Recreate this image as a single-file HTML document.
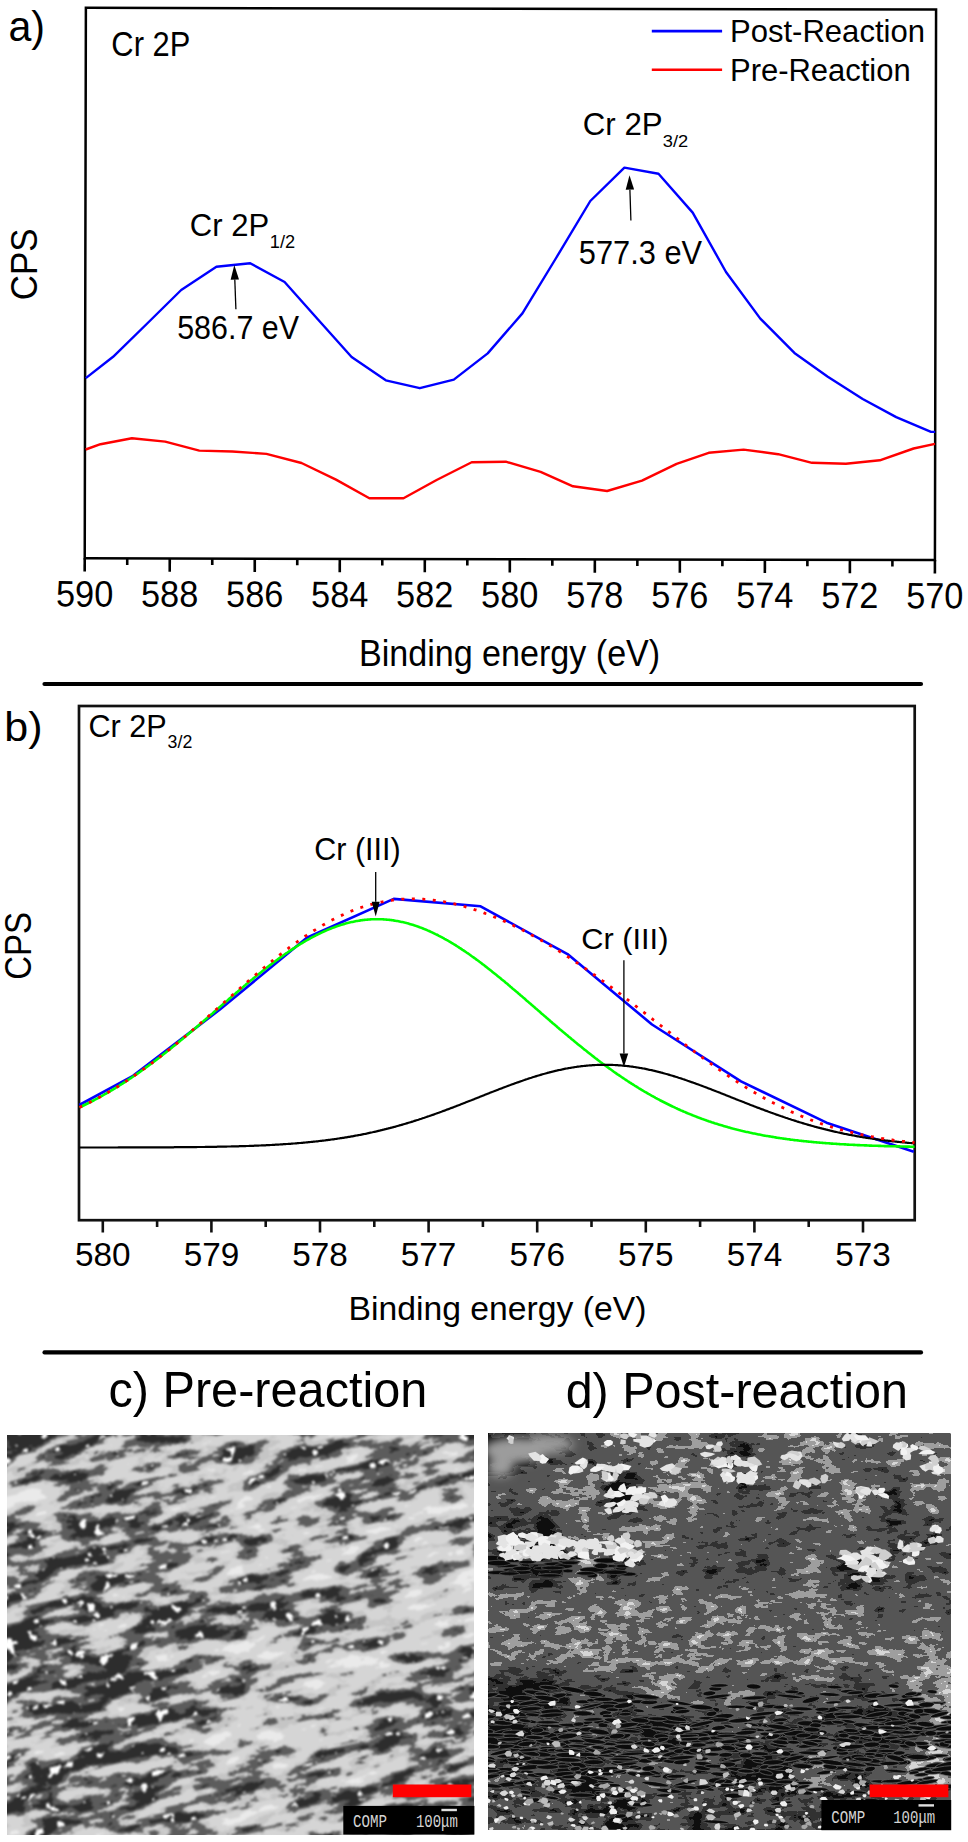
<!DOCTYPE html>
<html><head><meta charset="utf-8"><style>
html,body{margin:0;padding:0;background:#fff;}
body{width:968px;height:1842px;overflow:hidden;position:relative;}
svg{position:absolute;left:0;top:0;display:block;}
</style></head><body>
<svg style="position:absolute;left:6.8px;top:1435.2px" width="467.7" height="400.3" viewBox="0 0 467.7 400.3"><defs><filter id="fc" x="-134" y="-168" width="736" height="736" filterUnits="userSpaceOnUse" color-interpolation-filters="sRGB">
<feGaussianBlur in="SourceGraphic" stdDeviation="9" result="b"/>
<feTurbulence type="fractalNoise" baseFrequency="0.024 0.07" numOctaves="4" seed="11" result="t"/>
<feColorMatrix in="t" type="matrix" values="1 0 0 0 0 1 0 0 0 0 1 0 0 0 0 0 0 0 0 1" result="tg"/>
<feComposite in="b" in2="tg" operator="arithmetic" k1="0" k2="1" k3="1.6" k4="-0.8" result="v"/>
<feComponentTransfer in="v" result="q"><feFuncR type="discrete" tableValues="0.180 0.180 0.180 0.180 0.180 0.180 0.180 0.180 0.180 0.180 0.180 0.180 0.180 0.180 0.180 0.180 0.180 0.180 0.180 0.361 0.361 0.361 0.361 0.361 0.361 0.361 0.361 0.361 0.361 0.361 0.361 0.361 0.776 0.776 0.776 0.776 0.776 0.776 0.776 0.776 0.839 0.839 0.839 0.839 0.839 0.839 0.839 0.839 0.839 0.839 0.839 0.839 0.839 0.839 0.839 0.839 0.839 0.839 0.839 0.839 0.839 0.918 0.918 0.918"/><feFuncG type="discrete" tableValues="0.180 0.180 0.180 0.180 0.180 0.180 0.180 0.180 0.180 0.180 0.180 0.180 0.180 0.180 0.180 0.180 0.180 0.180 0.180 0.361 0.361 0.361 0.361 0.361 0.361 0.361 0.361 0.361 0.361 0.361 0.361 0.361 0.776 0.776 0.776 0.776 0.776 0.776 0.776 0.776 0.839 0.839 0.839 0.839 0.839 0.839 0.839 0.839 0.839 0.839 0.839 0.839 0.839 0.839 0.839 0.839 0.839 0.839 0.839 0.839 0.839 0.918 0.918 0.918"/><feFuncB type="discrete" tableValues="0.180 0.180 0.180 0.180 0.180 0.180 0.180 0.180 0.180 0.180 0.180 0.180 0.180 0.180 0.180 0.180 0.180 0.180 0.180 0.361 0.361 0.361 0.361 0.361 0.361 0.361 0.361 0.361 0.361 0.361 0.361 0.361 0.776 0.776 0.776 0.776 0.776 0.776 0.776 0.776 0.839 0.839 0.839 0.839 0.839 0.839 0.839 0.839 0.839 0.839 0.839 0.839 0.839 0.839 0.839 0.839 0.839 0.839 0.839 0.839 0.839 0.918 0.918 0.918"/><feFuncA type="linear" slope="0" intercept="1"/></feComponentTransfer>
<feComponentTransfer in="v" result="dm"><feFuncR type="discrete" tableValues="1 1 1 1 1 1 1 1 1 1 1 1 0 0 0 0 0 0 0 0 0 0 0 0 0 0 0 0 0 0 0 0 0 0 0 0 0 0 0 0"/><feFuncG type="discrete" tableValues="1 1 1 1 1 1 1 1 1 1 1 1 0 0 0 0 0 0 0 0 0 0 0 0 0 0 0 0 0 0 0 0 0 0 0 0 0 0 0 0"/><feFuncB type="discrete" tableValues="1 1 1 1 1 1 1 1 1 1 1 1 0 0 0 0 0 0 0 0 0 0 0 0 0 0 0 0 0 0 0 0 0 0 0 0 0 0 0 0"/><feFuncA type="linear" slope="0" intercept="1"/></feComponentTransfer><feTurbulence type="fractalNoise" baseFrequency="0.09" numOctaves="2" seed="18" result="t2"/><feColorMatrix in="t2" type="matrix" values="1 0 0 0 0 1 0 0 0 0 1 0 0 0 0 0 0 0 0 1" result="t2g"/><feComponentTransfer in="t2g" result="dd"><feFuncR type="discrete" tableValues="0 0 0 0 0 0 0 0 0 0 0 0 0 0 0 0 0 0 0 0 0 0 0 0 0 0 1 1 1 1 1 1 1 1 1 1 1 1 1 1"/><feFuncG type="discrete" tableValues="0 0 0 0 0 0 0 0 0 0 0 0 0 0 0 0 0 0 0 0 0 0 0 0 0 0 1 1 1 1 1 1 1 1 1 1 1 1 1 1"/><feFuncB type="discrete" tableValues="0 0 0 0 0 0 0 0 0 0 0 0 0 0 0 0 0 0 0 0 0 0 0 0 0 0 1 1 1 1 1 1 1 1 1 1 1 1 1 1"/></feComponentTransfer><feComposite in="dm" in2="dd" operator="arithmetic" k1="1" k2="0" k3="0" k4="0" result="wd"/><feComposite in="wd" in2="q" operator="arithmetic" k1="-1" k2="1.0" k3="1" k4="0" result="q2"/><feGaussianBlur stdDeviation="0.8"/>
</filter></defs><g transform="rotate(-12 233.8 200.2)" filter="url(#fc)"><rect x="6" y="-88" width="21" height="21" fill="rgb(59,59,59)"/><rect x="26" y="-88" width="21" height="21" fill="rgb(59,59,59)"/><rect x="46" y="-88" width="21" height="21" fill="rgb(59,59,59)"/><rect x="66" y="-88" width="21" height="21" fill="rgb(61,61,61)"/><rect x="6" y="-68" width="21" height="21" fill="rgb(59,59,59)"/><rect x="26" y="-68" width="21" height="21" fill="rgb(59,59,59)"/><rect x="46" y="-68" width="21" height="21" fill="rgb(59,59,59)"/><rect x="66" y="-68" width="21" height="21" fill="rgb(66,66,66)"/><rect x="86" y="-68" width="21" height="21" fill="rgb(88,88,88)"/><rect x="106" y="-68" width="21" height="21" fill="rgb(109,109,109)"/><rect x="126" y="-68" width="21" height="21" fill="rgb(131,131,131)"/><rect x="146" y="-68" width="21" height="21" fill="rgb(143,143,143)"/><rect x="6" y="-48" width="21" height="21" fill="rgb(59,59,59)"/><rect x="26" y="-48" width="21" height="21" fill="rgb(59,59,59)"/><rect x="46" y="-48" width="21" height="21" fill="rgb(59,59,59)"/><rect x="66" y="-48" width="21" height="21" fill="rgb(71,71,71)"/><rect x="86" y="-48" width="21" height="21" fill="rgb(92,92,92)"/><rect x="106" y="-48" width="21" height="21" fill="rgb(114,114,114)"/><rect x="126" y="-48" width="21" height="21" fill="rgb(135,135,135)"/><rect x="146" y="-48" width="21" height="21" fill="rgb(142,142,142)"/><rect x="166" y="-48" width="21" height="21" fill="rgb(136,136,136)"/><rect x="186" y="-48" width="21" height="21" fill="rgb(131,131,131)"/><rect x="206" y="-48" width="21" height="21" fill="rgb(125,125,125)"/><rect x="226" y="-48" width="21" height="21" fill="rgb(125,125,125)"/><rect x="246" y="-48" width="21" height="21" fill="rgb(129,129,129)"/><rect x="6" y="-28" width="21" height="21" fill="rgb(122,122,122)"/><rect x="26" y="-28" width="21" height="21" fill="rgb(101,101,101)"/><rect x="46" y="-28" width="21" height="21" fill="rgb(80,80,80)"/><rect x="66" y="-28" width="21" height="21" fill="rgb(75,75,75)"/><rect x="86" y="-28" width="21" height="21" fill="rgb(97,97,97)"/><rect x="106" y="-28" width="21" height="21" fill="rgb(118,118,118)"/><rect x="126" y="-28" width="21" height="21" fill="rgb(140,140,140)"/><rect x="146" y="-28" width="21" height="21" fill="rgb(141,141,141)"/><rect x="166" y="-28" width="21" height="21" fill="rgb(135,135,135)"/><rect x="186" y="-28" width="21" height="21" fill="rgb(129,129,129)"/><rect x="206" y="-28" width="21" height="21" fill="rgb(124,124,124)"/><rect x="226" y="-28" width="21" height="21" fill="rgb(126,126,126)"/><rect x="246" y="-28" width="21" height="21" fill="rgb(130,130,130)"/><rect x="266" y="-28" width="21" height="21" fill="rgb(141,141,141)"/><rect x="286" y="-28" width="21" height="21" fill="rgb(154,154,154)"/><rect x="306" y="-28" width="21" height="21" fill="rgb(117,117,117)"/><rect x="326" y="-28" width="21" height="21" fill="rgb(67,67,67)"/><rect x="346" y="-28" width="21" height="21" fill="rgb(110,110,110)"/><rect x="-14" y="-8" width="21" height="21" fill="rgb(243,243,243)"/><rect x="6" y="-8" width="21" height="21" fill="rgb(222,222,222)"/><rect x="26" y="-8" width="21" height="21" fill="rgb(201,201,201)"/><rect x="46" y="-8" width="21" height="21" fill="rgb(180,180,180)"/><rect x="66" y="-8" width="21" height="21" fill="rgb(134,134,134)"/><rect x="86" y="-8" width="21" height="21" fill="rgb(108,108,108)"/><rect x="106" y="-8" width="21" height="21" fill="rgb(120,120,120)"/><rect x="126" y="-8" width="21" height="21" fill="rgb(138,138,138)"/><rect x="146" y="-8" width="21" height="21" fill="rgb(138,138,138)"/><rect x="166" y="-8" width="21" height="21" fill="rgb(134,134,134)"/><rect x="186" y="-8" width="21" height="21" fill="rgb(128,128,128)"/><rect x="206" y="-8" width="21" height="21" fill="rgb(122,122,122)"/><rect x="226" y="-8" width="21" height="21" fill="rgb(126,126,126)"/><rect x="246" y="-8" width="21" height="21" fill="rgb(131,131,131)"/><rect x="266" y="-8" width="21" height="21" fill="rgb(143,143,143)"/><rect x="286" y="-8" width="21" height="21" fill="rgb(156,156,156)"/><rect x="306" y="-8" width="21" height="21" fill="rgb(106,106,106)"/><rect x="326" y="-8" width="21" height="21" fill="rgb(59,59,59)"/><rect x="346" y="-8" width="21" height="21" fill="rgb(124,124,124)"/><rect x="366" y="-8" width="21" height="21" fill="rgb(186,186,186)"/><rect x="386" y="-8" width="21" height="21" fill="rgb(130,130,130)"/><rect x="406" y="-8" width="21" height="21" fill="rgb(77,77,77)"/><rect x="426" y="-8" width="21" height="21" fill="rgb(106,106,106)"/><rect x="446" y="-8" width="21" height="21" fill="rgb(132,132,132)"/><rect x="-14" y="12" width="21" height="21" fill="rgb(183,183,183)"/><rect x="6" y="12" width="21" height="21" fill="rgb(204,204,204)"/><rect x="26" y="12" width="21" height="21" fill="rgb(226,226,226)"/><rect x="46" y="12" width="21" height="21" fill="rgb(236,236,236)"/><rect x="66" y="12" width="21" height="21" fill="rgb(174,174,174)"/><rect x="86" y="12" width="21" height="21" fill="rgb(115,115,115)"/><rect x="106" y="12" width="21" height="21" fill="rgb(116,116,116)"/><rect x="126" y="12" width="21" height="21" fill="rgb(122,122,122)"/><rect x="146" y="12" width="21" height="21" fill="rgb(128,128,128)"/><rect x="166" y="12" width="21" height="21" fill="rgb(131,131,131)"/><rect x="186" y="12" width="21" height="21" fill="rgb(131,131,131)"/><rect x="206" y="12" width="21" height="21" fill="rgb(129,129,129)"/><rect x="226" y="12" width="21" height="21" fill="rgb(134,134,134)"/><rect x="246" y="12" width="21" height="21" fill="rgb(135,135,135)"/><rect x="266" y="12" width="21" height="21" fill="rgb(146,146,146)"/><rect x="286" y="12" width="21" height="21" fill="rgb(145,145,145)"/><rect x="306" y="12" width="21" height="21" fill="rgb(96,96,96)"/><rect x="326" y="12" width="21" height="21" fill="rgb(73,73,73)"/><rect x="346" y="12" width="21" height="21" fill="rgb(138,138,138)"/><rect x="366" y="12" width="21" height="21" fill="rgb(174,174,174)"/><rect x="386" y="12" width="21" height="21" fill="rgb(118,118,118)"/><rect x="406" y="12" width="21" height="21" fill="rgb(83,83,83)"/><rect x="426" y="12" width="21" height="21" fill="rgb(112,112,112)"/><rect x="446" y="12" width="21" height="21" fill="rgb(125,125,125)"/><rect x="466" y="12" width="21" height="21" fill="rgb(91,91,91)"/><rect x="486" y="12" width="21" height="21" fill="rgb(67,67,67)"/><rect x="506" y="12" width="21" height="21" fill="rgb(67,67,67)"/><rect x="526" y="12" width="21" height="21" fill="rgb(67,67,67)"/><rect x="-14" y="32" width="21" height="21" fill="rgb(82,82,82)"/><rect x="6" y="32" width="21" height="21" fill="rgb(103,103,103)"/><rect x="26" y="32" width="21" height="21" fill="rgb(125,125,125)"/><rect x="46" y="32" width="21" height="21" fill="rgb(142,142,142)"/><rect x="66" y="32" width="21" height="21" fill="rgb(137,137,137)"/><rect x="86" y="32" width="21" height="21" fill="rgb(118,118,118)"/><rect x="106" y="32" width="21" height="21" fill="rgb(110,110,110)"/><rect x="126" y="32" width="21" height="21" fill="rgb(112,112,112)"/><rect x="146" y="32" width="21" height="21" fill="rgb(122,122,122)"/><rect x="166" y="32" width="21" height="21" fill="rgb(131,131,131)"/><rect x="186" y="32" width="21" height="21" fill="rgb(137,137,137)"/><rect x="206" y="32" width="21" height="21" fill="rgb(145,145,145)"/><rect x="226" y="32" width="21" height="21" fill="rgb(158,158,158)"/><rect x="246" y="32" width="21" height="21" fill="rgb(159,159,159)"/><rect x="266" y="32" width="21" height="21" fill="rgb(151,151,151)"/><rect x="286" y="32" width="21" height="21" fill="rgb(138,138,138)"/><rect x="306" y="32" width="21" height="21" fill="rgb(100,100,100)"/><rect x="326" y="32" width="21" height="21" fill="rgb(93,93,93)"/><rect x="346" y="32" width="21" height="21" fill="rgb(151,151,151)"/><rect x="366" y="32" width="21" height="21" fill="rgb(162,162,162)"/><rect x="386" y="32" width="21" height="21" fill="rgb(107,107,107)"/><rect x="406" y="32" width="21" height="21" fill="rgb(90,90,90)"/><rect x="426" y="32" width="21" height="21" fill="rgb(118,118,118)"/><rect x="446" y="32" width="21" height="21" fill="rgb(118,118,118)"/><rect x="466" y="32" width="21" height="21" fill="rgb(84,84,84)"/><rect x="486" y="32" width="21" height="21" fill="rgb(67,67,67)"/><rect x="506" y="32" width="21" height="21" fill="rgb(67,67,67)"/><rect x="526" y="32" width="21" height="21" fill="rgb(67,67,67)"/><rect x="-14" y="52" width="21" height="21" fill="rgb(75,75,75)"/><rect x="6" y="52" width="21" height="21" fill="rgb(70,70,70)"/><rect x="26" y="52" width="21" height="21" fill="rgb(65,65,65)"/><rect x="46" y="52" width="21" height="21" fill="rgb(81,81,81)"/><rect x="66" y="52" width="21" height="21" fill="rgb(118,118,118)"/><rect x="86" y="52" width="21" height="21" fill="rgb(119,119,119)"/><rect x="106" y="52" width="21" height="21" fill="rgb(105,105,105)"/><rect x="126" y="52" width="21" height="21" fill="rgb(108,108,108)"/><rect x="146" y="52" width="21" height="21" fill="rgb(120,120,120)"/><rect x="166" y="52" width="21" height="21" fill="rgb(123,123,123)"/><rect x="186" y="52" width="21" height="21" fill="rgb(125,125,125)"/><rect x="206" y="52" width="21" height="21" fill="rgb(143,143,143)"/><rect x="226" y="52" width="21" height="21" fill="rgb(171,171,171)"/><rect x="246" y="52" width="21" height="21" fill="rgb(173,173,173)"/><rect x="266" y="52" width="21" height="21" fill="rgb(150,150,150)"/><rect x="286" y="52" width="21" height="21" fill="rgb(142,142,142)"/><rect x="306" y="52" width="21" height="21" fill="rgb(131,131,131)"/><rect x="326" y="52" width="21" height="21" fill="rgb(126,126,126)"/><rect x="346" y="52" width="21" height="21" fill="rgb(143,143,143)"/><rect x="366" y="52" width="21" height="21" fill="rgb(137,137,137)"/><rect x="386" y="52" width="21" height="21" fill="rgb(102,102,102)"/><rect x="406" y="52" width="21" height="21" fill="rgb(101,101,101)"/><rect x="426" y="52" width="21" height="21" fill="rgb(125,125,125)"/><rect x="446" y="52" width="21" height="21" fill="rgb(110,110,110)"/><rect x="466" y="52" width="21" height="21" fill="rgb(77,77,77)"/><rect x="486" y="52" width="21" height="21" fill="rgb(67,67,67)"/><rect x="506" y="52" width="21" height="21" fill="rgb(67,67,67)"/><rect x="526" y="52" width="21" height="21" fill="rgb(67,67,67)"/><rect x="-14" y="72" width="21" height="21" fill="rgb(99,99,99)"/><rect x="6" y="72" width="21" height="21" fill="rgb(94,94,94)"/><rect x="26" y="72" width="21" height="21" fill="rgb(89,89,89)"/><rect x="46" y="72" width="21" height="21" fill="rgb(100,100,100)"/><rect x="66" y="72" width="21" height="21" fill="rgb(121,121,121)"/><rect x="86" y="72" width="21" height="21" fill="rgb(119,119,119)"/><rect x="106" y="72" width="21" height="21" fill="rgb(106,106,106)"/><rect x="126" y="72" width="21" height="21" fill="rgb(108,108,108)"/><rect x="146" y="72" width="21" height="21" fill="rgb(119,119,119)"/><rect x="166" y="72" width="21" height="21" fill="rgb(110,110,110)"/><rect x="186" y="72" width="21" height="21" fill="rgb(100,100,100)"/><rect x="206" y="72" width="21" height="21" fill="rgb(113,113,113)"/><rect x="226" y="72" width="21" height="21" fill="rgb(132,132,132)"/><rect x="246" y="72" width="21" height="21" fill="rgb(149,149,149)"/><rect x="266" y="72" width="21" height="21" fill="rgb(152,152,152)"/><rect x="286" y="72" width="21" height="21" fill="rgb(154,154,154)"/><rect x="306" y="72" width="21" height="21" fill="rgb(157,157,157)"/><rect x="326" y="72" width="21" height="21" fill="rgb(141,141,141)"/><rect x="346" y="72" width="21" height="21" fill="rgb(117,117,117)"/><rect x="366" y="72" width="21" height="21" fill="rgb(119,119,119)"/><rect x="386" y="72" width="21" height="21" fill="rgb(112,112,112)"/><rect x="406" y="72" width="21" height="21" fill="rgb(118,118,118)"/><rect x="426" y="72" width="21" height="21" fill="rgb(131,131,131)"/><rect x="446" y="72" width="21" height="21" fill="rgb(131,131,131)"/><rect x="466" y="72" width="21" height="21" fill="rgb(116,116,116)"/><rect x="486" y="72" width="21" height="21" fill="rgb(101,101,101)"/><rect x="506" y="72" width="21" height="21" fill="rgb(87,87,87)"/><rect x="526" y="72" width="21" height="21" fill="rgb(73,73,73)"/><rect x="-34" y="92" width="21" height="21" fill="rgb(112,112,112)"/><rect x="-14" y="92" width="21" height="21" fill="rgb(110,110,110)"/><rect x="6" y="92" width="21" height="21" fill="rgb(109,109,109)"/><rect x="26" y="92" width="21" height="21" fill="rgb(107,107,107)"/><rect x="46" y="92" width="21" height="21" fill="rgb(111,111,111)"/><rect x="66" y="92" width="21" height="21" fill="rgb(119,119,119)"/><rect x="86" y="92" width="21" height="21" fill="rgb(122,122,122)"/><rect x="106" y="92" width="21" height="21" fill="rgb(120,120,120)"/><rect x="126" y="92" width="21" height="21" fill="rgb(109,109,109)"/><rect x="146" y="92" width="21" height="21" fill="rgb(106,106,106)"/><rect x="166" y="92" width="21" height="21" fill="rgb(114,114,114)"/><rect x="186" y="92" width="21" height="21" fill="rgb(112,112,112)"/><rect x="206" y="92" width="21" height="21" fill="rgb(125,125,125)"/><rect x="226" y="92" width="21" height="21" fill="rgb(122,122,122)"/><rect x="246" y="92" width="21" height="21" fill="rgb(137,137,137)"/><rect x="266" y="92" width="21" height="21" fill="rgb(166,166,166)"/><rect x="286" y="92" width="21" height="21" fill="rgb(163,163,163)"/><rect x="306" y="92" width="21" height="21" fill="rgb(162,162,162)"/><rect x="326" y="92" width="21" height="21" fill="rgb(161,161,161)"/><rect x="346" y="92" width="21" height="21" fill="rgb(151,151,151)"/><rect x="366" y="92" width="21" height="21" fill="rgb(136,136,136)"/><rect x="386" y="92" width="21" height="21" fill="rgb(128,128,128)"/><rect x="406" y="92" width="21" height="21" fill="rgb(136,136,136)"/><rect x="426" y="92" width="21" height="21" fill="rgb(140,140,140)"/><rect x="446" y="92" width="21" height="21" fill="rgb(167,167,167)"/><rect x="466" y="92" width="21" height="21" fill="rgb(180,180,180)"/><rect x="486" y="92" width="21" height="21" fill="rgb(166,166,166)"/><rect x="506" y="92" width="21" height="21" fill="rgb(152,152,152)"/><rect x="-34" y="112" width="21" height="21" fill="rgb(118,118,118)"/><rect x="-14" y="112" width="21" height="21" fill="rgb(117,117,117)"/><rect x="6" y="112" width="21" height="21" fill="rgb(115,115,115)"/><rect x="26" y="112" width="21" height="21" fill="rgb(108,108,108)"/><rect x="46" y="112" width="21" height="21" fill="rgb(86,86,86)"/><rect x="66" y="112" width="21" height="21" fill="rgb(88,88,88)"/><rect x="86" y="112" width="21" height="21" fill="rgb(125,125,125)"/><rect x="106" y="112" width="21" height="21" fill="rgb(136,136,136)"/><rect x="126" y="112" width="21" height="21" fill="rgb(110,110,110)"/><rect x="146" y="112" width="21" height="21" fill="rgb(100,100,100)"/><rect x="166" y="112" width="21" height="21" fill="rgb(131,131,131)"/><rect x="186" y="112" width="21" height="21" fill="rgb(163,163,163)"/><rect x="206" y="112" width="21" height="21" fill="rgb(211,211,211)"/><rect x="226" y="112" width="21" height="21" fill="rgb(210,210,210)"/><rect x="246" y="112" width="21" height="21" fill="rgb(142,142,142)"/><rect x="266" y="112" width="21" height="21" fill="rgb(124,124,124)"/><rect x="286" y="112" width="21" height="21" fill="rgb(146,146,146)"/><rect x="306" y="112" width="21" height="21" fill="rgb(164,164,164)"/><rect x="326" y="112" width="21" height="21" fill="rgb(184,184,184)"/><rect x="346" y="112" width="21" height="21" fill="rgb(183,183,183)"/><rect x="366" y="112" width="21" height="21" fill="rgb(155,155,155)"/><rect x="386" y="112" width="21" height="21" fill="rgb(147,147,147)"/><rect x="406" y="112" width="21" height="21" fill="rgb(169,169,169)"/><rect x="426" y="112" width="21" height="21" fill="rgb(175,175,175)"/><rect x="446" y="112" width="21" height="21" fill="rgb(167,167,167)"/><rect x="466" y="112" width="21" height="21" fill="rgb(174,174,174)"/><rect x="486" y="112" width="21" height="21" fill="rgb(182,182,182)"/><rect x="506" y="112" width="21" height="21" fill="rgb(190,190,190)"/><rect x="-34" y="132" width="21" height="21" fill="rgb(90,90,90)"/><rect x="-14" y="132" width="21" height="21" fill="rgb(97,97,97)"/><rect x="6" y="132" width="21" height="21" fill="rgb(104,104,104)"/><rect x="26" y="132" width="21" height="21" fill="rgb(97,97,97)"/><rect x="46" y="132" width="21" height="21" fill="rgb(52,52,52)"/><rect x="66" y="132" width="21" height="21" fill="rgb(68,68,68)"/><rect x="86" y="132" width="21" height="21" fill="rgb(140,140,140)"/><rect x="106" y="132" width="21" height="21" fill="rgb(159,159,159)"/><rect x="126" y="132" width="21" height="21" fill="rgb(130,130,130)"/><rect x="146" y="132" width="21" height="21" fill="rgb(105,105,105)"/><rect x="166" y="132" width="21" height="21" fill="rgb(99,99,99)"/><rect x="186" y="132" width="21" height="21" fill="rgb(143,143,143)"/><rect x="206" y="132" width="21" height="21" fill="rgb(232,232,232)"/><rect x="226" y="132" width="21" height="21" fill="rgb(236,236,236)"/><rect x="246" y="132" width="21" height="21" fill="rgb(110,110,110)"/><rect x="266" y="132" width="21" height="21" fill="rgb(73,73,73)"/><rect x="286" y="132" width="21" height="21" fill="rgb(116,116,116)"/><rect x="306" y="132" width="21" height="21" fill="rgb(156,156,156)"/><rect x="326" y="132" width="21" height="21" fill="rgb(194,194,194)"/><rect x="346" y="132" width="21" height="21" fill="rgb(177,177,177)"/><rect x="366" y="132" width="21" height="21" fill="rgb(125,125,125)"/><rect x="386" y="132" width="21" height="21" fill="rgb(136,136,136)"/><rect x="406" y="132" width="21" height="21" fill="rgb(188,188,188)"/><rect x="426" y="132" width="21" height="21" fill="rgb(190,190,190)"/><rect x="446" y="132" width="21" height="21" fill="rgb(148,148,148)"/><rect x="466" y="132" width="21" height="21" fill="rgb(138,138,138)"/><rect x="486" y="132" width="21" height="21" fill="rgb(145,145,145)"/><rect x="506" y="132" width="21" height="21" fill="rgb(153,153,153)"/><rect x="-34" y="152" width="21" height="21" fill="rgb(57,57,57)"/><rect x="-14" y="152" width="21" height="21" fill="rgb(64,64,64)"/><rect x="6" y="152" width="21" height="21" fill="rgb(71,71,71)"/><rect x="26" y="152" width="21" height="21" fill="rgb(99,99,99)"/><rect x="46" y="152" width="21" height="21" fill="rgb(114,114,114)"/><rect x="66" y="152" width="21" height="21" fill="rgb(112,112,112)"/><rect x="86" y="152" width="21" height="21" fill="rgb(138,138,138)"/><rect x="106" y="152" width="21" height="21" fill="rgb(150,150,150)"/><rect x="126" y="152" width="21" height="21" fill="rgb(139,139,139)"/><rect x="146" y="152" width="21" height="21" fill="rgb(88,88,88)"/><rect x="166" y="152" width="21" height="21" fill="rgb(34,34,34)"/><rect x="186" y="152" width="21" height="21" fill="rgb(53,53,53)"/><rect x="206" y="152" width="21" height="21" fill="rgb(110,110,110)"/><rect x="226" y="152" width="21" height="21" fill="rgb(127,127,127)"/><rect x="246" y="152" width="21" height="21" fill="rgb(89,89,89)"/><rect x="266" y="152" width="21" height="21" fill="rgb(88,88,88)"/><rect x="286" y="152" width="21" height="21" fill="rgb(117,117,117)"/><rect x="306" y="152" width="21" height="21" fill="rgb(147,147,147)"/><rect x="326" y="152" width="21" height="21" fill="rgb(201,201,201)"/><rect x="346" y="152" width="21" height="21" fill="rgb(151,151,151)"/><rect x="366" y="152" width="21" height="21" fill="rgb(63,63,63)"/><rect x="386" y="152" width="21" height="21" fill="rgb(96,96,96)"/><rect x="406" y="152" width="21" height="21" fill="rgb(163,163,163)"/><rect x="426" y="152" width="21" height="21" fill="rgb(178,178,178)"/><rect x="446" y="152" width="21" height="21" fill="rgb(164,164,164)"/><rect x="466" y="152" width="21" height="21" fill="rgb(151,151,151)"/><rect x="486" y="152" width="21" height="21" fill="rgb(143,143,143)"/><rect x="506" y="152" width="21" height="21" fill="rgb(134,134,134)"/><rect x="-34" y="172" width="21" height="21" fill="rgb(62,62,62)"/><rect x="-14" y="172" width="21" height="21" fill="rgb(59,59,59)"/><rect x="6" y="172" width="21" height="21" fill="rgb(57,57,57)"/><rect x="26" y="172" width="21" height="21" fill="rgb(117,117,117)"/><rect x="46" y="172" width="21" height="21" fill="rgb(202,202,202)"/><rect x="66" y="172" width="21" height="21" fill="rgb(138,138,138)"/><rect x="86" y="172" width="21" height="21" fill="rgb(89,89,89)"/><rect x="106" y="172" width="21" height="21" fill="rgb(100,100,100)"/><rect x="126" y="172" width="21" height="21" fill="rgb(107,107,107)"/><rect x="146" y="172" width="21" height="21" fill="rgb(103,103,103)"/><rect x="166" y="172" width="21" height="21" fill="rgb(73,73,73)"/><rect x="186" y="172" width="21" height="21" fill="rgb(59,59,59)"/><rect x="206" y="172" width="21" height="21" fill="rgb(50,50,50)"/><rect x="226" y="172" width="21" height="21" fill="rgb(74,74,74)"/><rect x="246" y="172" width="21" height="21" fill="rgb(108,108,108)"/><rect x="266" y="172" width="21" height="21" fill="rgb(120,120,120)"/><rect x="286" y="172" width="21" height="21" fill="rgb(136,136,136)"/><rect x="306" y="172" width="21" height="21" fill="rgb(99,99,99)"/><rect x="326" y="172" width="21" height="21" fill="rgb(86,86,86)"/><rect x="346" y="172" width="21" height="21" fill="rgb(96,96,96)"/><rect x="366" y="172" width="21" height="21" fill="rgb(65,65,65)"/><rect x="386" y="172" width="21" height="21" fill="rgb(111,111,111)"/><rect x="406" y="172" width="21" height="21" fill="rgb(165,165,165)"/><rect x="426" y="172" width="21" height="21" fill="rgb(181,181,181)"/><rect x="446" y="172" width="21" height="21" fill="rgb(201,201,201)"/><rect x="466" y="172" width="21" height="21" fill="rgb(193,193,193)"/><rect x="486" y="172" width="21" height="21" fill="rgb(184,184,184)"/><rect x="506" y="172" width="21" height="21" fill="rgb(175,175,175)"/><rect x="-54" y="192" width="21" height="21" fill="rgb(77,77,77)"/><rect x="-34" y="192" width="21" height="21" fill="rgb(74,74,74)"/><rect x="-14" y="192" width="21" height="21" fill="rgb(72,72,72)"/><rect x="6" y="192" width="21" height="21" fill="rgb(70,70,70)"/><rect x="26" y="192" width="21" height="21" fill="rgb(87,87,87)"/><rect x="46" y="192" width="21" height="21" fill="rgb(120,120,120)"/><rect x="66" y="192" width="21" height="21" fill="rgb(93,93,93)"/><rect x="86" y="192" width="21" height="21" fill="rgb(56,56,56)"/><rect x="106" y="192" width="21" height="21" fill="rgb(75,75,75)"/><rect x="126" y="192" width="21" height="21" fill="rgb(94,94,94)"/><rect x="146" y="192" width="21" height="21" fill="rgb(146,146,146)"/><rect x="166" y="192" width="21" height="21" fill="rgb(171,171,171)"/><rect x="186" y="192" width="21" height="21" fill="rgb(158,158,158)"/><rect x="206" y="192" width="21" height="21" fill="rgb(150,150,150)"/><rect x="226" y="192" width="21" height="21" fill="rgb(170,170,170)"/><rect x="246" y="192" width="21" height="21" fill="rgb(182,182,182)"/><rect x="266" y="192" width="21" height="21" fill="rgb(140,140,140)"/><rect x="286" y="192" width="21" height="21" fill="rgb(119,119,119)"/><rect x="306" y="192" width="21" height="21" fill="rgb(56,56,56)"/><rect x="326" y="192" width="21" height="21" fill="rgb(0,0,0)"/><rect x="346" y="192" width="21" height="21" fill="rgb(77,77,77)"/><rect x="366" y="192" width="21" height="21" fill="rgb(141,141,141)"/><rect x="386" y="192" width="21" height="21" fill="rgb(186,186,186)"/><rect x="406" y="192" width="21" height="21" fill="rgb(222,222,222)"/><rect x="426" y="192" width="21" height="21" fill="rgb(203,203,203)"/><rect x="446" y="192" width="21" height="21" fill="rgb(199,199,199)"/><rect x="466" y="192" width="21" height="21" fill="rgb(202,202,202)"/><rect x="486" y="192" width="21" height="21" fill="rgb(204,204,204)"/><rect x="-54" y="212" width="21" height="21" fill="rgb(146,146,146)"/><rect x="-34" y="212" width="21" height="21" fill="rgb(131,131,131)"/><rect x="-14" y="212" width="21" height="21" fill="rgb(117,117,117)"/><rect x="6" y="212" width="21" height="21" fill="rgb(93,93,93)"/><rect x="26" y="212" width="21" height="21" fill="rgb(51,51,51)"/><rect x="46" y="212" width="21" height="21" fill="rgb(33,33,33)"/><rect x="66" y="212" width="21" height="21" fill="rgb(50,50,50)"/><rect x="86" y="212" width="21" height="21" fill="rgb(61,61,61)"/><rect x="106" y="212" width="21" height="21" fill="rgb(91,91,91)"/><rect x="126" y="212" width="21" height="21" fill="rgb(109,109,109)"/><rect x="146" y="212" width="21" height="21" fill="rgb(125,125,125)"/><rect x="166" y="212" width="21" height="21" fill="rgb(153,153,153)"/><rect x="186" y="212" width="21" height="21" fill="rgb(173,173,173)"/><rect x="206" y="212" width="21" height="21" fill="rgb(202,202,202)"/><rect x="226" y="212" width="21" height="21" fill="rgb(252,252,252)"/><rect x="246" y="212" width="21" height="21" fill="rgb(233,233,233)"/><rect x="266" y="212" width="21" height="21" fill="rgb(135,135,135)"/><rect x="286" y="212" width="21" height="21" fill="rgb(104,104,104)"/><rect x="306" y="212" width="21" height="21" fill="rgb(130,130,130)"/><rect x="326" y="212" width="21" height="21" fill="rgb(126,126,126)"/><rect x="346" y="212" width="21" height="21" fill="rgb(143,143,143)"/><rect x="366" y="212" width="21" height="21" fill="rgb(177,177,177)"/><rect x="386" y="212" width="21" height="21" fill="rgb(215,215,215)"/><rect x="406" y="212" width="21" height="21" fill="rgb(240,240,240)"/><rect x="426" y="212" width="21" height="21" fill="rgb(210,210,210)"/><rect x="446" y="212" width="21" height="21" fill="rgb(187,187,187)"/><rect x="466" y="212" width="21" height="21" fill="rgb(190,190,190)"/><rect x="486" y="212" width="21" height="21" fill="rgb(192,192,192)"/><rect x="-54" y="232" width="21" height="21" fill="rgb(216,216,216)"/><rect x="-34" y="232" width="21" height="21" fill="rgb(201,201,201)"/><rect x="-14" y="232" width="21" height="21" fill="rgb(187,187,187)"/><rect x="6" y="232" width="21" height="21" fill="rgb(154,154,154)"/><rect x="26" y="232" width="21" height="21" fill="rgb(106,106,106)"/><rect x="46" y="232" width="21" height="21" fill="rgb(74,74,74)"/><rect x="66" y="232" width="21" height="21" fill="rgb(62,62,62)"/><rect x="86" y="232" width="21" height="21" fill="rgb(73,73,73)"/><rect x="106" y="232" width="21" height="21" fill="rgb(105,105,105)"/><rect x="126" y="232" width="21" height="21" fill="rgb(106,106,106)"/><rect x="146" y="232" width="21" height="21" fill="rgb(80,80,80)"/><rect x="166" y="232" width="21" height="21" fill="rgb(83,83,83)"/><rect x="186" y="232" width="21" height="21" fill="rgb(101,101,101)"/><rect x="206" y="232" width="21" height="21" fill="rgb(124,124,124)"/><rect x="226" y="232" width="21" height="21" fill="rgb(155,155,155)"/><rect x="246" y="232" width="21" height="21" fill="rgb(172,172,172)"/><rect x="266" y="232" width="21" height="21" fill="rgb(140,140,140)"/><rect x="286" y="232" width="21" height="21" fill="rgb(140,140,140)"/><rect x="306" y="232" width="21" height="21" fill="rgb(213,213,213)"/><rect x="326" y="232" width="21" height="21" fill="rgb(241,241,241)"/><rect x="346" y="232" width="21" height="21" fill="rgb(196,196,196)"/><rect x="366" y="232" width="21" height="21" fill="rgb(171,171,171)"/><rect x="386" y="232" width="21" height="21" fill="rgb(163,163,163)"/><rect x="406" y="232" width="21" height="21" fill="rgb(171,171,171)"/><rect x="426" y="232" width="21" height="21" fill="rgb(170,170,170)"/><rect x="446" y="232" width="21" height="21" fill="rgb(168,168,168)"/><rect x="466" y="232" width="21" height="21" fill="rgb(173,173,173)"/><rect x="486" y="232" width="21" height="21" fill="rgb(177,177,177)"/><rect x="-54" y="252" width="21" height="21" fill="rgb(139,139,139)"/><rect x="-34" y="252" width="21" height="21" fill="rgb(157,157,157)"/><rect x="-14" y="252" width="21" height="21" fill="rgb(176,176,176)"/><rect x="6" y="252" width="21" height="21" fill="rgb(174,174,174)"/><rect x="26" y="252" width="21" height="21" fill="rgb(150,150,150)"/><rect x="46" y="252" width="21" height="21" fill="rgb(115,115,115)"/><rect x="66" y="252" width="21" height="21" fill="rgb(84,84,84)"/><rect x="86" y="252" width="21" height="21" fill="rgb(85,85,85)"/><rect x="106" y="252" width="21" height="21" fill="rgb(103,103,103)"/><rect x="126" y="252" width="21" height="21" fill="rgb(107,107,107)"/><rect x="146" y="252" width="21" height="21" fill="rgb(95,95,95)"/><rect x="166" y="252" width="21" height="21" fill="rgb(101,101,101)"/><rect x="186" y="252" width="21" height="21" fill="rgb(102,102,102)"/><rect x="206" y="252" width="21" height="21" fill="rgb(80,80,80)"/><rect x="226" y="252" width="21" height="21" fill="rgb(54,54,54)"/><rect x="246" y="252" width="21" height="21" fill="rgb(132,132,132)"/><rect x="266" y="252" width="21" height="21" fill="rgb(194,194,194)"/><rect x="286" y="252" width="21" height="21" fill="rgb(180,180,180)"/><rect x="306" y="252" width="21" height="21" fill="rgb(180,180,180)"/><rect x="326" y="252" width="21" height="21" fill="rgb(188,188,188)"/><rect x="346" y="252" width="21" height="21" fill="rgb(183,183,183)"/><rect x="366" y="252" width="21" height="21" fill="rgb(154,154,154)"/><rect x="386" y="252" width="21" height="21" fill="rgb(117,117,117)"/><rect x="406" y="252" width="21" height="21" fill="rgb(121,121,121)"/><rect x="426" y="252" width="21" height="21" fill="rgb(140,140,140)"/><rect x="446" y="252" width="21" height="21" fill="rgb(148,148,148)"/><rect x="466" y="252" width="21" height="21" fill="rgb(152,152,152)"/><rect x="486" y="252" width="21" height="21" fill="rgb(156,156,156)"/><rect x="-54" y="272" width="21" height="21" fill="rgb(54,54,54)"/><rect x="-34" y="272" width="21" height="21" fill="rgb(72,72,72)"/><rect x="-14" y="272" width="21" height="21" fill="rgb(90,90,90)"/><rect x="6" y="272" width="21" height="21" fill="rgb(120,120,120)"/><rect x="26" y="272" width="21" height="21" fill="rgb(134,134,134)"/><rect x="46" y="272" width="21" height="21" fill="rgb(112,112,112)"/><rect x="66" y="272" width="21" height="21" fill="rgb(86,86,86)"/><rect x="86" y="272" width="21" height="21" fill="rgb(87,87,87)"/><rect x="106" y="272" width="21" height="21" fill="rgb(93,93,93)"/><rect x="126" y="272" width="21" height="21" fill="rgb(117,117,117)"/><rect x="146" y="272" width="21" height="21" fill="rgb(132,132,132)"/><rect x="166" y="272" width="21" height="21" fill="rgb(175,175,175)"/><rect x="186" y="272" width="21" height="21" fill="rgb(205,205,205)"/><rect x="206" y="272" width="21" height="21" fill="rgb(176,176,176)"/><rect x="226" y="272" width="21" height="21" fill="rgb(148,148,148)"/><rect x="246" y="272" width="21" height="21" fill="rgb(166,166,166)"/><rect x="266" y="272" width="21" height="21" fill="rgb(215,215,215)"/><rect x="286" y="272" width="21" height="21" fill="rgb(178,178,178)"/><rect x="306" y="272" width="21" height="21" fill="rgb(128,128,128)"/><rect x="326" y="272" width="21" height="21" fill="rgb(147,147,147)"/><rect x="346" y="272" width="21" height="21" fill="rgb(167,167,167)"/><rect x="366" y="272" width="21" height="21" fill="rgb(140,140,140)"/><rect x="386" y="272" width="21" height="21" fill="rgb(110,110,110)"/><rect x="406" y="272" width="21" height="21" fill="rgb(110,110,110)"/><rect x="426" y="272" width="21" height="21" fill="rgb(115,115,115)"/><rect x="446" y="272" width="21" height="21" fill="rgb(121,121,121)"/><rect x="466" y="272" width="21" height="21" fill="rgb(127,127,127)"/><rect x="486" y="272" width="21" height="21" fill="rgb(133,133,133)"/><rect x="-74" y="292" width="21" height="21" fill="rgb(82,82,82)"/><rect x="-54" y="292" width="21" height="21" fill="rgb(75,75,75)"/><rect x="-34" y="292" width="21" height="21" fill="rgb(68,68,68)"/><rect x="-14" y="292" width="21" height="21" fill="rgb(65,65,65)"/><rect x="6" y="292" width="21" height="21" fill="rgb(92,92,92)"/><rect x="26" y="292" width="21" height="21" fill="rgb(123,123,123)"/><rect x="46" y="292" width="21" height="21" fill="rgb(105,105,105)"/><rect x="66" y="292" width="21" height="21" fill="rgb(86,86,86)"/><rect x="86" y="292" width="21" height="21" fill="rgb(78,78,78)"/><rect x="106" y="292" width="21" height="21" fill="rgb(81,81,81)"/><rect x="126" y="292" width="21" height="21" fill="rgb(115,115,115)"/><rect x="146" y="292" width="21" height="21" fill="rgb(144,144,144)"/><rect x="166" y="292" width="21" height="21" fill="rgb(176,176,176)"/><rect x="186" y="292" width="21" height="21" fill="rgb(224,224,224)"/><rect x="206" y="292" width="21" height="21" fill="rgb(239,239,239)"/><rect x="226" y="292" width="21" height="21" fill="rgb(233,233,233)"/><rect x="246" y="292" width="21" height="21" fill="rgb(185,185,185)"/><rect x="266" y="292" width="21" height="21" fill="rgb(168,168,168)"/><rect x="286" y="292" width="21" height="21" fill="rgb(158,158,158)"/><rect x="306" y="292" width="21" height="21" fill="rgb(143,143,143)"/><rect x="326" y="292" width="21" height="21" fill="rgb(150,150,150)"/><rect x="346" y="292" width="21" height="21" fill="rgb(155,155,155)"/><rect x="366" y="292" width="21" height="21" fill="rgb(133,133,133)"/><rect x="386" y="292" width="21" height="21" fill="rgb(111,111,111)"/><rect x="406" y="292" width="21" height="21" fill="rgb(95,95,95)"/><rect x="426" y="292" width="21" height="21" fill="rgb(87,87,87)"/><rect x="446" y="292" width="21" height="21" fill="rgb(93,93,93)"/><rect x="466" y="292" width="21" height="21" fill="rgb(99,99,99)"/><rect x="-74" y="312" width="21" height="21" fill="rgb(113,113,113)"/><rect x="-54" y="312" width="21" height="21" fill="rgb(108,108,108)"/><rect x="-34" y="312" width="21" height="21" fill="rgb(101,101,101)"/><rect x="-14" y="312" width="21" height="21" fill="rgb(92,92,92)"/><rect x="6" y="312" width="21" height="21" fill="rgb(91,91,91)"/><rect x="26" y="312" width="21" height="21" fill="rgb(106,106,106)"/><rect x="46" y="312" width="21" height="21" fill="rgb(122,122,122)"/><rect x="66" y="312" width="21" height="21" fill="rgb(111,111,111)"/><rect x="86" y="312" width="21" height="21" fill="rgb(81,81,81)"/><rect x="106" y="312" width="21" height="21" fill="rgb(79,79,79)"/><rect x="126" y="312" width="21" height="21" fill="rgb(117,117,117)"/><rect x="146" y="312" width="21" height="21" fill="rgb(127,127,127)"/><rect x="166" y="312" width="21" height="21" fill="rgb(107,107,107)"/><rect x="186" y="312" width="21" height="21" fill="rgb(124,124,124)"/><rect x="206" y="312" width="21" height="21" fill="rgb(160,160,160)"/><rect x="226" y="312" width="21" height="21" fill="rgb(176,176,176)"/><rect x="246" y="312" width="21" height="21" fill="rgb(165,165,165)"/><rect x="266" y="312" width="21" height="21" fill="rgb(150,150,150)"/><rect x="286" y="312" width="21" height="21" fill="rgb(147,147,147)"/><rect x="306" y="312" width="21" height="21" fill="rgb(151,151,151)"/><rect x="326" y="312" width="21" height="21" fill="rgb(152,152,152)"/><rect x="346" y="312" width="21" height="21" fill="rgb(148,148,148)"/><rect x="366" y="312" width="21" height="21" fill="rgb(134,134,134)"/><rect x="386" y="312" width="21" height="21" fill="rgb(117,117,117)"/><rect x="406" y="312" width="21" height="21" fill="rgb(101,101,101)"/><rect x="426" y="312" width="21" height="21" fill="rgb(92,92,92)"/><rect x="446" y="312" width="21" height="21" fill="rgb(90,90,90)"/><rect x="466" y="312" width="21" height="21" fill="rgb(88,88,88)"/><rect x="-74" y="332" width="21" height="21" fill="rgb(113,113,113)"/><rect x="-54" y="332" width="21" height="21" fill="rgb(113,113,113)"/><rect x="-34" y="332" width="21" height="21" fill="rgb(113,113,113)"/><rect x="-14" y="332" width="21" height="21" fill="rgb(100,100,100)"/><rect x="6" y="332" width="21" height="21" fill="rgb(79,79,79)"/><rect x="26" y="332" width="21" height="21" fill="rgb(106,106,106)"/><rect x="46" y="332" width="21" height="21" fill="rgb(160,160,160)"/><rect x="66" y="332" width="21" height="21" fill="rgb(147,147,147)"/><rect x="86" y="332" width="21" height="21" fill="rgb(102,102,102)"/><rect x="106" y="332" width="21" height="21" fill="rgb(99,99,99)"/><rect x="126" y="332" width="21" height="21" fill="rgb(124,124,124)"/><rect x="146" y="332" width="21" height="21" fill="rgb(118,118,118)"/><rect x="166" y="332" width="21" height="21" fill="rgb(82,82,82)"/><rect x="186" y="332" width="21" height="21" fill="rgb(80,80,80)"/><rect x="206" y="332" width="21" height="21" fill="rgb(105,105,105)"/><rect x="226" y="332" width="21" height="21" fill="rgb(130,130,130)"/><rect x="246" y="332" width="21" height="21" fill="rgb(151,151,151)"/><rect x="266" y="332" width="21" height="21" fill="rgb(143,143,143)"/><rect x="286" y="332" width="21" height="21" fill="rgb(130,130,130)"/><rect x="306" y="332" width="21" height="21" fill="rgb(141,141,141)"/><rect x="326" y="332" width="21" height="21" fill="rgb(157,157,157)"/><rect x="346" y="332" width="21" height="21" fill="rgb(145,145,145)"/><rect x="366" y="332" width="21" height="21" fill="rgb(126,126,126)"/><rect x="386" y="332" width="21" height="21" fill="rgb(117,117,117)"/><rect x="406" y="332" width="21" height="21" fill="rgb(107,107,107)"/><rect x="426" y="332" width="21" height="21" fill="rgb(100,100,100)"/><rect x="446" y="332" width="21" height="21" fill="rgb(99,99,99)"/><rect x="466" y="332" width="21" height="21" fill="rgb(97,97,97)"/><rect x="-74" y="352" width="21" height="21" fill="rgb(113,113,113)"/><rect x="-54" y="352" width="21" height="21" fill="rgb(113,113,113)"/><rect x="-34" y="352" width="21" height="21" fill="rgb(113,113,113)"/><rect x="-14" y="352" width="21" height="21" fill="rgb(96,96,96)"/><rect x="6" y="352" width="21" height="21" fill="rgb(75,75,75)"/><rect x="26" y="352" width="21" height="21" fill="rgb(119,119,119)"/><rect x="46" y="352" width="21" height="21" fill="rgb(180,180,180)"/><rect x="66" y="352" width="21" height="21" fill="rgb(154,154,154)"/><rect x="86" y="352" width="21" height="21" fill="rgb(108,108,108)"/><rect x="106" y="352" width="21" height="21" fill="rgb(112,112,112)"/><rect x="126" y="352" width="21" height="21" fill="rgb(127,127,127)"/><rect x="146" y="352" width="21" height="21" fill="rgb(125,125,125)"/><rect x="166" y="352" width="21" height="21" fill="rgb(111,111,111)"/><rect x="186" y="352" width="21" height="21" fill="rgb(125,125,125)"/><rect x="206" y="352" width="21" height="21" fill="rgb(148,148,148)"/><rect x="226" y="352" width="21" height="21" fill="rgb(148,148,148)"/><rect x="246" y="352" width="21" height="21" fill="rgb(152,152,152)"/><rect x="266" y="352" width="21" height="21" fill="rgb(138,138,138)"/><rect x="286" y="352" width="21" height="21" fill="rgb(117,117,117)"/><rect x="306" y="352" width="21" height="21" fill="rgb(137,137,137)"/><rect x="326" y="352" width="21" height="21" fill="rgb(170,170,170)"/><rect x="346" y="352" width="21" height="21" fill="rgb(137,137,137)"/><rect x="366" y="352" width="21" height="21" fill="rgb(101,101,101)"/><rect x="386" y="352" width="21" height="21" fill="rgb(102,102,102)"/><rect x="406" y="352" width="21" height="21" fill="rgb(104,104,104)"/><rect x="426" y="352" width="21" height="21" fill="rgb(104,104,104)"/><rect x="446" y="352" width="21" height="21" fill="rgb(103,103,103)"/><rect x="466" y="352" width="21" height="21" fill="rgb(103,103,103)"/><rect x="-74" y="372" width="21" height="21" fill="rgb(113,113,113)"/><rect x="-54" y="372" width="21" height="21" fill="rgb(113,113,113)"/><rect x="-34" y="372" width="21" height="21" fill="rgb(112,112,112)"/><rect x="-14" y="372" width="21" height="21" fill="rgb(91,91,91)"/><rect x="6" y="372" width="21" height="21" fill="rgb(71,71,71)"/><rect x="26" y="372" width="21" height="21" fill="rgb(132,132,132)"/><rect x="46" y="372" width="21" height="21" fill="rgb(190,190,190)"/><rect x="66" y="372" width="21" height="21" fill="rgb(144,144,144)"/><rect x="86" y="372" width="21" height="21" fill="rgb(100,100,100)"/><rect x="106" y="372" width="21" height="21" fill="rgb(115,115,115)"/><rect x="126" y="372" width="21" height="21" fill="rgb(130,130,130)"/><rect x="146" y="372" width="21" height="21" fill="rgb(129,129,129)"/><rect x="166" y="372" width="21" height="21" fill="rgb(129,129,129)"/><rect x="186" y="372" width="21" height="21" fill="rgb(157,157,157)"/><rect x="206" y="372" width="21" height="21" fill="rgb(183,183,183)"/><rect x="226" y="372" width="21" height="21" fill="rgb(163,163,163)"/><rect x="246" y="372" width="21" height="21" fill="rgb(149,149,149)"/><rect x="266" y="372" width="21" height="21" fill="rgb(140,140,140)"/><rect x="286" y="372" width="21" height="21" fill="rgb(128,128,128)"/><rect x="306" y="372" width="21" height="21" fill="rgb(131,131,131)"/><rect x="326" y="372" width="21" height="21" fill="rgb(143,143,143)"/><rect x="346" y="372" width="21" height="21" fill="rgb(129,129,129)"/><rect x="366" y="372" width="21" height="21" fill="rgb(100,100,100)"/><rect x="386" y="372" width="21" height="21" fill="rgb(101,101,101)"/><rect x="406" y="372" width="21" height="21" fill="rgb(106,106,106)"/><rect x="426" y="372" width="21" height="21" fill="rgb(106,106,106)"/><rect x="446" y="372" width="21" height="21" fill="rgb(105,105,105)"/><rect x="26" y="392" width="21" height="21" fill="rgb(145,145,145)"/><rect x="46" y="392" width="21" height="21" fill="rgb(181,181,181)"/><rect x="66" y="392" width="21" height="21" fill="rgb(134,134,134)"/><rect x="86" y="392" width="21" height="21" fill="rgb(103,103,103)"/><rect x="106" y="392" width="21" height="21" fill="rgb(118,118,118)"/><rect x="126" y="392" width="21" height="21" fill="rgb(129,129,129)"/><rect x="146" y="392" width="21" height="21" fill="rgb(129,129,129)"/><rect x="166" y="392" width="21" height="21" fill="rgb(135,135,135)"/><rect x="186" y="392" width="21" height="21" fill="rgb(163,163,163)"/><rect x="206" y="392" width="21" height="21" fill="rgb(179,179,179)"/><rect x="226" y="392" width="21" height="21" fill="rgb(161,161,161)"/><rect x="246" y="392" width="21" height="21" fill="rgb(147,147,147)"/><rect x="266" y="392" width="21" height="21" fill="rgb(142,142,142)"/><rect x="286" y="392" width="21" height="21" fill="rgb(134,134,134)"/><rect x="306" y="392" width="21" height="21" fill="rgb(115,115,115)"/><rect x="326" y="392" width="21" height="21" fill="rgb(115,115,115)"/><rect x="346" y="392" width="21" height="21" fill="rgb(136,136,136)"/><rect x="366" y="392" width="21" height="21" fill="rgb(136,136,136)"/><rect x="386" y="392" width="21" height="21" fill="rgb(122,122,122)"/><rect x="406" y="392" width="21" height="21" fill="rgb(116,116,116)"/><rect x="426" y="392" width="21" height="21" fill="rgb(114,114,114)"/><rect x="446" y="392" width="21" height="21" fill="rgb(112,112,112)"/><rect x="126" y="412" width="21" height="21" fill="rgb(129,129,129)"/><rect x="146" y="412" width="21" height="21" fill="rgb(129,129,129)"/><rect x="166" y="412" width="21" height="21" fill="rgb(141,141,141)"/><rect x="186" y="412" width="21" height="21" fill="rgb(169,169,169)"/><rect x="206" y="412" width="21" height="21" fill="rgb(176,176,176)"/><rect x="226" y="412" width="21" height="21" fill="rgb(158,158,158)"/><rect x="246" y="412" width="21" height="21" fill="rgb(146,146,146)"/><rect x="266" y="412" width="21" height="21" fill="rgb(141,141,141)"/><rect x="286" y="412" width="21" height="21" fill="rgb(130,130,130)"/><rect x="306" y="412" width="21" height="21" fill="rgb(111,111,111)"/><rect x="326" y="412" width="21" height="21" fill="rgb(117,117,117)"/><rect x="346" y="412" width="21" height="21" fill="rgb(148,148,148)"/><rect x="366" y="412" width="21" height="21" fill="rgb(154,154,154)"/><rect x="386" y="412" width="21" height="21" fill="rgb(135,135,135)"/><rect x="406" y="412" width="21" height="21" fill="rgb(125,125,125)"/><rect x="426" y="412" width="21" height="21" fill="rgb(123,123,123)"/><rect x="446" y="412" width="21" height="21" fill="rgb(121,121,121)"/><rect x="226" y="432" width="21" height="21" fill="rgb(154,154,154)"/><rect x="246" y="432" width="21" height="21" fill="rgb(145,145,145)"/><rect x="266" y="432" width="21" height="21" fill="rgb(140,140,140)"/><rect x="286" y="432" width="21" height="21" fill="rgb(126,126,126)"/><rect x="306" y="432" width="21" height="21" fill="rgb(107,107,107)"/><rect x="326" y="432" width="21" height="21" fill="rgb(123,123,123)"/><rect x="346" y="432" width="21" height="21" fill="rgb(155,155,155)"/><rect x="366" y="432" width="21" height="21" fill="rgb(150,150,150)"/><rect x="386" y="432" width="21" height="21" fill="rgb(130,130,130)"/><rect x="406" y="432" width="21" height="21" fill="rgb(125,125,125)"/><rect x="426" y="432" width="21" height="21" fill="rgb(125,125,125)"/><rect x="446" y="432" width="21" height="21" fill="rgb(125,125,125)"/><rect x="306" y="452" width="21" height="21" fill="rgb(103,103,103)"/><rect x="326" y="452" width="21" height="21" fill="rgb(130,130,130)"/><rect x="346" y="452" width="21" height="21" fill="rgb(161,161,161)"/><rect x="366" y="452" width="21" height="21" fill="rgb(146,146,146)"/><rect x="386" y="452" width="21" height="21" fill="rgb(126,126,126)"/><rect x="406" y="452" width="21" height="21" fill="rgb(125,125,125)"/><rect x="426" y="452" width="21" height="21" fill="rgb(125,125,125)"/><rect x="446" y="452" width="21" height="21" fill="rgb(125,125,125)"/><rect x="406" y="472" width="21" height="21" fill="rgb(125,125,125)"/><rect x="426" y="472" width="21" height="21" fill="rgb(125,125,125)"/></g></svg>
<svg style="position:absolute;left:488.0px;top:1432.7px" width="463.3" height="397.6" viewBox="0 0 463.3 397.6"><defs><filter id="fd" x="-40" y="-40" width="543" height="478" filterUnits="userSpaceOnUse" color-interpolation-filters="sRGB">
<feGaussianBlur in="SourceGraphic" stdDeviation="9" result="b"/>
<feTurbulence type="fractalNoise" baseFrequency="0.06 0.12" numOctaves="3" seed="5" result="t"/>
<feColorMatrix in="t" type="matrix" values="1 0 0 0 0 1 0 0 0 0 1 0 0 0 0 0 0 0 0 1" result="tg"/>
<feComposite in="b" in2="tg" operator="arithmetic" k1="0" k2="1" k3="1.0" k4="-0.5" result="v"/>
<feComponentTransfer in="v" result="q"><feFuncR type="discrete" tableValues="0.055 0.055 0.055 0.055 0.055 0.055 0.055 0.055 0.055 0.055 0.055 0.055 0.055 0.196 0.196 0.196 0.196 0.196 0.196 0.196 0.196 0.196 0.196 0.196 0.337 0.337 0.337 0.337 0.337 0.337 0.337 0.337 0.337 0.337 0.337 0.337 0.337 0.337 0.337 0.337 0.337 0.337 0.337 0.337 0.337 0.337 0.337 0.620 0.620 0.620 0.620 0.620 0.620 0.620 0.620 0.620 0.620 0.620 0.620 0.843 0.843 0.843 0.843 0.843"/><feFuncG type="discrete" tableValues="0.055 0.055 0.055 0.055 0.055 0.055 0.055 0.055 0.055 0.055 0.055 0.055 0.055 0.196 0.196 0.196 0.196 0.196 0.196 0.196 0.196 0.196 0.196 0.196 0.337 0.337 0.337 0.337 0.337 0.337 0.337 0.337 0.337 0.337 0.337 0.337 0.337 0.337 0.337 0.337 0.337 0.337 0.337 0.337 0.337 0.337 0.337 0.620 0.620 0.620 0.620 0.620 0.620 0.620 0.620 0.620 0.620 0.620 0.620 0.843 0.843 0.843 0.843 0.843"/><feFuncB type="discrete" tableValues="0.055 0.055 0.055 0.055 0.055 0.055 0.055 0.055 0.055 0.055 0.055 0.055 0.055 0.196 0.196 0.196 0.196 0.196 0.196 0.196 0.196 0.196 0.196 0.196 0.337 0.337 0.337 0.337 0.337 0.337 0.337 0.337 0.337 0.337 0.337 0.337 0.337 0.337 0.337 0.337 0.337 0.337 0.337 0.337 0.337 0.337 0.337 0.620 0.620 0.620 0.620 0.620 0.620 0.620 0.620 0.620 0.620 0.620 0.620 0.843 0.843 0.843 0.843 0.843"/><feFuncA type="linear" slope="0" intercept="1"/></feComponentTransfer>
<feGaussianBlur stdDeviation="0.6"/>
</filter></defs><g filter="url(#fd)"><rect x="-77.2" y="-79.5" width="39.2" height="40.4" fill="rgb(0,0,0)"/><rect x="-38.6" y="-79.5" width="39.2" height="40.4" fill="rgb(0,0,0)"/><rect x="0.0" y="-79.5" width="39.2" height="40.4" fill="rgb(0,0,0)"/><rect x="38.6" y="-79.5" width="39.2" height="40.4" fill="rgb(106,106,106)"/><rect x="77.2" y="-79.5" width="39.2" height="40.4" fill="rgb(108,108,108)"/><rect x="115.8" y="-79.5" width="39.2" height="40.4" fill="rgb(170,170,170)"/><rect x="154.4" y="-79.5" width="39.2" height="40.4" fill="rgb(158,158,158)"/><rect x="193.0" y="-79.5" width="39.2" height="40.4" fill="rgb(172,172,172)"/><rect x="231.7" y="-79.5" width="39.2" height="40.4" fill="rgb(85,85,85)"/><rect x="270.3" y="-79.5" width="39.2" height="40.4" fill="rgb(173,173,173)"/><rect x="308.9" y="-79.5" width="39.2" height="40.4" fill="rgb(188,188,188)"/><rect x="347.5" y="-79.5" width="39.2" height="40.4" fill="rgb(124,124,124)"/><rect x="386.1" y="-79.5" width="39.2" height="40.4" fill="rgb(156,156,156)"/><rect x="424.7" y="-79.5" width="39.2" height="40.4" fill="rgb(159,159,159)"/><rect x="463.3" y="-79.5" width="39.2" height="40.4" fill="rgb(159,159,159)"/><rect x="501.9" y="-79.5" width="39.2" height="40.4" fill="rgb(159,159,159)"/><rect x="-77.2" y="-39.8" width="39.2" height="40.4" fill="rgb(0,0,0)"/><rect x="-38.6" y="-39.8" width="39.2" height="40.4" fill="rgb(0,0,0)"/><rect x="0.0" y="-39.8" width="39.2" height="40.4" fill="rgb(0,0,0)"/><rect x="38.6" y="-39.8" width="39.2" height="40.4" fill="rgb(106,106,106)"/><rect x="77.2" y="-39.8" width="39.2" height="40.4" fill="rgb(108,108,108)"/><rect x="115.8" y="-39.8" width="39.2" height="40.4" fill="rgb(170,170,170)"/><rect x="154.4" y="-39.8" width="39.2" height="40.4" fill="rgb(158,158,158)"/><rect x="193.0" y="-39.8" width="39.2" height="40.4" fill="rgb(172,172,172)"/><rect x="231.7" y="-39.8" width="39.2" height="40.4" fill="rgb(85,85,85)"/><rect x="270.3" y="-39.8" width="39.2" height="40.4" fill="rgb(173,173,173)"/><rect x="308.9" y="-39.8" width="39.2" height="40.4" fill="rgb(188,188,188)"/><rect x="347.5" y="-39.8" width="39.2" height="40.4" fill="rgb(124,124,124)"/><rect x="386.1" y="-39.8" width="39.2" height="40.4" fill="rgb(156,156,156)"/><rect x="424.7" y="-39.8" width="39.2" height="40.4" fill="rgb(159,159,159)"/><rect x="463.3" y="-39.8" width="39.2" height="40.4" fill="rgb(159,159,159)"/><rect x="501.9" y="-39.8" width="39.2" height="40.4" fill="rgb(159,159,159)"/><rect x="-77.2" y="0.0" width="39.2" height="40.4" fill="rgb(0,0,0)"/><rect x="-38.6" y="0.0" width="39.2" height="40.4" fill="rgb(0,0,0)"/><rect x="0.0" y="0.0" width="39.2" height="40.4" fill="rgb(0,0,0)"/><rect x="38.6" y="0.0" width="39.2" height="40.4" fill="rgb(106,106,106)"/><rect x="77.2" y="0.0" width="39.2" height="40.4" fill="rgb(108,108,108)"/><rect x="115.8" y="0.0" width="39.2" height="40.4" fill="rgb(170,170,170)"/><rect x="154.4" y="0.0" width="39.2" height="40.4" fill="rgb(158,158,158)"/><rect x="193.0" y="0.0" width="39.2" height="40.4" fill="rgb(172,172,172)"/><rect x="231.7" y="0.0" width="39.2" height="40.4" fill="rgb(85,85,85)"/><rect x="270.3" y="0.0" width="39.2" height="40.4" fill="rgb(173,173,173)"/><rect x="308.9" y="0.0" width="39.2" height="40.4" fill="rgb(188,188,188)"/><rect x="347.5" y="0.0" width="39.2" height="40.4" fill="rgb(124,124,124)"/><rect x="386.1" y="0.0" width="39.2" height="40.4" fill="rgb(156,156,156)"/><rect x="424.7" y="0.0" width="39.2" height="40.4" fill="rgb(159,159,159)"/><rect x="463.3" y="0.0" width="39.2" height="40.4" fill="rgb(159,159,159)"/><rect x="501.9" y="0.0" width="39.2" height="40.4" fill="rgb(159,159,159)"/><rect x="-77.2" y="39.8" width="39.2" height="40.4" fill="rgb(134,134,134)"/><rect x="-38.6" y="39.8" width="39.2" height="40.4" fill="rgb(134,134,134)"/><rect x="0.0" y="39.8" width="39.2" height="40.4" fill="rgb(134,134,134)"/><rect x="38.6" y="39.8" width="39.2" height="40.4" fill="rgb(179,179,179)"/><rect x="77.2" y="39.8" width="39.2" height="40.4" fill="rgb(201,201,201)"/><rect x="115.8" y="39.8" width="39.2" height="40.4" fill="rgb(0,0,0)"/><rect x="154.4" y="39.8" width="39.2" height="40.4" fill="rgb(193,193,193)"/><rect x="193.0" y="39.8" width="39.2" height="40.4" fill="rgb(196,196,196)"/><rect x="231.7" y="39.8" width="39.2" height="40.4" fill="rgb(98,98,98)"/><rect x="270.3" y="39.8" width="39.2" height="40.4" fill="rgb(167,167,167)"/><rect x="308.9" y="39.8" width="39.2" height="40.4" fill="rgb(134,134,134)"/><rect x="347.5" y="39.8" width="39.2" height="40.4" fill="rgb(198,198,198)"/><rect x="386.1" y="39.8" width="39.2" height="40.4" fill="rgb(95,95,95)"/><rect x="424.7" y="39.8" width="39.2" height="40.4" fill="rgb(192,192,192)"/><rect x="463.3" y="39.8" width="39.2" height="40.4" fill="rgb(192,192,192)"/><rect x="501.9" y="39.8" width="39.2" height="40.4" fill="rgb(192,192,192)"/><rect x="-77.2" y="79.5" width="39.2" height="40.4" fill="rgb(77,77,77)"/><rect x="-38.6" y="79.5" width="39.2" height="40.4" fill="rgb(77,77,77)"/><rect x="0.0" y="79.5" width="39.2" height="40.4" fill="rgb(77,77,77)"/><rect x="38.6" y="79.5" width="39.2" height="40.4" fill="rgb(31,31,31)"/><rect x="77.2" y="79.5" width="39.2" height="40.4" fill="rgb(181,181,181)"/><rect x="115.8" y="79.5" width="39.2" height="40.4" fill="rgb(149,149,149)"/><rect x="154.4" y="79.5" width="39.2" height="40.4" fill="rgb(179,179,179)"/><rect x="193.0" y="79.5" width="39.2" height="40.4" fill="rgb(122,122,122)"/><rect x="231.7" y="79.5" width="39.2" height="40.4" fill="rgb(132,132,132)"/><rect x="270.3" y="79.5" width="39.2" height="40.4" fill="rgb(124,124,124)"/><rect x="308.9" y="79.5" width="39.2" height="40.4" fill="rgb(146,146,146)"/><rect x="347.5" y="79.5" width="39.2" height="40.4" fill="rgb(159,159,159)"/><rect x="386.1" y="79.5" width="39.2" height="40.4" fill="rgb(91,91,91)"/><rect x="424.7" y="79.5" width="39.2" height="40.4" fill="rgb(117,117,117)"/><rect x="463.3" y="79.5" width="39.2" height="40.4" fill="rgb(117,117,117)"/><rect x="501.9" y="79.5" width="39.2" height="40.4" fill="rgb(117,117,117)"/><rect x="-77.2" y="119.3" width="39.2" height="40.4" fill="rgb(124,124,124)"/><rect x="-38.6" y="119.3" width="39.2" height="40.4" fill="rgb(124,124,124)"/><rect x="0.0" y="119.3" width="39.2" height="40.4" fill="rgb(124,124,124)"/><rect x="38.6" y="119.3" width="39.2" height="40.4" fill="rgb(32,32,32)"/><rect x="77.2" y="119.3" width="39.2" height="40.4" fill="rgb(202,202,202)"/><rect x="115.8" y="119.3" width="39.2" height="40.4" fill="rgb(75,75,75)"/><rect x="154.4" y="119.3" width="39.2" height="40.4" fill="rgb(162,162,162)"/><rect x="193.0" y="119.3" width="39.2" height="40.4" fill="rgb(121,121,121)"/><rect x="231.7" y="119.3" width="39.2" height="40.4" fill="rgb(99,99,99)"/><rect x="270.3" y="119.3" width="39.2" height="40.4" fill="rgb(133,133,133)"/><rect x="308.9" y="119.3" width="39.2" height="40.4" fill="rgb(173,173,173)"/><rect x="347.5" y="119.3" width="39.2" height="40.4" fill="rgb(36,36,36)"/><rect x="386.1" y="119.3" width="39.2" height="40.4" fill="rgb(118,118,118)"/><rect x="424.7" y="119.3" width="39.2" height="40.4" fill="rgb(134,134,134)"/><rect x="463.3" y="119.3" width="39.2" height="40.4" fill="rgb(134,134,134)"/><rect x="501.9" y="119.3" width="39.2" height="40.4" fill="rgb(134,134,134)"/><rect x="-77.2" y="159.0" width="39.2" height="40.4" fill="rgb(165,165,165)"/><rect x="-38.6" y="159.0" width="39.2" height="40.4" fill="rgb(165,165,165)"/><rect x="0.0" y="159.0" width="39.2" height="40.4" fill="rgb(165,165,165)"/><rect x="38.6" y="159.0" width="39.2" height="40.4" fill="rgb(186,186,186)"/><rect x="77.2" y="159.0" width="39.2" height="40.4" fill="rgb(164,164,164)"/><rect x="115.8" y="159.0" width="39.2" height="40.4" fill="rgb(200,200,200)"/><rect x="154.4" y="159.0" width="39.2" height="40.4" fill="rgb(163,163,163)"/><rect x="193.0" y="159.0" width="39.2" height="40.4" fill="rgb(173,173,173)"/><rect x="231.7" y="159.0" width="39.2" height="40.4" fill="rgb(190,190,190)"/><rect x="270.3" y="159.0" width="39.2" height="40.4" fill="rgb(143,143,143)"/><rect x="308.9" y="159.0" width="39.2" height="40.4" fill="rgb(181,181,181)"/><rect x="347.5" y="159.0" width="39.2" height="40.4" fill="rgb(163,163,163)"/><rect x="386.1" y="159.0" width="39.2" height="40.4" fill="rgb(125,125,125)"/><rect x="424.7" y="159.0" width="39.2" height="40.4" fill="rgb(146,146,146)"/><rect x="463.3" y="159.0" width="39.2" height="40.4" fill="rgb(146,146,146)"/><rect x="501.9" y="159.0" width="39.2" height="40.4" fill="rgb(146,146,146)"/><rect x="-77.2" y="198.8" width="39.2" height="40.4" fill="rgb(180,180,180)"/><rect x="-38.6" y="198.8" width="39.2" height="40.4" fill="rgb(180,180,180)"/><rect x="0.0" y="198.8" width="39.2" height="40.4" fill="rgb(180,180,180)"/><rect x="38.6" y="198.8" width="39.2" height="40.4" fill="rgb(162,162,162)"/><rect x="77.2" y="198.8" width="39.2" height="40.4" fill="rgb(204,204,204)"/><rect x="115.8" y="198.8" width="39.2" height="40.4" fill="rgb(180,180,180)"/><rect x="154.4" y="198.8" width="39.2" height="40.4" fill="rgb(164,164,164)"/><rect x="193.0" y="198.8" width="39.2" height="40.4" fill="rgb(181,181,181)"/><rect x="231.7" y="198.8" width="39.2" height="40.4" fill="rgb(168,168,168)"/><rect x="270.3" y="198.8" width="39.2" height="40.4" fill="rgb(168,168,168)"/><rect x="308.9" y="198.8" width="39.2" height="40.4" fill="rgb(197,197,197)"/><rect x="347.5" y="198.8" width="39.2" height="40.4" fill="rgb(162,162,162)"/><rect x="386.1" y="198.8" width="39.2" height="40.4" fill="rgb(180,180,180)"/><rect x="424.7" y="198.8" width="39.2" height="40.4" fill="rgb(187,187,187)"/><rect x="463.3" y="198.8" width="39.2" height="40.4" fill="rgb(187,187,187)"/><rect x="501.9" y="198.8" width="39.2" height="40.4" fill="rgb(187,187,187)"/><rect x="-77.2" y="238.6" width="39.2" height="40.4" fill="rgb(45,45,45)"/><rect x="-38.6" y="238.6" width="39.2" height="40.4" fill="rgb(45,45,45)"/><rect x="0.0" y="238.6" width="39.2" height="40.4" fill="rgb(45,45,45)"/><rect x="38.6" y="238.6" width="39.2" height="40.4" fill="rgb(47,47,47)"/><rect x="77.2" y="238.6" width="39.2" height="40.4" fill="rgb(118,118,118)"/><rect x="115.8" y="238.6" width="39.2" height="40.4" fill="rgb(93,93,93)"/><rect x="154.4" y="238.6" width="39.2" height="40.4" fill="rgb(207,207,207)"/><rect x="193.0" y="238.6" width="39.2" height="40.4" fill="rgb(126,126,126)"/><rect x="231.7" y="238.6" width="39.2" height="40.4" fill="rgb(158,158,158)"/><rect x="270.3" y="238.6" width="39.2" height="40.4" fill="rgb(104,104,104)"/><rect x="308.9" y="238.6" width="39.2" height="40.4" fill="rgb(144,144,144)"/><rect x="347.5" y="238.6" width="39.2" height="40.4" fill="rgb(96,96,96)"/><rect x="386.1" y="238.6" width="39.2" height="40.4" fill="rgb(135,135,135)"/><rect x="424.7" y="238.6" width="39.2" height="40.4" fill="rgb(207,207,207)"/><rect x="463.3" y="238.6" width="39.2" height="40.4" fill="rgb(207,207,207)"/><rect x="501.9" y="238.6" width="39.2" height="40.4" fill="rgb(207,207,207)"/><rect x="-77.2" y="278.3" width="39.2" height="40.4" fill="rgb(0,0,0)"/><rect x="-38.6" y="278.3" width="39.2" height="40.4" fill="rgb(0,0,0)"/><rect x="0.0" y="278.3" width="39.2" height="40.4" fill="rgb(0,0,0)"/><rect x="38.6" y="278.3" width="39.2" height="40.4" fill="rgb(89,89,89)"/><rect x="77.2" y="278.3" width="39.2" height="40.4" fill="rgb(178,178,178)"/><rect x="115.8" y="278.3" width="39.2" height="40.4" fill="rgb(70,70,70)"/><rect x="154.4" y="278.3" width="39.2" height="40.4" fill="rgb(15,15,15)"/><rect x="193.0" y="278.3" width="39.2" height="40.4" fill="rgb(108,108,108)"/><rect x="231.7" y="278.3" width="39.2" height="40.4" fill="rgb(126,126,126)"/><rect x="270.3" y="278.3" width="39.2" height="40.4" fill="rgb(85,85,85)"/><rect x="308.9" y="278.3" width="39.2" height="40.4" fill="rgb(77,77,77)"/><rect x="347.5" y="278.3" width="39.2" height="40.4" fill="rgb(84,84,84)"/><rect x="386.1" y="278.3" width="39.2" height="40.4" fill="rgb(0,0,0)"/><rect x="424.7" y="278.3" width="39.2" height="40.4" fill="rgb(207,207,207)"/><rect x="463.3" y="278.3" width="39.2" height="40.4" fill="rgb(207,207,207)"/><rect x="501.9" y="278.3" width="39.2" height="40.4" fill="rgb(207,207,207)"/><rect x="-77.2" y="318.1" width="39.2" height="40.4" fill="rgb(105,105,105)"/><rect x="-38.6" y="318.1" width="39.2" height="40.4" fill="rgb(105,105,105)"/><rect x="0.0" y="318.1" width="39.2" height="40.4" fill="rgb(105,105,105)"/><rect x="38.6" y="318.1" width="39.2" height="40.4" fill="rgb(75,75,75)"/><rect x="77.2" y="318.1" width="39.2" height="40.4" fill="rgb(0,0,0)"/><rect x="115.8" y="318.1" width="39.2" height="40.4" fill="rgb(200,200,200)"/><rect x="154.4" y="318.1" width="39.2" height="40.4" fill="rgb(155,155,155)"/><rect x="193.0" y="318.1" width="39.2" height="40.4" fill="rgb(117,117,117)"/><rect x="231.7" y="318.1" width="39.2" height="40.4" fill="rgb(54,54,54)"/><rect x="270.3" y="318.1" width="39.2" height="40.4" fill="rgb(5,5,5)"/><rect x="308.9" y="318.1" width="39.2" height="40.4" fill="rgb(210,210,210)"/><rect x="347.5" y="318.1" width="39.2" height="40.4" fill="rgb(59,59,59)"/><rect x="386.1" y="318.1" width="39.2" height="40.4" fill="rgb(155,155,155)"/><rect x="424.7" y="318.1" width="39.2" height="40.4" fill="rgb(255,255,255)"/><rect x="463.3" y="318.1" width="39.2" height="40.4" fill="rgb(255,255,255)"/><rect x="501.9" y="318.1" width="39.2" height="40.4" fill="rgb(255,255,255)"/><rect x="-77.2" y="357.8" width="39.2" height="40.4" fill="rgb(100,100,100)"/><rect x="-38.6" y="357.8" width="39.2" height="40.4" fill="rgb(100,100,100)"/><rect x="0.0" y="357.8" width="39.2" height="40.4" fill="rgb(100,100,100)"/><rect x="38.6" y="357.8" width="39.2" height="40.4" fill="rgb(125,125,125)"/><rect x="77.2" y="357.8" width="39.2" height="40.4" fill="rgb(86,86,86)"/><rect x="115.8" y="357.8" width="39.2" height="40.4" fill="rgb(42,42,42)"/><rect x="154.4" y="357.8" width="39.2" height="40.4" fill="rgb(130,130,130)"/><rect x="193.0" y="357.8" width="39.2" height="40.4" fill="rgb(77,77,77)"/><rect x="231.7" y="357.8" width="39.2" height="40.4" fill="rgb(118,118,118)"/><rect x="270.3" y="357.8" width="39.2" height="40.4" fill="rgb(99,99,99)"/><rect x="308.9" y="357.8" width="39.2" height="40.4" fill="rgb(81,81,81)"/><rect x="347.5" y="357.8" width="39.2" height="40.4" fill="rgb(107,107,107)"/><rect x="386.1" y="357.8" width="39.2" height="40.4" fill="rgb(82,82,82)"/><rect x="424.7" y="357.8" width="39.2" height="40.4" fill="rgb(80,80,80)"/><rect x="463.3" y="357.8" width="39.2" height="40.4" fill="rgb(80,80,80)"/><rect x="501.9" y="357.8" width="39.2" height="40.4" fill="rgb(80,80,80)"/><rect x="-77.2" y="397.6" width="39.2" height="40.4" fill="rgb(100,100,100)"/><rect x="-38.6" y="397.6" width="39.2" height="40.4" fill="rgb(100,100,100)"/><rect x="0.0" y="397.6" width="39.2" height="40.4" fill="rgb(100,100,100)"/><rect x="38.6" y="397.6" width="39.2" height="40.4" fill="rgb(125,125,125)"/><rect x="77.2" y="397.6" width="39.2" height="40.4" fill="rgb(86,86,86)"/><rect x="115.8" y="397.6" width="39.2" height="40.4" fill="rgb(42,42,42)"/><rect x="154.4" y="397.6" width="39.2" height="40.4" fill="rgb(130,130,130)"/><rect x="193.0" y="397.6" width="39.2" height="40.4" fill="rgb(77,77,77)"/><rect x="231.7" y="397.6" width="39.2" height="40.4" fill="rgb(118,118,118)"/><rect x="270.3" y="397.6" width="39.2" height="40.4" fill="rgb(99,99,99)"/><rect x="308.9" y="397.6" width="39.2" height="40.4" fill="rgb(81,81,81)"/><rect x="347.5" y="397.6" width="39.2" height="40.4" fill="rgb(107,107,107)"/><rect x="386.1" y="397.6" width="39.2" height="40.4" fill="rgb(82,82,82)"/><rect x="424.7" y="397.6" width="39.2" height="40.4" fill="rgb(80,80,80)"/><rect x="463.3" y="397.6" width="39.2" height="40.4" fill="rgb(80,80,80)"/><rect x="501.9" y="397.6" width="39.2" height="40.4" fill="rgb(80,80,80)"/><rect x="-77.2" y="437.4" width="39.2" height="40.4" fill="rgb(100,100,100)"/><rect x="-38.6" y="437.4" width="39.2" height="40.4" fill="rgb(100,100,100)"/><rect x="0.0" y="437.4" width="39.2" height="40.4" fill="rgb(100,100,100)"/><rect x="38.6" y="437.4" width="39.2" height="40.4" fill="rgb(125,125,125)"/><rect x="77.2" y="437.4" width="39.2" height="40.4" fill="rgb(86,86,86)"/><rect x="115.8" y="437.4" width="39.2" height="40.4" fill="rgb(42,42,42)"/><rect x="154.4" y="437.4" width="39.2" height="40.4" fill="rgb(130,130,130)"/><rect x="193.0" y="437.4" width="39.2" height="40.4" fill="rgb(77,77,77)"/><rect x="231.7" y="437.4" width="39.2" height="40.4" fill="rgb(118,118,118)"/><rect x="270.3" y="437.4" width="39.2" height="40.4" fill="rgb(99,99,99)"/><rect x="308.9" y="437.4" width="39.2" height="40.4" fill="rgb(81,81,81)"/><rect x="347.5" y="437.4" width="39.2" height="40.4" fill="rgb(107,107,107)"/><rect x="386.1" y="437.4" width="39.2" height="40.4" fill="rgb(82,82,82)"/><rect x="424.7" y="437.4" width="39.2" height="40.4" fill="rgb(80,80,80)"/><rect x="463.3" y="437.4" width="39.2" height="40.4" fill="rgb(80,80,80)"/><rect x="501.9" y="437.4" width="39.2" height="40.4" fill="rgb(80,80,80)"/></g><defs><filter id="dbl" x="-50%" y="-50%" width="200%" height="200%"><feGaussianBlur stdDeviation="5"/></filter></defs><ellipse cx="25.1" cy="137.1" rx="10.1" ry="2.2" fill="#0a0a0a" stroke="#555" stroke-width="0.7"/><ellipse cx="32.8" cy="139.2" rx="11.5" ry="2.2" fill="#0a0a0a" stroke="#555" stroke-width="0.7"/><ellipse cx="76.8" cy="128.0" rx="5.0" ry="2.0" fill="#0a0a0a" stroke="#555" stroke-width="0.7"/><ellipse cx="89.0" cy="124.7" rx="11.4" ry="1.9" fill="#0a0a0a" stroke="#555" stroke-width="0.7"/><ellipse cx="35.4" cy="124.1" rx="13.0" ry="2.5" fill="#0a0a0a" stroke="#555" stroke-width="0.7"/><ellipse cx="133.0" cy="135.6" rx="5.3" ry="2.0" fill="#0a0a0a" stroke="#555" stroke-width="0.7"/><ellipse cx="75.6" cy="125.6" rx="12.6" ry="2.0" fill="#0a0a0a" stroke="#555" stroke-width="0.7"/><ellipse cx="23.5" cy="139.7" rx="6.0" ry="2.7" fill="#0a0a0a" stroke="#555" stroke-width="0.7"/><ellipse cx="68.9" cy="134.3" rx="7.7" ry="2.2" fill="#0a0a0a" stroke="#555" stroke-width="0.7"/><ellipse cx="28.4" cy="124.0" rx="11.9" ry="1.9" fill="#0a0a0a" stroke="#555" stroke-width="0.7"/><ellipse cx="118.6" cy="127.5" rx="12.8" ry="2.7" fill="#0a0a0a" stroke="#555" stroke-width="0.7"/><ellipse cx="114.7" cy="138.6" rx="9.6" ry="2.5" fill="#0a0a0a" stroke="#555" stroke-width="0.7"/><ellipse cx="18.6" cy="132.8" rx="11.6" ry="1.8" fill="#0a0a0a" stroke="#555" stroke-width="0.7"/><ellipse cx="140.3" cy="141.1" rx="8.3" ry="2.0" fill="#0a0a0a" stroke="#555" stroke-width="0.7"/><ellipse cx="68.6" cy="131.0" rx="13.0" ry="2.1" fill="#0a0a0a" stroke="#555" stroke-width="0.7"/><ellipse cx="4.1" cy="125.2" rx="10.7" ry="2.8" fill="#0a0a0a" stroke="#555" stroke-width="0.7"/><ellipse cx="75.4" cy="133.1" rx="9.4" ry="2.5" fill="#0a0a0a" stroke="#555" stroke-width="0.7"/><ellipse cx="33.7" cy="135.5" rx="9.5" ry="2.3" fill="#0a0a0a" stroke="#555" stroke-width="0.7"/><ellipse cx="27.5" cy="126.7" rx="7.8" ry="2.7" fill="#0a0a0a" stroke="#555" stroke-width="0.7"/><ellipse cx="52.7" cy="135.2" rx="7.5" ry="1.7" fill="#0a0a0a" stroke="#555" stroke-width="0.7"/><ellipse cx="10.0" cy="139.6" rx="11.2" ry="2.0" fill="#0a0a0a" stroke="#555" stroke-width="0.7"/><ellipse cx="103.9" cy="136.8" rx="12.2" ry="2.7" fill="#0a0a0a" stroke="#555" stroke-width="0.7"/><ellipse cx="61.9" cy="143.1" rx="12.7" ry="2.3" fill="#0a0a0a" stroke="#555" stroke-width="0.7"/><ellipse cx="134.2" cy="133.1" rx="8.0" ry="1.9" fill="#0a0a0a" stroke="#555" stroke-width="0.7"/><ellipse cx="133.2" cy="126.5" rx="5.6" ry="2.6" fill="#0a0a0a" stroke="#555" stroke-width="0.7"/><ellipse cx="117.6" cy="133.0" rx="11.7" ry="1.7" fill="#0a0a0a" stroke="#555" stroke-width="0.7"/><ellipse cx="39.2" cy="129.1" rx="8.4" ry="1.8" fill="#0a0a0a" stroke="#555" stroke-width="0.7"/><ellipse cx="10.6" cy="130.1" rx="12.2" ry="2.8" fill="#0a0a0a" stroke="#555" stroke-width="0.7"/><ellipse cx="113.4" cy="132.9" rx="7.0" ry="2.8" fill="#0a0a0a" stroke="#555" stroke-width="0.7"/><ellipse cx="79.9" cy="137.9" rx="5.2" ry="1.9" fill="#0a0a0a" stroke="#555" stroke-width="0.7"/><ellipse cx="127.4" cy="139.2" rx="12.1" ry="2.3" fill="#0a0a0a" stroke="#555" stroke-width="0.7"/><ellipse cx="64.8" cy="134.9" rx="11.8" ry="2.0" fill="#0a0a0a" stroke="#555" stroke-width="0.7"/><ellipse cx="81.2" cy="128.8" rx="11.1" ry="1.6" fill="#0a0a0a" stroke="#555" stroke-width="0.7"/><ellipse cx="104.2" cy="142.4" rx="5.2" ry="2.3" fill="#0a0a0a" stroke="#555" stroke-width="0.7"/><ellipse cx="97.9" cy="140.3" rx="9.7" ry="1.9" fill="#0a0a0a" stroke="#555" stroke-width="0.7"/><ellipse cx="61.7" cy="142.5" rx="12.2" ry="1.8" fill="#0a0a0a" stroke="#555" stroke-width="0.7"/><ellipse cx="14.4" cy="125.2" rx="5.2" ry="2.1" fill="#0a0a0a" stroke="#555" stroke-width="0.7"/><ellipse cx="21.4" cy="140.6" rx="10.2" ry="1.8" fill="#0a0a0a" stroke="#555" stroke-width="0.7"/><ellipse cx="81.9" cy="129.8" rx="9.0" ry="1.9" fill="#0a0a0a" stroke="#555" stroke-width="0.7"/><ellipse cx="25.2" cy="127.0" rx="8.0" ry="2.5" fill="#0a0a0a" stroke="#555" stroke-width="0.7"/><g filter="url(#dbl)" fill="#9c9c9c"><ellipse cx="27.0" cy="17.299999999999955" rx="32" ry="13"/><ellipse cx="60.0" cy="11.299999999999955" rx="26" ry="9"/><ellipse cx="12.0" cy="35.299999999999955" rx="14" ry="9"/></g><ellipse cx="148.3" cy="334.7" rx="5.7" ry="2.2" transform="rotate(7.1 148.3 334.7)" fill="#0c0c0c" stroke="#6a6a6a" stroke-width="0.7"/><ellipse cx="168.1" cy="342.7" rx="5.3" ry="2.1" transform="rotate(2.5 168.1 342.7)" fill="#0c0c0c" stroke="#6a6a6a" stroke-width="0.7"/><ellipse cx="28.1" cy="335.9" rx="12.4" ry="1.7" transform="rotate(3.4 28.1 335.9)" fill="#0c0c0c" stroke="#6a6a6a" stroke-width="0.7"/><ellipse cx="100.7" cy="258.6" rx="10.2" ry="2.1" transform="rotate(-10.5 100.7 258.6)" fill="#0c0c0c" stroke="#6a6a6a" stroke-width="0.7"/><ellipse cx="63.3" cy="326.4" rx="6.1" ry="2.0" transform="rotate(1.5 63.3 326.4)" fill="#0c0c0c" stroke="#6a6a6a" stroke-width="0.7"/><ellipse cx="270.3" cy="292.0" rx="10.8" ry="2.0" transform="rotate(-2.1 270.3 292.0)" fill="#0c0c0c" stroke="#6a6a6a" stroke-width="0.7"/><ellipse cx="23.2" cy="306.1" rx="6.9" ry="2.4" transform="rotate(-4.7 23.2 306.1)" fill="#0c0c0c" stroke="#6a6a6a" stroke-width="0.7"/><ellipse cx="272.1" cy="320.7" rx="9.1" ry="2.0" transform="rotate(2.6 272.1 320.7)" fill="#0c0c0c" stroke="#6a6a6a" stroke-width="0.7"/><ellipse cx="110.5" cy="264.6" rx="10.2" ry="2.2" transform="rotate(6.9 110.5 264.6)" fill="#0c0c0c" stroke="#6a6a6a" stroke-width="0.7"/><ellipse cx="131.3" cy="275.0" rx="13.8" ry="1.7" transform="rotate(-8.8 131.3 275.0)" fill="#0c0c0c" stroke="#6a6a6a" stroke-width="0.7"/><ellipse cx="66.9" cy="334.1" rx="9.4" ry="1.6" transform="rotate(-5.0 66.9 334.1)" fill="#0c0c0c" stroke="#6a6a6a" stroke-width="0.7"/><ellipse cx="266.2" cy="264.9" rx="12.9" ry="2.0" transform="rotate(-2.7 266.2 264.9)" fill="#0c0c0c" stroke="#6a6a6a" stroke-width="0.7"/><ellipse cx="269.5" cy="271.4" rx="9.1" ry="2.6" transform="rotate(6.4 269.5 271.4)" fill="#0c0c0c" stroke="#6a6a6a" stroke-width="0.7"/><ellipse cx="309.3" cy="297.7" rx="5.5" ry="2.4" transform="rotate(-11.4 309.3 297.7)" fill="#0c0c0c" stroke="#6a6a6a" stroke-width="0.7"/><ellipse cx="129.7" cy="275.7" rx="5.2" ry="2.2" transform="rotate(5.9 129.7 275.7)" fill="#0c0c0c" stroke="#6a6a6a" stroke-width="0.7"/><ellipse cx="74.5" cy="317.1" rx="11.9" ry="1.8" transform="rotate(1.4 74.5 317.1)" fill="#0c0c0c" stroke="#6a6a6a" stroke-width="0.7"/><ellipse cx="112.2" cy="262.3" rx="5.7" ry="2.1" transform="rotate(7.7 112.2 262.3)" fill="#0c0c0c" stroke="#6a6a6a" stroke-width="0.7"/><ellipse cx="255.0" cy="350.6" rx="12.8" ry="1.9" transform="rotate(-7.4 255.0 350.6)" fill="#0c0c0c" stroke="#6a6a6a" stroke-width="0.7"/><ellipse cx="191.6" cy="270.0" rx="13.6" ry="1.8" transform="rotate(9.7 191.6 270.0)" fill="#0c0c0c" stroke="#6a6a6a" stroke-width="0.7"/><ellipse cx="78.4" cy="311.8" rx="9.4" ry="2.3" transform="rotate(4.3 78.4 311.8)" fill="#0c0c0c" stroke="#6a6a6a" stroke-width="0.7"/><ellipse cx="119.4" cy="340.6" rx="8.3" ry="2.3" transform="rotate(0.2 119.4 340.6)" fill="#0c0c0c" stroke="#6a6a6a" stroke-width="0.7"/><ellipse cx="446.1" cy="296.1" rx="10.6" ry="2.4" transform="rotate(-6.7 446.1 296.1)" fill="#0c0c0c" stroke="#6a6a6a" stroke-width="0.7"/><ellipse cx="20.6" cy="351.4" rx="12.9" ry="2.6" transform="rotate(-6.2 20.6 351.4)" fill="#0c0c0c" stroke="#6a6a6a" stroke-width="0.7"/><ellipse cx="180.7" cy="298.0" rx="10.7" ry="1.7" transform="rotate(1.7 180.7 298.0)" fill="#0c0c0c" stroke="#6a6a6a" stroke-width="0.7"/><ellipse cx="26.9" cy="313.9" rx="8.1" ry="1.7" transform="rotate(3.5 26.9 313.9)" fill="#0c0c0c" stroke="#6a6a6a" stroke-width="0.7"/><ellipse cx="-4.9" cy="317.4" rx="8.3" ry="1.6" transform="rotate(2.3 -4.9 317.4)" fill="#0c0c0c" stroke="#6a6a6a" stroke-width="0.7"/><ellipse cx="408.8" cy="296.5" rx="7.3" ry="2.0" transform="rotate(-2.2 408.8 296.5)" fill="#0c0c0c" stroke="#6a6a6a" stroke-width="0.7"/><ellipse cx="167.4" cy="351.1" rx="13.9" ry="2.2" transform="rotate(8.1 167.4 351.1)" fill="#0c0c0c" stroke="#6a6a6a" stroke-width="0.7"/><ellipse cx="224.0" cy="321.3" rx="8.1" ry="1.9" transform="rotate(1.4 224.0 321.3)" fill="#0c0c0c" stroke="#6a6a6a" stroke-width="0.7"/><ellipse cx="387.3" cy="312.7" rx="13.6" ry="2.2" transform="rotate(1.1 387.3 312.7)" fill="#0c0c0c" stroke="#6a6a6a" stroke-width="0.7"/><ellipse cx="64.4" cy="302.5" rx="9.8" ry="2.8" transform="rotate(-0.4 64.4 302.5)" fill="#0c0c0c" stroke="#6a6a6a" stroke-width="0.7"/><ellipse cx="403.6" cy="301.6" rx="8.3" ry="1.8" transform="rotate(-4.4 403.6 301.6)" fill="#0c0c0c" stroke="#6a6a6a" stroke-width="0.7"/><ellipse cx="360.4" cy="258.3" rx="8.0" ry="1.9" transform="rotate(-2.1 360.4 258.3)" fill="#0c0c0c" stroke="#6a6a6a" stroke-width="0.7"/><ellipse cx="379.1" cy="367.7" rx="12.4" ry="2.5" transform="rotate(-1.1 379.1 367.7)" fill="#0c0c0c" stroke="#6a6a6a" stroke-width="0.7"/><ellipse cx="102.3" cy="281.3" rx="5.3" ry="1.6" transform="rotate(-0.6 102.3 281.3)" fill="#0c0c0c" stroke="#6a6a6a" stroke-width="0.7"/><ellipse cx="127.2" cy="306.6" rx="13.6" ry="2.1" transform="rotate(9.2 127.2 306.6)" fill="#0c0c0c" stroke="#6a6a6a" stroke-width="0.7"/><ellipse cx="99.3" cy="303.7" rx="7.0" ry="1.8" transform="rotate(2.4 99.3 303.7)" fill="#0c0c0c" stroke="#6a6a6a" stroke-width="0.7"/><ellipse cx="421.1" cy="349.6" rx="12.6" ry="2.2" transform="rotate(-6.2 421.1 349.6)" fill="#0c0c0c" stroke="#6a6a6a" stroke-width="0.7"/><ellipse cx="35.1" cy="265.2" rx="10.9" ry="2.7" transform="rotate(2.0 35.1 265.2)" fill="#0c0c0c" stroke="#6a6a6a" stroke-width="0.7"/><ellipse cx="221.3" cy="260.4" rx="6.6" ry="2.5" transform="rotate(-5.3 221.3 260.4)" fill="#0c0c0c" stroke="#6a6a6a" stroke-width="0.7"/><ellipse cx="454.9" cy="356.1" rx="8.6" ry="2.1" transform="rotate(9.1 454.9 356.1)" fill="#0c0c0c" stroke="#6a6a6a" stroke-width="0.7"/><ellipse cx="75.5" cy="293.5" rx="6.1" ry="1.8" transform="rotate(9.0 75.5 293.5)" fill="#0c0c0c" stroke="#6a6a6a" stroke-width="0.7"/><ellipse cx="64.2" cy="278.7" rx="12.4" ry="2.8" transform="rotate(-3.1 64.2 278.7)" fill="#0c0c0c" stroke="#6a6a6a" stroke-width="0.7"/><ellipse cx="254.7" cy="286.0" rx="6.2" ry="1.6" transform="rotate(8.5 254.7 286.0)" fill="#0c0c0c" stroke="#6a6a6a" stroke-width="0.7"/><ellipse cx="244.2" cy="301.4" rx="13.4" ry="2.1" transform="rotate(7.8 244.2 301.4)" fill="#0c0c0c" stroke="#6a6a6a" stroke-width="0.7"/><ellipse cx="94.9" cy="268.8" rx="7.3" ry="2.0" transform="rotate(0.5 94.9 268.8)" fill="#0c0c0c" stroke="#6a6a6a" stroke-width="0.7"/><ellipse cx="117.8" cy="349.1" rx="8.8" ry="1.8" transform="rotate(4.7 117.8 349.1)" fill="#0c0c0c" stroke="#6a6a6a" stroke-width="0.7"/><ellipse cx="211.8" cy="294.3" rx="10.3" ry="2.7" transform="rotate(-11.8 211.8 294.3)" fill="#0c0c0c" stroke="#6a6a6a" stroke-width="0.7"/><ellipse cx="232.4" cy="341.4" rx="9.8" ry="2.2" transform="rotate(6.4 232.4 341.4)" fill="#0c0c0c" stroke="#6a6a6a" stroke-width="0.7"/><ellipse cx="81.7" cy="313.1" rx="5.0" ry="2.6" transform="rotate(3.2 81.7 313.1)" fill="#0c0c0c" stroke="#6a6a6a" stroke-width="0.7"/><ellipse cx="338.2" cy="339.3" rx="10.0" ry="2.0" transform="rotate(-7.6 338.2 339.3)" fill="#0c0c0c" stroke="#6a6a6a" stroke-width="0.7"/><ellipse cx="366.2" cy="304.9" rx="6.0" ry="2.3" transform="rotate(0.0 366.2 304.9)" fill="#0c0c0c" stroke="#6a6a6a" stroke-width="0.7"/><ellipse cx="360.5" cy="333.5" rx="9.6" ry="2.3" transform="rotate(0.8 360.5 333.5)" fill="#0c0c0c" stroke="#6a6a6a" stroke-width="0.7"/><ellipse cx="284.9" cy="273.4" rx="11.2" ry="2.1" transform="rotate(-0.3 284.9 273.4)" fill="#0c0c0c" stroke="#6a6a6a" stroke-width="0.7"/><ellipse cx="325.9" cy="319.1" rx="12.9" ry="2.7" transform="rotate(-0.5 325.9 319.1)" fill="#0c0c0c" stroke="#6a6a6a" stroke-width="0.7"/><ellipse cx="441.4" cy="347.6" rx="12.6" ry="1.8" transform="rotate(4.7 441.4 347.6)" fill="#0c0c0c" stroke="#6a6a6a" stroke-width="0.7"/><ellipse cx="29.3" cy="331.7" rx="7.2" ry="1.7" transform="rotate(-5.1 29.3 331.7)" fill="#0c0c0c" stroke="#6a6a6a" stroke-width="0.7"/><ellipse cx="419.6" cy="263.4" rx="6.4" ry="2.5" transform="rotate(-1.8 419.6 263.4)" fill="#0c0c0c" stroke="#6a6a6a" stroke-width="0.7"/><ellipse cx="412.8" cy="295.2" rx="13.7" ry="1.9" transform="rotate(5.8 412.8 295.2)" fill="#0c0c0c" stroke="#6a6a6a" stroke-width="0.7"/><ellipse cx="225.6" cy="300.4" rx="13.9" ry="2.6" transform="rotate(3.4 225.6 300.4)" fill="#0c0c0c" stroke="#6a6a6a" stroke-width="0.7"/><ellipse cx="239.0" cy="336.4" rx="8.1" ry="1.8" transform="rotate(-4.0 239.0 336.4)" fill="#0c0c0c" stroke="#6a6a6a" stroke-width="0.7"/><ellipse cx="4.2" cy="352.9" rx="10.0" ry="2.1" transform="rotate(5.4 4.2 352.9)" fill="#0c0c0c" stroke="#6a6a6a" stroke-width="0.7"/><ellipse cx="290.3" cy="312.4" rx="9.6" ry="1.7" transform="rotate(10.5 290.3 312.4)" fill="#0c0c0c" stroke="#6a6a6a" stroke-width="0.7"/><ellipse cx="454.9" cy="304.4" rx="5.9" ry="1.9" transform="rotate(10.1 454.9 304.4)" fill="#0c0c0c" stroke="#6a6a6a" stroke-width="0.7"/><ellipse cx="123.0" cy="322.1" rx="6.2" ry="2.1" transform="rotate(9.4 123.0 322.1)" fill="#0c0c0c" stroke="#6a6a6a" stroke-width="0.7"/><ellipse cx="117.4" cy="280.0" rx="6.3" ry="2.7" transform="rotate(-8.4 117.4 280.0)" fill="#0c0c0c" stroke="#6a6a6a" stroke-width="0.7"/><ellipse cx="37.3" cy="289.3" rx="5.5" ry="2.4" transform="rotate(-2.1 37.3 289.3)" fill="#0c0c0c" stroke="#6a6a6a" stroke-width="0.7"/><ellipse cx="439.1" cy="314.6" rx="10.7" ry="2.6" transform="rotate(10.2 439.1 314.6)" fill="#0c0c0c" stroke="#6a6a6a" stroke-width="0.7"/><ellipse cx="26.5" cy="339.0" rx="12.8" ry="2.1" transform="rotate(-4.0 26.5 339.0)" fill="#0c0c0c" stroke="#6a6a6a" stroke-width="0.7"/><ellipse cx="433.6" cy="341.6" rx="7.4" ry="1.8" transform="rotate(-4.4 433.6 341.6)" fill="#0c0c0c" stroke="#6a6a6a" stroke-width="0.7"/><ellipse cx="46.8" cy="305.6" rx="6.5" ry="1.7" transform="rotate(1.5 46.8 305.6)" fill="#0c0c0c" stroke="#6a6a6a" stroke-width="0.7"/><ellipse cx="139.4" cy="334.1" rx="11.8" ry="1.9" transform="rotate(-3.8 139.4 334.1)" fill="#0c0c0c" stroke="#6a6a6a" stroke-width="0.7"/><ellipse cx="159.2" cy="309.3" rx="5.2" ry="1.9" transform="rotate(9.7 159.2 309.3)" fill="#0c0c0c" stroke="#6a6a6a" stroke-width="0.7"/><ellipse cx="255.8" cy="314.0" rx="6.7" ry="2.2" transform="rotate(2.6 255.8 314.0)" fill="#0c0c0c" stroke="#6a6a6a" stroke-width="0.7"/><ellipse cx="382.6" cy="303.6" rx="8.9" ry="2.2" transform="rotate(3.0 382.6 303.6)" fill="#0c0c0c" stroke="#6a6a6a" stroke-width="0.7"/><ellipse cx="234.8" cy="283.5" rx="11.2" ry="2.8" transform="rotate(-6.2 234.8 283.5)" fill="#0c0c0c" stroke="#6a6a6a" stroke-width="0.7"/><ellipse cx="329.5" cy="356.6" rx="10.7" ry="2.1" transform="rotate(-1.2 329.5 356.6)" fill="#0c0c0c" stroke="#6a6a6a" stroke-width="0.7"/><ellipse cx="56.4" cy="317.5" rx="5.6" ry="2.5" transform="rotate(-0.1 56.4 317.5)" fill="#0c0c0c" stroke="#6a6a6a" stroke-width="0.7"/><ellipse cx="35.0" cy="327.2" rx="12.6" ry="2.6" transform="rotate(-2.3 35.0 327.2)" fill="#0c0c0c" stroke="#6a6a6a" stroke-width="0.7"/><ellipse cx="109.6" cy="287.9" rx="7.6" ry="2.2" transform="rotate(3.6 109.6 287.9)" fill="#0c0c0c" stroke="#6a6a6a" stroke-width="0.7"/><ellipse cx="119.6" cy="336.5" rx="13.7" ry="2.8" transform="rotate(-4.3 119.6 336.5)" fill="#0c0c0c" stroke="#6a6a6a" stroke-width="0.7"/><ellipse cx="452.1" cy="302.8" rx="7.8" ry="2.0" transform="rotate(5.9 452.1 302.8)" fill="#0c0c0c" stroke="#6a6a6a" stroke-width="0.7"/><ellipse cx="219.6" cy="309.5" rx="9.5" ry="1.8" transform="rotate(-0.6 219.6 309.5)" fill="#0c0c0c" stroke="#6a6a6a" stroke-width="0.7"/><ellipse cx="120.0" cy="309.2" rx="5.8" ry="2.1" transform="rotate(1.2 120.0 309.2)" fill="#0c0c0c" stroke="#6a6a6a" stroke-width="0.7"/><ellipse cx="139.0" cy="311.0" rx="7.1" ry="2.3" transform="rotate(-9.8 139.0 311.0)" fill="#0c0c0c" stroke="#6a6a6a" stroke-width="0.7"/><ellipse cx="306.2" cy="300.2" rx="11.4" ry="2.7" transform="rotate(-4.1 306.2 300.2)" fill="#0c0c0c" stroke="#6a6a6a" stroke-width="0.7"/><ellipse cx="461.1" cy="326.4" rx="6.3" ry="2.5" transform="rotate(-1.1 461.1 326.4)" fill="#0c0c0c" stroke="#6a6a6a" stroke-width="0.7"/><ellipse cx="390.3" cy="302.3" rx="13.0" ry="2.4" transform="rotate(-1.1 390.3 302.3)" fill="#0c0c0c" stroke="#6a6a6a" stroke-width="0.7"/><ellipse cx="60.9" cy="254.7" rx="9.7" ry="2.2" transform="rotate(5.5 60.9 254.7)" fill="#0c0c0c" stroke="#6a6a6a" stroke-width="0.7"/><ellipse cx="386.1" cy="262.6" rx="10.3" ry="2.7" transform="rotate(-3.8 386.1 262.6)" fill="#0c0c0c" stroke="#6a6a6a" stroke-width="0.7"/><ellipse cx="103.8" cy="267.2" rx="5.3" ry="1.8" transform="rotate(-1.8 103.8 267.2)" fill="#0c0c0c" stroke="#6a6a6a" stroke-width="0.7"/><ellipse cx="390.6" cy="320.1" rx="10.0" ry="2.4" transform="rotate(-6.4 390.6 320.1)" fill="#0c0c0c" stroke="#6a6a6a" stroke-width="0.7"/><ellipse cx="226.6" cy="277.0" rx="5.0" ry="2.6" transform="rotate(-0.1 226.6 277.0)" fill="#0c0c0c" stroke="#6a6a6a" stroke-width="0.7"/><ellipse cx="248.3" cy="273.8" rx="10.9" ry="1.7" transform="rotate(-0.4 248.3 273.8)" fill="#0c0c0c" stroke="#6a6a6a" stroke-width="0.7"/><ellipse cx="30.2" cy="286.5" rx="7.4" ry="2.5" transform="rotate(2.7 30.2 286.5)" fill="#0c0c0c" stroke="#6a6a6a" stroke-width="0.7"/><ellipse cx="456.8" cy="356.6" rx="9.4" ry="2.1" transform="rotate(-9.0 456.8 356.6)" fill="#0c0c0c" stroke="#6a6a6a" stroke-width="0.7"/><ellipse cx="358.0" cy="315.3" rx="10.6" ry="2.4" transform="rotate(3.0 358.0 315.3)" fill="#0c0c0c" stroke="#6a6a6a" stroke-width="0.7"/><ellipse cx="115.2" cy="317.2" rx="11.7" ry="2.0" transform="rotate(-0.9 115.2 317.2)" fill="#0c0c0c" stroke="#6a6a6a" stroke-width="0.7"/><ellipse cx="23.7" cy="307.3" rx="7.4" ry="2.4" transform="rotate(-3.2 23.7 307.3)" fill="#0c0c0c" stroke="#6a6a6a" stroke-width="0.7"/><ellipse cx="132.7" cy="267.2" rx="9.6" ry="2.2" transform="rotate(-2.9 132.7 267.2)" fill="#0c0c0c" stroke="#6a6a6a" stroke-width="0.7"/><ellipse cx="418.0" cy="312.5" rx="6.8" ry="2.8" transform="rotate(1.0 418.0 312.5)" fill="#0c0c0c" stroke="#6a6a6a" stroke-width="0.7"/><ellipse cx="212.2" cy="307.1" rx="12.4" ry="2.8" transform="rotate(-4.5 212.2 307.1)" fill="#0c0c0c" stroke="#6a6a6a" stroke-width="0.7"/><ellipse cx="94.3" cy="316.7" rx="13.5" ry="1.9" transform="rotate(-2.9 94.3 316.7)" fill="#0c0c0c" stroke="#6a6a6a" stroke-width="0.7"/><ellipse cx="243.0" cy="301.2" rx="13.6" ry="1.8" transform="rotate(3.1 243.0 301.2)" fill="#0c0c0c" stroke="#6a6a6a" stroke-width="0.7"/><ellipse cx="414.8" cy="277.0" rx="11.3" ry="1.9" transform="rotate(5.5 414.8 277.0)" fill="#0c0c0c" stroke="#6a6a6a" stroke-width="0.7"/><ellipse cx="6.8" cy="288.6" rx="5.0" ry="2.2" transform="rotate(-4.8 6.8 288.6)" fill="#0c0c0c" stroke="#6a6a6a" stroke-width="0.7"/><ellipse cx="61.6" cy="317.0" rx="8.1" ry="2.0" transform="rotate(0.2 61.6 317.0)" fill="#0c0c0c" stroke="#6a6a6a" stroke-width="0.7"/><ellipse cx="350.3" cy="307.8" rx="12.6" ry="1.7" transform="rotate(8.5 350.3 307.8)" fill="#0c0c0c" stroke="#6a6a6a" stroke-width="0.7"/><ellipse cx="421.7" cy="288.2" rx="7.6" ry="2.0" transform="rotate(-17.2 421.7 288.2)" fill="#0c0c0c" stroke="#6a6a6a" stroke-width="0.7"/><ellipse cx="197.6" cy="307.8" rx="5.9" ry="2.6" transform="rotate(1.9 197.6 307.8)" fill="#0c0c0c" stroke="#6a6a6a" stroke-width="0.7"/><ellipse cx="130.2" cy="330.2" rx="7.4" ry="2.2" transform="rotate(-1.8 130.2 330.2)" fill="#0c0c0c" stroke="#6a6a6a" stroke-width="0.7"/><ellipse cx="84.9" cy="256.8" rx="13.0" ry="2.6" transform="rotate(10.7 84.9 256.8)" fill="#0c0c0c" stroke="#6a6a6a" stroke-width="0.7"/><ellipse cx="293.6" cy="370.3" rx="11.5" ry="1.7" transform="rotate(-7.4 293.6 370.3)" fill="#0c0c0c" stroke="#6a6a6a" stroke-width="0.7"/><ellipse cx="341.6" cy="261.5" rx="10.8" ry="1.9" transform="rotate(3.0 341.6 261.5)" fill="#0c0c0c" stroke="#6a6a6a" stroke-width="0.7"/><ellipse cx="18.2" cy="323.3" rx="9.2" ry="2.0" transform="rotate(-1.4 18.2 323.3)" fill="#0c0c0c" stroke="#6a6a6a" stroke-width="0.7"/><ellipse cx="135.9" cy="303.6" rx="7.3" ry="2.4" transform="rotate(-16.4 135.9 303.6)" fill="#0c0c0c" stroke="#6a6a6a" stroke-width="0.7"/><ellipse cx="137.4" cy="281.2" rx="6.5" ry="1.8" transform="rotate(-2.1 137.4 281.2)" fill="#0c0c0c" stroke="#6a6a6a" stroke-width="0.7"/><ellipse cx="93.4" cy="338.5" rx="7.0" ry="2.7" transform="rotate(-3.9 93.4 338.5)" fill="#0c0c0c" stroke="#6a6a6a" stroke-width="0.7"/><ellipse cx="466.6" cy="293.7" rx="6.7" ry="1.7" transform="rotate(1.0 466.6 293.7)" fill="#0c0c0c" stroke="#6a6a6a" stroke-width="0.7"/><ellipse cx="156.8" cy="327.9" rx="7.3" ry="2.3" transform="rotate(2.4 156.8 327.9)" fill="#0c0c0c" stroke="#6a6a6a" stroke-width="0.7"/><ellipse cx="414.9" cy="309.2" rx="8.7" ry="2.2" transform="rotate(-6.2 414.9 309.2)" fill="#0c0c0c" stroke="#6a6a6a" stroke-width="0.7"/><ellipse cx="173.4" cy="303.6" rx="7.5" ry="2.8" transform="rotate(1.8 173.4 303.6)" fill="#0c0c0c" stroke="#6a6a6a" stroke-width="0.7"/><ellipse cx="54.6" cy="267.0" rx="12.8" ry="1.9" transform="rotate(-0.2 54.6 267.0)" fill="#0c0c0c" stroke="#6a6a6a" stroke-width="0.7"/><ellipse cx="123.3" cy="309.6" rx="9.0" ry="2.7" transform="rotate(6.1 123.3 309.6)" fill="#0c0c0c" stroke="#6a6a6a" stroke-width="0.7"/><ellipse cx="396.7" cy="313.7" rx="5.3" ry="2.5" transform="rotate(-0.9 396.7 313.7)" fill="#0c0c0c" stroke="#6a6a6a" stroke-width="0.7"/><ellipse cx="418.9" cy="270.0" rx="5.0" ry="2.1" transform="rotate(1.3 418.9 270.0)" fill="#0c0c0c" stroke="#6a6a6a" stroke-width="0.7"/><ellipse cx="433.7" cy="336.3" rx="13.8" ry="1.9" transform="rotate(-10.5 433.7 336.3)" fill="#0c0c0c" stroke="#6a6a6a" stroke-width="0.7"/><ellipse cx="46.6" cy="329.9" rx="11.1" ry="2.7" transform="rotate(6.0 46.6 329.9)" fill="#0c0c0c" stroke="#6a6a6a" stroke-width="0.7"/><ellipse cx="336.6" cy="278.6" rx="9.1" ry="2.3" transform="rotate(-8.2 336.6 278.6)" fill="#0c0c0c" stroke="#6a6a6a" stroke-width="0.7"/><ellipse cx="13.7" cy="313.7" rx="13.3" ry="2.4" transform="rotate(-4.3 13.7 313.7)" fill="#0c0c0c" stroke="#6a6a6a" stroke-width="0.7"/><ellipse cx="138.8" cy="325.2" rx="10.7" ry="2.4" transform="rotate(3.3 138.8 325.2)" fill="#0c0c0c" stroke="#6a6a6a" stroke-width="0.7"/><ellipse cx="48.1" cy="342.4" rx="10.2" ry="2.1" transform="rotate(3.1 48.1 342.4)" fill="#0c0c0c" stroke="#6a6a6a" stroke-width="0.7"/><ellipse cx="100.8" cy="305.8" rx="7.7" ry="2.2" transform="rotate(-0.5 100.8 305.8)" fill="#0c0c0c" stroke="#6a6a6a" stroke-width="0.7"/><ellipse cx="448.9" cy="271.0" rx="9.3" ry="1.9" transform="rotate(-9.8 448.9 271.0)" fill="#0c0c0c" stroke="#6a6a6a" stroke-width="0.7"/><ellipse cx="111.9" cy="354.7" rx="7.8" ry="1.6" transform="rotate(-2.3 111.9 354.7)" fill="#0c0c0c" stroke="#6a6a6a" stroke-width="0.7"/><ellipse cx="230.9" cy="295.0" rx="7.3" ry="2.4" transform="rotate(-5.6 230.9 295.0)" fill="#0c0c0c" stroke="#6a6a6a" stroke-width="0.7"/><ellipse cx="432.9" cy="310.4" rx="8.0" ry="2.1" transform="rotate(1.6 432.9 310.4)" fill="#0c0c0c" stroke="#6a6a6a" stroke-width="0.7"/><ellipse cx="318.1" cy="326.5" rx="11.7" ry="2.2" transform="rotate(10.2 318.1 326.5)" fill="#0c0c0c" stroke="#6a6a6a" stroke-width="0.7"/><ellipse cx="92.1" cy="334.8" rx="12.4" ry="1.9" transform="rotate(-1.0 92.1 334.8)" fill="#0c0c0c" stroke="#6a6a6a" stroke-width="0.7"/><ellipse cx="99.8" cy="310.9" rx="13.6" ry="2.2" transform="rotate(-5.0 99.8 310.9)" fill="#0c0c0c" stroke="#6a6a6a" stroke-width="0.7"/><ellipse cx="83.7" cy="314.5" rx="11.0" ry="2.7" transform="rotate(6.1 83.7 314.5)" fill="#0c0c0c" stroke="#6a6a6a" stroke-width="0.7"/><ellipse cx="64.3" cy="293.0" rx="13.8" ry="1.8" transform="rotate(2.6 64.3 293.0)" fill="#0c0c0c" stroke="#6a6a6a" stroke-width="0.7"/><ellipse cx="19.5" cy="337.2" rx="13.1" ry="2.7" transform="rotate(2.2 19.5 337.2)" fill="#0c0c0c" stroke="#6a6a6a" stroke-width="0.7"/><ellipse cx="82.8" cy="308.2" rx="13.4" ry="2.5" transform="rotate(8.7 82.8 308.2)" fill="#0c0c0c" stroke="#6a6a6a" stroke-width="0.7"/><ellipse cx="174.2" cy="318.1" rx="8.4" ry="2.0" transform="rotate(0.2 174.2 318.1)" fill="#0c0c0c" stroke="#6a6a6a" stroke-width="0.7"/><ellipse cx="127.4" cy="311.3" rx="8.2" ry="2.7" transform="rotate(11.0 127.4 311.3)" fill="#0c0c0c" stroke="#6a6a6a" stroke-width="0.7"/><ellipse cx="383.9" cy="323.3" rx="5.4" ry="2.2" transform="rotate(-5.7 383.9 323.3)" fill="#0c0c0c" stroke="#6a6a6a" stroke-width="0.7"/><ellipse cx="171.4" cy="326.5" rx="8.3" ry="2.7" transform="rotate(-1.9 171.4 326.5)" fill="#0c0c0c" stroke="#6a6a6a" stroke-width="0.7"/><ellipse cx="9.3" cy="262.9" rx="11.9" ry="1.6" transform="rotate(5.8 9.3 262.9)" fill="#0c0c0c" stroke="#6a6a6a" stroke-width="0.7"/><ellipse cx="348.7" cy="335.1" rx="13.1" ry="2.0" transform="rotate(-2.1 348.7 335.1)" fill="#0c0c0c" stroke="#6a6a6a" stroke-width="0.7"/><ellipse cx="334.2" cy="299.5" rx="5.0" ry="2.5" transform="rotate(4.4 334.2 299.5)" fill="#0c0c0c" stroke="#6a6a6a" stroke-width="0.7"/><ellipse cx="428.8" cy="261.4" rx="5.2" ry="1.9" transform="rotate(-10.7 428.8 261.4)" fill="#0c0c0c" stroke="#6a6a6a" stroke-width="0.7"/><ellipse cx="113.8" cy="289.3" rx="8.9" ry="2.2" transform="rotate(3.4 113.8 289.3)" fill="#0c0c0c" stroke="#6a6a6a" stroke-width="0.7"/><ellipse cx="374.9" cy="301.0" rx="11.6" ry="2.6" transform="rotate(1.2 374.9 301.0)" fill="#0c0c0c" stroke="#6a6a6a" stroke-width="0.7"/><ellipse cx="150.1" cy="268.7" rx="7.9" ry="2.0" transform="rotate(0.5 150.1 268.7)" fill="#0c0c0c" stroke="#6a6a6a" stroke-width="0.7"/><ellipse cx="88.4" cy="297.4" rx="11.8" ry="1.9" transform="rotate(1.4 88.4 297.4)" fill="#0c0c0c" stroke="#6a6a6a" stroke-width="0.7"/><ellipse cx="256.5" cy="312.4" rx="7.9" ry="2.8" transform="rotate(13.3 256.5 312.4)" fill="#0c0c0c" stroke="#6a6a6a" stroke-width="0.7"/><ellipse cx="34.8" cy="338.3" rx="11.4" ry="2.1" transform="rotate(4.0 34.8 338.3)" fill="#0c0c0c" stroke="#6a6a6a" stroke-width="0.7"/><ellipse cx="105.8" cy="273.1" rx="11.1" ry="2.5" transform="rotate(4.2 105.8 273.1)" fill="#0c0c0c" stroke="#6a6a6a" stroke-width="0.7"/><ellipse cx="395.9" cy="301.5" rx="12.6" ry="2.0" transform="rotate(-2.6 395.9 301.5)" fill="#0c0c0c" stroke="#6a6a6a" stroke-width="0.7"/><ellipse cx="263.3" cy="275.0" rx="6.8" ry="1.9" transform="rotate(7.0 263.3 275.0)" fill="#0c0c0c" stroke="#6a6a6a" stroke-width="0.7"/><ellipse cx="111.1" cy="344.9" rx="10.2" ry="2.0" transform="rotate(10.2 111.1 344.9)" fill="#0c0c0c" stroke="#6a6a6a" stroke-width="0.7"/><ellipse cx="182.5" cy="345.0" rx="7.1" ry="2.6" transform="rotate(-0.3 182.5 345.0)" fill="#0c0c0c" stroke="#6a6a6a" stroke-width="0.7"/><ellipse cx="304.2" cy="323.2" rx="9.3" ry="2.6" transform="rotate(-0.2 304.2 323.2)" fill="#0c0c0c" stroke="#6a6a6a" stroke-width="0.7"/><ellipse cx="392.8" cy="316.7" rx="7.6" ry="1.7" transform="rotate(-0.9 392.8 316.7)" fill="#0c0c0c" stroke="#6a6a6a" stroke-width="0.7"/><ellipse cx="84.7" cy="348.4" rx="13.4" ry="2.0" transform="rotate(-1.3 84.7 348.4)" fill="#0c0c0c" stroke="#6a6a6a" stroke-width="0.7"/><ellipse cx="404.9" cy="287.2" rx="12.0" ry="2.7" transform="rotate(1.5 404.9 287.2)" fill="#0c0c0c" stroke="#6a6a6a" stroke-width="0.7"/><ellipse cx="45.1" cy="275.0" rx="7.0" ry="2.0" transform="rotate(-4.7 45.1 275.0)" fill="#0c0c0c" stroke="#6a6a6a" stroke-width="0.7"/><ellipse cx="61.9" cy="315.9" rx="10.4" ry="2.4" transform="rotate(4.4 61.9 315.9)" fill="#0c0c0c" stroke="#6a6a6a" stroke-width="0.7"/><ellipse cx="91.3" cy="335.9" rx="11.1" ry="1.8" transform="rotate(0.4 91.3 335.9)" fill="#0c0c0c" stroke="#6a6a6a" stroke-width="0.7"/><ellipse cx="142.8" cy="324.7" rx="9.9" ry="1.7" transform="rotate(10.2 142.8 324.7)" fill="#0c0c0c" stroke="#6a6a6a" stroke-width="0.7"/><ellipse cx="43.0" cy="279.3" rx="10.8" ry="1.7" transform="rotate(4.6 43.0 279.3)" fill="#0c0c0c" stroke="#6a6a6a" stroke-width="0.7"/><ellipse cx="72.5" cy="298.9" rx="7.5" ry="2.0" transform="rotate(-5.8 72.5 298.9)" fill="#0c0c0c" stroke="#6a6a6a" stroke-width="0.7"/><ellipse cx="446.1" cy="294.5" rx="8.2" ry="2.1" transform="rotate(7.2 446.1 294.5)" fill="#0c0c0c" stroke="#6a6a6a" stroke-width="0.7"/><ellipse cx="404.0" cy="337.8" rx="6.8" ry="2.5" transform="rotate(-0.1 404.0 337.8)" fill="#0c0c0c" stroke="#6a6a6a" stroke-width="0.7"/><ellipse cx="383.3" cy="311.7" rx="8.7" ry="2.7" transform="rotate(-3.5 383.3 311.7)" fill="#0c0c0c" stroke="#6a6a6a" stroke-width="0.7"/><ellipse cx="2.0" cy="313.6" rx="10.0" ry="2.4" transform="rotate(2.2 2.0 313.6)" fill="#0c0c0c" stroke="#6a6a6a" stroke-width="0.7"/><ellipse cx="289.5" cy="302.3" rx="8.3" ry="2.2" transform="rotate(3.0 289.5 302.3)" fill="#0c0c0c" stroke="#6a6a6a" stroke-width="0.7"/><ellipse cx="241.7" cy="328.7" rx="13.3" ry="1.7" transform="rotate(-10.8 241.7 328.7)" fill="#0c0c0c" stroke="#6a6a6a" stroke-width="0.7"/><ellipse cx="452.6" cy="312.5" rx="6.8" ry="1.8" transform="rotate(15.3 452.6 312.5)" fill="#0c0c0c" stroke="#6a6a6a" stroke-width="0.7"/><ellipse cx="223.5" cy="280.7" rx="5.5" ry="2.7" transform="rotate(-9.9 223.5 280.7)" fill="#0c0c0c" stroke="#6a6a6a" stroke-width="0.7"/><ellipse cx="288.6" cy="351.4" rx="12.4" ry="1.8" transform="rotate(0.9 288.6 351.4)" fill="#0c0c0c" stroke="#6a6a6a" stroke-width="0.7"/><ellipse cx="186.4" cy="288.6" rx="12.6" ry="2.6" transform="rotate(1.7 186.4 288.6)" fill="#0c0c0c" stroke="#6a6a6a" stroke-width="0.7"/><ellipse cx="184.2" cy="328.5" rx="9.7" ry="2.1" transform="rotate(3.2 184.2 328.5)" fill="#0c0c0c" stroke="#6a6a6a" stroke-width="0.7"/><ellipse cx="338.1" cy="325.1" rx="13.1" ry="1.6" transform="rotate(-9.3 338.1 325.1)" fill="#0c0c0c" stroke="#6a6a6a" stroke-width="0.7"/><ellipse cx="13.0" cy="290.0" rx="12.5" ry="1.7" transform="rotate(-6.1 13.0 290.0)" fill="#0c0c0c" stroke="#6a6a6a" stroke-width="0.7"/><ellipse cx="291.8" cy="287.1" rx="7.8" ry="2.1" transform="rotate(-5.5 291.8 287.1)" fill="#0c0c0c" stroke="#6a6a6a" stroke-width="0.7"/><ellipse cx="306.8" cy="293.6" rx="9.0" ry="2.1" transform="rotate(8.2 306.8 293.6)" fill="#0c0c0c" stroke="#6a6a6a" stroke-width="0.7"/><ellipse cx="226.7" cy="315.4" rx="7.1" ry="2.5" transform="rotate(1.2 226.7 315.4)" fill="#0c0c0c" stroke="#6a6a6a" stroke-width="0.7"/><ellipse cx="80.0" cy="276.7" rx="9.3" ry="1.7" transform="rotate(4.4 80.0 276.7)" fill="#0c0c0c" stroke="#6a6a6a" stroke-width="0.7"/><ellipse cx="38.4" cy="332.3" rx="9.0" ry="2.2" transform="rotate(8.3 38.4 332.3)" fill="#0c0c0c" stroke="#6a6a6a" stroke-width="0.7"/><ellipse cx="33.9" cy="320.1" rx="11.6" ry="2.5" transform="rotate(-2.0 33.9 320.1)" fill="#0c0c0c" stroke="#6a6a6a" stroke-width="0.7"/><ellipse cx="233.5" cy="308.6" rx="8.4" ry="2.7" transform="rotate(7.8 233.5 308.6)" fill="#0c0c0c" stroke="#6a6a6a" stroke-width="0.7"/><ellipse cx="466.5" cy="354.0" rx="11.6" ry="2.6" transform="rotate(5.9 466.5 354.0)" fill="#0c0c0c" stroke="#6a6a6a" stroke-width="0.7"/><ellipse cx="227.8" cy="388.9" rx="13.2" ry="1.8" transform="rotate(3.3 227.8 388.9)" fill="#0c0c0c" stroke="#6a6a6a" stroke-width="0.7"/><ellipse cx="161.1" cy="310.0" rx="13.1" ry="1.9" transform="rotate(-3.5 161.1 310.0)" fill="#0c0c0c" stroke="#6a6a6a" stroke-width="0.7"/><ellipse cx="381.0" cy="331.3" rx="13.3" ry="1.8" transform="rotate(5.6 381.0 331.3)" fill="#0c0c0c" stroke="#6a6a6a" stroke-width="0.7"/><ellipse cx="119.4" cy="283.0" rx="5.3" ry="1.8" transform="rotate(-0.2 119.4 283.0)" fill="#0c0c0c" stroke="#6a6a6a" stroke-width="0.7"/><ellipse cx="71.3" cy="351.0" rx="13.1" ry="1.8" transform="rotate(-3.5 71.3 351.0)" fill="#0c0c0c" stroke="#6a6a6a" stroke-width="0.7"/><ellipse cx="366.5" cy="337.0" rx="10.7" ry="2.0" transform="rotate(4.9 366.5 337.0)" fill="#0c0c0c" stroke="#6a6a6a" stroke-width="0.7"/><ellipse cx="408.2" cy="272.1" rx="12.9" ry="1.7" transform="rotate(-2.7 408.2 272.1)" fill="#0c0c0c" stroke="#6a6a6a" stroke-width="0.7"/><ellipse cx="465.0" cy="288.7" rx="12.2" ry="1.9" transform="rotate(-4.4 465.0 288.7)" fill="#0c0c0c" stroke="#6a6a6a" stroke-width="0.7"/><ellipse cx="463.8" cy="284.2" rx="11.9" ry="2.1" transform="rotate(-2.6 463.8 284.2)" fill="#0c0c0c" stroke="#6a6a6a" stroke-width="0.7"/><ellipse cx="78.7" cy="308.9" rx="12.4" ry="1.9" transform="rotate(-1.9 78.7 308.9)" fill="#0c0c0c" stroke="#6a6a6a" stroke-width="0.7"/><ellipse cx="297.6" cy="348.9" rx="11.0" ry="2.0" transform="rotate(-0.8 297.6 348.9)" fill="#0c0c0c" stroke="#6a6a6a" stroke-width="0.7"/><ellipse cx="-4.2" cy="326.0" rx="10.5" ry="2.1" transform="rotate(0.7 -4.2 326.0)" fill="#0c0c0c" stroke="#6a6a6a" stroke-width="0.7"/><ellipse cx="237.7" cy="321.9" rx="7.0" ry="2.4" transform="rotate(-1.9 237.7 321.9)" fill="#0c0c0c" stroke="#6a6a6a" stroke-width="0.7"/><ellipse cx="5.5" cy="337.4" rx="6.0" ry="2.0" transform="rotate(0.1 5.5 337.4)" fill="#0c0c0c" stroke="#6a6a6a" stroke-width="0.7"/><ellipse cx="101.1" cy="274.7" rx="6.8" ry="2.3" transform="rotate(-4.0 101.1 274.7)" fill="#0c0c0c" stroke="#6a6a6a" stroke-width="0.7"/><ellipse cx="219.8" cy="356.0" rx="7.2" ry="1.8" transform="rotate(10.6 219.8 356.0)" fill="#0c0c0c" stroke="#6a6a6a" stroke-width="0.7"/><ellipse cx="40.3" cy="270.1" rx="12.0" ry="2.1" transform="rotate(-9.3 40.3 270.1)" fill="#0c0c0c" stroke="#6a6a6a" stroke-width="0.7"/><ellipse cx="120.1" cy="352.4" rx="10.1" ry="2.0" transform="rotate(0.6 120.1 352.4)" fill="#0c0c0c" stroke="#6a6a6a" stroke-width="0.7"/><ellipse cx="342.2" cy="333.7" rx="7.2" ry="2.7" transform="rotate(7.1 342.2 333.7)" fill="#0c0c0c" stroke="#6a6a6a" stroke-width="0.7"/><ellipse cx="187.2" cy="319.4" rx="7.1" ry="1.7" transform="rotate(0.2 187.2 319.4)" fill="#0c0c0c" stroke="#6a6a6a" stroke-width="0.7"/><ellipse cx="255.8" cy="304.6" rx="13.5" ry="1.8" transform="rotate(2.6 255.8 304.6)" fill="#0c0c0c" stroke="#6a6a6a" stroke-width="0.7"/><ellipse cx="234.9" cy="348.3" rx="10.8" ry="2.6" transform="rotate(2.4 234.9 348.3)" fill="#0c0c0c" stroke="#6a6a6a" stroke-width="0.7"/><ellipse cx="137.1" cy="332.3" rx="5.4" ry="2.7" transform="rotate(2.0 137.1 332.3)" fill="#0c0c0c" stroke="#6a6a6a" stroke-width="0.7"/><ellipse cx="-2.0" cy="262.8" rx="12.6" ry="2.5" transform="rotate(-9.6 -2.0 262.8)" fill="#0c0c0c" stroke="#6a6a6a" stroke-width="0.7"/><ellipse cx="209.2" cy="320.0" rx="7.0" ry="1.7" transform="rotate(0.2 209.2 320.0)" fill="#0c0c0c" stroke="#6a6a6a" stroke-width="0.7"/><ellipse cx="153.8" cy="317.7" rx="11.7" ry="2.4" transform="rotate(5.3 153.8 317.7)" fill="#0c0c0c" stroke="#6a6a6a" stroke-width="0.7"/><ellipse cx="120.9" cy="270.2" rx="10.0" ry="2.1" transform="rotate(1.7 120.9 270.2)" fill="#0c0c0c" stroke="#6a6a6a" stroke-width="0.7"/><ellipse cx="120.6" cy="273.8" rx="10.8" ry="2.8" transform="rotate(2.5 120.6 273.8)" fill="#0c0c0c" stroke="#6a6a6a" stroke-width="0.7"/><ellipse cx="106.8" cy="306.5" rx="11.7" ry="2.0" transform="rotate(-14.4 106.8 306.5)" fill="#0c0c0c" stroke="#6a6a6a" stroke-width="0.7"/><ellipse cx="411.6" cy="298.8" rx="13.2" ry="2.4" transform="rotate(3.9 411.6 298.8)" fill="#0c0c0c" stroke="#6a6a6a" stroke-width="0.7"/><ellipse cx="322.9" cy="267.0" rx="9.2" ry="2.6" transform="rotate(-14.4 322.9 267.0)" fill="#0c0c0c" stroke="#6a6a6a" stroke-width="0.7"/><ellipse cx="325.2" cy="329.4" rx="11.5" ry="2.3" transform="rotate(-5.0 325.2 329.4)" fill="#0c0c0c" stroke="#6a6a6a" stroke-width="0.7"/><ellipse cx="140.7" cy="319.2" rx="5.7" ry="2.7" transform="rotate(8.1 140.7 319.2)" fill="#0c0c0c" stroke="#6a6a6a" stroke-width="0.7"/><ellipse cx="63.4" cy="323.3" rx="13.4" ry="2.0" transform="rotate(0.5 63.4 323.3)" fill="#0c0c0c" stroke="#6a6a6a" stroke-width="0.7"/><ellipse cx="62.1" cy="317.9" rx="11.2" ry="2.4" transform="rotate(0.3 62.1 317.9)" fill="#0c0c0c" stroke="#6a6a6a" stroke-width="0.7"/><ellipse cx="324.9" cy="308.4" rx="10.3" ry="2.0" transform="rotate(-2.2 324.9 308.4)" fill="#0c0c0c" stroke="#6a6a6a" stroke-width="0.7"/><ellipse cx="382.0" cy="336.1" rx="5.6" ry="2.6" transform="rotate(-11.5 382.0 336.1)" fill="#0c0c0c" stroke="#6a6a6a" stroke-width="0.7"/><ellipse cx="427.8" cy="322.7" rx="6.9" ry="1.7" transform="rotate(-1.0 427.8 322.7)" fill="#0c0c0c" stroke="#6a6a6a" stroke-width="0.7"/><ellipse cx="11.3" cy="340.9" rx="10.7" ry="2.6" transform="rotate(-9.0 11.3 340.9)" fill="#0c0c0c" stroke="#6a6a6a" stroke-width="0.7"/><ellipse cx="293.9" cy="306.1" rx="5.9" ry="2.5" transform="rotate(2.7 293.9 306.1)" fill="#0c0c0c" stroke="#6a6a6a" stroke-width="0.7"/><ellipse cx="92.0" cy="296.0" rx="5.2" ry="1.9" transform="rotate(5.7 92.0 296.0)" fill="#0c0c0c" stroke="#6a6a6a" stroke-width="0.7"/><ellipse cx="128.8" cy="303.2" rx="7.9" ry="2.8" transform="rotate(-5.6 128.8 303.2)" fill="#0c0c0c" stroke="#6a6a6a" stroke-width="0.7"/><ellipse cx="233.4" cy="334.1" rx="5.3" ry="2.1" transform="rotate(-6.7 233.4 334.1)" fill="#0c0c0c" stroke="#6a6a6a" stroke-width="0.7"/><ellipse cx="201.6" cy="313.3" rx="11.3" ry="2.2" transform="rotate(-5.5 201.6 313.3)" fill="#0c0c0c" stroke="#6a6a6a" stroke-width="0.7"/><ellipse cx="97.5" cy="317.8" rx="12.4" ry="1.8" transform="rotate(-2.0 97.5 317.8)" fill="#0c0c0c" stroke="#6a6a6a" stroke-width="0.7"/><ellipse cx="-4.4" cy="324.4" rx="13.8" ry="1.6" transform="rotate(9.7 -4.4 324.4)" fill="#0c0c0c" stroke="#6a6a6a" stroke-width="0.7"/><ellipse cx="227.3" cy="255.8" rx="6.7" ry="2.2" transform="rotate(0.6 227.3 255.8)" fill="#0c0c0c" stroke="#6a6a6a" stroke-width="0.7"/><ellipse cx="159.3" cy="320.8" rx="13.5" ry="1.9" transform="rotate(-4.1 159.3 320.8)" fill="#0c0c0c" stroke="#6a6a6a" stroke-width="0.7"/><ellipse cx="96.6" cy="298.3" rx="6.0" ry="2.4" transform="rotate(-6.7 96.6 298.3)" fill="#0c0c0c" stroke="#6a6a6a" stroke-width="0.7"/><ellipse cx="33.3" cy="320.2" rx="12.1" ry="2.4" transform="rotate(-9.0 33.3 320.2)" fill="#0c0c0c" stroke="#6a6a6a" stroke-width="0.7"/><ellipse cx="163.3" cy="284.8" rx="13.0" ry="1.7" transform="rotate(3.5 163.3 284.8)" fill="#0c0c0c" stroke="#6a6a6a" stroke-width="0.7"/><ellipse cx="415.5" cy="329.4" rx="7.4" ry="2.7" transform="rotate(0.6 415.5 329.4)" fill="#0c0c0c" stroke="#6a6a6a" stroke-width="0.7"/><ellipse cx="232.2" cy="264.1" rx="7.1" ry="2.2" transform="rotate(8.6 232.2 264.1)" fill="#0c0c0c" stroke="#6a6a6a" stroke-width="0.7"/><ellipse cx="246.6" cy="310.7" rx="10.8" ry="2.0" transform="rotate(-10.0 246.6 310.7)" fill="#0c0c0c" stroke="#6a6a6a" stroke-width="0.7"/><ellipse cx="149.6" cy="341.7" rx="11.0" ry="2.5" transform="rotate(9.6 149.6 341.7)" fill="#0c0c0c" stroke="#6a6a6a" stroke-width="0.7"/><ellipse cx="75.2" cy="261.4" rx="10.2" ry="1.8" transform="rotate(3.9 75.2 261.4)" fill="#0c0c0c" stroke="#6a6a6a" stroke-width="0.7"/><ellipse cx="213.7" cy="325.9" rx="6.7" ry="2.0" transform="rotate(-2.9 213.7 325.9)" fill="#0c0c0c" stroke="#6a6a6a" stroke-width="0.7"/><ellipse cx="327.8" cy="319.0" rx="6.4" ry="1.9" transform="rotate(-2.9 327.8 319.0)" fill="#0c0c0c" stroke="#6a6a6a" stroke-width="0.7"/><ellipse cx="149.6" cy="291.7" rx="8.0" ry="1.8" transform="rotate(-0.5 149.6 291.7)" fill="#0c0c0c" stroke="#6a6a6a" stroke-width="0.7"/><ellipse cx="456.5" cy="307.4" rx="13.7" ry="1.7" transform="rotate(-2.8 456.5 307.4)" fill="#0c0c0c" stroke="#6a6a6a" stroke-width="0.7"/><ellipse cx="176.9" cy="362.4" rx="8.9" ry="1.8" transform="rotate(-1.1 176.9 362.4)" fill="#0c0c0c" stroke="#6a6a6a" stroke-width="0.7"/><ellipse cx="297.0" cy="325.3" rx="8.5" ry="1.6" transform="rotate(2.5 297.0 325.3)" fill="#0c0c0c" stroke="#6a6a6a" stroke-width="0.7"/><ellipse cx="183.9" cy="321.1" rx="9.5" ry="2.4" transform="rotate(-8.9 183.9 321.1)" fill="#0c0c0c" stroke="#6a6a6a" stroke-width="0.7"/><ellipse cx="214.3" cy="335.0" rx="8.6" ry="2.5" transform="rotate(6.3 214.3 335.0)" fill="#0c0c0c" stroke="#6a6a6a" stroke-width="0.7"/><ellipse cx="424.8" cy="273.8" rx="11.7" ry="2.1" transform="rotate(3.3 424.8 273.8)" fill="#0c0c0c" stroke="#6a6a6a" stroke-width="0.7"/><ellipse cx="103.2" cy="298.6" rx="12.0" ry="2.4" transform="rotate(-12.2 103.2 298.6)" fill="#0c0c0c" stroke="#6a6a6a" stroke-width="0.7"/><ellipse cx="398.5" cy="290.9" rx="9.1" ry="2.0" transform="rotate(-7.8 398.5 290.9)" fill="#0c0c0c" stroke="#6a6a6a" stroke-width="0.7"/><ellipse cx="292.4" cy="334.9" rx="12.0" ry="2.5" transform="rotate(3.6 292.4 334.9)" fill="#0c0c0c" stroke="#6a6a6a" stroke-width="0.7"/><ellipse cx="293.0" cy="309.3" rx="9.1" ry="2.3" transform="rotate(6.3 293.0 309.3)" fill="#0c0c0c" stroke="#6a6a6a" stroke-width="0.7"/><ellipse cx="188.7" cy="278.0" rx="6.6" ry="2.4" transform="rotate(-12.3 188.7 278.0)" fill="#0c0c0c" stroke="#6a6a6a" stroke-width="0.7"/><ellipse cx="363.3" cy="282.7" rx="13.8" ry="1.6" transform="rotate(4.5 363.3 282.7)" fill="#0c0c0c" stroke="#6a6a6a" stroke-width="0.7"/><ellipse cx="252.2" cy="337.1" rx="13.5" ry="2.2" transform="rotate(8.9 252.2 337.1)" fill="#0c0c0c" stroke="#6a6a6a" stroke-width="0.7"/><ellipse cx="42.8" cy="275.9" rx="11.5" ry="2.2" transform="rotate(-3.4 42.8 275.9)" fill="#0c0c0c" stroke="#6a6a6a" stroke-width="0.7"/><ellipse cx="297.6" cy="326.6" rx="8.7" ry="2.7" transform="rotate(-6.4 297.6 326.6)" fill="#0c0c0c" stroke="#6a6a6a" stroke-width="0.7"/><ellipse cx="94.4" cy="297.3" rx="11.9" ry="1.7" transform="rotate(-5.5 94.4 297.3)" fill="#0c0c0c" stroke="#6a6a6a" stroke-width="0.7"/><ellipse cx="460.9" cy="303.0" rx="7.5" ry="2.1" transform="rotate(1.6 460.9 303.0)" fill="#0c0c0c" stroke="#6a6a6a" stroke-width="0.7"/><ellipse cx="1.3" cy="282.0" rx="11.3" ry="2.0" transform="rotate(3.1 1.3 282.0)" fill="#0c0c0c" stroke="#6a6a6a" stroke-width="0.7"/><ellipse cx="120.5" cy="317.2" rx="13.5" ry="2.2" transform="rotate(9.7 120.5 317.2)" fill="#0c0c0c" stroke="#6a6a6a" stroke-width="0.7"/><ellipse cx="98.6" cy="318.8" rx="6.9" ry="1.8" transform="rotate(-5.7 98.6 318.8)" fill="#0c0c0c" stroke="#6a6a6a" stroke-width="0.7"/><ellipse cx="362.6" cy="324.9" rx="9.2" ry="2.3" transform="rotate(-7.9 362.6 324.9)" fill="#0c0c0c" stroke="#6a6a6a" stroke-width="0.7"/><ellipse cx="102.0" cy="336.6" rx="10.7" ry="2.6" transform="rotate(-1.3 102.0 336.6)" fill="#0c0c0c" stroke="#6a6a6a" stroke-width="0.7"/><ellipse cx="381.3" cy="284.8" rx="9.9" ry="1.8" transform="rotate(1.0 381.3 284.8)" fill="#0c0c0c" stroke="#6a6a6a" stroke-width="0.7"/><ellipse cx="389.6" cy="273.5" rx="7.4" ry="2.1" transform="rotate(9.3 389.6 273.5)" fill="#0c0c0c" stroke="#6a6a6a" stroke-width="0.7"/><ellipse cx="115.0" cy="292.1" rx="5.0" ry="2.5" transform="rotate(1.7 115.0 292.1)" fill="#0c0c0c" stroke="#6a6a6a" stroke-width="0.7"/><ellipse cx="128.1" cy="310.1" rx="9.3" ry="2.1" transform="rotate(5.1 128.1 310.1)" fill="#0c0c0c" stroke="#6a6a6a" stroke-width="0.7"/><ellipse cx="296.6" cy="293.9" rx="13.4" ry="2.6" transform="rotate(-4.8 296.6 293.9)" fill="#0c0c0c" stroke="#6a6a6a" stroke-width="0.7"/><ellipse cx="22.0" cy="340.0" rx="12.1" ry="1.8" transform="rotate(-11.5 22.0 340.0)" fill="#0c0c0c" stroke="#6a6a6a" stroke-width="0.7"/><ellipse cx="388.5" cy="305.8" rx="5.1" ry="2.7" transform="rotate(-0.8 388.5 305.8)" fill="#0c0c0c" stroke="#6a6a6a" stroke-width="0.7"/><ellipse cx="305.5" cy="309.3" rx="6.3" ry="1.9" transform="rotate(2.8 305.5 309.3)" fill="#0c0c0c" stroke="#6a6a6a" stroke-width="0.7"/><ellipse cx="362.4" cy="299.5" rx="13.1" ry="2.6" transform="rotate(2.8 362.4 299.5)" fill="#0c0c0c" stroke="#6a6a6a" stroke-width="0.7"/><ellipse cx="74.5" cy="341.1" rx="12.0" ry="2.4" transform="rotate(-5.2 74.5 341.1)" fill="#0c0c0c" stroke="#6a6a6a" stroke-width="0.7"/><ellipse cx="418.1" cy="322.9" rx="6.8" ry="2.4" transform="rotate(-11.1 418.1 322.9)" fill="#0c0c0c" stroke="#6a6a6a" stroke-width="0.7"/><ellipse cx="246.2" cy="307.7" rx="12.9" ry="2.3" transform="rotate(-6.4 246.2 307.7)" fill="#0c0c0c" stroke="#6a6a6a" stroke-width="0.7"/><ellipse cx="120.2" cy="310.9" rx="9.4" ry="1.7" transform="rotate(3.3 120.2 310.9)" fill="#0c0c0c" stroke="#6a6a6a" stroke-width="0.7"/><ellipse cx="216.1" cy="330.8" rx="9.5" ry="2.2" transform="rotate(5.5 216.1 330.8)" fill="#0c0c0c" stroke="#6a6a6a" stroke-width="0.7"/><ellipse cx="261.3" cy="311.7" rx="11.0" ry="2.6" transform="rotate(-4.4 261.3 311.7)" fill="#0c0c0c" stroke="#6a6a6a" stroke-width="0.7"/><ellipse cx="449.7" cy="331.4" rx="5.7" ry="2.4" transform="rotate(-0.9 449.7 331.4)" fill="#0c0c0c" stroke="#6a6a6a" stroke-width="0.7"/><ellipse cx="283.6" cy="303.9" rx="11.1" ry="2.7" transform="rotate(-8.2 283.6 303.9)" fill="#0c0c0c" stroke="#6a6a6a" stroke-width="0.7"/><ellipse cx="419.8" cy="356.0" rx="10.6" ry="2.0" transform="rotate(2.0 419.8 356.0)" fill="#0c0c0c" stroke="#6a6a6a" stroke-width="0.7"/><ellipse cx="402.8" cy="286.6" rx="9.7" ry="2.5" transform="rotate(5.1 402.8 286.6)" fill="#0c0c0c" stroke="#6a6a6a" stroke-width="0.7"/><ellipse cx="94.7" cy="280.4" rx="10.0" ry="2.6" transform="rotate(2.5 94.7 280.4)" fill="#0c0c0c" stroke="#6a6a6a" stroke-width="0.7"/><ellipse cx="133.6" cy="323.6" rx="9.5" ry="1.9" transform="rotate(-5.4 133.6 323.6)" fill="#0c0c0c" stroke="#6a6a6a" stroke-width="0.7"/><ellipse cx="234.7" cy="352.5" rx="12.1" ry="2.0" transform="rotate(-1.4 234.7 352.5)" fill="#0c0c0c" stroke="#6a6a6a" stroke-width="0.7"/><ellipse cx="145.1" cy="297.2" rx="10.7" ry="2.5" transform="rotate(7.6 145.1 297.2)" fill="#0c0c0c" stroke="#6a6a6a" stroke-width="0.7"/><ellipse cx="14.0" cy="298.6" rx="9.9" ry="1.7" transform="rotate(-12.3 14.0 298.6)" fill="#0c0c0c" stroke="#6a6a6a" stroke-width="0.7"/><ellipse cx="137.2" cy="328.8" rx="13.3" ry="2.3" transform="rotate(0.2 137.2 328.8)" fill="#0c0c0c" stroke="#6a6a6a" stroke-width="0.7"/><ellipse cx="306.4" cy="325.3" rx="10.5" ry="2.3" transform="rotate(-12.8 306.4 325.3)" fill="#0c0c0c" stroke="#6a6a6a" stroke-width="0.7"/><ellipse cx="291.7" cy="295.9" rx="11.1" ry="1.9" transform="rotate(-7.6 291.7 295.9)" fill="#0c0c0c" stroke="#6a6a6a" stroke-width="0.7"/><ellipse cx="310.7" cy="260.2" rx="5.9" ry="1.8" transform="rotate(2.7 310.7 260.2)" fill="#0c0c0c" stroke="#6a6a6a" stroke-width="0.7"/><ellipse cx="12.5" cy="319.5" rx="10.9" ry="2.0" transform="rotate(-13.1 12.5 319.5)" fill="#0c0c0c" stroke="#6a6a6a" stroke-width="0.7"/><ellipse cx="384.3" cy="318.1" rx="7.3" ry="2.0" transform="rotate(-7.5 384.3 318.1)" fill="#0c0c0c" stroke="#6a6a6a" stroke-width="0.7"/><ellipse cx="194.6" cy="296.0" rx="10.8" ry="2.7" transform="rotate(5.8 194.6 296.0)" fill="#0c0c0c" stroke="#6a6a6a" stroke-width="0.7"/><ellipse cx="20.9" cy="301.5" rx="6.1" ry="2.6" transform="rotate(-0.7 20.9 301.5)" fill="#0c0c0c" stroke="#6a6a6a" stroke-width="0.7"/><ellipse cx="267.3" cy="337.8" rx="5.1" ry="2.1" transform="rotate(-3.2 267.3 337.8)" fill="#0c0c0c" stroke="#6a6a6a" stroke-width="0.7"/><ellipse cx="190.2" cy="277.1" rx="5.9" ry="2.4" transform="rotate(0.8 190.2 277.1)" fill="#0c0c0c" stroke="#6a6a6a" stroke-width="0.7"/><ellipse cx="2.4" cy="326.0" rx="5.0" ry="2.4" transform="rotate(11.3 2.4 326.0)" fill="#0c0c0c" stroke="#6a6a6a" stroke-width="0.7"/><ellipse cx="36.7" cy="363.4" rx="6.2" ry="1.6" transform="rotate(-0.9 36.7 363.4)" fill="#0c0c0c" stroke="#6a6a6a" stroke-width="0.7"/><ellipse cx="342.2" cy="287.4" rx="6.7" ry="1.7" transform="rotate(1.4 342.2 287.4)" fill="#0c0c0c" stroke="#6a6a6a" stroke-width="0.7"/><ellipse cx="399.9" cy="262.4" rx="11.6" ry="1.7" transform="rotate(-6.5 399.9 262.4)" fill="#0c0c0c" stroke="#6a6a6a" stroke-width="0.7"/><ellipse cx="213.0" cy="275.2" rx="13.4" ry="1.9" transform="rotate(9.3 213.0 275.2)" fill="#0c0c0c" stroke="#6a6a6a" stroke-width="0.7"/><ellipse cx="0.4" cy="298.7" rx="5.1" ry="2.4" transform="rotate(1.0 0.4 298.7)" fill="#0c0c0c" stroke="#6a6a6a" stroke-width="0.7"/><ellipse cx="142.2" cy="298.2" rx="11.6" ry="1.8" transform="rotate(4.4 142.2 298.2)" fill="#0c0c0c" stroke="#6a6a6a" stroke-width="0.7"/><ellipse cx="23.3" cy="282.8" rx="8.3" ry="2.3" transform="rotate(-8.4 23.3 282.8)" fill="#0c0c0c" stroke="#6a6a6a" stroke-width="0.7"/><ellipse cx="63.6" cy="326.2" rx="12.2" ry="2.0" transform="rotate(-5.2 63.6 326.2)" fill="#0c0c0c" stroke="#6a6a6a" stroke-width="0.7"/><ellipse cx="192.8" cy="275.9" rx="8.5" ry="2.5" transform="rotate(9.9 192.8 275.9)" fill="#0c0c0c" stroke="#6a6a6a" stroke-width="0.7"/><ellipse cx="263.3" cy="291.5" rx="7.6" ry="1.7" transform="rotate(9.2 263.3 291.5)" fill="#0c0c0c" stroke="#6a6a6a" stroke-width="0.7"/><ellipse cx="386.6" cy="301.7" rx="8.0" ry="2.3" transform="rotate(11.2 386.6 301.7)" fill="#0c0c0c" stroke="#6a6a6a" stroke-width="0.7"/><ellipse cx="279.5" cy="301.3" rx="7.8" ry="2.1" transform="rotate(4.5 279.5 301.3)" fill="#0c0c0c" stroke="#6a6a6a" stroke-width="0.7"/><ellipse cx="319.1" cy="290.4" rx="10.4" ry="2.7" transform="rotate(1.7 319.1 290.4)" fill="#0c0c0c" stroke="#6a6a6a" stroke-width="0.7"/><ellipse cx="-4.2" cy="286.4" rx="7.4" ry="2.1" transform="rotate(-9.4 -4.2 286.4)" fill="#0c0c0c" stroke="#6a6a6a" stroke-width="0.7"/><ellipse cx="415.0" cy="280.7" rx="5.4" ry="2.6" transform="rotate(4.6 415.0 280.7)" fill="#0c0c0c" stroke="#6a6a6a" stroke-width="0.7"/><ellipse cx="265.7" cy="253.5" rx="7.5" ry="2.6" transform="rotate(3.2 265.7 253.5)" fill="#0c0c0c" stroke="#6a6a6a" stroke-width="0.7"/><ellipse cx="427.5" cy="266.6" rx="8.1" ry="1.7" transform="rotate(-10.1 427.5 266.6)" fill="#0c0c0c" stroke="#6a6a6a" stroke-width="0.7"/><ellipse cx="89.9" cy="291.6" rx="11.8" ry="2.7" transform="rotate(0.8 89.9 291.6)" fill="#0c0c0c" stroke="#6a6a6a" stroke-width="0.7"/><ellipse cx="315.7" cy="350.1" rx="9.2" ry="1.8" transform="rotate(-0.3 315.7 350.1)" fill="#0c0c0c" stroke="#6a6a6a" stroke-width="0.7"/><ellipse cx="369.7" cy="359.3" rx="9.1" ry="1.7" transform="rotate(3.6 369.7 359.3)" fill="#0c0c0c" stroke="#6a6a6a" stroke-width="0.7"/><ellipse cx="105.2" cy="260.9" rx="10.2" ry="2.7" transform="rotate(5.5 105.2 260.9)" fill="#0c0c0c" stroke="#6a6a6a" stroke-width="0.7"/><ellipse cx="220.6" cy="285.2" rx="10.3" ry="1.8" transform="rotate(1.3 220.6 285.2)" fill="#0c0c0c" stroke="#6a6a6a" stroke-width="0.7"/><ellipse cx="326.8" cy="327.0" rx="8.3" ry="2.3" transform="rotate(-5.9 326.8 327.0)" fill="#0c0c0c" stroke="#6a6a6a" stroke-width="0.7"/><ellipse cx="65.5" cy="330.1" rx="5.4" ry="2.8" transform="rotate(-2.0 65.5 330.1)" fill="#0c0c0c" stroke="#6a6a6a" stroke-width="0.7"/><ellipse cx="294.5" cy="319.4" rx="12.1" ry="1.8" transform="rotate(-4.5 294.5 319.4)" fill="#0c0c0c" stroke="#6a6a6a" stroke-width="0.7"/><ellipse cx="240.9" cy="293.5" rx="5.2" ry="1.6" transform="rotate(12.0 240.9 293.5)" fill="#0c0c0c" stroke="#6a6a6a" stroke-width="0.7"/><ellipse cx="225.2" cy="305.7" rx="10.1" ry="1.9" transform="rotate(1.2 225.2 305.7)" fill="#0c0c0c" stroke="#6a6a6a" stroke-width="0.7"/><ellipse cx="443.0" cy="278.2" rx="11.9" ry="2.6" transform="rotate(4.5 443.0 278.2)" fill="#0c0c0c" stroke="#6a6a6a" stroke-width="0.7"/><ellipse cx="12.9" cy="304.1" rx="6.8" ry="1.8" transform="rotate(1.7 12.9 304.1)" fill="#0c0c0c" stroke="#6a6a6a" stroke-width="0.7"/><ellipse cx="258.8" cy="314.2" rx="12.8" ry="2.1" transform="rotate(12.4 258.8 314.2)" fill="#0c0c0c" stroke="#6a6a6a" stroke-width="0.7"/><ellipse cx="25.4" cy="287.9" rx="10.4" ry="2.1" transform="rotate(11.1 25.4 287.9)" fill="#0c0c0c" stroke="#6a6a6a" stroke-width="0.7"/><ellipse cx="116.7" cy="361.2" rx="10.1" ry="2.4" transform="rotate(8.6 116.7 361.2)" fill="#0c0c0c" stroke="#6a6a6a" stroke-width="0.7"/><ellipse cx="181.1" cy="297.2" rx="9.0" ry="1.8" transform="rotate(18.1 181.1 297.2)" fill="#0c0c0c" stroke="#6a6a6a" stroke-width="0.7"/><ellipse cx="99.9" cy="289.5" rx="5.3" ry="1.9" transform="rotate(-7.7 99.9 289.5)" fill="#0c0c0c" stroke="#6a6a6a" stroke-width="0.7"/><ellipse cx="423.1" cy="361.2" rx="12.5" ry="1.7" transform="rotate(2.1 423.1 361.2)" fill="#0c0c0c" stroke="#6a6a6a" stroke-width="0.7"/><ellipse cx="301.1" cy="263.3" rx="13.9" ry="1.7" transform="rotate(6.2 301.1 263.3)" fill="#0c0c0c" stroke="#6a6a6a" stroke-width="0.7"/><ellipse cx="439.6" cy="349.0" rx="11.1" ry="2.0" transform="rotate(-8.5 439.6 349.0)" fill="#0c0c0c" stroke="#6a6a6a" stroke-width="0.7"/><ellipse cx="44.9" cy="281.8" rx="7.9" ry="1.9" transform="rotate(4.9 44.9 281.8)" fill="#0c0c0c" stroke="#6a6a6a" stroke-width="0.7"/><ellipse cx="74.8" cy="333.5" rx="7.1" ry="1.8" transform="rotate(-0.4 74.8 333.5)" fill="#0c0c0c" stroke="#6a6a6a" stroke-width="0.7"/><ellipse cx="334.5" cy="305.0" rx="6.8" ry="1.6" transform="rotate(3.8 334.5 305.0)" fill="#0c0c0c" stroke="#6a6a6a" stroke-width="0.7"/><ellipse cx="437.1" cy="300.0" rx="12.8" ry="2.7" transform="rotate(4.2 437.1 300.0)" fill="#0c0c0c" stroke="#6a6a6a" stroke-width="0.7"/><ellipse cx="40.9" cy="334.4" rx="13.4" ry="2.6" transform="rotate(-4.6 40.9 334.4)" fill="#0c0c0c" stroke="#6a6a6a" stroke-width="0.7"/><ellipse cx="155.8" cy="285.5" rx="12.4" ry="2.2" transform="rotate(-2.3 155.8 285.5)" fill="#0c0c0c" stroke="#6a6a6a" stroke-width="0.7"/><ellipse cx="99.9" cy="297.3" rx="5.5" ry="2.5" transform="rotate(-3.2 99.9 297.3)" fill="#0c0c0c" stroke="#6a6a6a" stroke-width="0.7"/><ellipse cx="407.1" cy="303.8" rx="7.4" ry="2.1" transform="rotate(2.7 407.1 303.8)" fill="#0c0c0c" stroke="#6a6a6a" stroke-width="0.7"/><ellipse cx="392.4" cy="329.1" rx="8.0" ry="1.8" transform="rotate(-5.2 392.4 329.1)" fill="#0c0c0c" stroke="#6a6a6a" stroke-width="0.7"/><ellipse cx="422.5" cy="310.8" rx="6.0" ry="2.8" transform="rotate(11.9 422.5 310.8)" fill="#0c0c0c" stroke="#6a6a6a" stroke-width="0.7"/><ellipse cx="311.3" cy="331.6" rx="6.9" ry="2.2" transform="rotate(-1.0 311.3 331.6)" fill="#0c0c0c" stroke="#6a6a6a" stroke-width="0.7"/><ellipse cx="90.4" cy="331.9" rx="8.3" ry="2.8" transform="rotate(13.7 90.4 331.9)" fill="#0c0c0c" stroke="#6a6a6a" stroke-width="0.7"/><ellipse cx="41.2" cy="308.5" rx="7.6" ry="2.7" transform="rotate(9.0 41.2 308.5)" fill="#0c0c0c" stroke="#6a6a6a" stroke-width="0.7"/><ellipse cx="133.9" cy="326.4" rx="13.8" ry="1.6" transform="rotate(1.9 133.9 326.4)" fill="#0c0c0c" stroke="#6a6a6a" stroke-width="0.7"/><ellipse cx="61.3" cy="283.6" rx="5.0" ry="2.6" transform="rotate(-3.8 61.3 283.6)" fill="#0c0c0c" stroke="#6a6a6a" stroke-width="0.7"/><ellipse cx="201.0" cy="306.1" rx="13.2" ry="1.9" transform="rotate(-2.9 201.0 306.1)" fill="#0c0c0c" stroke="#6a6a6a" stroke-width="0.7"/><ellipse cx="80.3" cy="302.2" rx="11.9" ry="2.5" transform="rotate(0.8 80.3 302.2)" fill="#0c0c0c" stroke="#6a6a6a" stroke-width="0.7"/><ellipse cx="36.4" cy="320.8" rx="10.5" ry="2.2" transform="rotate(-0.6 36.4 320.8)" fill="#0c0c0c" stroke="#6a6a6a" stroke-width="0.7"/><ellipse cx="284.9" cy="329.4" rx="11.4" ry="2.6" transform="rotate(-3.5 284.9 329.4)" fill="#0c0c0c" stroke="#6a6a6a" stroke-width="0.7"/><ellipse cx="26.1" cy="299.3" rx="11.6" ry="2.1" transform="rotate(-0.4 26.1 299.3)" fill="#0c0c0c" stroke="#6a6a6a" stroke-width="0.7"/><ellipse cx="378.7" cy="299.3" rx="8.0" ry="2.6" transform="rotate(4.6 378.7 299.3)" fill="#0c0c0c" stroke="#6a6a6a" stroke-width="0.7"/><ellipse cx="2.3" cy="283.0" rx="13.2" ry="2.2" transform="rotate(3.3 2.3 283.0)" fill="#0c0c0c" stroke="#6a6a6a" stroke-width="0.7"/><ellipse cx="83.1" cy="292.3" rx="12.5" ry="2.0" transform="rotate(3.0 83.1 292.3)" fill="#0c0c0c" stroke="#6a6a6a" stroke-width="0.7"/><ellipse cx="276.6" cy="334.0" rx="5.0" ry="2.2" transform="rotate(-6.8 276.6 334.0)" fill="#0c0c0c" stroke="#6a6a6a" stroke-width="0.7"/><ellipse cx="52.2" cy="321.4" rx="11.4" ry="2.6" transform="rotate(3.5 52.2 321.4)" fill="#0c0c0c" stroke="#6a6a6a" stroke-width="0.7"/><ellipse cx="331.6" cy="289.6" rx="8.4" ry="2.5" transform="rotate(11.3 331.6 289.6)" fill="#0c0c0c" stroke="#6a6a6a" stroke-width="0.7"/><ellipse cx="446.6" cy="332.2" rx="9.5" ry="2.2" transform="rotate(-7.3 446.6 332.2)" fill="#0c0c0c" stroke="#6a6a6a" stroke-width="0.7"/><ellipse cx="4.8" cy="302.2" rx="13.7" ry="1.9" transform="rotate(1.2 4.8 302.2)" fill="#0c0c0c" stroke="#6a6a6a" stroke-width="0.7"/><ellipse cx="113.5" cy="322.0" rx="12.4" ry="1.6" transform="rotate(7.6 113.5 322.0)" fill="#0c0c0c" stroke="#6a6a6a" stroke-width="0.7"/><ellipse cx="87.3" cy="335.8" rx="5.2" ry="2.3" transform="rotate(-6.5 87.3 335.8)" fill="#0c0c0c" stroke="#6a6a6a" stroke-width="0.7"/><ellipse cx="327.6" cy="292.4" rx="5.9" ry="2.6" transform="rotate(-0.4 327.6 292.4)" fill="#0c0c0c" stroke="#6a6a6a" stroke-width="0.7"/><ellipse cx="53.2" cy="300.4" rx="9.4" ry="2.2" transform="rotate(-0.6 53.2 300.4)" fill="#0c0c0c" stroke="#6a6a6a" stroke-width="0.7"/><ellipse cx="187.0" cy="324.3" rx="6.2" ry="2.3" transform="rotate(2.2 187.0 324.3)" fill="#0c0c0c" stroke="#6a6a6a" stroke-width="0.7"/><ellipse cx="266.1" cy="296.3" rx="11.7" ry="1.8" transform="rotate(6.5 266.1 296.3)" fill="#0c0c0c" stroke="#6a6a6a" stroke-width="0.7"/><ellipse cx="194.0" cy="328.9" rx="8.6" ry="2.7" transform="rotate(-6.2 194.0 328.9)" fill="#0c0c0c" stroke="#6a6a6a" stroke-width="0.7"/><ellipse cx="362.7" cy="297.6" rx="8.0" ry="2.1" transform="rotate(3.8 362.7 297.6)" fill="#0c0c0c" stroke="#6a6a6a" stroke-width="0.7"/><ellipse cx="459.4" cy="331.5" rx="12.3" ry="2.6" transform="rotate(-12.5 459.4 331.5)" fill="#0c0c0c" stroke="#6a6a6a" stroke-width="0.7"/><ellipse cx="437.2" cy="301.1" rx="7.2" ry="2.1" transform="rotate(-3.8 437.2 301.1)" fill="#0c0c0c" stroke="#6a6a6a" stroke-width="0.7"/><ellipse cx="246.2" cy="288.2" rx="5.6" ry="2.1" transform="rotate(-1.2 246.2 288.2)" fill="#0c0c0c" stroke="#6a6a6a" stroke-width="0.7"/><ellipse cx="61.0" cy="309.1" rx="13.7" ry="2.5" transform="rotate(7.8 61.0 309.1)" fill="#0c0c0c" stroke="#6a6a6a" stroke-width="0.7"/><ellipse cx="378.0" cy="292.9" rx="13.0" ry="2.7" transform="rotate(8.4 378.0 292.9)" fill="#0c0c0c" stroke="#6a6a6a" stroke-width="0.7"/><ellipse cx="120.8" cy="318.5" rx="11.1" ry="1.9" transform="rotate(-13.2 120.8 318.5)" fill="#0c0c0c" stroke="#6a6a6a" stroke-width="0.7"/><ellipse cx="289.0" cy="291.4" rx="7.3" ry="2.2" transform="rotate(-13.5 289.0 291.4)" fill="#0c0c0c" stroke="#6a6a6a" stroke-width="0.7"/><ellipse cx="131.1" cy="339.1" rx="7.7" ry="2.4" transform="rotate(5.9 131.1 339.1)" fill="#0c0c0c" stroke="#6a6a6a" stroke-width="0.7"/><ellipse cx="447.5" cy="337.0" rx="9.6" ry="1.9" transform="rotate(-7.2 447.5 337.0)" fill="#0c0c0c" stroke="#6a6a6a" stroke-width="0.7"/><ellipse cx="65.2" cy="317.1" rx="6.1" ry="1.8" transform="rotate(-1.7 65.2 317.1)" fill="#0c0c0c" stroke="#6a6a6a" stroke-width="0.7"/><ellipse cx="131.5" cy="338.8" rx="7.2" ry="1.7" transform="rotate(-11.0 131.5 338.8)" fill="#0c0c0c" stroke="#6a6a6a" stroke-width="0.7"/><ellipse cx="283.7" cy="292.8" rx="10.1" ry="2.4" transform="rotate(2.9 283.7 292.8)" fill="#0c0c0c" stroke="#6a6a6a" stroke-width="0.7"/><ellipse cx="213.1" cy="354.3" rx="9.9" ry="2.3" transform="rotate(-5.1 213.1 354.3)" fill="#0c0c0c" stroke="#6a6a6a" stroke-width="0.7"/><ellipse cx="109.7" cy="314.3" rx="7.0" ry="2.2" transform="rotate(-5.9 109.7 314.3)" fill="#0c0c0c" stroke="#6a6a6a" stroke-width="0.7"/><ellipse cx="0.6" cy="336.0" rx="8.2" ry="2.6" transform="rotate(0.6 0.6 336.0)" fill="#0c0c0c" stroke="#6a6a6a" stroke-width="0.7"/><ellipse cx="227.6" cy="347.5" rx="7.6" ry="2.8" transform="rotate(-2.9 227.6 347.5)" fill="#0c0c0c" stroke="#6a6a6a" stroke-width="0.7"/><ellipse cx="70.0" cy="358.8" rx="5.6" ry="2.6" transform="rotate(-2.0 70.0 358.8)" fill="#0c0c0c" stroke="#6a6a6a" stroke-width="0.7"/><ellipse cx="178.6" cy="313.3" rx="9.0" ry="2.5" transform="rotate(3.3 178.6 313.3)" fill="#0c0c0c" stroke="#6a6a6a" stroke-width="0.7"/><ellipse cx="449.0" cy="322.9" rx="11.6" ry="1.8" transform="rotate(-2.9 449.0 322.9)" fill="#0c0c0c" stroke="#6a6a6a" stroke-width="0.7"/><ellipse cx="314.6" cy="333.2" rx="10.5" ry="2.6" transform="rotate(3.1 314.6 333.2)" fill="#0c0c0c" stroke="#6a6a6a" stroke-width="0.7"/><ellipse cx="344.7" cy="276.6" rx="11.7" ry="2.5" transform="rotate(-10.4 344.7 276.6)" fill="#0c0c0c" stroke="#6a6a6a" stroke-width="0.7"/><ellipse cx="330.4" cy="317.4" rx="13.2" ry="1.8" transform="rotate(0.4 330.4 317.4)" fill="#0c0c0c" stroke="#6a6a6a" stroke-width="0.7"/><ellipse cx="357.4" cy="307.3" rx="10.3" ry="2.2" transform="rotate(7.6 357.4 307.3)" fill="#0c0c0c" stroke="#6a6a6a" stroke-width="0.7"/><ellipse cx="192.8" cy="300.2" rx="12.1" ry="2.6" transform="rotate(-4.6 192.8 300.2)" fill="#0c0c0c" stroke="#6a6a6a" stroke-width="0.7"/><ellipse cx="209.1" cy="291.0" rx="9.1" ry="2.5" transform="rotate(-1.6 209.1 291.0)" fill="#0c0c0c" stroke="#6a6a6a" stroke-width="0.7"/><ellipse cx="257.8" cy="338.1" rx="8.5" ry="2.0" transform="rotate(2.7 257.8 338.1)" fill="#0c0c0c" stroke="#6a6a6a" stroke-width="0.7"/><ellipse cx="231.4" cy="252.5" rx="9.0" ry="1.8" transform="rotate(-1.1 231.4 252.5)" fill="#0c0c0c" stroke="#6a6a6a" stroke-width="0.7"/><ellipse cx="267.4" cy="325.1" rx="10.2" ry="1.7" transform="rotate(4.7 267.4 325.1)" fill="#0c0c0c" stroke="#6a6a6a" stroke-width="0.7"/><ellipse cx="394.2" cy="296.5" rx="12.5" ry="2.8" transform="rotate(1.8 394.2 296.5)" fill="#0c0c0c" stroke="#6a6a6a" stroke-width="0.7"/><ellipse cx="426.0" cy="339.6" rx="5.1" ry="1.7" transform="rotate(-6.5 426.0 339.6)" fill="#0c0c0c" stroke="#6a6a6a" stroke-width="0.7"/><ellipse cx="430.6" cy="295.3" rx="12.0" ry="2.2" transform="rotate(7.2 430.6 295.3)" fill="#0c0c0c" stroke="#6a6a6a" stroke-width="0.7"/><ellipse cx="239.8" cy="308.9" rx="11.2" ry="2.1" transform="rotate(-5.1 239.8 308.9)" fill="#0c0c0c" stroke="#6a6a6a" stroke-width="0.7"/><ellipse cx="161.2" cy="340.7" rx="13.5" ry="2.4" transform="rotate(-2.7 161.2 340.7)" fill="#0c0c0c" stroke="#6a6a6a" stroke-width="0.7"/><ellipse cx="172.2" cy="307.1" rx="8.6" ry="2.3" transform="rotate(-11.0 172.2 307.1)" fill="#0c0c0c" stroke="#6a6a6a" stroke-width="0.7"/><ellipse cx="451.5" cy="281.6" rx="9.4" ry="2.1" transform="rotate(-14.2 451.5 281.6)" fill="#0c0c0c" stroke="#6a6a6a" stroke-width="0.7"/><ellipse cx="245.9" cy="316.7" rx="7.9" ry="2.8" transform="rotate(-3.4 245.9 316.7)" fill="#0c0c0c" stroke="#6a6a6a" stroke-width="0.7"/><ellipse cx="386.0" cy="294.8" rx="13.1" ry="2.4" transform="rotate(-0.2 386.0 294.8)" fill="#0c0c0c" stroke="#6a6a6a" stroke-width="0.7"/><ellipse cx="69.0" cy="305.5" rx="7.6" ry="2.2" transform="rotate(-3.9 69.0 305.5)" fill="#0c0c0c" stroke="#6a6a6a" stroke-width="0.7"/><ellipse cx="81.3" cy="308.7" rx="10.7" ry="2.3" transform="rotate(-11.5 81.3 308.7)" fill="#0c0c0c" stroke="#6a6a6a" stroke-width="0.7"/><ellipse cx="189.7" cy="315.3" rx="11.2" ry="1.6" transform="rotate(-5.0 189.7 315.3)" fill="#0c0c0c" stroke="#6a6a6a" stroke-width="0.7"/><ellipse cx="139.1" cy="331.1" rx="11.0" ry="1.8" transform="rotate(-6.7 139.1 331.1)" fill="#0c0c0c" stroke="#6a6a6a" stroke-width="0.7"/><ellipse cx="230.6" cy="287.0" rx="10.8" ry="2.2" transform="rotate(-1.5 230.6 287.0)" fill="#0c0c0c" stroke="#6a6a6a" stroke-width="0.7"/><ellipse cx="466.9" cy="281.7" rx="6.1" ry="1.8" transform="rotate(-2.8 466.9 281.7)" fill="#0c0c0c" stroke="#6a6a6a" stroke-width="0.7"/><ellipse cx="354.5" cy="320.1" rx="6.5" ry="2.2" transform="rotate(1.7 354.5 320.1)" fill="#0c0c0c" stroke="#6a6a6a" stroke-width="0.7"/><ellipse cx="384.6" cy="268.1" rx="5.6" ry="1.6" transform="rotate(-7.1 384.6 268.1)" fill="#0c0c0c" stroke="#6a6a6a" stroke-width="0.7"/><ellipse cx="359.7" cy="288.3" rx="8.2" ry="1.8" transform="rotate(8.5 359.7 288.3)" fill="#0c0c0c" stroke="#6a6a6a" stroke-width="0.7"/><ellipse cx="121.2" cy="362.0" rx="10.2" ry="2.0" transform="rotate(7.6 121.2 362.0)" fill="#0c0c0c" stroke="#6a6a6a" stroke-width="0.7"/><ellipse cx="207.9" cy="301.7" rx="13.0" ry="2.3" transform="rotate(1.3 207.9 301.7)" fill="#0c0c0c" stroke="#6a6a6a" stroke-width="0.7"/><ellipse cx="449.2" cy="270.5" rx="7.2" ry="1.7" transform="rotate(3.1 449.2 270.5)" fill="#0c0c0c" stroke="#6a6a6a" stroke-width="0.7"/><ellipse cx="435.6" cy="325.3" rx="13.1" ry="2.6" transform="rotate(-4.1 435.6 325.3)" fill="#0c0c0c" stroke="#6a6a6a" stroke-width="0.7"/><ellipse cx="229.5" cy="263.6" rx="13.5" ry="1.9" transform="rotate(-7.4 229.5 263.6)" fill="#0c0c0c" stroke="#6a6a6a" stroke-width="0.7"/><ellipse cx="99.8" cy="339.8" rx="7.8" ry="2.7" transform="rotate(-10.6 99.8 339.8)" fill="#0c0c0c" stroke="#6a6a6a" stroke-width="0.7"/><ellipse cx="110.2" cy="314.5" rx="6.6" ry="2.0" transform="rotate(6.2 110.2 314.5)" fill="#0c0c0c" stroke="#6a6a6a" stroke-width="0.7"/><ellipse cx="132.6" cy="383.1" rx="6.0" ry="2.2" transform="rotate(-4.6 132.6 383.1)" fill="#0c0c0c" stroke="#6a6a6a" stroke-width="0.7"/><ellipse cx="26.0" cy="329.4" rx="6.1" ry="2.6" transform="rotate(-2.7 26.0 329.4)" fill="#0c0c0c" stroke="#6a6a6a" stroke-width="0.7"/><ellipse cx="85.5" cy="327.4" rx="7.6" ry="1.9" transform="rotate(8.7 85.5 327.4)" fill="#0c0c0c" stroke="#6a6a6a" stroke-width="0.7"/><ellipse cx="156.6" cy="318.9" rx="6.4" ry="2.4" transform="rotate(4.0 156.6 318.9)" fill="#0c0c0c" stroke="#6a6a6a" stroke-width="0.7"/><ellipse cx="390.2" cy="322.4" rx="6.2" ry="2.1" transform="rotate(5.6 390.2 322.4)" fill="#0c0c0c" stroke="#6a6a6a" stroke-width="0.7"/><ellipse cx="70.4" cy="262.8" rx="8.2" ry="2.5" transform="rotate(-10.8 70.4 262.8)" fill="#0c0c0c" stroke="#6a6a6a" stroke-width="0.7"/><ellipse cx="93.5" cy="362.2" rx="13.6" ry="2.2" transform="rotate(0.9 93.5 362.2)" fill="#0c0c0c" stroke="#6a6a6a" stroke-width="0.7"/><ellipse cx="57.0" cy="341.9" rx="11.4" ry="1.9" transform="rotate(6.4 57.0 341.9)" fill="#0c0c0c" stroke="#6a6a6a" stroke-width="0.7"/><ellipse cx="169.2" cy="285.8" rx="7.2" ry="2.3" transform="rotate(2.8 169.2 285.8)" fill="#0c0c0c" stroke="#6a6a6a" stroke-width="0.7"/><ellipse cx="53.1" cy="368.5" rx="9.9" ry="1.9" transform="rotate(0.8 53.1 368.5)" fill="#0c0c0c" stroke="#6a6a6a" stroke-width="0.7"/><ellipse cx="306.2" cy="280.0" rx="10.1" ry="2.0" transform="rotate(-2.0 306.2 280.0)" fill="#0c0c0c" stroke="#6a6a6a" stroke-width="0.7"/><ellipse cx="78.8" cy="317.4" rx="12.7" ry="2.0" transform="rotate(-1.5 78.8 317.4)" fill="#0c0c0c" stroke="#6a6a6a" stroke-width="0.7"/><ellipse cx="261.0" cy="297.0" rx="8.3" ry="2.2" transform="rotate(-0.6 261.0 297.0)" fill="#0c0c0c" stroke="#6a6a6a" stroke-width="0.7"/><ellipse cx="142.3" cy="319.9" rx="7.0" ry="1.8" transform="rotate(-1.0 142.3 319.9)" fill="#0c0c0c" stroke="#6a6a6a" stroke-width="0.7"/><ellipse cx="185.9" cy="285.4" rx="13.2" ry="2.5" transform="rotate(8.8 185.9 285.4)" fill="#0c0c0c" stroke="#6a6a6a" stroke-width="0.7"/><ellipse cx="57.6" cy="269.2" rx="7.5" ry="1.6" transform="rotate(-3.8 57.6 269.2)" fill="#0c0c0c" stroke="#6a6a6a" stroke-width="0.7"/><ellipse cx="161.3" cy="269.3" rx="8.7" ry="2.4" transform="rotate(-1.4 161.3 269.3)" fill="#0c0c0c" stroke="#6a6a6a" stroke-width="0.7"/><ellipse cx="395.7" cy="287.8" rx="8.2" ry="2.4" transform="rotate(1.2 395.7 287.8)" fill="#0c0c0c" stroke="#6a6a6a" stroke-width="0.7"/><ellipse cx="427.0" cy="322.8" rx="11.6" ry="2.5" transform="rotate(1.7 427.0 322.8)" fill="#0c0c0c" stroke="#6a6a6a" stroke-width="0.7"/><ellipse cx="71.7" cy="311.5" rx="6.8" ry="2.0" transform="rotate(-1.2 71.7 311.5)" fill="#0c0c0c" stroke="#6a6a6a" stroke-width="0.7"/><ellipse cx="142.2" cy="315.1" rx="10.7" ry="1.8" transform="rotate(4.2 142.2 315.1)" fill="#0c0c0c" stroke="#6a6a6a" stroke-width="0.7"/><ellipse cx="334.2" cy="276.3" rx="7.3" ry="2.1" transform="rotate(-2.2 334.2 276.3)" fill="#0c0c0c" stroke="#6a6a6a" stroke-width="0.7"/><ellipse cx="-4.5" cy="283.8" rx="12.5" ry="2.5" transform="rotate(-0.4 -4.5 283.8)" fill="#0c0c0c" stroke="#6a6a6a" stroke-width="0.7"/><ellipse cx="399.3" cy="318.0" rx="10.5" ry="1.7" transform="rotate(0.1 399.3 318.0)" fill="#0c0c0c" stroke="#6a6a6a" stroke-width="0.7"/><ellipse cx="369.6" cy="323.9" rx="6.9" ry="2.7" transform="rotate(-0.0 369.6 323.9)" fill="#0c0c0c" stroke="#6a6a6a" stroke-width="0.7"/><ellipse cx="323.8" cy="296.6" rx="8.5" ry="2.5" transform="rotate(2.3 323.8 296.6)" fill="#0c0c0c" stroke="#6a6a6a" stroke-width="0.7"/><ellipse cx="37.6" cy="287.8" rx="13.5" ry="2.1" transform="rotate(8.3 37.6 287.8)" fill="#0c0c0c" stroke="#6a6a6a" stroke-width="0.7"/><ellipse cx="344.6" cy="289.8" rx="12.5" ry="2.4" transform="rotate(-1.9 344.6 289.8)" fill="#0c0c0c" stroke="#6a6a6a" stroke-width="0.7"/><ellipse cx="325.5" cy="312.2" rx="8.9" ry="2.2" transform="rotate(2.8 325.5 312.2)" fill="#0c0c0c" stroke="#6a6a6a" stroke-width="0.7"/><ellipse cx="355.6" cy="302.5" rx="5.4" ry="2.4" transform="rotate(1.6 355.6 302.5)" fill="#0c0c0c" stroke="#6a6a6a" stroke-width="0.7"/><ellipse cx="253.6" cy="287.4" rx="13.7" ry="2.4" transform="rotate(-4.4 253.6 287.4)" fill="#0c0c0c" stroke="#6a6a6a" stroke-width="0.7"/><ellipse cx="23.1" cy="303.1" rx="8.2" ry="2.1" transform="rotate(1.6 23.1 303.1)" fill="#0c0c0c" stroke="#6a6a6a" stroke-width="0.7"/><ellipse cx="59.6" cy="334.0" rx="11.4" ry="2.4" transform="rotate(0.3 59.6 334.0)" fill="#0c0c0c" stroke="#6a6a6a" stroke-width="0.7"/><ellipse cx="238.9" cy="331.6" rx="9.0" ry="2.7" transform="rotate(-3.0 238.9 331.6)" fill="#0c0c0c" stroke="#6a6a6a" stroke-width="0.7"/><ellipse cx="413.7" cy="329.6" rx="6.3" ry="2.3" transform="rotate(-5.5 413.7 329.6)" fill="#0c0c0c" stroke="#6a6a6a" stroke-width="0.7"/><ellipse cx="254.5" cy="357.0" rx="11.8" ry="1.8" transform="rotate(-4.1 254.5 357.0)" fill="#0c0c0c" stroke="#6a6a6a" stroke-width="0.7"/><ellipse cx="213.3" cy="274.2" rx="11.9" ry="2.6" transform="rotate(3.7 213.3 274.2)" fill="#0c0c0c" stroke="#6a6a6a" stroke-width="0.7"/><ellipse cx="165.6" cy="325.6" rx="6.9" ry="1.7" transform="rotate(-0.8 165.6 325.6)" fill="#0c0c0c" stroke="#6a6a6a" stroke-width="0.7"/><ellipse cx="327.1" cy="328.8" rx="9.0" ry="1.7" transform="rotate(-3.0 327.1 328.8)" fill="#0c0c0c" stroke="#6a6a6a" stroke-width="0.7"/><ellipse cx="166.8" cy="339.4" rx="6.5" ry="1.7" transform="rotate(18.6 166.8 339.4)" fill="#0c0c0c" stroke="#6a6a6a" stroke-width="0.7"/><ellipse cx="350.2" cy="315.6" rx="5.8" ry="2.5" transform="rotate(7.7 350.2 315.6)" fill="#0c0c0c" stroke="#6a6a6a" stroke-width="0.7"/><ellipse cx="46.5" cy="304.5" rx="9.4" ry="2.1" transform="rotate(2.8 46.5 304.5)" fill="#0c0c0c" stroke="#6a6a6a" stroke-width="0.7"/><ellipse cx="-1.1" cy="344.2" rx="13.3" ry="2.4" transform="rotate(-9.8 -1.1 344.2)" fill="#0c0c0c" stroke="#6a6a6a" stroke-width="0.7"/><ellipse cx="303.9" cy="258.8" rx="7.3" ry="1.9" transform="rotate(0.9 303.9 258.8)" fill="#0c0c0c" stroke="#6a6a6a" stroke-width="0.7"/><ellipse cx="361.5" cy="314.7" rx="12.6" ry="2.0" transform="rotate(3.4 361.5 314.7)" fill="#0c0c0c" stroke="#6a6a6a" stroke-width="0.7"/><ellipse cx="395.3" cy="348.6" rx="13.3" ry="1.8" transform="rotate(2.4 395.3 348.6)" fill="#0c0c0c" stroke="#6a6a6a" stroke-width="0.7"/><ellipse cx="346.3" cy="254.1" rx="7.9" ry="1.8" transform="rotate(2.4 346.3 254.1)" fill="#0c0c0c" stroke="#6a6a6a" stroke-width="0.7"/><ellipse cx="169.4" cy="285.8" rx="10.0" ry="2.0" transform="rotate(2.2 169.4 285.8)" fill="#0c0c0c" stroke="#6a6a6a" stroke-width="0.7"/><ellipse cx="14.5" cy="289.9" rx="10.1" ry="2.4" transform="rotate(4.0 14.5 289.9)" fill="#0c0c0c" stroke="#6a6a6a" stroke-width="0.7"/><ellipse cx="423.4" cy="266.8" rx="13.5" ry="2.2" transform="rotate(-3.5 423.4 266.8)" fill="#0c0c0c" stroke="#6a6a6a" stroke-width="0.7"/><ellipse cx="136.8" cy="309.4" rx="10.2" ry="1.7" transform="rotate(-1.4 136.8 309.4)" fill="#0c0c0c" stroke="#6a6a6a" stroke-width="0.7"/><ellipse cx="204.8" cy="292.7" rx="13.7" ry="1.7" transform="rotate(6.3 204.8 292.7)" fill="#0c0c0c" stroke="#6a6a6a" stroke-width="0.7"/><ellipse cx="85.3" cy="317.3" rx="11.5" ry="1.6" transform="rotate(6.4 85.3 317.3)" fill="#0c0c0c" stroke="#6a6a6a" stroke-width="0.7"/><ellipse cx="367.4" cy="259.7" rx="8.8" ry="1.9" transform="rotate(-3.8 367.4 259.7)" fill="#0c0c0c" stroke="#6a6a6a" stroke-width="0.7"/><ellipse cx="194.4" cy="278.6" rx="8.0" ry="2.1" transform="rotate(-5.6 194.4 278.6)" fill="#0c0c0c" stroke="#6a6a6a" stroke-width="0.7"/><ellipse cx="422.9" cy="260.8" rx="6.5" ry="2.0" transform="rotate(-7.2 422.9 260.8)" fill="#0c0c0c" stroke="#6a6a6a" stroke-width="0.7"/><ellipse cx="159.8" cy="322.8" rx="6.8" ry="1.7" transform="rotate(-3.0 159.8 322.8)" fill="#0c0c0c" stroke="#6a6a6a" stroke-width="0.7"/><ellipse cx="454.7" cy="339.1" rx="13.2" ry="2.6" transform="rotate(15.1 454.7 339.1)" fill="#0c0c0c" stroke="#6a6a6a" stroke-width="0.7"/><ellipse cx="288.4" cy="297.0" rx="12.3" ry="1.7" transform="rotate(-3.7 288.4 297.0)" fill="#0c0c0c" stroke="#6a6a6a" stroke-width="0.7"/><ellipse cx="135.6" cy="272.5" rx="10.1" ry="2.7" transform="rotate(-8.6 135.6 272.5)" fill="#0c0c0c" stroke="#6a6a6a" stroke-width="0.7"/><ellipse cx="136.7" cy="314.5" rx="8.1" ry="2.7" transform="rotate(3.8 136.7 314.5)" fill="#0c0c0c" stroke="#6a6a6a" stroke-width="0.7"/><ellipse cx="316.2" cy="312.7" rx="9.0" ry="1.7" transform="rotate(-3.1 316.2 312.7)" fill="#0c0c0c" stroke="#6a6a6a" stroke-width="0.7"/><ellipse cx="269.9" cy="284.8" rx="8.7" ry="2.2" transform="rotate(-5.5 269.9 284.8)" fill="#0c0c0c" stroke="#6a6a6a" stroke-width="0.7"/><ellipse cx="49.1" cy="297.4" rx="6.6" ry="2.7" transform="rotate(-2.8 49.1 297.4)" fill="#0c0c0c" stroke="#6a6a6a" stroke-width="0.7"/><ellipse cx="403.1" cy="304.9" rx="7.3" ry="1.7" transform="rotate(-4.5 403.1 304.9)" fill="#0c0c0c" stroke="#6a6a6a" stroke-width="0.7"/><ellipse cx="226.6" cy="304.9" rx="10.0" ry="1.9" transform="rotate(-2.6 226.6 304.9)" fill="#0c0c0c" stroke="#6a6a6a" stroke-width="0.7"/><ellipse cx="237.9" cy="302.8" rx="10.3" ry="1.7" transform="rotate(-2.0 237.9 302.8)" fill="#0c0c0c" stroke="#6a6a6a" stroke-width="0.7"/><ellipse cx="203.0" cy="315.7" rx="12.8" ry="2.3" transform="rotate(-2.2 203.0 315.7)" fill="#0c0c0c" stroke="#6a6a6a" stroke-width="0.7"/><ellipse cx="49.2" cy="260.1" rx="13.9" ry="2.5" transform="rotate(9.1 49.2 260.1)" fill="#0c0c0c" stroke="#6a6a6a" stroke-width="0.7"/><ellipse cx="180.5" cy="343.1" rx="6.5" ry="2.8" transform="rotate(-9.6 180.5 343.1)" fill="#0c0c0c" stroke="#6a6a6a" stroke-width="0.7"/><ellipse cx="59.7" cy="289.3" rx="12.0" ry="1.7" transform="rotate(0.5 59.7 289.3)" fill="#0c0c0c" stroke="#6a6a6a" stroke-width="0.7"/><ellipse cx="2.2" cy="338.2" rx="10.3" ry="1.9" transform="rotate(-2.9 2.2 338.2)" fill="#0c0c0c" stroke="#6a6a6a" stroke-width="0.7"/><ellipse cx="196.6" cy="354.0" rx="13.0" ry="2.3" transform="rotate(5.4 196.6 354.0)" fill="#0c0c0c" stroke="#6a6a6a" stroke-width="0.7"/><ellipse cx="429.3" cy="281.5" rx="12.8" ry="1.8" transform="rotate(-0.2 429.3 281.5)" fill="#0c0c0c" stroke="#6a6a6a" stroke-width="0.7"/><ellipse cx="356.4" cy="281.9" rx="11.1" ry="2.6" transform="rotate(4.2 356.4 281.9)" fill="#0c0c0c" stroke="#6a6a6a" stroke-width="0.7"/><ellipse cx="343.9" cy="329.5" rx="13.5" ry="2.5" transform="rotate(7.9 343.9 329.5)" fill="#0c0c0c" stroke="#6a6a6a" stroke-width="0.7"/><ellipse cx="42.2" cy="320.3" rx="9.9" ry="2.6" transform="rotate(10.4 42.2 320.3)" fill="#0c0c0c" stroke="#6a6a6a" stroke-width="0.7"/><ellipse cx="314.6" cy="353.8" rx="7.3" ry="1.8" transform="rotate(-10.8 314.6 353.8)" fill="#0c0c0c" stroke="#6a6a6a" stroke-width="0.7"/><ellipse cx="270.2" cy="328.1" rx="6.0" ry="1.6" transform="rotate(8.3 270.2 328.1)" fill="#0c0c0c" stroke="#6a6a6a" stroke-width="0.7"/><ellipse cx="82.7" cy="343.8" rx="10.0" ry="1.9" transform="rotate(-2.3 82.7 343.8)" fill="#0c0c0c" stroke="#6a6a6a" stroke-width="0.7"/><ellipse cx="63.3" cy="282.2" rx="12.9" ry="2.2" transform="rotate(-4.0 63.3 282.2)" fill="#0c0c0c" stroke="#6a6a6a" stroke-width="0.7"/><ellipse cx="444.1" cy="258.7" rx="5.1" ry="2.0" transform="rotate(4.1 444.1 258.7)" fill="#0c0c0c" stroke="#6a6a6a" stroke-width="0.7"/><ellipse cx="408.2" cy="338.1" rx="12.2" ry="1.6" transform="rotate(4.6 408.2 338.1)" fill="#0c0c0c" stroke="#6a6a6a" stroke-width="0.7"/><ellipse cx="316.6" cy="359.8" rx="8.5" ry="2.2" transform="rotate(6.3 316.6 359.8)" fill="#0c0c0c" stroke="#6a6a6a" stroke-width="0.7"/><ellipse cx="181.2" cy="357.9" rx="12.9" ry="2.3" transform="rotate(4.8 181.2 357.9)" fill="#0c0c0c" stroke="#6a6a6a" stroke-width="0.7"/><ellipse cx="97.4" cy="321.6" rx="13.0" ry="2.3" transform="rotate(3.5 97.4 321.6)" fill="#0c0c0c" stroke="#6a6a6a" stroke-width="0.7"/><ellipse cx="165.9" cy="314.3" rx="9.2" ry="2.3" transform="rotate(-4.3 165.9 314.3)" fill="#0c0c0c" stroke="#6a6a6a" stroke-width="0.7"/><ellipse cx="-2.2" cy="327.5" rx="10.2" ry="2.0" transform="rotate(6.6 -2.2 327.5)" fill="#0c0c0c" stroke="#6a6a6a" stroke-width="0.7"/><ellipse cx="461.9" cy="313.6" rx="5.4" ry="1.8" transform="rotate(-2.3 461.9 313.6)" fill="#0c0c0c" stroke="#6a6a6a" stroke-width="0.7"/><ellipse cx="124.4" cy="288.3" rx="9.5" ry="1.9" transform="rotate(-6.7 124.4 288.3)" fill="#0c0c0c" stroke="#6a6a6a" stroke-width="0.7"/><ellipse cx="447.9" cy="293.9" rx="13.9" ry="1.6" transform="rotate(-9.6 447.9 293.9)" fill="#0c0c0c" stroke="#6a6a6a" stroke-width="0.7"/><ellipse cx="407.9" cy="290.2" rx="12.0" ry="2.4" transform="rotate(-3.8 407.9 290.2)" fill="#0c0c0c" stroke="#6a6a6a" stroke-width="0.7"/><ellipse cx="128.3" cy="288.0" rx="12.2" ry="2.6" transform="rotate(8.4 128.3 288.0)" fill="#0c0c0c" stroke="#6a6a6a" stroke-width="0.7"/><ellipse cx="138.9" cy="292.2" rx="11.9" ry="2.5" transform="rotate(-8.5 138.9 292.2)" fill="#0c0c0c" stroke="#6a6a6a" stroke-width="0.7"/><ellipse cx="160.9" cy="306.9" rx="10.0" ry="2.1" transform="rotate(5.1 160.9 306.9)" fill="#0c0c0c" stroke="#6a6a6a" stroke-width="0.7"/><ellipse cx="148.0" cy="319.4" rx="13.9" ry="2.2" transform="rotate(-3.0 148.0 319.4)" fill="#0c0c0c" stroke="#6a6a6a" stroke-width="0.7"/><ellipse cx="106.1" cy="325.9" rx="8.1" ry="1.8" transform="rotate(12.1 106.1 325.9)" fill="#0c0c0c" stroke="#6a6a6a" stroke-width="0.7"/><ellipse cx="209.5" cy="312.1" rx="9.0" ry="2.3" transform="rotate(-1.2 209.5 312.1)" fill="#0c0c0c" stroke="#6a6a6a" stroke-width="0.7"/><ellipse cx="26.4" cy="326.6" rx="7.7" ry="2.0" transform="rotate(-1.1 26.4 326.6)" fill="#0c0c0c" stroke="#6a6a6a" stroke-width="0.7"/><ellipse cx="438.7" cy="271.7" rx="8.1" ry="2.7" transform="rotate(-2.1 438.7 271.7)" fill="#0c0c0c" stroke="#6a6a6a" stroke-width="0.7"/><ellipse cx="79.6" cy="303.2" rx="10.2" ry="2.8" transform="rotate(-6.4 79.6 303.2)" fill="#0c0c0c" stroke="#6a6a6a" stroke-width="0.7"/><ellipse cx="197.7" cy="349.8" rx="12.8" ry="1.7" transform="rotate(-12.8 197.7 349.8)" fill="#0c0c0c" stroke="#6a6a6a" stroke-width="0.7"/><ellipse cx="125.6" cy="315.5" rx="7.3" ry="1.6" transform="rotate(2.4 125.6 315.5)" fill="#0c0c0c" stroke="#6a6a6a" stroke-width="0.7"/><ellipse cx="328.4" cy="329.7" rx="7.0" ry="2.1" transform="rotate(2.5 328.4 329.7)" fill="#0c0c0c" stroke="#6a6a6a" stroke-width="0.7"/><ellipse cx="404.0" cy="348.1" rx="10.8" ry="1.8" transform="rotate(-1.6 404.0 348.1)" fill="#0c0c0c" stroke="#6a6a6a" stroke-width="0.7"/><ellipse cx="32.5" cy="331.7" rx="8.1" ry="1.8" transform="rotate(-11.4 32.5 331.7)" fill="#0c0c0c" stroke="#6a6a6a" stroke-width="0.7"/><ellipse cx="297.9" cy="295.2" rx="13.3" ry="1.9" transform="rotate(-4.6 297.9 295.2)" fill="#0c0c0c" stroke="#6a6a6a" stroke-width="0.7"/><ellipse cx="302.1" cy="353.5" rx="8.6" ry="2.4" transform="rotate(-1.1 302.1 353.5)" fill="#0c0c0c" stroke="#6a6a6a" stroke-width="0.7"/><ellipse cx="191.1" cy="318.1" rx="5.4" ry="2.4" transform="rotate(-3.5 191.1 318.1)" fill="#0c0c0c" stroke="#6a6a6a" stroke-width="0.7"/><ellipse cx="278.0" cy="339.5" rx="7.3" ry="2.2" transform="rotate(13.6 278.0 339.5)" fill="#0c0c0c" stroke="#6a6a6a" stroke-width="0.7"/><ellipse cx="262.0" cy="315.1" rx="13.9" ry="1.7" transform="rotate(-7.3 262.0 315.1)" fill="#0c0c0c" stroke="#6a6a6a" stroke-width="0.7"/><ellipse cx="150.8" cy="277.7" rx="5.8" ry="1.8" transform="rotate(6.4 150.8 277.7)" fill="#0c0c0c" stroke="#6a6a6a" stroke-width="0.7"/><ellipse cx="37.5" cy="349.3" rx="12.3" ry="2.1" transform="rotate(-7.8 37.5 349.3)" fill="#0c0c0c" stroke="#6a6a6a" stroke-width="0.7"/><ellipse cx="257.7" cy="299.7" rx="10.9" ry="2.3" transform="rotate(-4.8 257.7 299.7)" fill="#0c0c0c" stroke="#6a6a6a" stroke-width="0.7"/><ellipse cx="117.0" cy="352.4" rx="11.4" ry="2.5" transform="rotate(0.8 117.0 352.4)" fill="#0c0c0c" stroke="#6a6a6a" stroke-width="0.7"/><ellipse cx="360.7" cy="283.8" rx="13.8" ry="2.1" transform="rotate(-1.3 360.7 283.8)" fill="#0c0c0c" stroke="#6a6a6a" stroke-width="0.7"/><ellipse cx="440.3" cy="345.2" rx="6.2" ry="1.6" transform="rotate(-8.7 440.3 345.2)" fill="#0c0c0c" stroke="#6a6a6a" stroke-width="0.7"/><ellipse cx="361.4" cy="315.9" rx="8.3" ry="2.8" transform="rotate(1.4 361.4 315.9)" fill="#0c0c0c" stroke="#6a6a6a" stroke-width="0.7"/><ellipse cx="37.6" cy="359.3" rx="5.3" ry="1.8" transform="rotate(6.6 37.6 359.3)" fill="#0c0c0c" stroke="#6a6a6a" stroke-width="0.7"/><ellipse cx="257.8" cy="322.4" rx="6.6" ry="2.7" transform="rotate(-2.3 257.8 322.4)" fill="#0c0c0c" stroke="#6a6a6a" stroke-width="0.7"/><ellipse cx="79.0" cy="322.1" rx="11.6" ry="2.7" transform="rotate(0.8 79.0 322.1)" fill="#0c0c0c" stroke="#6a6a6a" stroke-width="0.7"/><ellipse cx="363.3" cy="315.5" rx="7.2" ry="2.8" transform="rotate(-8.5 363.3 315.5)" fill="#0c0c0c" stroke="#6a6a6a" stroke-width="0.7"/><ellipse cx="157.9" cy="309.6" rx="12.2" ry="2.2" transform="rotate(-5.8 157.9 309.6)" fill="#0c0c0c" stroke="#6a6a6a" stroke-width="0.7"/><ellipse cx="46.0" cy="367.3" rx="5.6" ry="2.4" transform="rotate(-9.8 46.0 367.3)" fill="#0c0c0c" stroke="#6a6a6a" stroke-width="0.7"/><ellipse cx="23.4" cy="344.0" rx="10.1" ry="2.1" transform="rotate(12.6 23.4 344.0)" fill="#0c0c0c" stroke="#6a6a6a" stroke-width="0.7"/><ellipse cx="291.8" cy="274.2" rx="7.0" ry="1.9" transform="rotate(-0.5 291.8 274.2)" fill="#0c0c0c" stroke="#6a6a6a" stroke-width="0.7"/><ellipse cx="104.5" cy="341.2" rx="6.8" ry="2.5" transform="rotate(-3.2 104.5 341.2)" fill="#0c0c0c" stroke="#6a6a6a" stroke-width="0.7"/><ellipse cx="465.6" cy="289.6" rx="6.9" ry="2.3" transform="rotate(6.6 465.6 289.6)" fill="#0c0c0c" stroke="#6a6a6a" stroke-width="0.7"/><ellipse cx="406.4" cy="359.1" rx="7.4" ry="2.5" transform="rotate(2.2 406.4 359.1)" fill="#0c0c0c" stroke="#6a6a6a" stroke-width="0.7"/><ellipse cx="151.9" cy="287.4" rx="9.4" ry="2.7" transform="rotate(4.8 151.9 287.4)" fill="#0c0c0c" stroke="#6a6a6a" stroke-width="0.7"/><ellipse cx="277.8" cy="347.9" rx="9.1" ry="2.3" transform="rotate(3.1 277.8 347.9)" fill="#0c0c0c" stroke="#6a6a6a" stroke-width="0.7"/><ellipse cx="413.2" cy="295.5" rx="8.2" ry="2.5" transform="rotate(2.5 413.2 295.5)" fill="#0c0c0c" stroke="#6a6a6a" stroke-width="0.7"/><ellipse cx="403.9" cy="294.9" rx="14.0" ry="2.0" transform="rotate(2.9 403.9 294.9)" fill="#0c0c0c" stroke="#6a6a6a" stroke-width="0.7"/><ellipse cx="456.2" cy="311.5" rx="5.1" ry="2.7" transform="rotate(5.7 456.2 311.5)" fill="#0c0c0c" stroke="#6a6a6a" stroke-width="0.7"/><ellipse cx="41.2" cy="349.1" rx="6.5" ry="2.4" transform="rotate(4.6 41.2 349.1)" fill="#0c0c0c" stroke="#6a6a6a" stroke-width="0.7"/><ellipse cx="429.7" cy="324.0" rx="11.4" ry="2.7" transform="rotate(1.5 429.7 324.0)" fill="#0c0c0c" stroke="#6a6a6a" stroke-width="0.7"/><ellipse cx="106.0" cy="308.3" rx="12.1" ry="2.4" transform="rotate(6.9 106.0 308.3)" fill="#0c0c0c" stroke="#6a6a6a" stroke-width="0.7"/><ellipse cx="104.6" cy="317.7" rx="8.9" ry="1.7" transform="rotate(18.2 104.6 317.7)" fill="#0c0c0c" stroke="#6a6a6a" stroke-width="0.7"/><ellipse cx="144.8" cy="320.8" rx="12.9" ry="1.7" transform="rotate(-3.2 144.8 320.8)" fill="#0c0c0c" stroke="#6a6a6a" stroke-width="0.7"/><ellipse cx="197.8" cy="310.6" rx="6.6" ry="2.4" transform="rotate(5.9 197.8 310.6)" fill="#0c0c0c" stroke="#6a6a6a" stroke-width="0.7"/><ellipse cx="232.0" cy="348.7" rx="6.0" ry="2.0" transform="rotate(-13.4 232.0 348.7)" fill="#0c0c0c" stroke="#6a6a6a" stroke-width="0.7"/><ellipse cx="160.4" cy="310.9" rx="6.9" ry="2.8" transform="rotate(7.2 160.4 310.9)" fill="#0c0c0c" stroke="#6a6a6a" stroke-width="0.7"/><ellipse cx="124.2" cy="276.7" rx="6.6" ry="1.9" transform="rotate(1.6 124.2 276.7)" fill="#0c0c0c" stroke="#6a6a6a" stroke-width="0.7"/><ellipse cx="235.8" cy="313.0" rx="8.7" ry="2.3" transform="rotate(-0.6 235.8 313.0)" fill="#0c0c0c" stroke="#6a6a6a" stroke-width="0.7"/><ellipse cx="320.7" cy="312.6" rx="10.9" ry="2.3" transform="rotate(-8.8 320.7 312.6)" fill="#0c0c0c" stroke="#6a6a6a" stroke-width="0.7"/><ellipse cx="460.0" cy="295.4" rx="12.9" ry="2.5" transform="rotate(-4.2 460.0 295.4)" fill="#0c0c0c" stroke="#6a6a6a" stroke-width="0.7"/><ellipse cx="193.4" cy="324.8" rx="13.8" ry="2.1" transform="rotate(-4.6 193.4 324.8)" fill="#0c0c0c" stroke="#6a6a6a" stroke-width="0.7"/><ellipse cx="62.7" cy="329.6" rx="14.0" ry="1.6" transform="rotate(-10.7 62.7 329.6)" fill="#0c0c0c" stroke="#6a6a6a" stroke-width="0.7"/><ellipse cx="115.5" cy="266.4" rx="10.5" ry="2.1" transform="rotate(0.2 115.5 266.4)" fill="#0c0c0c" stroke="#6a6a6a" stroke-width="0.7"/><ellipse cx="50.0" cy="329.2" rx="12.6" ry="2.5" transform="rotate(1.6 50.0 329.2)" fill="#0c0c0c" stroke="#6a6a6a" stroke-width="0.7"/><ellipse cx="323.6" cy="304.1" rx="7.9" ry="2.4" transform="rotate(-5.0 323.6 304.1)" fill="#0c0c0c" stroke="#6a6a6a" stroke-width="0.7"/><ellipse cx="454.9" cy="301.4" rx="5.0" ry="2.5" transform="rotate(4.3 454.9 301.4)" fill="#0c0c0c" stroke="#6a6a6a" stroke-width="0.7"/><ellipse cx="275.3" cy="280.8" rx="14.0" ry="1.9" transform="rotate(-6.8 275.3 280.8)" fill="#0c0c0c" stroke="#6a6a6a" stroke-width="0.7"/><ellipse cx="174.3" cy="273.3" rx="11.4" ry="2.1" transform="rotate(-8.2 174.3 273.3)" fill="#0c0c0c" stroke="#6a6a6a" stroke-width="0.7"/><ellipse cx="315.5" cy="302.5" rx="7.9" ry="2.4" transform="rotate(-4.1 315.5 302.5)" fill="#0c0c0c" stroke="#6a6a6a" stroke-width="0.7"/><ellipse cx="284.9" cy="303.6" rx="7.4" ry="2.7" transform="rotate(-9.5 284.9 303.6)" fill="#0c0c0c" stroke="#6a6a6a" stroke-width="0.7"/><ellipse cx="242.1" cy="317.3" rx="9.3" ry="1.9" transform="rotate(8.6 242.1 317.3)" fill="#0c0c0c" stroke="#6a6a6a" stroke-width="0.7"/><ellipse cx="245.3" cy="362.8" rx="9.7" ry="2.6" transform="rotate(0.3 245.3 362.8)" fill="#0c0c0c" stroke="#6a6a6a" stroke-width="0.7"/><ellipse cx="384.0" cy="327.7" rx="9.1" ry="2.4" transform="rotate(5.9 384.0 327.7)" fill="#0c0c0c" stroke="#6a6a6a" stroke-width="0.7"/><ellipse cx="405.7" cy="253.1" rx="5.4" ry="2.1" transform="rotate(5.5 405.7 253.1)" fill="#0c0c0c" stroke="#6a6a6a" stroke-width="0.7"/><ellipse cx="53.2" cy="261.1" rx="6.4" ry="1.9" transform="rotate(4.5 53.2 261.1)" fill="#0c0c0c" stroke="#6a6a6a" stroke-width="0.7"/><ellipse cx="375.2" cy="326.3" rx="9.7" ry="2.1" transform="rotate(5.1 375.2 326.3)" fill="#0c0c0c" stroke="#6a6a6a" stroke-width="0.7"/><ellipse cx="466.9" cy="325.1" rx="11.3" ry="2.1" transform="rotate(-10.6 466.9 325.1)" fill="#0c0c0c" stroke="#6a6a6a" stroke-width="0.7"/><ellipse cx="354.1" cy="316.6" rx="6.3" ry="2.4" transform="rotate(-4.9 354.1 316.6)" fill="#0c0c0c" stroke="#6a6a6a" stroke-width="0.7"/><ellipse cx="107.5" cy="336.3" rx="8.3" ry="2.0" transform="rotate(-0.8 107.5 336.3)" fill="#0c0c0c" stroke="#6a6a6a" stroke-width="0.7"/><ellipse cx="90.1" cy="313.2" rx="10.1" ry="1.7" transform="rotate(4.2 90.1 313.2)" fill="#0c0c0c" stroke="#6a6a6a" stroke-width="0.7"/><ellipse cx="125.0" cy="352.3" rx="7.9" ry="1.9" transform="rotate(1.3 125.0 352.3)" fill="#0c0c0c" stroke="#6a6a6a" stroke-width="0.7"/><ellipse cx="296.1" cy="298.0" rx="12.7" ry="1.8" transform="rotate(-9.4 296.1 298.0)" fill="#0c0c0c" stroke="#6a6a6a" stroke-width="0.7"/><ellipse cx="287.4" cy="334.0" rx="8.3" ry="1.7" transform="rotate(-5.4 287.4 334.0)" fill="#0c0c0c" stroke="#6a6a6a" stroke-width="0.7"/><ellipse cx="332.2" cy="319.4" rx="7.7" ry="2.1" transform="rotate(-6.5 332.2 319.4)" fill="#0c0c0c" stroke="#6a6a6a" stroke-width="0.7"/><ellipse cx="161.8" cy="265.4" rx="8.5" ry="2.3" transform="rotate(3.5 161.8 265.4)" fill="#0c0c0c" stroke="#6a6a6a" stroke-width="0.7"/><ellipse cx="454.8" cy="300.4" rx="11.4" ry="2.0" transform="rotate(-2.7 454.8 300.4)" fill="#0c0c0c" stroke="#6a6a6a" stroke-width="0.7"/><ellipse cx="28.5" cy="286.2" rx="11.8" ry="2.1" transform="rotate(-6.9 28.5 286.2)" fill="#0c0c0c" stroke="#6a6a6a" stroke-width="0.7"/><ellipse cx="421.6" cy="303.6" rx="11.8" ry="1.6" transform="rotate(-5.6 421.6 303.6)" fill="#0c0c0c" stroke="#6a6a6a" stroke-width="0.7"/><ellipse cx="213.7" cy="290.9" rx="12.6" ry="2.1" transform="rotate(-12.4 213.7 290.9)" fill="#0c0c0c" stroke="#6a6a6a" stroke-width="0.7"/><ellipse cx="203.2" cy="319.7" rx="9.4" ry="2.2" transform="rotate(4.0 203.2 319.7)" fill="#0c0c0c" stroke="#6a6a6a" stroke-width="0.7"/><ellipse cx="345.5" cy="269.4" rx="8.6" ry="1.6" transform="rotate(-3.3 345.5 269.4)" fill="#0c0c0c" stroke="#6a6a6a" stroke-width="0.7"/><ellipse cx="359.1" cy="274.8" rx="11.9" ry="1.7" transform="rotate(0.4 359.1 274.8)" fill="#0c0c0c" stroke="#6a6a6a" stroke-width="0.7"/><ellipse cx="381.9" cy="321.1" rx="5.9" ry="1.7" transform="rotate(0.2 381.9 321.1)" fill="#0c0c0c" stroke="#6a6a6a" stroke-width="0.7"/><ellipse cx="21.0" cy="270.6" rx="11.1" ry="2.5" transform="rotate(-2.0 21.0 270.6)" fill="#0c0c0c" stroke="#6a6a6a" stroke-width="0.7"/><ellipse cx="322.1" cy="310.4" rx="8.8" ry="2.3" transform="rotate(11.1 322.1 310.4)" fill="#0c0c0c" stroke="#6a6a6a" stroke-width="0.7"/><ellipse cx="407.7" cy="308.6" rx="6.3" ry="2.0" transform="rotate(-0.7 407.7 308.6)" fill="#0c0c0c" stroke="#6a6a6a" stroke-width="0.7"/><ellipse cx="462.9" cy="308.9" rx="7.5" ry="1.9" transform="rotate(-1.8 462.9 308.9)" fill="#0c0c0c" stroke="#6a6a6a" stroke-width="0.7"/><ellipse cx="401.5" cy="330.5" rx="10.0" ry="2.2" transform="rotate(-1.7 401.5 330.5)" fill="#0c0c0c" stroke="#6a6a6a" stroke-width="0.7"/><ellipse cx="139.1" cy="314.0" rx="12.8" ry="2.6" transform="rotate(2.9 139.1 314.0)" fill="#0c0c0c" stroke="#6a6a6a" stroke-width="0.7"/><ellipse cx="90.6" cy="291.2" rx="5.5" ry="2.2" transform="rotate(-4.7 90.6 291.2)" fill="#0c0c0c" stroke="#6a6a6a" stroke-width="0.7"/><ellipse cx="226.4" cy="333.2" rx="10.3" ry="2.0" transform="rotate(1.3 226.4 333.2)" fill="#0c0c0c" stroke="#6a6a6a" stroke-width="0.7"/><ellipse cx="430.1" cy="290.3" rx="10.0" ry="1.7" transform="rotate(-2.9 430.1 290.3)" fill="#0c0c0c" stroke="#6a6a6a" stroke-width="0.7"/><ellipse cx="188.5" cy="343.3" rx="10.1" ry="2.0" transform="rotate(-1.6 188.5 343.3)" fill="#0c0c0c" stroke="#6a6a6a" stroke-width="0.7"/><ellipse cx="133.0" cy="362.2" rx="11.4" ry="2.6" transform="rotate(-5.5 133.0 362.2)" fill="#0c0c0c" stroke="#6a6a6a" stroke-width="0.7"/><ellipse cx="437.5" cy="291.2" rx="9.0" ry="2.7" transform="rotate(6.0 437.5 291.2)" fill="#0c0c0c" stroke="#6a6a6a" stroke-width="0.7"/><ellipse cx="297.6" cy="320.6" rx="5.4" ry="2.6" transform="rotate(7.3 297.6 320.6)" fill="#0c0c0c" stroke="#6a6a6a" stroke-width="0.7"/><ellipse cx="80.3" cy="326.9" rx="13.3" ry="2.3" transform="rotate(2.2 80.3 326.9)" fill="#0c0c0c" stroke="#6a6a6a" stroke-width="0.7"/><ellipse cx="313.9" cy="275.8" rx="11.1" ry="2.0" transform="rotate(2.8 313.9 275.8)" fill="#0c0c0c" stroke="#6a6a6a" stroke-width="0.7"/><ellipse cx="64.0" cy="364.9" rx="6.9" ry="1.7" transform="rotate(8.7 64.0 364.9)" fill="#0c0c0c" stroke="#6a6a6a" stroke-width="0.7"/><ellipse cx="445.0" cy="338.9" rx="8.7" ry="2.4" transform="rotate(-0.6 445.0 338.9)" fill="#0c0c0c" stroke="#6a6a6a" stroke-width="0.7"/><ellipse cx="21.8" cy="306.4" rx="12.5" ry="2.0" transform="rotate(-1.7 21.8 306.4)" fill="#0c0c0c" stroke="#6a6a6a" stroke-width="0.7"/><ellipse cx="105.1" cy="286.4" rx="10.0" ry="1.8" transform="rotate(-2.6 105.1 286.4)" fill="#0c0c0c" stroke="#6a6a6a" stroke-width="0.7"/><ellipse cx="426.6" cy="283.4" rx="6.4" ry="2.6" transform="rotate(10.3 426.6 283.4)" fill="#0c0c0c" stroke="#6a6a6a" stroke-width="0.7"/><ellipse cx="458.9" cy="303.3" rx="8.4" ry="2.4" transform="rotate(1.0 458.9 303.3)" fill="#0c0c0c" stroke="#6a6a6a" stroke-width="0.7"/><ellipse cx="100.7" cy="296.5" rx="9.2" ry="2.5" transform="rotate(-0.8 100.7 296.5)" fill="#0c0c0c" stroke="#6a6a6a" stroke-width="0.7"/><ellipse cx="198.5" cy="302.9" rx="12.5" ry="1.7" transform="rotate(-2.7 198.5 302.9)" fill="#0c0c0c" stroke="#6a6a6a" stroke-width="0.7"/><ellipse cx="432.0" cy="380.3" rx="7.6" ry="2.0" transform="rotate(-0.3 432.0 380.3)" fill="#0c0c0c" stroke="#6a6a6a" stroke-width="0.7"/><ellipse cx="39.0" cy="310.8" rx="9.4" ry="2.6" transform="rotate(-6.1 39.0 310.8)" fill="#0c0c0c" stroke="#6a6a6a" stroke-width="0.7"/><ellipse cx="36.9" cy="287.7" rx="6.3" ry="1.9" transform="rotate(9.1 36.9 287.7)" fill="#0c0c0c" stroke="#6a6a6a" stroke-width="0.7"/><ellipse cx="102.5" cy="273.2" rx="13.3" ry="1.6" transform="rotate(-12.8 102.5 273.2)" fill="#0c0c0c" stroke="#6a6a6a" stroke-width="0.7"/><ellipse cx="158.0" cy="263.7" rx="13.5" ry="2.4" transform="rotate(5.1 158.0 263.7)" fill="#0c0c0c" stroke="#6a6a6a" stroke-width="0.7"/><ellipse cx="207.8" cy="317.7" rx="7.2" ry="2.5" transform="rotate(4.6 207.8 317.7)" fill="#0c0c0c" stroke="#6a6a6a" stroke-width="0.7"/><ellipse cx="136.2" cy="356.9" rx="5.6" ry="2.3" transform="rotate(6.3 136.2 356.9)" fill="#0c0c0c" stroke="#6a6a6a" stroke-width="0.7"/><ellipse cx="368.0" cy="330.8" rx="10.4" ry="2.2" transform="rotate(7.0 368.0 330.8)" fill="#0c0c0c" stroke="#6a6a6a" stroke-width="0.7"/><ellipse cx="41.0" cy="316.9" rx="10.8" ry="1.8" transform="rotate(-4.9 41.0 316.9)" fill="#0c0c0c" stroke="#6a6a6a" stroke-width="0.7"/><ellipse cx="172.4" cy="296.1" rx="11.0" ry="1.8" transform="rotate(6.9 172.4 296.1)" fill="#0c0c0c" stroke="#6a6a6a" stroke-width="0.7"/><ellipse cx="152.0" cy="371.9" rx="12.9" ry="2.2" transform="rotate(1.6 152.0 371.9)" fill="#0c0c0c" stroke="#6a6a6a" stroke-width="0.7"/><ellipse cx="411.1" cy="320.0" rx="6.1" ry="2.2" transform="rotate(-2.9 411.1 320.0)" fill="#0c0c0c" stroke="#6a6a6a" stroke-width="0.7"/><ellipse cx="216.4" cy="305.9" rx="6.5" ry="2.2" transform="rotate(-5.7 216.4 305.9)" fill="#0c0c0c" stroke="#6a6a6a" stroke-width="0.7"/><ellipse cx="88.6" cy="308.1" rx="8.6" ry="1.8" transform="rotate(3.1 88.6 308.1)" fill="#0c0c0c" stroke="#6a6a6a" stroke-width="0.7"/><ellipse cx="407.5" cy="325.2" rx="9.5" ry="2.7" transform="rotate(14.3 407.5 325.2)" fill="#0c0c0c" stroke="#6a6a6a" stroke-width="0.7"/><ellipse cx="226.2" cy="316.1" rx="12.1" ry="2.3" transform="rotate(-1.6 226.2 316.1)" fill="#0c0c0c" stroke="#6a6a6a" stroke-width="0.7"/><ellipse cx="350.0" cy="289.2" rx="6.4" ry="1.9" transform="rotate(5.9 350.0 289.2)" fill="#0c0c0c" stroke="#6a6a6a" stroke-width="0.7"/><ellipse cx="240.2" cy="315.1" rx="7.6" ry="2.7" transform="rotate(6.8 240.2 315.1)" fill="#0c0c0c" stroke="#6a6a6a" stroke-width="0.7"/><ellipse cx="105.7" cy="329.2" rx="10.4" ry="2.5" transform="rotate(-0.5 105.7 329.2)" fill="#0c0c0c" stroke="#6a6a6a" stroke-width="0.7"/><ellipse cx="111.3" cy="298.9" rx="10.4" ry="2.8" transform="rotate(8.0 111.3 298.9)" fill="#0c0c0c" stroke="#6a6a6a" stroke-width="0.7"/><ellipse cx="322.4" cy="320.0" rx="12.3" ry="2.0" transform="rotate(2.5 322.4 320.0)" fill="#0c0c0c" stroke="#6a6a6a" stroke-width="0.7"/><ellipse cx="430.8" cy="278.3" rx="5.1" ry="2.7" transform="rotate(-5.2 430.8 278.3)" fill="#0c0c0c" stroke="#6a6a6a" stroke-width="0.7"/><ellipse cx="36.7" cy="325.4" rx="7.2" ry="2.5" transform="rotate(-1.5 36.7 325.4)" fill="#0c0c0c" stroke="#6a6a6a" stroke-width="0.7"/><ellipse cx="158.0" cy="293.8" rx="6.3" ry="1.8" transform="rotate(1.0 158.0 293.8)" fill="#0c0c0c" stroke="#6a6a6a" stroke-width="0.7"/><ellipse cx="456.9" cy="335.7" rx="14.0" ry="2.5" transform="rotate(-7.0 456.9 335.7)" fill="#0c0c0c" stroke="#6a6a6a" stroke-width="0.7"/><ellipse cx="363.8" cy="313.8" rx="13.2" ry="2.5" transform="rotate(-2.6 363.8 313.8)" fill="#0c0c0c" stroke="#6a6a6a" stroke-width="0.7"/><ellipse cx="290.9" cy="294.2" rx="12.6" ry="2.5" transform="rotate(8.0 290.9 294.2)" fill="#0c0c0c" stroke="#6a6a6a" stroke-width="0.7"/><ellipse cx="160.3" cy="335.5" rx="6.5" ry="2.8" transform="rotate(-4.6 160.3 335.5)" fill="#0c0c0c" stroke="#6a6a6a" stroke-width="0.7"/><ellipse cx="58.9" cy="265.4" rx="12.5" ry="2.7" transform="rotate(8.2 58.9 265.4)" fill="#0c0c0c" stroke="#6a6a6a" stroke-width="0.7"/><ellipse cx="389.0" cy="281.4" rx="12.2" ry="2.3" transform="rotate(-10.3 389.0 281.4)" fill="#0c0c0c" stroke="#6a6a6a" stroke-width="0.7"/><ellipse cx="366.3" cy="331.4" rx="12.8" ry="2.0" transform="rotate(7.2 366.3 331.4)" fill="#0c0c0c" stroke="#6a6a6a" stroke-width="0.7"/><ellipse cx="442.7" cy="300.3" rx="6.0" ry="2.8" transform="rotate(1.1 442.7 300.3)" fill="#0c0c0c" stroke="#6a6a6a" stroke-width="0.7"/><ellipse cx="391.8" cy="287.1" rx="7.1" ry="1.8" transform="rotate(-4.3 391.8 287.1)" fill="#0c0c0c" stroke="#6a6a6a" stroke-width="0.7"/><polygon points="216.5,359.6 215.3,360.9 212.9,360.9 212.9,359.6 213.7,357.8 215.3,358.7" fill="#d8d8d8"/><polygon points="27.5,284.9 24.9,286.5 21.9,287.5 19.9,284.2 21.5,282.7 25.1,282.2" fill="#d8d8d8"/><polygon points="378.8,348.7 376.4,351.0 372.5,352.6 370.7,349.9 372.2,346.9 377.2,347.5" fill="#a8a8a8"/><polygon points="7.2,278.2 5.0,279.7 3.1,279.9 0.2,277.8 1.1,275.9 5.1,276.9" fill="#d8d8d8"/><polygon points="129.3,378.7 128.6,381.0 122.7,381.6 121.1,378.8 123.1,375.0 127.3,375.7" fill="#f0f0f0"/><polygon points="320.5,380.0 319.2,381.5 317.9,381.7 316.7,380.2 317.4,379.0 319.2,379.1" fill="#f0f0f0"/><polygon points="295.7,343.3 293.5,345.6 289.2,345.8 287.5,344.1 288.6,341.0 294.2,340.3" fill="#d8d8d8"/><polygon points="262.8,284.8 260.4,286.8 259.0,286.6 258.0,285.6 258.1,283.6 260.3,284.3" fill="#f0f0f0"/><polygon points="372.1,354.1 371.7,356.6 369.1,356.4 366.5,354.1 367.9,352.1 371.3,352.1" fill="#f0f0f0"/><polygon points="360.1,382.1 359.9,383.7 356.1,383.0 353.7,381.3 355.7,380.1 359.2,379.8" fill="#d8d8d8"/><polygon points="42.9,370.3 41.6,372.5 36.3,372.1 35.1,370.2 37.8,368.6 40.5,368.2" fill="#f0f0f0"/><polygon points="142.7,361.0 142.3,364.0 136.7,363.9 136.2,362.0 137.4,359.5 141.8,359.5" fill="#d8d8d8"/><polygon points="233.6,352.0 231.1,353.3 228.4,354.3 227.4,352.2 227.9,349.9 230.9,350.5" fill="#d8d8d8"/><polygon points="363.1,310.6 361.6,312.6 357.9,312.5 355.1,310.1 357.8,308.9 361.3,309.2" fill="#d8d8d8"/><polygon points="28.5,341.6 26.3,343.9 22.7,344.2 21.6,342.0 23.1,340.1 26.6,338.9" fill="#d8d8d8"/><polygon points="14.1,281.3 13.2,283.6 7.8,283.3 7.7,281.1 8.1,278.8 12.8,278.8" fill="#d8d8d8"/><polygon points="5.7,395.5 4.5,397.3 1.7,397.9 1.0,395.6 1.9,394.8 5.0,393.9" fill="#d8d8d8"/><polygon points="213.2,317.2 212.2,318.6 209.5,319.0 208.4,317.7 209.8,315.9 212.9,315.5" fill="#d8d8d8"/><polygon points="411.8,380.9 410.3,382.4 407.8,382.9 407.1,381.1 408.6,380.4 410.6,380.4" fill="#f0f0f0"/><polygon points="105.6,394.9 105.7,396.8 101.7,396.6 100.4,395.2 102.7,393.9 105.0,393.8" fill="#d8d8d8"/><polygon points="128.3,356.9 126.4,357.7 123.6,358.8 122.3,356.7 124.0,354.8 126.4,355.5" fill="#bdbdbd"/><polygon points="134.3,334.2 133.5,336.8 131.3,336.2 128.8,334.7 130.1,332.0 133.8,332.8" fill="#bdbdbd"/><polygon points="159.5,382.0 158.7,383.4 156.1,383.7 155.6,381.8 157.1,381.3 159.1,381.1" fill="#a8a8a8"/><polygon points="220.5,350.3 217.4,351.6 211.4,352.3 211.5,348.9 212.0,345.9 217.3,346.5" fill="#d8d8d8"/><polygon points="453.3,347.8 452.3,348.8 451.1,348.5 450.2,347.5 450.6,346.4 452.6,346.2" fill="#bdbdbd"/><polygon points="413.2,360.2 409.9,361.5 407.1,362.7 406.2,359.8 407.8,358.1 411.6,357.7" fill="#a8a8a8"/><polygon points="47.5,395.0 44.9,397.3 41.3,397.0 40.8,395.0 43.1,393.6 45.4,393.8" fill="#f0f0f0"/><polygon points="336.6,300.1 334.6,302.0 332.7,301.7 331.4,300.0 331.9,298.9 334.5,299.3" fill="#d8d8d8"/><polygon points="13.3,387.5 9.8,389.5 7.4,389.9 6.0,388.1 6.5,385.6 10.9,385.1" fill="#f0f0f0"/><polygon points="93.9,349.7 91.2,352.6 87.3,353.4 84.7,350.5 86.0,348.0 91.7,348.2" fill="#a8a8a8"/><polygon points="106.7,353.5 104.9,355.0 102.6,354.3 100.7,352.7 101.9,351.3 104.0,351.2" fill="#d8d8d8"/><polygon points="93.3,342.9 92.1,345.0 88.9,346.4 85.7,343.8 88.4,341.1 92.8,341.5" fill="#a8a8a8"/><polygon points="412.1,369.3 410.7,370.6 407.1,371.6 405.3,368.5 407.4,365.7 411.0,366.2" fill="#bdbdbd"/><polygon points="31.3,335.8 28.2,338.6 25.3,338.0 23.2,335.8 26.1,333.9 28.8,334.1" fill="#d8d8d8"/><polygon points="56.5,368.0 55.2,370.7 52.3,369.5 49.5,368.7 52.2,365.7 56.2,365.2" fill="#a8a8a8"/><polygon points="174.4,367.9 174.0,369.4 171.6,369.3 169.8,367.3 171.0,366.3 174.0,366.2" fill="#f0f0f0"/><polygon points="34.2,362.0 34.5,364.1 30.2,363.7 28.8,362.6 31.4,360.4 33.4,360.5" fill="#a8a8a8"/><polygon points="27.6,362.5 26.5,364.1 24.0,364.3 23.1,362.8 23.8,361.2 25.6,361.2" fill="#d8d8d8"/><polygon points="93.8,394.9 92.7,398.0 88.2,396.9 86.2,395.9 87.6,393.3 92.2,392.7" fill="#a8a8a8"/><polygon points="184.6,337.8 182.3,340.6 178.2,340.0 175.8,339.0 178.5,335.3 182.1,335.9" fill="#bdbdbd"/><polygon points="304.7,337.4 303.6,339.3 301.4,340.1 300.3,338.0 300.2,335.6 304.0,336.4" fill="#f0f0f0"/><polygon points="35.3,385.3 34.3,386.2 32.5,386.1 31.6,385.2 31.9,383.7 34.5,383.8" fill="#f0f0f0"/><polygon points="304.7,337.4 300.9,339.6 298.7,339.7 296.9,337.9 298.2,336.0 301.1,335.8" fill="#bdbdbd"/><polygon points="227.2,378.3 225.4,380.5 221.6,379.6 218.3,377.8 221.1,375.5 223.5,376.1" fill="#d8d8d8"/><polygon points="150.4,365.0 149.2,367.9 146.0,366.5 144.7,365.4 146.0,363.5 148.8,363.4" fill="#f0f0f0"/><polygon points="124.2,370.1 122.9,371.4 121.5,371.2 119.3,370.3 121.0,368.4 123.2,368.2" fill="#d8d8d8"/><polygon points="209.5,366.9 208.7,368.2 206.3,368.3 205.4,366.8 206.2,365.4 208.3,365.1" fill="#f0f0f0"/><polygon points="36.3,300.8 35.4,303.5 30.9,303.0 27.1,301.0 31.3,298.4 34.3,297.4" fill="#d8d8d8"/><polygon points="401.2,357.6 398.8,360.3 394.5,359.8 393.6,357.9 395.1,353.6 399.3,353.6" fill="#d8d8d8"/><polygon points="361.3,326.4 360.8,327.8 359.1,328.0 358.2,326.5 358.5,325.6 360.8,325.8" fill="#a8a8a8"/><polygon points="26.2,359.2 24.5,361.5 21.4,360.6 21.1,358.9 21.6,358.0 24.0,357.6" fill="#f0f0f0"/><polygon points="183.8,349.8 182.4,351.4 178.8,350.7 177.9,349.5 179.2,347.2 181.1,347.6" fill="#a8a8a8"/><polygon points="145.2,371.5 144.3,372.9 142.7,372.5 140.5,371.2 142.2,370.4 144.0,369.8" fill="#bdbdbd"/><polygon points="270.8,389.3 269.8,390.3 266.9,392.0 264.6,388.3 266.6,386.3 270.0,387.0" fill="#f0f0f0"/><polygon points="445.1,355.9 444.7,356.9 442.8,356.7 441.2,355.9 442.3,354.9 444.2,354.1" fill="#d8d8d8"/><polygon points="280.2,391.9 279.9,393.3 277.1,393.4 275.8,392.2 276.6,390.8 279.0,390.8" fill="#f0f0f0"/><polygon points="264.5,377.8 262.2,378.8 258.9,379.2 258.3,377.8 259.6,375.2 262.9,375.9" fill="#d8d8d8"/><polygon points="186.0,363.9 184.2,365.9 181.7,365.1 179.1,363.9 181.5,362.1 183.5,361.3" fill="#f0f0f0"/><polygon points="152.2,342.5 152.0,343.7 149.4,343.7 147.2,342.7 149.6,341.1 151.3,341.0" fill="#d8d8d8"/><polygon points="49.0,387.6 48.0,389.7 43.9,388.7 41.9,387.5 43.1,385.7 47.4,385.9" fill="#d8d8d8"/><polygon points="232.3,393.4 231.4,396.9 227.4,396.6 226.2,394.0 227.4,391.3 231.3,390.0" fill="#d8d8d8"/><polygon points="37.9,331.1 37.0,331.6 34.4,332.3 34.4,330.9 34.8,330.0 36.6,330.0" fill="#d8d8d8"/><polygon points="266.9,354.3 264.8,356.7 260.7,356.9 259.5,354.9 261.3,352.4 264.1,353.1" fill="#bdbdbd"/><polygon points="143.9,362.5 141.8,363.9 137.9,364.6 137.8,362.2 138.6,359.5 141.9,360.5" fill="#bdbdbd"/><polygon points="415.6,380.3 412.3,383.5 408.3,383.9 406.7,380.5 407.8,378.1 412.5,378.6" fill="#bdbdbd"/><polygon points="7.9,331.9 6.8,334.8 1.7,334.4 -0.7,333.0 1.8,330.9 5.3,330.2" fill="#d8d8d8"/><polygon points="318.2,358.4 315.5,360.8 311.0,361.1 309.7,359.0 311.0,356.5 316.4,356.0" fill="#a8a8a8"/><polygon points="338.3,320.2 336.9,322.9 331.6,323.3 329.0,319.9 333.0,317.8 335.1,317.2" fill="#bdbdbd"/><polygon points="268.1,357.6 266.8,358.6 265.4,358.7 262.5,357.8 265.1,355.8 267.4,356.5" fill="#f0f0f0"/><polygon points="117.5,353.0 115.8,354.6 112.4,354.9 110.0,353.3 112.7,351.2 115.8,351.2" fill="#a8a8a8"/><polygon points="211.1,375.9 210.2,377.5 207.0,377.5 204.3,375.7 206.8,373.2 210.1,373.7" fill="#f0f0f0"/><polygon points="13.9,310.0 12.6,310.9 10.8,311.9 9.5,310.2 10.8,308.9 13.3,308.6" fill="#bdbdbd"/><polygon points="295.5,384.8 293.6,385.8 291.3,385.8 290.5,384.8 290.2,382.7 294.0,383.0" fill="#f0f0f0"/><polygon points="93.9,300.5 91.6,302.2 89.4,302.2 88.1,300.5 90.2,298.7 92.0,298.6" fill="#d8d8d8"/><polygon points="288.3,388.2 287.7,390.3 284.1,390.3 284.1,388.5 285.1,386.4 288.0,386.9" fill="#a8a8a8"/><polygon points="295.5,318.8 293.5,320.5 290.0,320.5 288.1,318.2 291.1,316.3 293.8,316.3" fill="#f0f0f0"/><polygon points="76.1,380.7 74.8,381.6 73.5,381.6 72.5,381.0 73.0,379.3 74.6,379.8" fill="#a8a8a8"/><polygon points="195.8,297.8 191.8,299.2 189.5,298.8 186.8,297.1 188.8,294.0 192.5,294.9" fill="#d8d8d8"/><polygon points="419.4,385.5 419.2,386.8 416.8,387.1 415.3,384.9 416.8,384.0 419.1,383.9" fill="#a8a8a8"/><polygon points="134.3,388.5 132.3,390.8 128.2,389.5 124.4,388.4 126.9,384.7 131.2,385.4" fill="#d8d8d8"/><polygon points="326.3,373.1 326.1,375.6 322.5,375.0 321.0,373.7 322.8,371.9 324.8,372.0" fill="#a8a8a8"/><polygon points="45.9,369.2 42.9,371.1 38.9,372.0 36.3,368.7 39.7,366.1 44.5,365.4" fill="#a8a8a8"/><polygon points="117.4,381.4 115.9,383.5 112.0,383.6 111.5,381.9 111.8,380.1 115.1,380.6" fill="#d8d8d8"/><polygon points="161.5,318.0 160.4,319.7 156.5,319.3 155.3,317.7 156.2,314.9 159.3,315.9" fill="#f0f0f0"/><polygon points="357.3,359.1 355.6,361.1 352.2,360.5 350.0,359.5 351.5,357.4 355.0,356.2" fill="#d8d8d8"/><polygon points="241.7,341.3 239.0,343.8 235.6,345.4 234.7,341.4 235.6,340.0 239.9,338.9" fill="#bdbdbd"/><polygon points="367.4,394.6 365.1,397.0 361.9,397.1 360.4,394.4 361.3,392.7 365.6,392.5" fill="#f0f0f0"/><polygon points="253.2,368.5 251.2,369.8 249.3,370.5 249.1,369.0 250.2,367.7 252.0,367.9" fill="#bdbdbd"/><polygon points="438.7,370.5 438.5,371.7 436.6,372.4 436.1,370.7 436.3,369.4 438.0,369.3" fill="#bdbdbd"/><polygon points="148.4,365.3 146.5,367.5 143.9,367.4 142.1,365.6 144.4,363.0 147.7,363.6" fill="#f0f0f0"/><polygon points="339.5,366.3 338.3,369.0 334.4,367.6 331.3,366.1 333.6,363.9 337.5,363.9" fill="#f0f0f0"/><polygon points="263.2,308.3 262.1,309.6 258.9,309.6 257.6,307.7 259.1,306.1 261.0,306.0" fill="#a8a8a8"/><polygon points="146.7,369.2 145.0,371.9 141.5,371.1 139.2,369.5 142.0,368.1 145.0,367.8" fill="#d8d8d8"/><polygon points="359.5,337.2 357.7,338.8 355.6,337.7 354.7,336.7 356.3,335.6 357.9,335.0" fill="#d8d8d8"/><polygon points="13.6,387.7 12.9,388.3 10.6,389.1 10.0,387.7 10.7,386.3 13.5,386.3" fill="#d8d8d8"/><polygon points="226.3,385.8 224.1,387.2 221.8,387.1 219.2,385.2 221.1,383.8 223.9,383.8" fill="#f0f0f0"/><polygon points="97.5,388.8 95.6,390.9 93.5,391.0 90.6,388.8 93.0,386.5 95.1,387.6" fill="#bdbdbd"/><polygon points="267.3,396.6 266.3,397.9 263.1,398.7 261.4,396.2 263.0,394.8 266.4,394.7" fill="#f0f0f0"/><polygon points="179.9,379.1 177.7,381.9 174.7,381.3 173.0,378.7 175.9,377.3 178.9,377.7" fill="#a8a8a8"/><polygon points="18.6,385.5 14.9,387.2 11.7,388.1 10.1,384.4 12.0,382.8 14.8,382.8" fill="#bdbdbd"/><polygon points="146.4,348.6 145.5,350.5 142.4,350.7 139.7,349.1 142.6,347.0 144.5,346.6" fill="#d8d8d8"/><polygon points="100.1,385.2 97.8,387.6 95.8,386.7 94.2,384.6 94.4,383.2 98.6,383.2" fill="#d8d8d8"/><polygon points="105.8,339.5 104.1,340.4 101.7,340.9 99.3,339.1 101.2,337.4 104.4,338.2" fill="#f0f0f0"/><polygon points="24.7,284.0 22.3,285.8 17.8,285.9 15.7,283.6 18.2,281.1 21.8,281.7" fill="#bdbdbd"/><polygon points="423.4,372.2 421.8,374.9 419.0,374.4 417.4,372.2 417.1,369.8 421.1,369.2" fill="#a8a8a8"/><polygon points="30.0,288.9 27.9,290.2 25.7,290.8 24.2,289.5 25.4,286.9 28.2,286.5" fill="#d8d8d8"/><polygon points="301.0,358.3 299.9,359.0 297.7,359.2 296.9,357.9 297.1,356.7 299.2,356.7" fill="#a8a8a8"/><polygon points="378.7,295.2 376.8,297.0 374.8,297.0 373.8,295.7 375.8,294.3 377.5,294.3" fill="#bdbdbd"/><polygon points="66.7,356.6 65.8,358.6 60.8,358.0 57.5,356.2 60.6,352.8 64.4,354.1" fill="#a8a8a8"/><polygon points="264.9,314.0 263.2,316.8 259.4,316.8 257.1,314.7 259.1,311.6 262.3,311.2" fill="#f0f0f0"/><polygon points="432.6,394.0 431.4,396.6 426.7,396.2 424.1,393.7 427.0,391.2 431.2,391.8" fill="#bdbdbd"/><polygon points="264.3,361.3 263.3,364.1 260.4,363.8 256.3,361.7 260.2,359.1 262.9,359.0" fill="#a8a8a8"/><polygon points="58.2,351.5 55.9,353.1 53.5,353.7 53.8,351.9 54.0,350.2 57.1,350.4" fill="#bdbdbd"/><polygon points="117.7,362.5 116.0,365.3 112.9,364.2 111.5,362.0 112.8,360.6 116.5,359.9" fill="#f0f0f0"/><polygon points="351.5,375.4 350.2,376.2 347.6,376.9 346.3,375.0 348.0,372.7 349.9,373.9" fill="#d8d8d8"/><polygon points="55.6,390.9 54.6,392.5 52.5,392.6 51.7,391.6 52.6,389.8 54.1,390.3" fill="#d8d8d8"/><polygon points="227.8,384.4 225.0,386.4 220.3,387.2 217.8,383.9 220.0,381.5 224.2,381.6" fill="#bdbdbd"/><polygon points="256.5,353.3 254.6,354.8 251.1,354.8 249.6,353.3 251.6,350.9 254.6,351.7" fill="#f0f0f0"/><polygon points="293.3,377.4 292.2,379.7 288.0,379.2 286.7,376.6 288.9,374.9 292.3,374.9" fill="#d8d8d8"/><polygon points="399.7,333.8 398.4,334.2 396.7,334.1 395.0,333.2 396.3,332.2 398.7,332.1" fill="#a8a8a8"/><polygon points="259.2,348.0 255.6,350.1 251.2,350.6 250.9,347.7 253.6,346.2 257.1,345.8" fill="#bdbdbd"/><polygon points="67.7,270.2 67.2,272.4 62.0,272.9 59.7,270.6 63.0,268.2 67.2,267.6" fill="#f0f0f0"/><polygon points="250.1,370.2 248.5,371.8 245.8,372.0 244.4,370.1 245.2,368.0 249.5,368.1" fill="#f0f0f0"/><polygon points="201.8,294.9 201.8,297.0 198.4,296.8 196.9,294.7 198.1,291.9 201.3,293.3" fill="#d8d8d8"/><polygon points="377.9,367.7 377.7,368.4 375.8,368.7 375.4,367.3 375.6,366.4 377.1,366.5" fill="#f0f0f0"/><polygon points="453.8,394.7 452.3,396.3 449.0,396.9 447.1,395.1 448.3,392.5 451.9,392.8" fill="#f0f0f0"/><polygon points="122.4,352.1 120.9,353.2 119.8,353.1 119.3,352.4 119.7,351.4 121.3,351.5" fill="#f0f0f0"/><polygon points="190.5,270.5 190.2,271.9 187.9,271.7 187.7,270.8 188.2,270.0 189.7,270.1" fill="#f0f0f0"/><polygon points="362.5,373.2 360.7,374.4 357.6,375.4 357.3,372.7 358.9,371.0 361.3,371.3" fill="#bdbdbd"/><polygon points="347.9,395.2 346.2,396.8 343.8,397.2 341.5,394.9 343.3,391.7 347.0,392.2" fill="#a8a8a8"/><polygon points="386.1,359.2 384.2,361.5 379.9,361.4 379.2,359.2 380.4,357.5 383.4,357.6" fill="#d8d8d8"/><polygon points="425.2,270.2 425.8,272.6 419.3,273.1 417.0,270.0 420.7,266.6 423.8,267.0" fill="#f0f0f0"/><polygon points="157.4,362.8 156.8,364.3 153.3,364.8 152.0,362.3 153.6,360.6 157.0,360.9" fill="#f0f0f0"/><polygon points="257.8,359.7 254.3,362.9 250.4,361.9 250.5,360.0 250.0,357.1 255.9,357.2" fill="#a8a8a8"/><polygon points="13.5,372.8 12.5,374.1 10.6,373.5 8.5,372.8 10.4,371.2 11.8,370.9" fill="#bdbdbd"/><polygon points="455.0,392.6 454.4,395.8 448.5,395.1 446.9,392.7 449.6,390.7 453.9,388.7" fill="#a8a8a8"/><polygon points="421.4,364.0 418.7,367.3 415.3,365.6 413.7,364.0 414.5,361.5 419.5,361.5" fill="#bdbdbd"/><polygon points="271.6,303.4 269.6,305.0 268.3,304.7 267.5,303.7 267.9,302.7 270.7,302.5" fill="#d8d8d8"/><polygon points="85.2,370.6 82.9,372.1 79.7,372.7 78.4,370.3 78.9,368.4 82.6,368.1" fill="#f0f0f0"/><polygon points="227.8,297.7 225.8,299.2 223.8,299.4 223.1,298.0 224.5,296.9 225.8,296.9" fill="#f0f0f0"/><polygon points="16.7,343.5 15.5,344.3 13.8,344.7 12.2,343.7 13.6,342.3 16.0,341.7" fill="#d8d8d8"/><polygon points="72.2,310.0 72.5,313.4 67.0,314.2 63.4,310.2 66.3,307.9 70.5,308.3" fill="#bdbdbd"/><polygon points="373.0,366.7 372.9,368.4 369.1,368.0 367.7,366.5 368.8,365.1 372.5,364.4" fill="#d8d8d8"/><polygon points="87.7,392.6 87.0,394.1 84.3,393.6 82.4,392.2 83.9,390.9 86.9,391.3" fill="#f0f0f0"/><polygon points="363.0,380.7 363.4,382.4 359.7,382.7 357.0,381.1 360.0,378.6 362.8,378.0" fill="#d8d8d8"/><polygon points="209.1,338.2 207.3,340.5 205.7,339.8 204.1,338.6 204.7,337.2 207.3,336.5" fill="#a8a8a8"/><polygon points="307.6,356.4 305.7,358.1 303.1,358.2 300.8,356.0 303.0,354.2 306.8,353.9" fill="#bdbdbd"/><polygon points="133.9,289.6 130.4,291.3 126.2,292.1 123.8,290.0 126.0,287.3 130.8,285.7" fill="#f0f0f0"/><polygon points="136.4,356.6 134.1,359.2 131.6,359.5 130.0,356.7 130.6,353.8 133.9,354.7" fill="#d8d8d8"/><polygon points="144.0,268.5 142.8,269.5 140.8,270.4 138.8,268.2 140.7,266.5 143.0,267.2" fill="#f0f0f0"/><polygon points="299.4,370.7 298.4,373.6 294.1,373.3 291.7,370.5 293.3,368.4 296.9,368.0" fill="#f0f0f0"/><polygon points="6.3,358.6 5.6,360.0 4.0,359.7 1.5,358.2 4.1,357.3 6.2,356.9" fill="#d8d8d8"/><polygon points="160.9,345.5 160.5,347.6 157.7,347.2 156.2,345.2 158.1,343.8 160.6,343.7" fill="#d8d8d8"/><polygon points="346.0,339.0 344.2,340.2 342.7,340.4 341.7,339.4 342.2,338.3 344.1,338.0" fill="#bdbdbd"/><polygon points="24.1,345.9 21.3,348.5 19.2,347.6 17.5,346.5 18.7,344.3 21.0,344.2" fill="#d8d8d8"/><polygon points="350.4,271.7 349.0,272.8 345.9,273.6 345.9,271.6 346.4,270.4 349.2,270.1" fill="#a8a8a8"/><polygon points="426.0,347.2 424.9,348.4 423.1,348.4 422.5,347.4 423.0,346.8 425.5,346.3" fill="#f0f0f0"/><polygon points="399.1,298.7 395.0,300.5 391.6,301.1 390.3,298.7 390.7,295.9 394.5,296.7" fill="#f0f0f0"/><polygon points="449.3,360.4 447.5,362.0 445.0,361.9 443.8,360.1 445.1,359.2 446.9,359.0" fill="#f0f0f0"/><polygon points="334.3,284.6 334.0,286.4 330.7,286.3 329.5,284.6 331.0,282.2 333.2,282.9" fill="#f0f0f0"/><polygon points="317.4,338.0 315.9,339.9 312.8,340.2 312.4,338.7 313.2,336.1 316.6,337.1" fill="#f0f0f0"/><polygon points="86.5,319.3 86.2,322.1 81.3,321.7 80.8,319.8 80.9,316.5 84.4,317.3" fill="#f0f0f0"/><polygon points="206.6,376.0 205.4,377.8 204.0,377.3 203.1,376.1 203.6,374.8 205.8,375.2" fill="#d8d8d8"/><polygon points="181.7,336.4 180.1,338.9 175.6,338.8 174.6,336.1 176.6,334.0 179.4,334.4" fill="#f0f0f0"/><polygon points="60.4,368.1 58.5,371.2 55.0,370.8 52.8,368.2 54.6,364.3 59.1,365.5" fill="#bdbdbd"/><polygon points="91.1,350.2 87.7,351.6 85.4,351.6 82.5,349.5 83.8,347.9 88.1,348.1" fill="#d8d8d8"/><polygon points="372.4,352.8 370.6,354.2 366.6,354.8 364.8,352.2 366.4,350.4 369.6,350.2" fill="#bdbdbd"/><polygon points="362.9,268.5 361.4,269.6 359.1,269.9 357.4,268.1 358.8,266.6 360.8,266.6" fill="#d8d8d8"/><polygon points="38.3,365.1 37.1,366.4 35.8,366.2 35.2,365.4 35.8,364.0 37.2,363.6" fill="#f0f0f0"/><polygon points="75.3,297.0 74.6,298.4 71.7,299.2 70.1,297.2 71.3,295.6 74.4,294.7" fill="#a8a8a8"/><polygon points="413.1,379.1 412.0,380.4 409.7,381.5 408.9,378.9 409.5,377.8 413.5,376.5" fill="#a8a8a8"/><polygon points="63.3,350.0 61.7,352.6 57.3,352.5 55.3,349.9 57.2,346.9 61.6,347.0" fill="#d8d8d8"/><polygon points="20.4,360.1 17.0,363.0 14.2,362.8 11.5,360.6 13.1,358.6 17.2,357.3" fill="#d8d8d8"/><polygon points="134.8,387.7 133.0,388.8 129.2,389.4 127.5,387.4 129.9,385.9 132.3,385.1" fill="#a8a8a8"/><polygon points="126.5,373.9 125.4,376.3 122.7,375.1 120.4,373.8 123.0,372.2 125.5,372.8" fill="#d8d8d8"/><polygon points="236.0,311.8 233.5,313.2 229.4,314.2 227.3,311.9 228.8,309.1 233.2,309.6" fill="#a8a8a8"/><polygon points="289.6,359.5 288.5,361.7 284.5,361.9 282.5,360.1 284.0,357.5 287.9,357.4" fill="#d8d8d8"/><polygon points="31.1,322.5 29.0,324.2 27.0,324.4 24.8,321.6 26.7,321.2 29.9,320.2" fill="#bdbdbd"/><polygon points="373.8,344.4 373.7,346.7 369.8,346.2 369.6,344.3 371.1,342.6 373.2,342.2" fill="#d8d8d8"/><polygon points="241.6,356.1 240.3,357.7 238.3,358.1 237.0,356.6 238.4,354.4 240.5,354.5" fill="#f0f0f0"/><polygon points="301.4,393.4 299.5,395.9 296.7,395.4 296.0,393.5 296.9,392.1 300.6,391.9" fill="#a8a8a8"/><polygon points="36.7,324.3 34.8,325.5 32.4,325.9 31.2,324.4 33.2,322.7 35.1,323.2" fill="#bdbdbd"/><polygon points="20.6,366.4 19.8,367.9 17.6,367.4 16.2,365.9 16.8,364.7 19.9,365.4" fill="#f0f0f0"/><polygon points="22.6,272.7 21.4,275.8 18.7,274.6 17.8,272.7 18.6,271.6 21.5,271.2" fill="#bdbdbd"/><polygon points="378.3,352.2 376.4,353.3 374.6,353.6 373.7,352.4 374.8,350.9 376.5,351.0" fill="#bdbdbd"/><polygon points="124.8,338.6 123.9,340.2 121.7,339.5 120.9,338.4 121.6,336.7 124.6,336.6" fill="#f0f0f0"/><polygon points="150.0,355.8 149.3,357.2 147.1,357.3 145.0,356.5 147.0,354.1 149.0,354.4" fill="#bdbdbd"/><polygon points="68.7,349.4 67.7,352.5 63.3,351.5 62.5,349.9 63.1,346.9 67.6,347.2" fill="#f0f0f0"/><polygon points="130.4,360.0 128.4,362.2 125.9,362.1 123.9,360.7 124.8,357.8 128.5,357.6" fill="#f0f0f0"/><polygon points="448.6,315.2 445.3,317.5 442.6,317.8 439.0,315.7 441.7,313.2 445.3,312.6" fill="#f0f0f0"/><polygon points="323.7,390.4 323.3,393.3 319.5,392.1 317.1,390.6 319.2,388.9 322.0,387.8" fill="#a8a8a8"/><polygon points="321.1,336.6 320.1,337.3 317.6,337.3 317.0,336.6 318.3,335.3 319.8,335.4" fill="#d8d8d8"/><polygon points="334.1,393.8 332.6,395.4 329.7,395.3 330.0,394.1 330.4,393.0 332.6,392.6" fill="#f0f0f0"/><polygon points="112.6,319.6 111.9,321.3 106.7,321.8 105.0,319.8 107.7,316.2 110.9,317.9" fill="#a8a8a8"/><polygon points="369.3,395.9 368.5,397.7 365.8,396.9 364.3,395.5 364.9,394.2 367.9,393.6" fill="#bdbdbd"/><polygon points="399.9,365.5 399.3,366.6 397.0,366.9 396.7,365.7 397.1,364.3 398.8,364.4" fill="#f0f0f0"/><polygon points="115.0,340.1 113.7,342.0 111.0,342.4 110.0,340.7 112.1,339.4 114.3,338.9" fill="#f0f0f0"/><polygon points="205.9,377.3 203.7,378.1 201.4,378.8 199.1,376.4 201.0,375.3 203.4,375.5" fill="#bdbdbd"/><polygon points="43.8,351.0 44.1,353.2 40.4,352.5 37.8,351.3 39.4,349.3 42.3,348.7" fill="#d8d8d8"/><polygon points="192.6,304.0 191.0,305.7 189.2,305.9 187.6,303.6 189.1,301.6 191.9,301.8" fill="#d8d8d8"/><polygon points="218.9,371.6 217.5,373.1 215.2,373.3 214.2,372.0 215.1,370.5 218.3,370.1" fill="#f0f0f0"/><polygon points="295.3,279.3 292.5,281.5 288.3,282.3 286.4,279.2 289.4,277.7 292.4,278.3" fill="#f0f0f0"/><polygon points="202.2,376.2 201.7,377.4 199.7,377.1 198.7,376.2 199.5,375.2 201.9,374.9" fill="#a8a8a8"/><polygon points="174.5,323.5 172.3,324.9 170.9,325.5 169.8,324.0 171.1,322.5 173.4,322.0" fill="#d8d8d8"/><polygon points="152.8,383.4 151.4,385.7 147.7,385.6 147.2,383.7 148.7,382.5 151.9,381.7" fill="#d8d8d8"/><polygon points="266.1,358.0 264.8,358.7 262.2,359.5 260.8,358.1 262.6,356.3 264.9,356.5" fill="#a8a8a8"/><polygon points="353.9,353.7 352.0,356.5 347.9,356.4 344.6,353.7 347.4,350.9 350.9,352.2" fill="#f0f0f0"/><polygon points="107.3,390.1 105.4,390.8 103.1,391.2 103.2,389.7 104.3,388.9 105.6,388.2" fill="#a8a8a8"/><polygon points="145.8,369.6 144.5,370.9 142.7,370.8 142.2,369.7 142.8,369.1 144.7,369.3" fill="#d8d8d8"/><polygon points="92.8,273.4 91.6,274.9 87.3,275.5 86.7,273.1 88.5,271.9 91.1,272.4" fill="#f0f0f0"/><polygon points="249.3,349.1 247.2,350.8 245.9,350.7 243.2,349.9 245.7,347.6 247.5,347.8" fill="#bdbdbd"/><polygon points="2.8,367.6 1.3,370.3 -0.9,369.2 -3.4,367.9 -1.3,365.2 1.3,365.9" fill="#f0f0f0"/><polygon points="244.1,365.6 242.3,367.6 239.7,368.1 238.4,366.1 238.7,364.1 242.6,364.4" fill="#bdbdbd"/><polygon points="172.8,317.7 170.1,319.3 166.5,320.0 163.6,317.4 167.0,314.4 170.0,314.3" fill="#f0f0f0"/><polygon points="64.4,384.1 62.3,386.0 60.3,386.1 58.1,384.8 59.8,382.0 62.9,382.9" fill="#d8d8d8"/><polygon points="435.2,380.0 434.4,381.7 431.5,381.7 431.3,380.2 431.8,378.2 433.5,378.9" fill="#d8d8d8"/><polygon points="273.3,346.1 273.0,347.3 270.5,347.7 269.2,346.7 270.8,344.4 272.5,345.4" fill="#bdbdbd"/><polygon points="166.7,384.0 165.8,385.3 164.0,385.1 163.0,384.1 164.7,383.2 165.8,383.2" fill="#f0f0f0"/><polygon points="183.5,357.7 182.6,359.4 180.1,359.1 178.9,357.6 181.0,356.6 182.9,355.5" fill="#a8a8a8"/><polygon points="251.7,276.3 250.6,277.6 248.7,278.2 247.5,276.2 248.1,275.2 250.3,275.0" fill="#a8a8a8"/><polygon points="62.2,372.7 61.1,374.4 57.9,374.0 54.7,373.3 56.9,370.5 61.7,370.0" fill="#bdbdbd"/><polygon points="460.9,299.0 460.1,300.1 458.7,300.4 457.1,299.4 458.5,298.3 460.0,297.8" fill="#a8a8a8"/><polygon points="443.7,384.3 443.3,386.0 440.7,385.3 440.4,384.5 441.0,383.3 442.5,383.2" fill="#d8d8d8"/><polygon points="144.5,356.0 143.4,357.2 140.5,357.6 137.3,355.6 139.0,353.7 143.1,353.2" fill="#a8a8a8"/><polygon points="87.5,386.7 84.8,388.4 82.1,388.8 80.1,386.6 81.6,384.4 84.4,385.0" fill="#d8d8d8"/><polygon points="93.5,369.4 93.5,370.5 91.0,370.2 90.7,369.4 91.4,368.3 92.9,367.5" fill="#f0f0f0"/><polygon points="144.3,382.3 143.1,383.3 139.5,384.7 137.6,382.5 138.9,378.8 144.7,379.1" fill="#a8a8a8"/><polygon points="329.4,358.9 328.2,360.4 326.1,360.0 325.0,359.1 325.9,357.8 327.8,358.4" fill="#f0f0f0"/><polygon points="311.0,350.7 307.2,352.2 304.6,352.5 303.0,350.4 305.1,348.1 307.4,348.7" fill="#a8a8a8"/><polygon points="44.5,312.4 43.6,313.6 41.5,313.9 41.2,312.4 42.0,311.4 43.8,310.8" fill="#a8a8a8"/><polygon points="438.0,366.6 435.8,368.6 433.6,369.0 432.1,367.0 432.3,364.3 436.6,363.8" fill="#bdbdbd"/><polygon points="32.1,278.4 29.9,280.8 26.9,280.6 24.9,278.0 25.7,276.0 29.2,275.9" fill="#f0f0f0"/><polygon points="290.5,381.7 290.8,383.4 288.5,383.0 287.4,381.9 287.6,380.8 290.4,380.8" fill="#f0f0f0"/><polygon points="413.6,342.9 412.2,344.5 410.8,344.2 408.7,343.6 409.9,342.1 412.3,341.9" fill="#f0f0f0"/><polygon points="196.5,396.0 195.2,397.2 193.4,397.0 191.8,395.7 192.8,394.6 194.6,395.0" fill="#bdbdbd"/><polygon points="318.1,383.7 316.6,384.7 315.2,384.7 314.4,383.0 315.0,382.3 316.9,382.1" fill="#a8a8a8"/><polygon points="90.8,376.9 89.9,378.1 88.8,378.0 87.5,376.8 88.0,375.5 89.8,375.8" fill="#bdbdbd"/><polygon points="92.4,321.5 92.0,323.8 89.5,322.9 87.4,322.4 89.8,320.4 91.7,319.6" fill="#f0f0f0"/><polygon points="132.4,387.3 131.1,389.6 126.2,389.5 125.0,386.6 127.0,385.6 131.2,385.3" fill="#f0f0f0"/><polygon points="167.7,394.4 166.6,396.2 162.0,396.9 160.6,394.0 162.5,392.1 165.5,392.7" fill="#a8a8a8"/><polygon points="113.5,338.0 113.1,339.5 111.2,339.1 110.4,337.8 110.3,336.5 112.6,336.0" fill="#f0f0f0"/><polygon points="177.0,315.1 175.4,317.6 173.2,316.6 171.9,315.3 172.5,313.1 175.5,312.9" fill="#f0f0f0"/><polygon points="2.6,348.4 2.4,349.5 0.2,349.2 -1.8,347.8 -0.2,347.2 1.3,347.2" fill="#bdbdbd"/><polygon points="24.1,320.8 23.0,323.6 18.8,323.7 16.4,320.8 18.7,317.9 22.1,317.5" fill="#bdbdbd"/><polygon points="266.2,372.7 264.6,374.3 261.6,374.4 261.1,372.5 262.5,371.4 264.7,371.4" fill="#a8a8a8"/><polygon points="198.7,331.9 198.4,332.9 195.8,333.0 194.8,331.9 196.1,330.8 198.2,330.2" fill="#bdbdbd"/><polygon points="253.4,381.7 249.6,384.3 247.0,385.0 245.6,381.6 247.0,380.2 251.7,378.6" fill="#bdbdbd"/><polygon points="61.7,310.8 60.7,312.3 59.3,312.0 58.6,310.8 58.5,309.5 60.9,309.7" fill="#f0f0f0"/><polygon points="60.3,345.4 57.6,346.4 53.3,347.4 52.3,345.0 55.1,343.1 58.4,342.6" fill="#f0f0f0"/><polygon points="120.7,396.3 118.1,399.2 114.9,397.6 112.9,396.0 114.7,393.2 117.9,392.6" fill="#bdbdbd"/><polygon points="186.7,382.0 183.9,383.0 180.8,383.3 179.2,381.7 180.0,378.6 184.2,379.5" fill="#f0f0f0"/><polygon points="360.2,393.2 359.7,394.8 358.0,394.3 356.6,393.2 358.2,392.0 359.6,392.2" fill="#bdbdbd"/><polygon points="427.9,354.8 425.3,357.2 420.9,357.6 418.4,355.4 420.9,352.2 424.7,352.8" fill="#a8a8a8"/><polygon points="158.1,359.8 156.0,362.3 149.9,362.9 148.4,359.5 152.2,357.2 154.7,358.0" fill="#a8a8a8"/><polygon points="191.4,383.6 189.3,384.3 186.6,384.5 185.0,383.0 186.8,381.2 189.2,380.9" fill="#a8a8a8"/><polygon points="7.0,288.9 6.0,290.2 3.0,290.1 2.6,288.5 3.8,287.3 5.7,287.4" fill="#d8d8d8"/><polygon points="246.7,356.5 244.8,358.1 243.1,357.9 242.1,356.6 242.5,355.6 244.9,356.0" fill="#f0f0f0"/><polygon points="406.6,292.4 405.2,293.7 403.8,293.4 402.7,292.6 403.4,291.4 405.1,291.8" fill="#d8d8d8"/><polygon points="12.7,389.1 11.6,390.8 10.2,390.5 9.1,389.2 9.8,387.7 12.1,387.7" fill="#a8a8a8"/><polygon points="462.5,376.1 458.8,378.0 454.4,377.6 453.5,376.2 455.3,373.6 458.7,371.9" fill="#d8d8d8"/><polygon points="297.6,387.9 295.7,389.7 293.0,389.1 292.1,386.9 292.3,385.6 295.9,385.7" fill="#bdbdbd"/><polygon points="305.0,272.3 304.6,273.8 302.1,273.5 300.7,272.8 302.7,271.5 304.0,271.3" fill="#a8a8a8"/><polygon points="351.3,374.3 348.7,376.7 344.7,376.7 343.2,374.3 345.9,371.8 348.6,371.9" fill="#bdbdbd"/><polygon points="251.6,395.9 248.5,396.5 246.5,397.3 245.6,395.0 246.4,393.8 249.9,393.2" fill="#f0f0f0"/><polygon points="319.7,393.7 317.0,396.2 313.8,395.4 313.4,393.2 314.5,392.0 319.0,390.9" fill="#a8a8a8"/><polygon points="222.9,317.9 221.4,320.0 217.6,320.4 217.3,317.8 217.8,316.5 222.1,315.9" fill="#bdbdbd"/><polygon points="113.1,365.4 112.4,367.9 109.1,368.1 108.2,365.4 108.7,362.9 111.9,363.0" fill="#f0f0f0"/><polygon points="358.5,311.8 356.3,313.9 353.9,314.0 350.9,311.8 353.9,310.2 356.2,310.1" fill="#d8d8d8"/><polygon points="267.1,370.1 266.0,371.0 264.6,370.9 263.8,369.9 264.0,368.6 265.7,368.4" fill="#a8a8a8"/><polygon points="411.5,344.5 410.5,346.1 406.4,346.3 405.0,344.5 405.6,342.3 410.3,342.7" fill="#f0f0f0"/><polygon points="7.6,368.5 6.1,369.2 4.4,369.4 4.2,368.1 4.6,366.5 6.5,367.3" fill="#bdbdbd"/><polygon points="158.9,370.0 156.4,371.9 153.0,372.5 151.6,370.7 154.4,369.2 157.3,368.2" fill="#bdbdbd"/><polygon points="57.4,353.9 56.4,354.9 54.9,354.7 53.3,353.9 54.6,352.1 57.2,352.3" fill="#bdbdbd"/><polygon points="268.6,275.5 267.6,277.0 265.6,276.4 264.6,275.2 266.1,274.4 267.3,273.6" fill="#bdbdbd"/><polygon points="302.8,353.6 303.2,356.4 298.8,357.0 296.0,353.7 298.6,352.0 302.1,351.1" fill="#d8d8d8"/><polygon points="390.6,271.0 389.0,272.4 385.5,272.9 385.1,270.7 386.1,269.0 388.4,268.5" fill="#f0f0f0"/><polygon points="405.8,375.1 404.8,376.8 401.1,376.2 399.5,374.7 399.9,372.5 404.0,370.8" fill="#f0f0f0"/><polygon points="169.2,380.4 168.2,381.5 166.4,382.0 165.6,380.7 166.5,379.7 168.4,379.2" fill="#bdbdbd"/><polygon points="322.5,387.3 319.6,388.5 317.0,389.3 315.8,387.2 316.5,384.7 319.6,384.7" fill="#a8a8a8"/><polygon points="130.0,298.8 127.7,300.4 123.0,300.7 123.4,298.7 124.6,296.5 128.3,296.3" fill="#a8a8a8"/><polygon points="152.2,379.3 151.9,380.5 149.6,380.2 148.9,379.2 149.7,378.6 151.9,378.0" fill="#bdbdbd"/><polygon points="44.7,396.9 44.2,398.0 41.8,398.5 39.3,396.6 41.8,394.5 43.4,395.2" fill="#a8a8a8"/><polygon points="200.2,347.7 199.5,349.9 196.8,349.5 195.0,347.3 196.7,346.3 199.6,344.8" fill="#a8a8a8"/><polygon points="27.3,383.3 26.6,384.8 24.3,384.7 23.7,383.0 24.1,381.8 26.3,382.2" fill="#bdbdbd"/><polygon points="32.2,395.7 31.3,396.9 29.6,396.8 28.8,395.7 29.3,394.6 31.4,394.7" fill="#bdbdbd"/><polygon points="30.9,331.1 30.6,332.0 28.6,332.1 28.2,331.1 28.9,329.8 30.3,329.7" fill="#bdbdbd"/><polygon points="378.6,362.5 377.2,364.6 375.5,364.0 374.3,362.9 375.0,361.2 378.1,361.3" fill="#f0f0f0"/><polygon points="275.8,270.4 274.4,273.6 270.8,273.9 269.5,270.7 270.7,269.2 274.3,268.2" fill="#a8a8a8"/><polygon points="256.4,373.1 255.0,374.5 252.2,375.4 250.0,372.3 252.5,371.2 255.3,371.1" fill="#f0f0f0"/><polygon points="238.3,333.8 236.9,335.0 232.8,335.1 232.0,333.5 233.1,330.9 235.9,331.6" fill="#a8a8a8"/><polygon points="133.2,397.0 131.9,399.4 129.3,398.9 127.6,397.7 129.1,396.2 131.9,396.0" fill="#d8d8d8"/><polygon points="340.2,387.5 337.0,390.1 333.5,388.8 331.7,387.1 332.6,385.0 336.7,384.9" fill="#a8a8a8"/><polygon points="365.2,370.4 363.5,371.2 361.9,371.0 360.7,369.9 361.9,368.9 363.5,369.2" fill="#a8a8a8"/><polygon points="77.0,352.8 76.0,354.8 69.7,354.9 69.3,352.2 72.0,350.5 75.6,350.1" fill="#d8d8d8"/><polygon points="40.2,340.5 39.5,341.8 37.6,341.3 35.5,340.0 36.9,339.2 38.8,339.6" fill="#d8d8d8"/><polygon points="150.0,313.9 147.2,316.0 144.3,315.4 142.9,313.6 143.5,312.2 146.7,311.3" fill="#d8d8d8"/><polygon points="398.8,362.9 396.0,364.8 394.1,364.8 391.7,362.1 394.0,360.5 397.0,361.1" fill="#bdbdbd"/><polygon points="453.3,273.7 451.3,277.0 447.6,275.7 443.8,273.5 446.8,270.8 452.2,270.8" fill="#a8a8a8"/><polygon points="307.2,343.1 305.3,345.1 302.5,346.1 300.2,344.1 301.5,340.9 305.0,341.9" fill="#d8d8d8"/><polygon points="87.9,287.1 87.0,289.4 83.8,288.5 83.4,287.2 84.4,285.2 86.2,285.3" fill="#d8d8d8"/><polygon points="443.5,363.5 441.5,366.3 438.1,365.8 435.3,363.9 437.7,362.0 441.6,361.1" fill="#f0f0f0"/><polygon points="203.6,311.3 201.3,313.3 198.4,313.9 198.1,312.1 199.5,309.4 202.5,310.1" fill="#d8d8d8"/><polygon points="275.0,350.0 274.5,352.3 270.9,352.8 270.0,349.7 271.1,348.6 274.0,348.4" fill="#f0f0f0"/><polygon points="193.6,306.8 193.4,308.2 190.6,307.6 189.0,307.1 190.8,305.5 192.8,305.3" fill="#a8a8a8"/><polygon points="78.7,358.5 76.0,360.8 72.4,360.7 70.2,358.5 73.9,356.6 76.9,356.7" fill="#f0f0f0"/><polygon points="261.5,360.1 261.2,363.4 254.9,363.2 255.3,359.9 256.3,356.6 259.8,357.6" fill="#f0f0f0"/><polygon points="65.6,390.8 64.3,392.3 61.0,392.8 59.0,390.1 62.1,389.1 64.7,388.0" fill="#bdbdbd"/><polygon points="366.1,359.6 365.7,361.6 362.8,361.8 362.0,359.9 363.3,358.4 365.7,357.5" fill="#f0f0f0"/><polygon points="336.0,358.3 334.8,359.4 333.1,359.2 332.7,358.1 332.8,357.1 334.9,357.5" fill="#a8a8a8"/><polygon points="26.2,268.0 25.1,270.0 23.4,270.1 22.3,268.3 23.1,267.0 25.7,267.2" fill="#f0f0f0"/><polygon points="74.1,348.2 71.1,349.9 68.2,350.3 66.4,347.5 67.8,345.9 71.6,346.1" fill="#d8d8d8"/><polygon points="279.9,288.4 279.0,289.5 275.3,290.2 275.0,288.2 276.3,286.0 278.1,286.7" fill="#bdbdbd"/><polygon points="100.6,396.2 98.5,398.6 94.8,399.3 94.1,396.4 95.7,393.6 100.5,393.8" fill="#bdbdbd"/><polygon points="249.2,347.3 248.5,348.1 247.0,348.2 245.9,347.1 247.0,345.8 249.2,346.1" fill="#bdbdbd"/><polygon points="128.3,355.6 126.9,356.7 124.8,356.8 123.1,355.5 124.9,354.0 127.7,354.3" fill="#d8d8d8"/><polygon points="285.2,301.8 284.0,303.3 281.6,302.7 280.4,302.0 281.1,299.7 284.0,300.4" fill="#d8d8d8"/><polygon points="139.6,395.1 137.8,396.8 135.4,396.4 134.3,394.6 136.3,393.9 137.6,393.6" fill="#bdbdbd"/><polygon points="63.5,294.3 62.3,295.4 60.8,295.5 59.6,294.4 60.3,293.4 62.4,293.8" fill="#a8a8a8"/><polygon points="457.8,348.4 455.1,350.8 450.2,351.1 448.4,348.5 450.6,346.5 455.2,346.7" fill="#d8d8d8"/><polygon points="163.7,307.8 162.1,308.3 160.5,308.8 160.1,307.7 160.1,306.4 161.8,306.7" fill="#a8a8a8"/><polygon points="20.8,375.2 18.9,376.6 16.8,376.5 15.2,374.5 17.1,373.4 19.2,373.0" fill="#f0f0f0"/><polygon points="214.8,323.8 214.2,326.2 209.3,326.5 208.8,323.7 208.5,321.2 213.0,321.3" fill="#a8a8a8"/><polygon points="28.4,394.5 27.6,395.4 25.0,395.4 23.6,394.4 25.0,393.0 27.9,392.9" fill="#a8a8a8"/><polygon points="300.1,272.4 299.1,273.7 296.6,274.2 295.5,272.4 296.5,270.9 298.4,271.0" fill="#bdbdbd"/><polygon points="121.5,353.1 119.6,354.5 115.8,356.0 113.2,352.9 116.0,350.9 119.9,349.7" fill="#a8a8a8"/><polygon points="264.1,292.0 262.5,294.9 259.4,293.6 257.5,292.0 259.3,290.6 261.2,290.7" fill="#a8a8a8"/><polygon points="149.6,357.4 146.3,360.1 143.8,359.8 141.6,357.3 144.2,355.7 147.0,356.1" fill="#f0f0f0"/><polygon points="425.5,395.7 423.9,398.1 421.9,397.8 419.9,396.2 421.1,393.0 424.0,394.6" fill="#f0f0f0"/><polygon points="46.5,389.2 45.1,389.8 43.6,390.1 42.8,388.8 43.6,387.7 46.0,387.5" fill="#a8a8a8"/><polygon points="133.4,292.9 131.4,295.1 127.9,295.4 127.6,292.4 128.8,289.8 131.9,291.3" fill="#bdbdbd"/><polygon points="28.4,103.8 26.4,106.4 24.2,107.9 19.4,108.4 18.4,106.6 21.1,103.9 25.7,102.7" fill="#e4e4e4"/><polygon points="27.6,106.7 24.4,110.8 20.0,112.9 12.1,113.2 13.8,109.1 18.1,104.3 25.0,103.3" fill="#f2f2f2"/><polygon points="48.1,109.6 46.2,112.7 39.3,115.2 35.5,114.3 34.9,111.9 37.4,108.5 44.6,108.4" fill="#e4e4e4"/><polygon points="25.3,112.8 24.8,116.6 18.7,114.6 16.6,112.3 17.7,109.6 21.7,107.1 27.0,111.0" fill="#e4e4e4"/><polygon points="73.9,106.0 72.1,107.9 66.9,107.0 64.9,105.2 65.6,101.0 69.6,98.9 73.7,99.9" fill="#cfcfcf"/><polygon points="77.1,112.3 76.4,116.3 71.3,117.8 68.1,117.0 65.8,115.9 68.7,112.1 74.1,112.3" fill="#e4e4e4"/><polygon points="28.6,111.4 24.9,113.1 22.2,114.5 18.7,114.1 18.5,111.5 18.6,109.5 26.1,108.4" fill="#cfcfcf"/><polygon points="39.8,120.6 38.4,126.1 32.4,124.9 27.9,123.2 28.3,118.7 33.3,116.6 38.5,118.6" fill="#e4e4e4"/><polygon points="69.9,122.2 70.4,126.4 68.6,126.1 64.8,125.4 62.7,120.6 65.2,119.7 68.1,119.7" fill="#e4e4e4"/><polygon points="69.9,106.5 67.7,109.0 60.8,110.1 57.8,107.3 59.4,104.8 63.2,101.3 70.1,102.8" fill="#e4e4e4"/><polygon points="23.2,109.5 21.6,113.3 18.4,115.3 11.8,113.7 12.8,109.4 14.0,107.0 22.4,107.5" fill="#e4e4e4"/><polygon points="78.2,113.0 76.9,114.5 70.8,114.2 66.4,112.1 67.7,109.4 72.3,109.2 75.8,108.7" fill="#e4e4e4"/><polygon points="23.2,105.5 21.2,107.8 15.2,108.0 10.3,108.4 9.5,103.2 16.6,101.5 22.6,103.2" fill="#e4e4e4"/><polygon points="41.6,117.2 39.1,119.3 35.1,117.4 33.2,114.7 33.6,112.3 37.8,113.6 42.0,114.8" fill="#f2f2f2"/><polygon points="33.1,111.2 33.2,114.9 30.0,114.5 26.0,111.7 28.0,108.5 30.2,104.7 32.1,106.7" fill="#e4e4e4"/><polygon points="71.6,109.3 68.6,111.6 61.4,110.7 58.6,107.5 60.1,103.8 66.0,104.3 70.1,105.8" fill="#cfcfcf"/><polygon points="29.0,120.8 28.7,123.9 23.0,125.1 20.1,123.9 20.2,119.0 23.7,117.4 28.5,117.8" fill="#f2f2f2"/><polygon points="17.4,121.2 16.9,123.6 14.1,124.4 12.0,123.4 10.8,122.1 12.3,120.4 15.6,119.8" fill="#e4e4e4"/><polygon points="71.6,119.8 67.9,122.2 62.4,120.6 58.1,118.1 61.3,114.8 63.6,112.1 69.2,115.2" fill="#e4e4e4"/><polygon points="57.0,122.1 54.6,124.5 51.2,122.9 49.0,120.2 49.5,118.7 53.3,117.4 56.1,119.9" fill="#cfcfcf"/><polygon points="61.5,123.2 59.5,124.9 52.1,123.2 47.6,120.5 51.7,118.2 55.4,117.1 61.2,119.3" fill="#f2f2f2"/><polygon points="35.6,124.2 31.5,125.2 26.2,123.6 23.4,120.1 22.7,118.3 28.4,117.8 32.7,120.4" fill="#e4e4e4"/><polygon points="30.2,103.6 25.8,106.3 20.8,110.1 18.2,107.3 17.6,104.2 19.8,101.6 25.3,98.7" fill="#f2f2f2"/><polygon points="61.6,117.3 60.2,121.8 57.0,123.2 52.2,122.4 52.8,119.8 52.7,117.2 58.5,116.8" fill="#cfcfcf"/><polygon points="62.0,111.9 60.6,115.0 54.0,115.8 50.4,112.0 50.0,108.0 57.2,106.6 62.9,108.5" fill="#f2f2f2"/><polygon points="30.2,105.8 31.0,108.4 27.2,112.4 20.5,112.6 20.8,107.8 23.0,103.5 29.8,102.3" fill="#f2f2f2"/><polygon points="61.9,115.8 60.6,121.0 56.8,123.8 52.5,122.0 48.6,117.9 53.2,114.0 58.1,112.8" fill="#f2f2f2"/><polygon points="109.7,115.7 105.8,116.6 100.5,115.9 95.0,114.2 96.3,111.9 100.7,111.4 109.5,113.6" fill="#e4e4e4"/><polygon points="108.1,108.3 104.3,110.8 101.4,113.3 94.8,113.0 97.3,110.4 98.5,108.2 103.2,108.1" fill="#e4e4e4"/><polygon points="94.1,111.6 90.4,113.6 87.6,115.0 85.4,113.0 83.0,110.5 85.5,107.7 90.3,108.6" fill="#e4e4e4"/><polygon points="78.0,113.8 76.7,116.5 71.5,116.3 66.9,114.5 68.6,111.7 72.3,111.3 77.2,111.6" fill="#e4e4e4"/><polygon points="80.4,106.0 77.9,112.0 73.2,112.4 69.5,108.7 67.4,104.2 70.1,102.1 77.8,103.8" fill="#cfcfcf"/><polygon points="98.2,108.0 98.5,111.9 94.9,111.7 93.7,110.3 91.5,107.7 94.7,106.2 96.3,106.3" fill="#f2f2f2"/><polygon points="95.8,117.7 91.4,123.0 89.5,120.3 86.0,118.6 87.6,115.1 90.8,112.2 94.0,114.6" fill="#e4e4e4"/><polygon points="98.5,116.0 96.9,117.8 94.4,117.6 92.1,114.6 94.0,112.5 95.2,111.4 99.0,112.3" fill="#e4e4e4"/><polygon points="100.5,117.4 100.6,120.0 97.2,121.2 94.9,119.4 93.9,116.3 96.2,113.9 99.0,115.2" fill="#cfcfcf"/><polygon points="88.9,109.7 86.7,111.6 84.9,112.0 80.3,110.1 80.9,108.4 85.2,106.7 87.2,107.7" fill="#e4e4e4"/><polygon points="118.5,116.3 117.5,119.0 111.6,119.5 108.6,118.1 106.7,116.6 110.9,114.8 115.6,115.0" fill="#e4e4e4"/><polygon points="87.3,107.3 86.0,112.3 81.0,114.8 77.6,113.4 76.5,111.2 79.0,107.9 82.5,106.5" fill="#e4e4e4"/><polygon points="138.8,123.0 134.8,128.6 129.0,128.3 125.2,126.9 124.3,123.6 130.7,119.9 134.8,119.0" fill="#f2f2f2"/><polygon points="126.9,115.3 126.4,118.5 122.9,118.2 120.4,115.6 120.8,111.5 123.4,111.2 127.3,112.1" fill="#e4e4e4"/><polygon points="129.2,113.3 125.8,115.8 123.4,115.1 120.3,112.1 121.9,108.4 125.0,108.5 127.2,109.9" fill="#cfcfcf"/><polygon points="137.6,105.1 138.2,109.2 136.5,111.4 133.5,110.7 133.2,105.6 132.7,102.3 135.8,102.4" fill="#f2f2f2"/><polygon points="137.7,117.7 135.0,120.1 132.4,120.8 129.3,120.0 129.6,116.3 132.4,115.3 134.3,116.5" fill="#e4e4e4"/><polygon points="146.5,128.0 145.6,131.2 143.2,133.8 140.1,131.5 139.6,127.3 142.1,125.3 145.6,124.9" fill="#e4e4e4"/><polygon points="126.5,106.7 124.7,109.1 121.6,108.0 118.7,106.4 120.5,103.3 123.7,101.8 125.7,103.0" fill="#cfcfcf"/><polygon points="147.6,131.9 145.1,134.5 142.0,134.0 137.3,132.5 136.2,129.5 140.4,127.1 146.4,129.7" fill="#e4e4e4"/><polygon points="144.2,117.4 143.1,122.7 139.5,125.3 135.3,122.6 135.8,118.7 138.3,115.7 141.9,114.1" fill="#e4e4e4"/><polygon points="131.6,119.9 127.5,121.3 119.3,120.3 119.1,117.3 118.9,115.4 122.1,114.0 128.9,116.5" fill="#e4e4e4"/><polygon points="149.2,117.4 148.1,121.9 144.3,123.8 139.5,123.4 137.8,120.5 141.1,116.4 144.9,115.4" fill="#cfcfcf"/><polygon points="141.0,111.7 138.5,114.3 133.8,113.5 131.4,111.8 134.0,108.6 135.4,106.8 139.6,108.0" fill="#e4e4e4"/><polygon points="130.0,113.6 130.5,115.3 124.5,117.5 122.0,117.3 122.5,114.8 123.3,112.9 128.2,112.9" fill="#e4e4e4"/><polygon points="138.5,123.1 134.8,126.7 130.9,128.8 127.4,123.6 126.4,119.0 131.9,119.2 136.7,118.9" fill="#f2f2f2"/><polygon points="142.3,101.7 142.2,105.1 139.6,107.4 135.6,105.9 133.8,103.8 135.3,100.2 140.5,99.0" fill="#cfcfcf"/><polygon points="130.3,114.7 126.3,115.9 119.5,117.3 118.1,114.0 116.9,111.0 122.4,109.6 127.7,109.5" fill="#cfcfcf"/><polygon points="55.8,103.7 52.8,105.6 46.8,104.5 43.3,103.1 42.3,99.2 50.2,99.9 54.7,101.1" fill="#cfcfcf"/><polygon points="50.4,105.3 48.1,108.2 43.5,106.5 40.8,103.9 40.1,100.5 43.8,98.9 49.2,99.3" fill="#f2f2f2"/><polygon points="39.2,102.9 38.5,105.5 31.9,104.6 29.8,102.3 30.3,100.4 34.3,99.3 39.4,101.2" fill="#f2f2f2"/><polygon points="51.8,107.4 46.7,110.3 42.3,108.3 37.5,106.0 37.3,101.2 42.5,100.0 50.0,104.1" fill="#e4e4e4"/><polygon points="61.0,103.5 59.4,106.6 53.7,108.3 49.4,107.8 46.2,107.3 52.9,103.2 57.6,103.1" fill="#f2f2f2"/><polygon points="143.5,33.1 140.6,36.9 132.2,37.8 129.6,34.9 125.2,33.4 133.3,30.4 139.6,32.0" fill="#f2f2f2"/><polygon points="130.9,42.3 129.1,45.8 125.7,45.4 124.4,43.1 125.3,39.8 127.7,39.2 130.4,40.7" fill="#cfcfcf"/><polygon points="134.3,38.5 132.9,41.0 125.1,39.2 120.0,36.9 121.1,33.4 127.7,33.7 135.3,36.7" fill="#cfcfcf"/><polygon points="121.8,35.4 122.1,38.7 115.1,37.4 107.6,34.1 108.9,30.5 116.5,31.1 124.1,33.4" fill="#e4e4e4"/><polygon points="129.9,45.9 126.9,48.5 119.9,48.7 115.4,47.6 112.5,45.1 117.7,43.6 126.6,42.9" fill="#cfcfcf"/><polygon points="123.1,45.0 120.7,47.8 118.2,49.0 115.5,45.9 115.2,43.4 118.0,39.3 122.3,39.4" fill="#e4e4e4"/><polygon points="116.7,33.8 112.2,37.5 108.1,39.0 102.4,38.7 102.1,36.5 106.5,33.3 110.7,33.5" fill="#f2f2f2"/><polygon points="135.8,33.9 134.8,37.4 132.3,41.0 128.8,39.0 127.7,34.5 130.2,30.2 132.8,31.4" fill="#e4e4e4"/><polygon points="126.0,45.9 123.9,48.3 116.7,46.1 113.5,42.5 116.8,41.1 121.1,40.6 123.8,42.9" fill="#f2f2f2"/><polygon points="127.6,37.1 126.8,39.8 122.1,38.7 119.7,37.3 121.0,34.4 124.1,33.5 128.4,33.8" fill="#e4e4e4"/><polygon points="120.3,42.1 120.1,46.3 117.4,47.0 114.2,45.5 113.9,41.0 113.5,37.9 118.4,38.3" fill="#cfcfcf"/><polygon points="138.9,57.5 137.9,59.6 132.8,58.9 129.9,56.3 132.1,52.4 136.2,50.1 137.6,53.4" fill="#f2f2f2"/><polygon points="139.1,68.9 137.9,74.2 134.1,75.4 130.9,74.7 128.0,70.2 132.0,68.8 136.1,66.0" fill="#f2f2f2"/><polygon points="155.5,55.8 154.8,58.9 152.4,59.8 147.7,58.7 147.8,56.7 150.5,53.2 154.2,53.3" fill="#cfcfcf"/><polygon points="150.9,70.6 149.8,74.3 142.1,73.0 136.8,71.1 138.0,67.8 143.0,67.0 148.7,69.0" fill="#e4e4e4"/><polygon points="150.3,79.8 144.3,79.0 138.5,77.0 135.1,74.0 135.9,70.7 141.4,71.6 148.4,73.9" fill="#e4e4e4"/><polygon points="140.7,77.8 140.9,79.8 138.2,80.2 134.3,79.6 133.7,77.8 137.2,76.0 138.8,76.7" fill="#e4e4e4"/><polygon points="127.3,64.1 125.1,65.7 118.4,64.5 115.3,62.9 116.7,61.1 118.7,60.0 126.1,61.8" fill="#e4e4e4"/><polygon points="138.7,73.8 134.8,77.3 131.0,79.0 124.6,79.8 125.0,77.1 127.6,74.1 136.1,72.4" fill="#e4e4e4"/><polygon points="145.9,77.8 142.9,78.8 138.3,79.9 137.0,77.3 138.0,74.8 139.5,73.4 144.5,74.3" fill="#e4e4e4"/><polygon points="123.7,77.8 124.2,80.4 120.5,81.6 117.7,79.1 116.1,76.4 119.9,74.9 122.6,75.3" fill="#e4e4e4"/><polygon points="128.9,70.0 126.3,72.9 121.1,75.1 117.3,74.1 115.4,72.9 118.3,70.1 125.9,68.7" fill="#e4e4e4"/><polygon points="133.2,62.4 131.1,63.7 123.1,63.1 120.7,60.1 120.5,57.5 127.4,58.0 131.3,60.9" fill="#f2f2f2"/><polygon points="137.1,62.2 132.1,64.3 127.6,64.3 123.7,61.4 125.5,58.2 130.8,57.8 133.7,59.8" fill="#f2f2f2"/><polygon points="153.6,63.5 153.2,66.3 147.1,68.6 142.0,66.9 143.5,63.5 148.2,61.5 154.8,60.8" fill="#e4e4e4"/><polygon points="149.5,56.4 147.1,61.6 142.6,61.8 137.5,62.1 137.5,58.0 141.5,53.7 147.5,52.9" fill="#f2f2f2"/><polygon points="158.2,54.3 158.0,59.2 148.8,62.8 144.4,62.5 142.5,59.5 149.5,55.3 153.4,54.3" fill="#f2f2f2"/><polygon points="127.2,59.2 125.3,62.0 120.3,62.9 118.7,61.1 119.7,58.0 122.7,54.1 124.6,57.0" fill="#e4e4e4"/><polygon points="179.8,68.8 179.3,71.4 175.3,73.6 170.7,71.9 171.1,69.6 174.0,67.6 176.5,67.4" fill="#e4e4e4"/><polygon points="181.3,68.5 180.6,72.1 177.7,74.7 176.6,72.5 175.1,67.3 177.4,66.3 179.4,66.5" fill="#f2f2f2"/><polygon points="158.7,65.8 159.6,70.6 155.9,71.7 151.7,70.8 150.6,67.0 153.4,64.6 155.5,64.1" fill="#cfcfcf"/><polygon points="169.6,62.6 169.2,65.2 161.7,65.6 159.1,63.6 159.6,61.6 161.3,58.8 166.8,59.4" fill="#cfcfcf"/><polygon points="189.1,68.7 188.0,72.3 182.1,74.8 176.4,73.4 177.3,69.2 177.9,65.8 186.1,65.2" fill="#e4e4e4"/><polygon points="165.3,61.0 161.8,65.5 159.5,68.9 153.7,66.9 153.1,64.2 156.0,60.0 160.6,60.1" fill="#cfcfcf"/><polygon points="180.9,65.9 178.3,69.5 174.3,67.8 173.7,66.0 172.6,63.3 176.9,61.5 179.0,63.4" fill="#f2f2f2"/><polygon points="162.8,64.9 160.2,66.0 153.4,65.1 145.5,63.2 146.9,60.7 151.7,60.8 159.7,62.7" fill="#e4e4e4"/><polygon points="188.8,37.4 188.4,41.9 186.6,41.8 182.8,38.8 182.2,36.8 185.0,34.1 187.0,34.4" fill="#cfcfcf"/><polygon points="190.1,36.4 191.4,39.4 186.0,41.6 183.8,41.6 181.4,39.3 184.8,35.7 188.4,33.9" fill="#cfcfcf"/><polygon points="186.4,36.5 184.2,38.4 182.3,39.9 180.2,36.4 179.4,33.3 182.1,33.0 185.6,32.7" fill="#e4e4e4"/><polygon points="192.9,37.1 190.1,40.4 186.8,40.3 182.6,37.0 182.1,34.8 187.9,34.0 194.1,35.2" fill="#cfcfcf"/><polygon points="187.8,33.1 184.7,35.3 179.6,38.7 174.1,37.8 171.7,35.6 178.3,31.7 184.2,30.3" fill="#e4e4e4"/><polygon points="137.8,7.2 137.7,10.7 134.8,11.4 131.9,10.7 132.6,7.9 132.7,6.3 135.5,6.7" fill="#cfcfcf"/><polygon points="159.1,8.5 155.4,10.9 150.9,9.8 145.4,8.4 145.3,5.9 150.2,5.9 155.0,6.0" fill="#e4e4e4"/><polygon points="165.4,10.0 162.6,12.1 159.8,13.9 156.7,11.4 155.4,9.1 159.8,8.7 163.0,9.0" fill="#e4e4e4"/><polygon points="149.4,1.6 146.2,4.4 143.6,4.0 140.8,2.3 139.9,-0.8 141.6,-1.7 146.1,-0.1" fill="#f2f2f2"/><polygon points="168.5,7.4 166.3,9.6 164.3,9.9 162.3,8.5 160.8,7.3 163.7,5.3 166.3,6.1" fill="#f2f2f2"/><polygon points="165.3,9.8 164.0,12.3 159.2,11.3 157.0,9.4 159.2,5.9 162.2,4.3 165.6,6.6" fill="#cfcfcf"/><polygon points="168.9,3.1 166.5,4.7 162.8,3.5 160.5,2.0 162.4,-2.3 164.0,-2.9 166.8,-1.8" fill="#e4e4e4"/><polygon points="165.3,8.3 164.8,10.0 156.2,8.1 152.9,5.7 152.4,2.5 158.7,2.5 163.2,4.9" fill="#e4e4e4"/><polygon points="125.1,8.8 124.5,11.5 119.9,13.8 117.0,11.7 115.7,9.3 119.0,7.0 122.8,7.1" fill="#f2f2f2"/><polygon points="164.8,10.8 162.0,13.5 156.6,14.7 151.6,12.7 151.4,8.2 157.8,7.2 163.1,7.6" fill="#e4e4e4"/><polygon points="141.1,3.2 138.7,6.2 136.0,5.9 132.7,4.4 131.9,1.7 135.5,0.2 138.7,0.8" fill="#cfcfcf"/><polygon points="239.9,33.9 233.7,34.5 230.6,35.6 225.2,32.5 225.7,30.1 228.9,28.3 238.5,29.8" fill="#f2f2f2"/><polygon points="235.0,11.0 233.6,13.1 230.3,14.2 228.6,12.7 227.9,11.2 229.7,8.7 233.7,8.3" fill="#e4e4e4"/><polygon points="236.8,27.6 235.0,31.7 227.5,32.8 221.8,31.5 223.6,28.2 229.9,23.4 234.6,25.8" fill="#cfcfcf"/><polygon points="233.9,16.9 232.0,18.7 227.2,18.7 225.5,15.3 225.0,12.7 229.2,12.6 232.5,12.9" fill="#cfcfcf"/><polygon points="227.4,21.1 223.2,22.9 217.0,24.5 212.8,22.2 212.0,20.2 216.7,18.8 224.3,19.9" fill="#e4e4e4"/><polygon points="236.6,30.7 233.9,32.5 225.9,31.8 223.2,29.9 223.3,27.2 227.7,26.5 235.7,28.0" fill="#e4e4e4"/><polygon points="225.9,12.0 225.7,14.3 221.5,16.3 218.5,16.1 217.3,13.2 220.8,11.6 224.0,11.4" fill="#e4e4e4"/><polygon points="253.4,26.3 250.1,28.0 247.5,28.0 245.0,26.3 245.5,22.9 247.7,21.5 252.1,24.5" fill="#f2f2f2"/><polygon points="245.4,33.6 243.7,36.1 241.5,35.8 238.8,34.0 240.1,29.9 242.8,29.6 244.8,29.7" fill="#f2f2f2"/><polygon points="261.0,45.2 257.1,48.3 251.8,45.6 248.0,44.3 249.4,39.2 253.6,39.1 257.9,42.4" fill="#e4e4e4"/><polygon points="263.1,30.7 258.6,31.7 256.3,32.5 251.2,30.9 251.8,28.6 255.0,27.7 260.1,28.0" fill="#e4e4e4"/><polygon points="274.3,31.5 268.7,33.4 265.4,33.2 259.1,28.4 259.6,24.6 266.7,23.6 271.4,27.3" fill="#cfcfcf"/><polygon points="240.4,38.9 241.1,42.7 237.1,44.7 233.2,44.3 231.9,41.7 234.6,38.7 236.9,38.3" fill="#e4e4e4"/><polygon points="256.3,29.0 253.1,33.4 249.2,33.2 245.4,30.9 245.6,28.6 249.6,25.7 252.7,26.2" fill="#e4e4e4"/><polygon points="240.9,27.6 241.7,29.8 232.9,30.7 227.1,28.9 230.4,26.4 233.9,23.7 237.6,24.6" fill="#e4e4e4"/><polygon points="246.8,47.1 244.5,49.0 239.7,49.5 238.4,46.3 238.9,43.2 240.6,41.5 247.0,44.1" fill="#f2f2f2"/><polygon points="270.1,45.5 267.1,47.9 263.9,46.7 260.5,43.4 260.4,40.9 265.2,41.1 269.9,42.5" fill="#f2f2f2"/><polygon points="270.0,32.8 268.9,37.8 267.4,39.1 263.9,37.8 261.9,33.7 263.6,31.7 267.7,32.1" fill="#f2f2f2"/><polygon points="247.9,38.5 242.3,39.7 237.0,40.4 233.5,37.5 234.0,35.7 238.9,35.4 245.1,36.8" fill="#cfcfcf"/><polygon points="244.2,42.3 244.7,45.9 241.1,47.1 237.8,45.7 236.7,42.9 238.7,38.4 243.0,40.3" fill="#f2f2f2"/><polygon points="270.0,39.4 268.2,42.7 263.8,44.0 258.3,43.6 258.0,40.4 262.7,37.3 265.8,38.9" fill="#e4e4e4"/><polygon points="268.4,36.8 266.4,37.2 262.9,36.5 260.9,34.1 261.7,31.9 263.8,32.2 267.6,33.3" fill="#f2f2f2"/><polygon points="267.8,32.4 265.4,33.6 256.8,34.0 251.6,32.3 252.1,29.6 257.3,29.4 263.3,30.3" fill="#e4e4e4"/><polygon points="245.4,28.1 244.2,29.8 243.2,33.6 240.6,30.5 237.6,27.7 239.4,23.5 241.6,22.7" fill="#cfcfcf"/><polygon points="250.1,24.6 248.9,26.2 246.9,27.5 243.0,26.4 242.7,23.2 245.5,22.7 248.0,21.9" fill="#e4e4e4"/><polygon points="264.9,49.5 261.1,51.0 252.9,49.7 249.3,46.3 249.9,44.6 255.2,44.9 262.6,46.3" fill="#e4e4e4"/><polygon points="267.2,49.2 265.3,51.7 258.5,51.4 254.2,47.8 255.7,45.6 261.5,41.3 266.8,44.2" fill="#e4e4e4"/><polygon points="263.6,46.0 261.3,48.7 256.3,46.3 252.6,44.4 253.7,41.6 257.4,41.0 262.9,42.6" fill="#e4e4e4"/><polygon points="254.9,48.8 252.8,50.0 250.2,50.9 248.4,48.2 248.5,46.0 251.3,42.7 255.7,44.8" fill="#e4e4e4"/><polygon points="243.5,48.8 238.7,48.5 235.7,49.4 234.0,45.8 234.2,41.4 237.1,42.5 242.2,43.7" fill="#e4e4e4"/><polygon points="303.0,21.5 302.4,23.8 299.5,23.9 297.2,22.7 297.4,21.5 299.3,20.2 301.9,20.3" fill="#f2f2f2"/><polygon points="314.6,23.0 312.1,26.7 308.5,28.4 303.0,26.0 302.9,23.1 306.7,18.5 312.7,18.5" fill="#e4e4e4"/><polygon points="302.4,23.0 299.5,25.8 296.5,27.3 292.9,25.5 292.3,24.2 293.6,22.1 299.6,21.3" fill="#e4e4e4"/><polygon points="312.2,21.2 310.4,23.1 304.9,23.3 299.0,20.1 300.7,18.4 303.9,17.4 309.0,18.6" fill="#cfcfcf"/><polygon points="310.7,23.6 307.9,24.5 302.2,25.1 298.6,23.8 298.4,21.4 301.7,19.9 307.0,21.6" fill="#e4e4e4"/><polygon points="339.7,47.4 337.0,50.3 334.0,50.3 332.5,46.6 333.0,42.6 337.6,40.7 340.4,43.0" fill="#cfcfcf"/><polygon points="323.5,50.8 323.3,53.5 320.2,54.8 318.2,53.7 316.6,50.7 318.0,48.1 324.3,48.5" fill="#e4e4e4"/><polygon points="322.4,50.5 322.5,52.7 316.4,52.6 310.5,49.4 311.5,46.3 316.9,46.3 322.6,47.0" fill="#e4e4e4"/><polygon points="313.2,52.1 310.3,56.6 307.5,55.5 304.7,53.7 306.2,49.5 308.4,47.1 312.6,49.8" fill="#cfcfcf"/><polygon points="333.5,49.3 328.4,52.5 325.0,51.0 319.7,48.1 321.7,45.7 326.4,44.6 330.7,46.7" fill="#cfcfcf"/><polygon points="375.9,6.6 376.5,10.1 375.3,13.5 372.4,11.0 371.2,7.0 371.7,2.7 373.6,4.1" fill="#e4e4e4"/><polygon points="375.0,7.8 374.2,9.8 368.6,9.7 365.1,8.0 367.1,4.6 369.1,3.1 374.0,3.1" fill="#f2f2f2"/><polygon points="355.6,12.7 353.1,15.2 348.1,14.2 345.7,11.6 344.6,8.5 349.2,9.4 353.6,9.8" fill="#e4e4e4"/><polygon points="362.5,5.6 361.1,7.8 355.4,8.4 353.7,6.0 356.5,2.0 359.3,-0.5 362.3,1.8" fill="#e4e4e4"/><polygon points="381.4,8.3 378.9,10.7 376.2,11.9 373.3,12.3 373.0,8.9 374.6,5.8 378.7,5.8" fill="#cfcfcf"/><polygon points="372.2,4.1 372.6,7.4 367.6,11.6 363.1,8.8 363.8,4.7 366.0,0.5 369.7,1.5" fill="#cfcfcf"/><polygon points="370.5,3.8 371.1,6.3 367.1,9.6 362.1,6.2 359.8,4.1 363.6,0.1 367.4,-0.1" fill="#e4e4e4"/><polygon points="357.5,11.7 356.7,14.1 353.7,15.5 350.5,13.6 350.3,11.1 352.7,9.1 355.0,9.7" fill="#cfcfcf"/><polygon points="391.2,8.3 386.9,11.1 383.2,11.6 378.4,9.2 380.1,6.4 381.2,4.3 386.3,6.2" fill="#cfcfcf"/><polygon points="381.6,6.8 374.9,7.5 369.5,6.9 367.4,5.3 365.8,2.3 371.6,2.3 377.4,2.2" fill="#f2f2f2"/><polygon points="383.8,10.7 384.1,13.4 380.5,13.4 378.3,13.2 379.3,9.8 380.8,8.4 382.8,8.6" fill="#e4e4e4"/><polygon points="397.4,56.6 395.9,59.4 392.7,60.8 390.0,60.5 389.7,57.2 391.4,54.9 396.3,54.8" fill="#f2f2f2"/><polygon points="390.8,60.2 388.7,62.1 386.6,62.2 384.6,59.7 383.6,57.6 387.2,56.5 391.3,57.4" fill="#e4e4e4"/><polygon points="383.5,57.7 379.2,62.3 370.6,62.3 367.5,59.4 368.1,54.1 372.9,53.1 381.0,54.6" fill="#e4e4e4"/><polygon points="401.1,63.0 400.7,66.1 394.7,64.4 389.0,61.2 391.3,60.4 396.1,59.9 398.7,60.8" fill="#f2f2f2"/><polygon points="376.5,62.6 374.0,65.9 370.6,65.8 370.5,62.6 369.1,58.8 372.5,57.5 375.5,58.3" fill="#f2f2f2"/><polygon points="382.0,58.3 377.7,61.4 373.0,63.1 370.0,60.4 366.5,57.3 372.1,53.7 376.9,55.1" fill="#cfcfcf"/><polygon points="382.8,59.3 381.6,62.0 376.1,61.0 372.0,59.1 372.7,56.8 378.0,54.7 384.2,56.9" fill="#e4e4e4"/><polygon points="430.8,15.2 428.6,17.2 425.0,17.5 422.7,16.8 422.3,12.5 424.4,10.9 429.5,13.5" fill="#f2f2f2"/><polygon points="420.1,13.3 417.9,16.9 411.9,15.6 411.3,13.1 411.6,8.8 414.7,9.3 420.1,10.9" fill="#f2f2f2"/><polygon points="444.8,18.4 438.8,18.5 435.3,18.0 430.7,15.7 431.5,13.3 435.0,12.5 441.7,15.4" fill="#cfcfcf"/><polygon points="427.4,16.8 422.4,19.7 419.9,21.8 413.2,21.0 413.9,17.2 417.3,15.4 421.2,14.5" fill="#e4e4e4"/><polygon points="423.1,22.4 422.8,26.5 418.1,27.4 414.3,25.1 415.7,20.4 417.8,18.2 421.6,18.8" fill="#e4e4e4"/><polygon points="447.4,19.1 444.9,21.3 437.4,21.5 430.4,21.1 433.1,18.6 438.1,16.9 442.5,17.0" fill="#f2f2f2"/><polygon points="419.1,11.3 417.5,14.6 413.6,14.5 412.3,13.4 413.2,10.5 413.9,7.9 417.1,8.9" fill="#cfcfcf"/><polygon points="418.8,17.4 419.3,21.3 415.3,22.6 412.4,21.6 412.3,17.9 413.9,14.5 417.1,16.1" fill="#f2f2f2"/><polygon points="414.6,11.1 413.9,15.0 410.3,17.9 404.7,14.6 405.2,11.7 408.2,9.3 410.9,9.5" fill="#e4e4e4"/><polygon points="447.6,32.6 445.8,33.2 443.3,33.5 440.9,30.9 441.2,28.3 444.4,29.1 447.3,29.4" fill="#f2f2f2"/><polygon points="451.3,33.8 447.4,36.1 443.4,37.3 441.1,32.7 440.7,29.9 444.3,28.1 450.9,30.8" fill="#f2f2f2"/><polygon points="450.0,28.7 449.4,33.0 447.5,33.0 444.5,32.3 443.8,29.3 444.8,26.8 447.9,27.8" fill="#cfcfcf"/><polygon points="451.5,29.2 448.1,30.0 444.0,28.5 439.8,25.3 442.4,22.5 447.5,21.7 449.9,24.7" fill="#cfcfcf"/><polygon points="456.6,36.4 453.5,39.9 450.4,41.9 444.7,41.1 443.1,39.6 449.3,36.6 454.4,35.5" fill="#e4e4e4"/><polygon points="444.6,33.6 441.7,36.0 437.5,38.7 434.1,36.6 431.2,32.9 437.3,31.0 443.5,29.4" fill="#e4e4e4"/><polygon points="445.8,32.6 445.8,37.3 441.3,36.8 437.2,35.9 437.2,31.4 440.1,29.6 444.1,30.7" fill="#cfcfcf"/><polygon points="455.5,38.8 451.2,41.3 447.4,39.5 445.2,37.1 445.0,33.8 449.4,32.1 454.4,34.6" fill="#f2f2f2"/><polygon points="387.4,115.9 387.7,118.7 378.9,121.1 373.8,122.3 371.8,117.8 378.3,116.0 382.7,113.6" fill="#e4e4e4"/><polygon points="395.8,130.0 392.3,133.1 387.6,130.4 383.9,127.1 386.2,125.3 390.5,124.0 394.7,126.2" fill="#f2f2f2"/><polygon points="401.1,132.5 399.3,134.4 396.3,134.1 393.8,131.6 395.2,129.8 397.3,128.7 400.3,130.4" fill="#f2f2f2"/><polygon points="365.2,123.0 359.6,125.7 356.8,125.2 351.2,119.4 352.4,117.1 358.2,116.7 362.9,119.5" fill="#cfcfcf"/><polygon points="386.5,127.9 385.8,130.7 381.4,131.8 377.7,129.0 376.9,125.9 380.1,122.7 384.8,123.1" fill="#f2f2f2"/><polygon points="390.9,115.3 385.9,121.3 381.6,122.1 375.1,121.6 374.9,118.5 379.1,113.4 386.7,114.1" fill="#e4e4e4"/><polygon points="383.8,128.7 379.0,130.9 375.1,130.4 372.7,124.8 372.2,122.7 376.3,120.6 382.8,122.9" fill="#e4e4e4"/><polygon points="395.0,118.0 392.4,120.3 388.3,121.0 382.1,118.7 384.8,115.5 387.0,113.3 392.8,115.5" fill="#cfcfcf"/><polygon points="401.2,121.1 401.4,125.2 395.8,128.1 390.6,125.6 391.3,121.6 393.2,118.4 396.8,119.3" fill="#cfcfcf"/><polygon points="381.0,129.7 379.2,131.7 376.3,131.3 374.2,129.3 373.9,127.4 377.1,127.0 381.7,127.8" fill="#cfcfcf"/><polygon points="370.4,131.3 365.6,132.7 362.1,133.6 357.3,131.6 358.4,129.3 362.9,128.0 368.1,129.2" fill="#e4e4e4"/><polygon points="404.6,122.5 402.2,124.1 394.1,124.3 393.2,120.1 392.6,116.2 397.2,116.6 401.8,119.4" fill="#cfcfcf"/><polygon points="364.1,123.1 365.7,126.9 360.1,128.2 357.1,126.0 354.9,123.1 358.1,122.1 361.4,121.3" fill="#e4e4e4"/><polygon points="394.9,134.5 393.0,136.4 388.6,135.7 383.2,133.3 382.4,130.2 388.2,128.6 393.7,131.4" fill="#cfcfcf"/><polygon points="401.6,130.1 401.2,133.0 394.5,136.5 392.2,136.0 391.0,132.5 391.5,129.5 396.8,128.1" fill="#f2f2f2"/><polygon points="369.5,144.5 367.7,146.2 366.0,146.3 363.5,145.4 364.2,143.3 365.7,142.0 368.8,142.4" fill="#cfcfcf"/><polygon points="373.8,145.0 371.7,146.3 366.0,147.9 362.8,145.6 363.4,142.8 368.8,142.7 373.1,142.2" fill="#cfcfcf"/><polygon points="384.3,147.8 382.1,150.1 379.0,149.2 376.8,146.9 377.6,144.1 381.7,142.5 383.1,145.0" fill="#f2f2f2"/><polygon points="382.5,146.5 378.9,149.7 375.7,147.8 373.6,145.4 372.2,142.7 376.5,142.9 379.9,143.1" fill="#cfcfcf"/><polygon points="394.4,140.6 391.6,142.6 384.9,144.1 381.9,142.0 380.8,140.2 383.9,139.0 391.5,139.5" fill="#e4e4e4"/><polygon points="398.9,140.6 395.7,143.2 390.3,143.3 385.5,143.8 385.3,140.6 390.5,139.0 396.2,138.5" fill="#e4e4e4"/><polygon points="387.9,140.0 386.7,141.7 383.2,144.4 377.7,142.0 380.2,136.7 382.7,135.6 388.0,136.0" fill="#e4e4e4"/><polygon points="394.2,134.0 392.9,136.7 389.8,136.9 384.7,136.1 385.9,132.7 388.7,131.2 391.4,132.1" fill="#e4e4e4"/><polygon points="390.7,134.0 390.7,136.1 386.8,136.0 382.6,133.7 384.6,132.4 386.6,131.3 389.8,131.2" fill="#cfcfcf"/><polygon points="382.0,138.8 381.2,139.8 377.8,139.1 376.9,138.0 377.4,135.5 380.4,133.6 382.3,135.9" fill="#f2f2f2"/><polygon points="396.3,140.9 395.3,143.9 391.1,144.4 383.5,143.9 385.8,141.4 389.5,139.9 393.3,139.4" fill="#cfcfcf"/><polygon points="434.1,112.3 432.1,114.6 427.5,116.0 424.0,114.0 425.0,111.5 428.6,109.5 433.5,110.8" fill="#e4e4e4"/><polygon points="430.2,114.0 427.7,118.7 420.8,119.5 414.8,118.7 413.2,116.0 419.5,111.3 427.9,112.6" fill="#e4e4e4"/><polygon points="431.9,118.5 430.9,122.3 427.0,123.8 423.9,122.9 424.2,119.2 424.9,116.3 428.6,116.8" fill="#f2f2f2"/><polygon points="437.9,113.9 436.0,116.9 428.0,118.4 420.4,119.0 421.5,116.1 428.3,114.2 431.9,114.1" fill="#cfcfcf"/><polygon points="427.2,129.1 426.7,131.5 420.9,131.9 415.2,129.8 414.8,127.0 418.0,125.2 425.7,125.8" fill="#f2f2f2"/><polygon points="415.6,113.2 413.9,116.0 410.6,116.4 409.3,114.3 409.8,110.7 411.6,106.5 414.8,107.9" fill="#e4e4e4"/><polygon points="424.9,127.1 423.2,128.4 419.9,128.4 418.2,126.4 420.2,122.8 421.9,123.5 425.1,124.5" fill="#cfcfcf"/><polygon points="429.7,112.0 429.2,115.0 425.2,117.6 421.4,114.2 421.8,110.3 425.5,109.3 428.5,109.5" fill="#cfcfcf"/><polygon points="449.1,107.7 446.9,110.1 442.1,111.1 440.3,108.2 439.8,105.4 445.8,103.5 448.4,106.0" fill="#cfcfcf"/><polygon points="453.8,97.6 451.9,100.4 447.5,100.1 444.5,95.6 443.3,92.7 447.4,91.6 453.3,94.8" fill="#f2f2f2"/><polygon points="450.8,93.5 449.9,96.6 444.9,99.1 441.7,98.3 441.6,96.2 442.4,94.5 450.1,91.8" fill="#e4e4e4"/><polygon points="455.7,105.4 455.2,109.3 450.3,110.1 446.4,108.2 447.8,105.1 448.8,102.9 452.4,103.1" fill="#e4e4e4"/><polygon points="25.9,5.9 24.3,8.8 21.1,7.9 18.4,5.3 20.1,3.7 20.9,1.9 26.0,4.1" fill="#e4e4e4"/><polygon points="25.5,7.5 25.4,10.7 22.9,11.1 20.1,9.5 20.6,7.5 21.6,3.6 24.3,4.9" fill="#cfcfcf"/><polygon points="61.1,25.9 57.8,30.2 54.2,30.8 51.9,29.5 50.5,23.2 54.7,20.9 57.2,23.4" fill="#f2f2f2"/><polygon points="53.6,25.4 51.8,28.0 45.8,27.8 41.5,23.1 40.2,20.4 47.4,18.8 51.0,21.3" fill="#e4e4e4"/><polygon points="99.9,29.6 98.7,34.1 95.8,36.5 91.7,32.6 93.2,29.7 94.8,26.7 99.4,26.6" fill="#e4e4e4"/><polygon points="98.1,26.1 96.1,30.5 93.5,31.2 88.4,31.4 86.4,29.9 91.3,26.5 94.8,24.5" fill="#f2f2f2"/><polygon points="94.7,35.5 95.4,38.4 91.0,39.9 86.0,40.5 84.7,38.3 88.3,35.2 93.2,34.8" fill="#e4e4e4"/><polygon points="92.8,34.7 87.8,39.5 82.6,41.8 80.4,39.9 81.4,34.6 84.3,32.6 89.9,32.4" fill="#f2f2f2"/><polygon points="44.3,122.2 42.7,125.3 39.2,125.8 34.0,124.5 30.6,122.7 35.2,119.1 44.0,118.3" fill="#cfcfcf"/><polygon points="155.7,123.5 151.4,127.5 147.3,129.2 142.3,127.0 141.4,125.6 144.5,122.0 152.3,121.5" fill="#f2f2f2"/><polygon points="37.4,112.0 32.7,113.8 27.3,115.4 25.7,110.8 26.1,108.0 28.9,106.8 35.4,108.5" fill="#f2f2f2"/><polygon points="136.5,107.5 134.1,110.0 132.4,111.8 127.4,109.0 126.3,107.1 130.5,104.4 135.3,104.9" fill="#e4e4e4"/><polygon points="153.8,109.7 153.6,113.0 148.6,114.6 146.6,112.9 145.8,109.8 148.2,107.0 151.7,107.2" fill="#cfcfcf"/><polygon points="38.1,114.3 38.2,115.9 32.4,117.4 25.7,117.0 25.9,113.5 30.8,111.2 39.0,111.7" fill="#cfcfcf"/><polygon points="35.9,123.7 34.2,127.8 31.6,127.9 28.0,126.1 26.3,123.6 31.1,119.5 35.8,120.8" fill="#cfcfcf"/><polygon points="135.0,115.2 134.4,120.3 130.4,122.3 127.4,120.9 126.6,117.1 129.6,112.4 132.5,114.3" fill="#f2f2f2"/><polygon points="100.8,120.5 99.2,122.9 96.9,124.7 94.4,120.3 94.4,118.0 96.4,114.4 98.5,115.9" fill="#cfcfcf"/><polygon points="154.9,117.7 157.6,119.0 150.0,122.3 141.7,123.9 141.3,121.7 147.2,118.8 153.8,116.0" fill="#cfcfcf"/><polygon points="114.0,113.1 113.5,115.6 109.4,118.1 108.0,116.2 105.0,114.7 108.2,110.9 113.0,110.2" fill="#e4e4e4"/><polygon points="27.5,119.9 25.6,121.5 22.2,122.6 20.2,120.4 20.7,119.1 23.3,118.0 26.7,119.0" fill="#e4e4e4"/><polygon points="58.5,121.8 59.4,124.6 53.2,126.1 47.2,124.9 46.9,121.7 51.3,118.7 59.8,119.6" fill="#f2f2f2"/><polygon points="56.1,121.8 54.0,124.3 52.6,126.8 48.7,125.2 47.2,120.9 49.6,117.0 54.8,117.8" fill="#cfcfcf"/><polygon points="89.1,121.5 86.3,123.2 82.2,124.7 77.8,122.1 80.3,119.8 82.2,118.2 86.8,118.6" fill="#e4e4e4"/><polygon points="73.3,116.4 70.1,119.9 65.9,121.5 61.3,120.7 59.9,117.9 65.1,114.1 68.2,115.1" fill="#e4e4e4"/><polygon points="65.2,122.3 61.5,126.5 56.0,125.3 55.0,122.9 54.3,120.1 57.9,118.5 61.4,119.7" fill="#e4e4e4"/><polygon points="147.1,113.1 144.5,115.7 137.0,117.2 132.1,114.5 132.4,110.9 138.4,108.5 141.7,110.5" fill="#f2f2f2"/><polygon points="25.0,122.5 24.5,126.3 20.3,127.1 16.9,127.9 16.6,123.7 19.5,121.4 22.0,120.9" fill="#e4e4e4"/><polygon points="155.0,119.2 153.6,122.3 148.9,123.5 145.3,122.1 146.0,119.8 149.9,118.8 151.6,118.6" fill="#cfcfcf"/><polygon points="19.3,117.1 14.8,118.5 10.6,117.5 9.6,116.3 8.4,114.2 11.5,112.6 16.3,115.2" fill="#cfcfcf"/><polygon points="62.0,116.5 57.8,119.4 48.5,120.3 43.6,115.9 45.3,112.5 52.6,112.3 58.3,113.0" fill="#e4e4e4"/><polygon points="78.6,112.1 77.5,114.6 74.9,116.3 70.3,114.2 70.3,110.8 72.6,109.9 77.7,111.2" fill="#f2f2f2"/><polygon points="42.9,119.8 40.8,122.9 37.9,123.8 34.7,122.2 34.5,118.9 35.4,117.2 40.7,118.5" fill="#f2f2f2"/><polygon points="110.4,118.3 109.7,122.1 106.1,121.9 103.5,120.3 104.1,118.6 105.9,116.1 109.5,115.6" fill="#e4e4e4"/><polygon points="111.3,109.1 110.4,111.4 106.5,113.8 104.3,111.1 102.9,109.2 106.6,104.7 109.6,105.7" fill="#f2f2f2"/><polygon points="155.7,122.6 153.7,126.2 151.2,129.3 149.2,125.3 149.4,122.7 149.7,117.8 153.5,120.5" fill="#f2f2f2"/><polygon points="55.0,121.5 52.3,126.2 49.2,127.6 44.5,127.9 42.0,125.1 44.6,120.7 51.1,120.4" fill="#e4e4e4"/><polygon points="140.9,116.6 139.7,118.3 132.5,121.0 131.0,119.1 129.4,117.3 132.0,114.6 137.0,114.6" fill="#cfcfcf"/><polygon points="77.8,124.0 75.2,125.4 72.2,126.1 69.1,121.4 69.2,118.5 74.8,117.8 77.1,120.5" fill="#e4e4e4"/><polygon points="27.7,119.0 24.4,121.4 21.6,120.5 17.7,118.9 18.7,116.9 22.5,115.5 26.4,116.4" fill="#e4e4e4"/><polygon points="64.9,121.7 63.0,124.4 57.4,123.9 53.2,123.7 55.6,120.5 58.7,118.5 62.3,119.9" fill="#e4e4e4"/><polygon points="106.8,108.7 108.2,112.6 103.5,112.5 99.5,112.3 99.3,107.8 101.9,105.6 104.9,107.0" fill="#e4e4e4"/><polygon points="73.9,115.2 70.3,117.9 66.1,117.3 61.9,117.0 60.7,114.8 66.1,113.1 73.3,113.8" fill="#e4e4e4"/><polygon points="155.5,120.5 151.1,123.5 148.6,125.8 142.0,126.3 142.1,122.9 146.8,120.7 151.2,118.4" fill="#e4e4e4"/><polygon points="101.1,122.2 101.4,126.8 93.5,125.5 89.6,124.3 90.1,119.9 93.8,118.6 100.3,118.8" fill="#f2f2f2"/><polygon points="23.5,115.1 23.1,118.1 14.6,118.3 9.3,116.3 12.9,111.6 17.4,110.8 22.2,111.8" fill="#f2f2f2"/><polygon points="82.7,125.5 80.4,126.9 75.5,125.2 72.1,123.1 73.2,121.7 77.7,120.1 80.6,122.2" fill="#cfcfcf"/><polygon points="51.2,121.3 47.6,123.0 43.1,123.8 36.8,119.4 39.4,115.6 45.1,116.3 51.4,119.1" fill="#e4e4e4"/><polygon points="68.3,117.7 64.4,120.3 60.6,121.0 56.0,119.9 55.2,116.9 59.0,112.3 65.8,113.2" fill="#e4e4e4"/><polygon points="62.1,112.9 60.0,115.8 57.2,115.5 53.3,112.7 54.5,110.6 56.4,109.4 60.0,111.0" fill="#e4e4e4"/><polygon points="68.2,120.1 67.2,124.1 65.2,125.0 62.0,124.6 61.9,122.1 62.9,119.7 65.4,119.0" fill="#e4e4e4"/><polygon points="19.9,112.4 18.0,114.3 15.9,115.6 13.9,113.8 14.2,111.0 16.3,109.0 18.5,111.0" fill="#e4e4e4"/><polygon points="55.5,123.9 52.3,128.2 48.7,128.4 42.4,124.5 44.6,120.2 50.2,120.6 53.8,119.8" fill="#e4e4e4"/><polygon points="20.7,123.3 19.6,126.1 16.6,126.1 14.6,124.2 15.9,121.2 18.2,118.9 21.1,119.6" fill="#e4e4e4"/><polygon points="125.7,110.0 124.9,112.1 117.2,111.3 110.2,110.1 111.4,108.6 118.1,108.1 122.4,107.7" fill="#e4e4e4"/><polygon points="101.7,110.9 98.9,113.4 92.5,115.1 89.8,113.2 90.1,107.6 93.0,106.1 100.9,108.1" fill="#e4e4e4"/><polygon points="31.9,123.7 30.9,126.2 26.0,127.6 23.6,124.8 23.4,121.5 26.6,120.2 30.8,119.1" fill="#f2f2f2"/><polygon points="145.9,109.3 145.0,111.7 138.1,109.3 137.1,107.6 137.1,105.3 141.3,105.7 146.6,108.3" fill="#cfcfcf"/><polygon points="27.9,118.0 29.0,120.0 22.8,122.6 17.9,122.6 18.9,120.6 22.3,117.2 28.0,116.6" fill="#e4e4e4"/><polygon points="34.6,123.5 31.3,126.1 28.0,126.1 25.2,124.4 25.2,122.1 27.8,121.0 32.1,121.8" fill="#e4e4e4"/><polygon points="111.7,112.4 109.2,115.7 104.0,114.3 99.5,111.7 98.5,106.4 103.9,105.7 110.2,106.8" fill="#e4e4e4"/><polygon points="127.3,118.1 124.7,121.9 119.1,122.7 115.7,122.3 116.3,118.2 118.7,116.1 123.5,116.0" fill="#e4e4e4"/><polygon points="83.5,109.9 82.3,112.9 76.5,113.5 70.8,110.9 70.6,106.4 75.7,105.2 82.2,105.8" fill="#e4e4e4"/><polygon points="18.5,110.5 16.2,112.8 11.8,113.0 7.7,111.0 9.0,109.0 11.0,107.4 16.7,108.1" fill="#e4e4e4"/><polygon points="146.9,122.3 145.7,123.7 142.0,123.3 139.6,121.1 140.2,119.1 142.8,118.2 145.4,119.3" fill="#e4e4e4"/><polygon points="389.4,125.3 387.6,127.3 381.4,125.0 375.1,122.0 374.6,120.3 383.8,121.7 387.3,122.9" fill="#e4e4e4"/><polygon points="371.1,129.0 369.8,131.7 367.0,131.6 365.3,131.4 363.6,129.2 365.3,127.1 368.5,126.9" fill="#e4e4e4"/><polygon points="384.4,128.3 382.9,132.5 377.4,132.6 375.1,130.2 375.3,126.2 377.9,123.6 383.0,126.6" fill="#cfcfcf"/><polygon points="399.7,135.0 396.2,135.2 390.8,134.6 389.9,132.7 389.4,129.6 394.4,130.2 398.0,131.0" fill="#e4e4e4"/><polygon points="390.2,126.5 387.8,126.8 383.4,126.4 379.8,123.5 382.3,122.0 385.0,121.9 389.1,124.1" fill="#e4e4e4"/><polygon points="394.8,137.8 393.3,139.5 390.8,140.4 388.2,140.4 388.0,138.4 390.2,136.0 392.8,136.6" fill="#cfcfcf"/><polygon points="381.9,131.5 381.0,134.1 375.0,137.0 370.8,134.6 369.1,133.0 373.4,127.7 377.2,128.2" fill="#cfcfcf"/><polygon points="403.1,129.5 399.9,132.3 397.1,134.3 392.9,132.9 390.9,131.0 395.5,129.6 399.1,128.3" fill="#cfcfcf"/><polygon points="367.8,130.2 364.9,131.8 361.8,132.7 356.3,131.7 358.1,130.4 361.8,128.7 366.0,129.0" fill="#e4e4e4"/><polygon points="398.6,134.1 397.1,135.0 391.8,134.8 388.0,130.0 386.6,127.7 391.4,127.2 398.7,132.1" fill="#f2f2f2"/><polygon points="367.1,129.3 365.2,131.1 360.0,131.9 357.1,130.0 358.2,128.2 359.6,126.4 367.2,126.8" fill="#e4e4e4"/><polygon points="373.9,135.0 373.4,137.7 366.3,136.4 358.6,133.5 360.3,131.5 367.1,131.4 373.2,132.2" fill="#cfcfcf"/><polygon points="387.8,138.8 384.8,140.9 381.4,140.8 378.4,137.2 377.0,134.7 381.0,134.3 387.4,134.9" fill="#e4e4e4"/><polygon points="369.9,129.5 364.0,130.1 359.2,130.2 352.8,125.6 357.3,125.3 359.8,124.4 366.2,126.5" fill="#e4e4e4"/><polygon points="373.7,122.7 372.6,126.0 367.2,128.0 363.1,125.4 361.8,121.4 365.4,119.6 369.2,119.4" fill="#e4e4e4"/><polygon points="381.7,132.8 379.7,136.0 375.5,139.0 369.6,138.5 371.2,135.8 373.9,133.3 378.0,132.2" fill="#f2f2f2"/><polygon points="367.7,126.4 362.4,128.3 356.3,127.2 348.7,125.6 353.5,123.7 356.1,121.5 363.5,123.4" fill="#f2f2f2"/></svg>
<svg width="968" height="1842" viewBox="0 0 968 1842">

<g font-family="Liberation Sans, sans-serif" fill="#000">
 <!-- panel a -->
 <text transform="translate(8.45 41.30) scale(1 1.0421)" font-size="41.14" fill="#000">a)</text>
 <g transform="rotate(0.12 510 284)">
  <rect x="85.3" y="8.7" width="850.2" height="550.5" fill="none" stroke="#000" stroke-width="2.5"/>
  <g stroke="#000" stroke-width="2.6"><line x1="85.30" y1="559.2" x2="85.30" y2="572.5"/><line x1="127.81" y1="559.2" x2="127.81" y2="565.7"/><line x1="170.32" y1="559.2" x2="170.32" y2="572.5"/><line x1="212.83" y1="559.2" x2="212.83" y2="565.7"/><line x1="255.34" y1="559.2" x2="255.34" y2="572.5"/><line x1="297.85" y1="559.2" x2="297.85" y2="565.7"/><line x1="340.36" y1="559.2" x2="340.36" y2="572.5"/><line x1="382.87" y1="559.2" x2="382.87" y2="565.7"/><line x1="425.38" y1="559.2" x2="425.38" y2="572.5"/><line x1="467.89" y1="559.2" x2="467.89" y2="565.7"/><line x1="510.40" y1="559.2" x2="510.40" y2="572.5"/><line x1="552.91" y1="559.2" x2="552.91" y2="565.7"/><line x1="595.42" y1="559.2" x2="595.42" y2="572.5"/><line x1="637.93" y1="559.2" x2="637.93" y2="565.7"/><line x1="680.44" y1="559.2" x2="680.44" y2="572.5"/><line x1="722.95" y1="559.2" x2="722.95" y2="565.7"/><line x1="765.46" y1="559.2" x2="765.46" y2="572.5"/><line x1="807.97" y1="559.2" x2="807.97" y2="565.7"/><line x1="850.48" y1="559.2" x2="850.48" y2="572.5"/><line x1="892.99" y1="559.2" x2="892.99" y2="565.7"/><line x1="935.50" y1="559.2" x2="935.50" y2="572.5"/></g>
  <g font-size="34.3"><text transform="translate(85.30 607.3) scale(1 1.065)" text-anchor="middle">590</text><text transform="translate(170.32 607.3) scale(1 1.065)" text-anchor="middle">588</text><text transform="translate(255.34 607.3) scale(1 1.065)" text-anchor="middle">586</text><text transform="translate(340.36 607.3) scale(1 1.065)" text-anchor="middle">584</text><text transform="translate(425.38 607.3) scale(1 1.065)" text-anchor="middle">582</text><text transform="translate(510.40 607.3) scale(1 1.065)" text-anchor="middle">580</text><text transform="translate(595.42 607.3) scale(1 1.065)" text-anchor="middle">578</text><text transform="translate(680.44 607.3) scale(1 1.065)" text-anchor="middle">576</text><text transform="translate(765.46 607.3) scale(1 1.065)" text-anchor="middle">574</text><text transform="translate(850.48 607.3) scale(1 1.065)" text-anchor="middle">572</text><text transform="translate(935.50 607.3) scale(1 1.065)" text-anchor="middle">570</text></g>
 </g>
 <text transform="translate(111.36 55.66) scale(1 1.1077)" font-size="30.90" fill="#000">Cr 2P</text>
 <line x1="651.8" y1="31.1" x2="722.1" y2="31.1" stroke="#0000ff" stroke-width="2.6"/>
 <line x1="651.8" y1="69.8" x2="722.1" y2="69.8" stroke="#ff0000" stroke-width="2.6"/>
 <text transform="translate(730.02 42.19) scale(1 0.9969)" font-size="31.04" fill="#000">Post-Reaction</text>
 <text transform="translate(730.02 81.29) scale(1 0.9950)" font-size="30.97" fill="#000">Pre-Reaction</text>
 <polyline points="85.7,449.5 100.5,444.2 131.9,438.2 165.2,441.6 199.3,450.6 232.3,451.5 266.4,453.9 301.5,463.0 336.0,479.6 369.4,498.2 403.5,498.2 436.6,480.0 471.7,462.3 505.8,461.7 540.6,471.9 573.0,486.3 607.1,491.0 642.0,480.6 676.6,463.8 708.7,452.8 743.6,449.6 778.2,454.2 812.0,462.8 845.9,463.8 879.8,460.3 913.6,448.5 935.0,443.8" fill="none" stroke="#ff0000" stroke-width="2.4" stroke-linejoin="round"/>
 <polyline points="85.8,378.1 113.1,356.8 147.2,323.5 181.2,290.0 216.4,266.8 250.2,263.2 284.6,282.0 318.0,319.5 351.6,357.0 385.8,380.3 419.8,388.2 453.8,379.6 487.7,353.4 522.4,313.4 556.4,257.5 590.3,201.0 624.4,167.6 658.5,173.8 692.7,212.6 726.0,272.0 760.3,318.6 794.4,352.9 827.8,376.7 862.7,399.0 896.2,417.1 931.0,431.9 935.2,431.9" fill="none" stroke="#0000ff" stroke-width="2.4" stroke-linejoin="round"/>
 <text transform="translate(189.85 236.09) scale(1 0.9989)" font-size="31.02" fill="#000">Cr 2P</text><text transform="translate(269.74 247.60) scale(1 0.9756)" font-size="18.25" fill="#000">1/2</text>
 <text transform="translate(177.18 339.26) scale(1 1.1016)" font-size="30.43" fill="#000">586.7 eV</text>
 <text transform="translate(582.84 135.28) scale(1 1.0239)" font-size="31.22" fill="#000">Cr 2P</text><text transform="translate(662.77 146.63) scale(1 0.9374)" font-size="18.31" fill="#000">3/2</text>
 <text transform="translate(578.87 263.97) scale(1 1.0661)" font-size="30.78" fill="#000">577.3 eV</text>
 <line x1="235.9" y1="309.3" x2="234.8" y2="279.6" stroke="#000" stroke-width="1.3"/><polygon points="234.3,265.1 239.0,279.4 230.6,279.7" fill="#000"/>
 <line x1="630.9" y1="220.6" x2="629.9" y2="189.7" stroke="#000" stroke-width="1.3"/><polygon points="629.5,175.2 634.1,189.6 625.7,189.8" fill="#000"/>
 <text transform="translate(37.13 300.24) rotate(-90) scale(1 1.0614)" font-size="34.90" fill="#000">CPS</text>
 <text transform="translate(358.97 665.94) scale(1 1.0703)" font-size="34.09" fill="#000">Binding energy (eV)</text>
 <line x1="44.5" y1="684" x2="921" y2="684" stroke="#000" stroke-width="4.2" stroke-linecap="round"/>

 <!-- panel b -->
 <text transform="translate(4.29 741.20) scale(1 0.9519)" font-size="43.03" fill="#000">b)</text>
 <rect x="79" y="706" width="835.7" height="514.2" fill="none" stroke="#111" stroke-width="2.7"/>
 <g stroke="#111" stroke-width="2.6"><line x1="102.80" y1="1220" x2="102.80" y2="1232.5"/><line x1="157.10" y1="1220" x2="157.10" y2="1227.0"/><line x1="211.40" y1="1220" x2="211.40" y2="1232.5"/><line x1="265.70" y1="1220" x2="265.70" y2="1227.0"/><line x1="320.00" y1="1220" x2="320.00" y2="1232.5"/><line x1="374.30" y1="1220" x2="374.30" y2="1227.0"/><line x1="428.60" y1="1220" x2="428.60" y2="1232.5"/><line x1="482.90" y1="1220" x2="482.90" y2="1227.0"/><line x1="537.20" y1="1220" x2="537.20" y2="1232.5"/><line x1="591.50" y1="1220" x2="591.50" y2="1227.0"/><line x1="645.80" y1="1220" x2="645.80" y2="1232.5"/><line x1="700.10" y1="1220" x2="700.10" y2="1227.0"/><line x1="754.40" y1="1220" x2="754.40" y2="1232.5"/><line x1="808.70" y1="1220" x2="808.70" y2="1227.0"/><line x1="863.00" y1="1220" x2="863.00" y2="1232.5"/></g>
 <g font-size="33.3"><text transform="translate(102.80 1265.9) scale(1 1.02)" text-anchor="middle">580</text><text transform="translate(211.40 1265.9) scale(1 1.02)" text-anchor="middle">579</text><text transform="translate(320.00 1265.9) scale(1 1.02)" text-anchor="middle">578</text><text transform="translate(428.60 1265.9) scale(1 1.02)" text-anchor="middle">577</text><text transform="translate(537.20 1265.9) scale(1 1.02)" text-anchor="middle">576</text><text transform="translate(645.80 1265.9) scale(1 1.02)" text-anchor="middle">575</text><text transform="translate(754.40 1265.9) scale(1 1.02)" text-anchor="middle">574</text><text transform="translate(863.00 1265.9) scale(1 1.02)" text-anchor="middle">573</text></g>
 <text transform="translate(88.47 737.28) scale(1 1.0476)" font-size="30.65" fill="#000">Cr 2P</text><text transform="translate(167.59 748.12) scale(1 1.0115)" font-size="17.77" fill="#000">3/2</text>
 <polyline points="79.3,1105.0 133.0,1075.9 219.9,1009.5 306.8,937.8 393.7,898.9 480.6,906.3 567.5,954.1 652.0,1024.5 741.0,1081.4 826.5,1122.7 913.8,1151.8" fill="none" stroke="#0000ff" stroke-width="2.6" stroke-linejoin="round"/>
 <polyline points="79.5,1107.4 80.5,1106.9 81.5,1106.5 82.5,1106.0 83.5,1105.5 84.5,1105.0 85.5,1104.5 86.5,1104.0 87.5,1103.5 88.5,1103.0 89.5,1102.5 90.5,1102.0 91.5,1101.5 92.5,1101.0 93.5,1100.5 94.5,1099.9 95.5,1099.4 96.5,1098.9 97.5,1098.3 98.5,1097.8 99.5,1097.2 100.5,1096.7 101.5,1096.1 102.5,1095.6 103.5,1095.0 104.5,1094.4 105.5,1093.9 106.5,1093.3 107.5,1092.7 108.5,1092.1 109.5,1091.6 110.5,1091.0 111.5,1090.4 112.5,1089.8 113.5,1089.2 114.5,1088.6 115.5,1088.0 116.5,1087.3 117.5,1086.7 118.5,1086.1 119.5,1085.5 120.5,1084.8 121.5,1084.2 122.5,1083.6 123.5,1082.9 124.5,1082.3 125.5,1081.6 126.5,1081.0 127.5,1080.3 128.5,1079.7 129.5,1079.0 130.5,1078.3 131.5,1077.7 132.5,1077.0 133.5,1076.3 134.5,1075.6 135.5,1074.9 136.5,1074.3 137.5,1073.6 138.5,1072.9 139.5,1072.2 140.5,1071.5 141.5,1070.7 142.5,1070.0 143.5,1069.3 144.5,1068.6 145.5,1067.9 146.5,1067.1 147.5,1066.4 148.5,1065.7 149.5,1064.9 150.5,1064.2 151.5,1063.5 152.5,1062.7 153.5,1062.0 154.5,1061.2 155.5,1060.5 156.5,1059.7 157.5,1058.9 158.5,1058.2 159.5,1057.4 160.5,1056.6 161.5,1055.9 162.5,1055.1 163.5,1054.3 164.5,1053.5 165.5,1052.7 166.5,1051.9 167.5,1051.1 168.5,1050.3 169.5,1049.6 170.5,1048.8 171.5,1047.9 172.5,1047.1 173.5,1046.3 174.5,1045.5 175.5,1044.7 176.5,1043.9 177.5,1043.1 178.5,1042.3 179.5,1041.4 180.5,1040.6 181.5,1039.8 182.5,1039.0 183.5,1038.1 184.5,1037.3 185.5,1036.5 186.5,1035.6 187.5,1034.8 188.5,1033.9 189.5,1033.1 190.5,1032.3 191.5,1031.4 192.5,1030.6 193.5,1029.7 194.5,1028.9 195.5,1028.0 196.5,1027.2 197.5,1026.3 198.5,1025.4 199.5,1024.6 200.5,1023.7 201.5,1022.9 202.5,1022.0 203.5,1021.2 204.5,1020.3 205.5,1019.4 206.5,1018.6 207.5,1017.7 208.5,1016.8 209.5,1016.0 210.5,1015.1 211.5,1014.2 212.5,1013.4 213.5,1012.5 214.5,1011.6 215.5,1010.8 216.5,1009.9 217.5,1009.0 218.5,1008.2 219.5,1007.3 220.5,1006.4 221.5,1005.6 222.5,1004.7 223.5,1003.8 224.5,1003.0 225.5,1002.1 226.5,1001.2 227.5,1000.4 228.5,999.5 229.5,998.6 230.5,997.8 231.5,996.9 232.5,996.0 233.5,995.2 234.5,994.3 235.5,993.5 236.5,992.6 237.5,991.8 238.5,990.9 239.5,990.1 240.5,989.2 241.5,988.4 242.5,987.5 243.5,986.7 244.5,985.8 245.5,985.0 246.5,984.1 247.5,983.3 248.5,982.5 249.5,981.6 250.5,980.8 251.5,980.0 252.5,979.2 253.5,978.3 254.5,977.5 255.5,976.7 256.5,975.9 257.5,975.1 258.5,974.3 259.5,973.5 260.5,972.7 261.5,971.9 262.5,971.1 263.5,970.3 264.5,969.5 265.5,968.7 266.5,967.9 267.5,967.1 268.5,966.4 269.5,965.6 270.5,964.8 271.5,964.1 272.5,963.3 273.5,962.5 274.5,961.8 275.5,961.0 276.5,960.3 277.5,959.6 278.5,958.8 279.5,958.1 280.5,957.4 281.5,956.7 282.5,956.0 283.5,955.2 284.5,954.5 285.5,953.8 286.5,953.1 287.5,952.5 288.5,951.8 289.5,951.1 290.5,950.4 291.5,949.8 292.5,949.1 293.5,948.4 294.5,947.8 295.5,947.1 296.5,946.5 297.5,945.9 298.5,945.2 299.5,944.6 300.5,944.0 301.5,943.4 302.5,942.8 303.5,942.2 304.5,941.6 305.5,941.0 306.5,940.4 307.5,939.9 308.5,939.3 309.5,938.8 310.5,938.2 311.5,937.7 312.5,937.1 313.5,936.6 314.5,936.1 315.5,935.6 316.5,935.0 317.5,934.5 318.5,934.1 319.5,933.6 320.5,933.1 321.5,932.6 322.5,932.1 323.5,931.7 324.5,931.2 325.5,930.8 326.5,930.4 327.5,929.9 328.5,929.5 329.5,929.1 330.5,928.7 331.5,928.3 332.5,927.9 333.5,927.5 334.5,927.2 335.5,926.8 336.5,926.4 337.5,926.1 338.5,925.8 339.5,925.4 340.5,925.1 341.5,924.8 342.5,924.5 343.5,924.2 344.5,923.9 345.5,923.6 346.5,923.3 347.5,923.1 348.5,922.8 349.5,922.6 350.5,922.3 351.5,922.1 352.5,921.9 353.5,921.7 354.5,921.5 355.5,921.3 356.5,921.1 357.5,920.9 358.5,920.7 359.5,920.6 360.5,920.4 361.5,920.3 362.5,920.1 363.5,920.0 364.5,919.9 365.5,919.8 366.5,919.7 367.5,919.6 368.5,919.5 369.5,919.5 370.5,919.4 371.5,919.3 372.5,919.3 373.5,919.3 374.5,919.2 375.5,919.2 376.5,919.2 377.5,919.2 378.5,919.2 379.5,919.2 380.5,919.3 381.5,919.3 382.5,919.3 383.5,919.4 384.5,919.5 385.5,919.5 386.5,919.6 387.5,919.7 388.5,919.8 389.5,919.9 390.5,920.0 391.5,920.1 392.5,920.3 393.5,920.4 394.5,920.6 395.5,920.7 396.5,920.9 397.5,921.1 398.5,921.3 399.5,921.5 400.5,921.7 401.5,921.9 402.5,922.1 403.5,922.3 404.5,922.6 405.5,922.8 406.5,923.1 407.5,923.3 408.5,923.6 409.5,923.9 410.5,924.2 411.5,924.5 412.5,924.8 413.5,925.1 414.5,925.4 415.5,925.8 416.5,926.1 417.5,926.4 418.5,926.8 419.5,927.2 420.5,927.5 421.5,927.9 422.5,928.3 423.5,928.7 424.5,929.1 425.5,929.5 426.5,929.9 427.5,930.4 428.5,930.8 429.5,931.2 430.5,931.7 431.5,932.1 432.5,932.6 433.5,933.1 434.5,933.6 435.5,934.1 436.5,934.5 437.5,935.0 438.5,935.6 439.5,936.1 440.5,936.6 441.5,937.1 442.5,937.7 443.5,938.2 444.5,938.8 445.5,939.3 446.5,939.9 447.5,940.4 448.5,941.0 449.5,941.6 450.5,942.2 451.5,942.8 452.5,943.4 453.5,944.0 454.5,944.6 455.5,945.2 456.5,945.9 457.5,946.5 458.5,947.1 459.5,947.8 460.5,948.4 461.5,949.1 462.5,949.8 463.5,950.4 464.5,951.1 465.5,951.8 466.5,952.5 467.5,953.1 468.5,953.8 469.5,954.5 470.5,955.2 471.5,956.0 472.5,956.7 473.5,957.4 474.5,958.1 475.5,958.8 476.5,959.6 477.5,960.3 478.5,961.0 479.5,961.8 480.5,962.5 481.5,963.3 482.5,964.1 483.5,964.8 484.5,965.6 485.5,966.4 486.5,967.1 487.5,967.9 488.5,968.7 489.5,969.5 490.5,970.3 491.5,971.1 492.5,971.9 493.5,972.7 494.5,973.5 495.5,974.3 496.5,975.1 497.5,975.9 498.5,976.7 499.5,977.5 500.5,978.3 501.5,979.2 502.5,980.0 503.5,980.8 504.5,981.6 505.5,982.5 506.5,983.3 507.5,984.1 508.5,985.0 509.5,985.8 510.5,986.7 511.5,987.5 512.5,988.4 513.5,989.2 514.5,990.1 515.5,990.9 516.5,991.8 517.5,992.6 518.5,993.5 519.5,994.3 520.5,995.2 521.5,996.0 522.5,996.9 523.5,997.8 524.5,998.6 525.5,999.5 526.5,1000.4 527.5,1001.2 528.5,1002.1 529.5,1003.0 530.5,1003.8 531.5,1004.7 532.5,1005.6 533.5,1006.4 534.5,1007.3 535.5,1008.2 536.5,1009.0 537.5,1009.9 538.5,1010.8 539.5,1011.6 540.5,1012.5 541.5,1013.4 542.5,1014.2 543.5,1015.1 544.5,1016.0 545.5,1016.8 546.5,1017.7 547.5,1018.6 548.5,1019.4 549.5,1020.3 550.5,1021.2 551.5,1022.0 552.5,1022.9 553.5,1023.7 554.5,1024.6 555.5,1025.4 556.5,1026.3 557.5,1027.2 558.5,1028.0 559.5,1028.9 560.5,1029.7 561.5,1030.6 562.5,1031.4 563.5,1032.3 564.5,1033.1 565.5,1033.9 566.5,1034.8 567.5,1035.6 568.5,1036.5 569.5,1037.3 570.5,1038.1 571.5,1039.0 572.5,1039.8 573.5,1040.6 574.5,1041.4 575.5,1042.3 576.5,1043.1 577.5,1043.9 578.5,1044.7 579.5,1045.5 580.5,1046.3 581.5,1047.1 582.5,1047.9 583.5,1048.8 584.5,1049.6 585.5,1050.3 586.5,1051.1 587.5,1051.9 588.5,1052.7 589.5,1053.5 590.5,1054.3 591.5,1055.1 592.5,1055.9 593.5,1056.6 594.5,1057.4 595.5,1058.2 596.5,1058.9 597.5,1059.7 598.5,1060.5 599.5,1061.2 600.5,1062.0 601.5,1062.7 602.5,1063.5 603.5,1064.2 604.5,1064.9 605.5,1065.7 606.5,1066.4 607.5,1067.1 608.5,1067.9 609.5,1068.6 610.5,1069.3 611.5,1070.0 612.5,1070.7 613.5,1071.5 614.5,1072.2 615.5,1072.9 616.5,1073.6 617.5,1074.3 618.5,1074.9 619.5,1075.6 620.5,1076.3 621.5,1077.0 622.5,1077.7 623.5,1078.3 624.5,1079.0 625.5,1079.7 626.5,1080.3 627.5,1081.0 628.5,1081.6 629.5,1082.3 630.5,1082.9 631.5,1083.6 632.5,1084.2 633.5,1084.8 634.5,1085.5 635.5,1086.1 636.5,1086.7 637.5,1087.3 638.5,1088.0 639.5,1088.6 640.5,1089.2 641.5,1089.8 642.5,1090.4 643.5,1091.0 644.5,1091.6 645.5,1092.1 646.5,1092.7 647.5,1093.3 648.5,1093.9 649.5,1094.4 650.5,1095.0 651.5,1095.6 652.5,1096.1 653.5,1096.7 654.5,1097.2 655.5,1097.8 656.5,1098.3 657.5,1098.9 658.5,1099.4 659.5,1099.9 660.5,1100.5 661.5,1101.0 662.5,1101.5 663.5,1102.0 664.5,1102.5 665.5,1103.0 666.5,1103.5 667.5,1104.0 668.5,1104.5 669.5,1105.0 670.5,1105.5 671.5,1106.0 672.5,1106.5 673.5,1106.9 674.5,1107.4 675.5,1107.9 676.5,1108.3 677.5,1108.8 678.5,1109.3 679.5,1109.7 680.5,1110.2 681.5,1110.6 682.5,1111.0 683.5,1111.5 684.5,1111.9 685.5,1112.3 686.5,1112.8 687.5,1113.2 688.5,1113.6 689.5,1114.0 690.5,1114.4 691.5,1114.8 692.5,1115.2 693.5,1115.6 694.5,1116.0 695.5,1116.4 696.5,1116.8 697.5,1117.2 698.5,1117.6 699.5,1117.9 700.5,1118.3 701.5,1118.7 702.5,1119.0 703.5,1119.4 704.5,1119.8 705.5,1120.1 706.5,1120.5 707.5,1120.8 708.5,1121.2 709.5,1121.5 710.5,1121.8 711.5,1122.2 712.5,1122.5 713.5,1122.8 714.5,1123.2 715.5,1123.5 716.5,1123.8 717.5,1124.1 718.5,1124.4 719.5,1124.7 720.5,1125.0 721.5,1125.3 722.5,1125.6 723.5,1125.9 724.5,1126.2 725.5,1126.5 726.5,1126.8 727.5,1127.1 728.5,1127.4 729.5,1127.6 730.5,1127.9 731.5,1128.2 732.5,1128.5 733.5,1128.7 734.5,1129.0 735.5,1129.2 736.5,1129.5 737.5,1129.7 738.5,1130.0 739.5,1130.2 740.5,1130.5 741.5,1130.7 742.5,1131.0 743.5,1131.2 744.5,1131.4 745.5,1131.7 746.5,1131.9 747.5,1132.1 748.5,1132.3 749.5,1132.6 750.5,1132.8 751.5,1133.0 752.5,1133.2 753.5,1133.4 754.5,1133.6 755.5,1133.8 756.5,1134.0 757.5,1134.2 758.5,1134.4 759.5,1134.6 760.5,1134.8 761.5,1135.0 762.5,1135.2 763.5,1135.4 764.5,1135.6 765.5,1135.7 766.5,1135.9 767.5,1136.1 768.5,1136.3 769.5,1136.4 770.5,1136.6 771.5,1136.8 772.5,1136.9 773.5,1137.1 774.5,1137.3 775.5,1137.4 776.5,1137.6 777.5,1137.7 778.5,1137.9 779.5,1138.0 780.5,1138.2 781.5,1138.3 782.5,1138.5 783.5,1138.6 784.5,1138.8 785.5,1138.9 786.5,1139.0 787.5,1139.2 788.5,1139.3 789.5,1139.4 790.5,1139.6 791.5,1139.7 792.5,1139.8 793.5,1140.0 794.5,1140.1 795.5,1140.2 796.5,1140.3 797.5,1140.4 798.5,1140.5 799.5,1140.7 800.5,1140.8 801.5,1140.9 802.5,1141.0 803.5,1141.1 804.5,1141.2 805.5,1141.3 806.5,1141.4 807.5,1141.5 808.5,1141.6 809.5,1141.7 810.5,1141.8 811.5,1141.9 812.5,1142.0 813.5,1142.1 814.5,1142.2 815.5,1142.3 816.5,1142.4 817.5,1142.5 818.5,1142.5 819.5,1142.6 820.5,1142.7 821.5,1142.8 822.5,1142.9 823.5,1143.0 824.5,1143.0 825.5,1143.1 826.5,1143.2 827.5,1143.3 828.5,1143.3 829.5,1143.4 830.5,1143.5 831.5,1143.6 832.5,1143.6 833.5,1143.7 834.5,1143.8 835.5,1143.8 836.5,1143.9 837.5,1144.0 838.5,1144.0 839.5,1144.1 840.5,1144.2 841.5,1144.2 842.5,1144.3 843.5,1144.3 844.5,1144.4 845.5,1144.4 846.5,1144.5 847.5,1144.6 848.5,1144.6 849.5,1144.7 850.5,1144.7 851.5,1144.8 852.5,1144.8 853.5,1144.9 854.5,1144.9 855.5,1145.0 856.5,1145.0 857.5,1145.1 858.5,1145.1 859.5,1145.1 860.5,1145.2 861.5,1145.2 862.5,1145.3 863.5,1145.3 864.5,1145.4 865.5,1145.4 866.5,1145.4 867.5,1145.5 868.5,1145.5 869.5,1145.6 870.5,1145.6 871.5,1145.6 872.5,1145.7 873.5,1145.7 874.5,1145.7 875.5,1145.8 876.5,1145.8 877.5,1145.8 878.5,1145.9 879.5,1145.9 880.5,1145.9 881.5,1146.0 882.5,1146.0 883.5,1146.0 884.5,1146.1 885.5,1146.1 886.5,1146.1 887.5,1146.1 888.5,1146.2 889.5,1146.2 890.5,1146.2 891.5,1146.2 892.5,1146.3 893.5,1146.3 894.5,1146.3 895.5,1146.3 896.5,1146.4 897.5,1146.4 898.5,1146.4 899.5,1146.4 900.5,1146.5 901.5,1146.5 902.5,1146.5 903.5,1146.5 904.5,1146.5 905.5,1146.6 906.5,1146.6 907.5,1146.6 908.5,1146.6 909.5,1146.6 910.5,1146.7 911.5,1146.7 912.5,1146.7 913.5,1146.7 914.5,1146.7" fill="none" stroke="#00ff00" stroke-width="2.6"/>
 <polyline points="79.5,1147.5 80.5,1147.5 81.5,1147.5 82.5,1147.5 83.5,1147.5 84.5,1147.5 85.5,1147.5 86.5,1147.5 87.5,1147.5 88.5,1147.5 89.5,1147.5 90.5,1147.5 91.5,1147.5 92.5,1147.5 93.5,1147.5 94.5,1147.5 95.5,1147.5 96.5,1147.5 97.5,1147.5 98.5,1147.5 99.5,1147.5 100.5,1147.5 101.5,1147.5 102.5,1147.5 103.5,1147.5 104.5,1147.5 105.5,1147.5 106.5,1147.5 107.5,1147.5 108.5,1147.5 109.5,1147.5 110.5,1147.5 111.5,1147.5 112.5,1147.5 113.5,1147.5 114.5,1147.5 115.5,1147.5 116.5,1147.5 117.5,1147.5 118.5,1147.4 119.5,1147.4 120.5,1147.4 121.5,1147.4 122.5,1147.4 123.5,1147.4 124.5,1147.4 125.5,1147.4 126.5,1147.4 127.5,1147.4 128.5,1147.4 129.5,1147.4 130.5,1147.4 131.5,1147.4 132.5,1147.4 133.5,1147.4 134.5,1147.4 135.5,1147.4 136.5,1147.4 137.5,1147.4 138.5,1147.4 139.5,1147.4 140.5,1147.4 141.5,1147.4 142.5,1147.4 143.5,1147.4 144.5,1147.4 145.5,1147.4 146.5,1147.4 147.5,1147.4 148.5,1147.4 149.5,1147.4 150.5,1147.4 151.5,1147.4 152.5,1147.4 153.5,1147.4 154.5,1147.4 155.5,1147.4 156.5,1147.3 157.5,1147.3 158.5,1147.3 159.5,1147.3 160.5,1147.3 161.5,1147.3 162.5,1147.3 163.5,1147.3 164.5,1147.3 165.5,1147.3 166.5,1147.3 167.5,1147.3 168.5,1147.3 169.5,1147.3 170.5,1147.3 171.5,1147.3 172.5,1147.3 173.5,1147.3 174.5,1147.2 175.5,1147.2 176.5,1147.2 177.5,1147.2 178.5,1147.2 179.5,1147.2 180.5,1147.2 181.5,1147.2 182.5,1147.2 183.5,1147.2 184.5,1147.2 185.5,1147.2 186.5,1147.2 187.5,1147.1 188.5,1147.1 189.5,1147.1 190.5,1147.1 191.5,1147.1 192.5,1147.1 193.5,1147.1 194.5,1147.1 195.5,1147.1 196.5,1147.1 197.5,1147.0 198.5,1147.0 199.5,1147.0 200.5,1147.0 201.5,1147.0 202.5,1147.0 203.5,1147.0 204.5,1147.0 205.5,1146.9 206.5,1146.9 207.5,1146.9 208.5,1146.9 209.5,1146.9 210.5,1146.9 211.5,1146.8 212.5,1146.8 213.5,1146.8 214.5,1146.8 215.5,1146.8 216.5,1146.8 217.5,1146.7 218.5,1146.7 219.5,1146.7 220.5,1146.7 221.5,1146.7 222.5,1146.7 223.5,1146.6 224.5,1146.6 225.5,1146.6 226.5,1146.6 227.5,1146.5 228.5,1146.5 229.5,1146.5 230.5,1146.5 231.5,1146.4 232.5,1146.4 233.5,1146.4 234.5,1146.4 235.5,1146.3 236.5,1146.3 237.5,1146.3 238.5,1146.3 239.5,1146.2 240.5,1146.2 241.5,1146.2 242.5,1146.1 243.5,1146.1 244.5,1146.1 245.5,1146.1 246.5,1146.0 247.5,1146.0 248.5,1146.0 249.5,1145.9 250.5,1145.9 251.5,1145.8 252.5,1145.8 253.5,1145.8 254.5,1145.7 255.5,1145.7 256.5,1145.7 257.5,1145.6 258.5,1145.6 259.5,1145.5 260.5,1145.5 261.5,1145.4 262.5,1145.4 263.5,1145.3 264.5,1145.3 265.5,1145.3 266.5,1145.2 267.5,1145.2 268.5,1145.1 269.5,1145.1 270.5,1145.0 271.5,1145.0 272.5,1144.9 273.5,1144.8 274.5,1144.8 275.5,1144.7 276.5,1144.7 277.5,1144.6 278.5,1144.6 279.5,1144.5 280.5,1144.4 281.5,1144.4 282.5,1144.3 283.5,1144.2 284.5,1144.2 285.5,1144.1 286.5,1144.0 287.5,1144.0 288.5,1143.9 289.5,1143.8 290.5,1143.8 291.5,1143.7 292.5,1143.6 293.5,1143.5 294.5,1143.5 295.5,1143.4 296.5,1143.3 297.5,1143.2 298.5,1143.1 299.5,1143.0 300.5,1143.0 301.5,1142.9 302.5,1142.8 303.5,1142.7 304.5,1142.6 305.5,1142.5 306.5,1142.4 307.5,1142.3 308.5,1142.2 309.5,1142.1 310.5,1142.0 311.5,1141.9 312.5,1141.8 313.5,1141.7 314.5,1141.6 315.5,1141.5 316.5,1141.4 317.5,1141.3 318.5,1141.2 319.5,1141.0 320.5,1140.9 321.5,1140.8 322.5,1140.7 323.5,1140.6 324.5,1140.5 325.5,1140.3 326.5,1140.2 327.5,1140.1 328.5,1139.9 329.5,1139.8 330.5,1139.7 331.5,1139.5 332.5,1139.4 333.5,1139.3 334.5,1139.1 335.5,1139.0 336.5,1138.8 337.5,1138.7 338.5,1138.5 339.5,1138.4 340.5,1138.2 341.5,1138.1 342.5,1137.9 343.5,1137.8 344.5,1137.6 345.5,1137.4 346.5,1137.3 347.5,1137.1 348.5,1136.9 349.5,1136.8 350.5,1136.6 351.5,1136.4 352.5,1136.3 353.5,1136.1 354.5,1135.9 355.5,1135.7 356.5,1135.5 357.5,1135.3 358.5,1135.1 359.5,1135.0 360.5,1134.8 361.5,1134.6 362.5,1134.4 363.5,1134.2 364.5,1134.0 365.5,1133.8 366.5,1133.6 367.5,1133.3 368.5,1133.1 369.5,1132.9 370.5,1132.7 371.5,1132.5 372.5,1132.3 373.5,1132.0 374.5,1131.8 375.5,1131.6 376.5,1131.4 377.5,1131.1 378.5,1130.9 379.5,1130.7 380.5,1130.4 381.5,1130.2 382.5,1129.9 383.5,1129.7 384.5,1129.4 385.5,1129.2 386.5,1128.9 387.5,1128.7 388.5,1128.4 389.5,1128.2 390.5,1127.9 391.5,1127.6 392.5,1127.4 393.5,1127.1 394.5,1126.8 395.5,1126.6 396.5,1126.3 397.5,1126.0 398.5,1125.7 399.5,1125.4 400.5,1125.2 401.5,1124.9 402.5,1124.6 403.5,1124.3 404.5,1124.0 405.5,1123.7 406.5,1123.4 407.5,1123.1 408.5,1122.8 409.5,1122.5 410.5,1122.2 411.5,1121.9 412.5,1121.6 413.5,1121.3 414.5,1120.9 415.5,1120.6 416.5,1120.3 417.5,1120.0 418.5,1119.7 419.5,1119.3 420.5,1119.0 421.5,1118.7 422.5,1118.3 423.5,1118.0 424.5,1117.7 425.5,1117.3 426.5,1117.0 427.5,1116.6 428.5,1116.3 429.5,1116.0 430.5,1115.6 431.5,1115.3 432.5,1114.9 433.5,1114.6 434.5,1114.2 435.5,1113.8 436.5,1113.5 437.5,1113.1 438.5,1112.8 439.5,1112.4 440.5,1112.0 441.5,1111.7 442.5,1111.3 443.5,1110.9 444.5,1110.6 445.5,1110.2 446.5,1109.8 447.5,1109.4 448.5,1109.1 449.5,1108.7 450.5,1108.3 451.5,1107.9 452.5,1107.6 453.5,1107.2 454.5,1106.8 455.5,1106.4 456.5,1106.0 457.5,1105.6 458.5,1105.3 459.5,1104.9 460.5,1104.5 461.5,1104.1 462.5,1103.7 463.5,1103.3 464.5,1102.9 465.5,1102.5 466.5,1102.1 467.5,1101.7 468.5,1101.3 469.5,1100.9 470.5,1100.5 471.5,1100.2 472.5,1099.8 473.5,1099.4 474.5,1099.0 475.5,1098.6 476.5,1098.2 477.5,1097.8 478.5,1097.4 479.5,1097.0 480.5,1096.6 481.5,1096.2 482.5,1095.8 483.5,1095.4 484.5,1095.0 485.5,1094.6 486.5,1094.2 487.5,1093.8 488.5,1093.4 489.5,1093.0 490.5,1092.6 491.5,1092.2 492.5,1091.8 493.5,1091.5 494.5,1091.1 495.5,1090.7 496.5,1090.3 497.5,1089.9 498.5,1089.5 499.5,1089.1 500.5,1088.7 501.5,1088.4 502.5,1088.0 503.5,1087.6 504.5,1087.2 505.5,1086.8 506.5,1086.5 507.5,1086.1 508.5,1085.7 509.5,1085.3 510.5,1085.0 511.5,1084.6 512.5,1084.2 513.5,1083.9 514.5,1083.5 515.5,1083.1 516.5,1082.8 517.5,1082.4 518.5,1082.1 519.5,1081.7 520.5,1081.4 521.5,1081.0 522.5,1080.7 523.5,1080.3 524.5,1080.0 525.5,1079.6 526.5,1079.3 527.5,1079.0 528.5,1078.6 529.5,1078.3 530.5,1078.0 531.5,1077.7 532.5,1077.3 533.5,1077.0 534.5,1076.7 535.5,1076.4 536.5,1076.1 537.5,1075.8 538.5,1075.5 539.5,1075.2 540.5,1074.9 541.5,1074.6 542.5,1074.3 543.5,1074.0 544.5,1073.8 545.5,1073.5 546.5,1073.2 547.5,1072.9 548.5,1072.7 549.5,1072.4 550.5,1072.1 551.5,1071.9 552.5,1071.6 553.5,1071.4 554.5,1071.1 555.5,1070.9 556.5,1070.7 557.5,1070.4 558.5,1070.2 559.5,1070.0 560.5,1069.8 561.5,1069.6 562.5,1069.3 563.5,1069.1 564.5,1068.9 565.5,1068.7 566.5,1068.5 567.5,1068.4 568.5,1068.2 569.5,1068.0 570.5,1067.8 571.5,1067.7 572.5,1067.5 573.5,1067.3 574.5,1067.2 575.5,1067.0 576.5,1066.9 577.5,1066.7 578.5,1066.6 579.5,1066.5 580.5,1066.3 581.5,1066.2 582.5,1066.1 583.5,1066.0 584.5,1065.9 585.5,1065.8 586.5,1065.7 587.5,1065.6 588.5,1065.5 589.5,1065.4 590.5,1065.3 591.5,1065.3 592.5,1065.2 593.5,1065.1 594.5,1065.1 595.5,1065.0 596.5,1065.0 597.5,1064.9 598.5,1064.9 599.5,1064.9 600.5,1064.9 601.5,1064.8 602.5,1064.8 603.5,1064.8 604.5,1064.8 605.5,1064.8 606.5,1064.8 607.5,1064.8 608.5,1064.8 609.5,1064.9 610.5,1064.9 611.5,1064.9 612.5,1064.9 613.5,1065.0 614.5,1065.0 615.5,1065.1 616.5,1065.1 617.5,1065.2 618.5,1065.3 619.5,1065.3 620.5,1065.4 621.5,1065.5 622.5,1065.6 623.5,1065.7 624.5,1065.8 625.5,1065.9 626.5,1066.0 627.5,1066.1 628.5,1066.2 629.5,1066.3 630.5,1066.5 631.5,1066.6 632.5,1066.7 633.5,1066.9 634.5,1067.0 635.5,1067.2 636.5,1067.3 637.5,1067.5 638.5,1067.7 639.5,1067.8 640.5,1068.0 641.5,1068.2 642.5,1068.4 643.5,1068.5 644.5,1068.7 645.5,1068.9 646.5,1069.1 647.5,1069.3 648.5,1069.6 649.5,1069.8 650.5,1070.0 651.5,1070.2 652.5,1070.4 653.5,1070.7 654.5,1070.9 655.5,1071.1 656.5,1071.4 657.5,1071.6 658.5,1071.9 659.5,1072.1 660.5,1072.4 661.5,1072.7 662.5,1072.9 663.5,1073.2 664.5,1073.5 665.5,1073.8 666.5,1074.0 667.5,1074.3 668.5,1074.6 669.5,1074.9 670.5,1075.2 671.5,1075.5 672.5,1075.8 673.5,1076.1 674.5,1076.4 675.5,1076.7 676.5,1077.0 677.5,1077.3 678.5,1077.7 679.5,1078.0 680.5,1078.3 681.5,1078.6 682.5,1079.0 683.5,1079.3 684.5,1079.6 685.5,1080.0 686.5,1080.3 687.5,1080.7 688.5,1081.0 689.5,1081.4 690.5,1081.7 691.5,1082.1 692.5,1082.4 693.5,1082.8 694.5,1083.1 695.5,1083.5 696.5,1083.9 697.5,1084.2 698.5,1084.6 699.5,1085.0 700.5,1085.3 701.5,1085.7 702.5,1086.1 703.5,1086.5 704.5,1086.8 705.5,1087.2 706.5,1087.6 707.5,1088.0 708.5,1088.4 709.5,1088.7 710.5,1089.1 711.5,1089.5 712.5,1089.9 713.5,1090.3 714.5,1090.7 715.5,1091.1 716.5,1091.5 717.5,1091.8 718.5,1092.2 719.5,1092.6 720.5,1093.0 721.5,1093.4 722.5,1093.8 723.5,1094.2 724.5,1094.6 725.5,1095.0 726.5,1095.4 727.5,1095.8 728.5,1096.2 729.5,1096.6 730.5,1097.0 731.5,1097.4 732.5,1097.8 733.5,1098.2 734.5,1098.6 735.5,1099.0 736.5,1099.4 737.5,1099.8 738.5,1100.2 739.5,1100.5 740.5,1100.9 741.5,1101.3 742.5,1101.7 743.5,1102.1 744.5,1102.5 745.5,1102.9 746.5,1103.3 747.5,1103.7 748.5,1104.1 749.5,1104.5 750.5,1104.9 751.5,1105.3 752.5,1105.6 753.5,1106.0 754.5,1106.4 755.5,1106.8 756.5,1107.2 757.5,1107.6 758.5,1107.9 759.5,1108.3 760.5,1108.7 761.5,1109.1 762.5,1109.4 763.5,1109.8 764.5,1110.2 765.5,1110.6 766.5,1110.9 767.5,1111.3 768.5,1111.7 769.5,1112.0 770.5,1112.4 771.5,1112.8 772.5,1113.1 773.5,1113.5 774.5,1113.8 775.5,1114.2 776.5,1114.6 777.5,1114.9 778.5,1115.3 779.5,1115.6 780.5,1116.0 781.5,1116.3 782.5,1116.6 783.5,1117.0 784.5,1117.3 785.5,1117.7 786.5,1118.0 787.5,1118.3 788.5,1118.7 789.5,1119.0 790.5,1119.3 791.5,1119.7 792.5,1120.0 793.5,1120.3 794.5,1120.6 795.5,1120.9 796.5,1121.3 797.5,1121.6 798.5,1121.9 799.5,1122.2 800.5,1122.5 801.5,1122.8 802.5,1123.1 803.5,1123.4 804.5,1123.7 805.5,1124.0 806.5,1124.3 807.5,1124.6 808.5,1124.9 809.5,1125.2 810.5,1125.4 811.5,1125.7 812.5,1126.0 813.5,1126.3 814.5,1126.6 815.5,1126.8 816.5,1127.1 817.5,1127.4 818.5,1127.6 819.5,1127.9 820.5,1128.2 821.5,1128.4 822.5,1128.7 823.5,1128.9 824.5,1129.2 825.5,1129.4 826.5,1129.7 827.5,1129.9 828.5,1130.2 829.5,1130.4 830.5,1130.7 831.5,1130.9 832.5,1131.1 833.5,1131.4 834.5,1131.6 835.5,1131.8 836.5,1132.0 837.5,1132.3 838.5,1132.5 839.5,1132.7 840.5,1132.9 841.5,1133.1 842.5,1133.3 843.5,1133.6 844.5,1133.8 845.5,1134.0 846.5,1134.2 847.5,1134.4 848.5,1134.6 849.5,1134.8 850.5,1135.0 851.5,1135.1 852.5,1135.3 853.5,1135.5 854.5,1135.7 855.5,1135.9 856.5,1136.1 857.5,1136.3 858.5,1136.4 859.5,1136.6 860.5,1136.8 861.5,1136.9 862.5,1137.1 863.5,1137.3 864.5,1137.4 865.5,1137.6 866.5,1137.8 867.5,1137.9 868.5,1138.1 869.5,1138.2 870.5,1138.4 871.5,1138.5 872.5,1138.7 873.5,1138.8 874.5,1139.0 875.5,1139.1 876.5,1139.3 877.5,1139.4 878.5,1139.5 879.5,1139.7 880.5,1139.8 881.5,1139.9 882.5,1140.1 883.5,1140.2 884.5,1140.3 885.5,1140.5 886.5,1140.6 887.5,1140.7 888.5,1140.8 889.5,1140.9 890.5,1141.0 891.5,1141.2 892.5,1141.3 893.5,1141.4 894.5,1141.5 895.5,1141.6 896.5,1141.7 897.5,1141.8 898.5,1141.9 899.5,1142.0 900.5,1142.1 901.5,1142.2 902.5,1142.3 903.5,1142.4 904.5,1142.5 905.5,1142.6 906.5,1142.7 907.5,1142.8 908.5,1142.9 909.5,1143.0 910.5,1143.0 911.5,1143.1 912.5,1143.2 913.5,1143.3 914.5,1143.4" fill="none" stroke="#000" stroke-width="2.2"/>
 <polyline points="79.5,1107.4 80.5,1106.9 81.5,1106.4 82.5,1106.0 83.5,1105.5 84.5,1105.0 85.5,1104.5 86.5,1104.0 87.5,1103.5 88.5,1103.0 89.5,1102.5 90.5,1102.0 91.5,1101.5 92.5,1101.0 93.5,1100.4 94.5,1099.9 95.5,1099.4 96.5,1098.8 97.5,1098.3 98.5,1097.8 99.5,1097.2 100.5,1096.7 101.5,1096.1 102.5,1095.5 103.5,1095.0 104.5,1094.4 105.5,1093.8 106.5,1093.3 107.5,1092.7 108.5,1092.1 109.5,1091.5 110.5,1090.9 111.5,1090.3 112.5,1089.7 113.5,1089.1 114.5,1088.5 115.5,1087.9 116.5,1087.3 117.5,1086.7 118.5,1086.1 119.5,1085.4 120.5,1084.8 121.5,1084.2 122.5,1083.5 123.5,1082.9 124.5,1082.2 125.5,1081.6 126.5,1080.9 127.5,1080.3 128.5,1079.6 129.5,1078.9 130.5,1078.3 131.5,1077.6 132.5,1076.9 133.5,1076.2 134.5,1075.5 135.5,1074.9 136.5,1074.2 137.5,1073.5 138.5,1072.8 139.5,1072.1 140.5,1071.4 141.5,1070.6 142.5,1069.9 143.5,1069.2 144.5,1068.5 145.5,1067.8 146.5,1067.0 147.5,1066.3 148.5,1065.6 149.5,1064.8 150.5,1064.1 151.5,1063.3 152.5,1062.6 153.5,1061.8 154.5,1061.1 155.5,1060.3 156.5,1059.5 157.5,1058.8 158.5,1058.0 159.5,1057.2 160.5,1056.5 161.5,1055.7 162.5,1054.9 163.5,1054.1 164.5,1053.3 165.5,1052.5 166.5,1051.7 167.5,1050.9 168.5,1050.1 169.5,1049.3 170.5,1048.5 171.5,1047.7 172.5,1046.9 173.5,1046.1 174.5,1045.3 175.5,1044.5 176.5,1043.6 177.5,1042.8 178.5,1042.0 179.5,1041.2 180.5,1040.3 181.5,1039.5 182.5,1038.6 183.5,1037.8 184.5,1037.0 185.5,1036.1 186.5,1035.3 187.5,1034.4 188.5,1033.6 189.5,1032.7 190.5,1031.9 191.5,1031.0 192.5,1030.2 193.5,1029.3 194.5,1028.4 195.5,1027.6 196.5,1026.7 197.5,1025.8 198.5,1025.0 199.5,1024.1 200.5,1023.2 201.5,1022.4 202.5,1021.5 203.5,1020.6 204.5,1019.7 205.5,1018.9 206.5,1018.0 207.5,1017.1 208.5,1016.2 209.5,1015.3 210.5,1014.5 211.5,1013.6 212.5,1012.7 213.5,1011.8 214.5,1010.9 215.5,1010.0 216.5,1009.2 217.5,1008.3 218.5,1007.4 219.5,1006.5 220.5,1005.6 221.5,1004.7 222.5,1003.8 223.5,1003.0 224.5,1002.1 225.5,1001.2 226.5,1000.3 227.5,999.4 228.5,998.5 229.5,997.6 230.5,996.7 231.5,995.9 232.5,995.0 233.5,994.1 234.5,993.2 235.5,992.3 236.5,991.4 237.5,990.6 238.5,989.7 239.5,988.8 240.5,987.9 241.5,987.0 242.5,986.2 243.5,985.3 244.5,984.4 245.5,983.5 246.5,982.7 247.5,981.8 248.5,980.9 249.5,980.1 250.5,979.2 251.5,978.3 252.5,977.5 253.5,976.6 254.5,975.7 255.5,974.9 256.5,974.0 257.5,973.2 258.5,972.3 259.5,971.5 260.5,970.6 261.5,969.8 262.5,969.0 263.5,968.1 264.5,967.3 265.5,966.4 266.5,965.6 267.5,964.8 268.5,964.0 269.5,963.1 270.5,962.3 271.5,961.5 272.5,960.7 273.5,959.9 274.5,959.1 275.5,958.3 276.5,957.5 277.5,956.7 278.5,955.9 279.5,955.1 280.5,954.3 281.5,953.5 282.5,952.8 283.5,952.0 284.5,951.2 285.5,950.4 286.5,949.7 287.5,948.9 288.5,948.2 289.5,947.4 290.5,946.7 291.5,945.9 292.5,945.2 293.5,944.5 294.5,943.7 295.5,943.0 296.5,942.3 297.5,941.6 298.5,940.9 299.5,940.2 300.5,939.5 301.5,938.8 302.5,938.1 303.5,937.4 304.5,936.7 305.5,936.0 306.5,935.4 307.5,934.7 308.5,934.0 309.5,933.4 310.5,932.7 311.5,932.1 312.5,931.4 313.5,930.8 314.5,930.2 315.5,929.6 316.5,928.9 317.5,928.3 318.5,927.7 319.5,927.1 320.5,926.5 321.5,925.9 322.5,925.3 323.5,924.8 324.5,924.2 325.5,923.6 326.5,923.1 327.5,922.5 328.5,922.0 329.5,921.4 330.5,920.9 331.5,920.3 332.5,919.8 333.5,919.3 334.5,918.8 335.5,918.3 336.5,917.8 337.5,917.3 338.5,916.8 339.5,916.3 340.5,915.8 341.5,915.4 342.5,914.9 343.5,914.5 344.5,914.0 345.5,913.6 346.5,913.1 347.5,912.7 348.5,912.3 349.5,911.8 350.5,911.4 351.5,911.0 352.5,910.6 353.5,910.2 354.5,909.9 355.5,909.5 356.5,909.1 357.5,908.7 358.5,908.4 359.5,908.0 360.5,907.7 361.5,907.3 362.5,907.0 363.5,906.7 364.5,906.4 365.5,906.1 366.5,905.7 367.5,905.5 368.5,905.2 369.5,904.9 370.5,904.6 371.5,904.3 372.5,904.1 373.5,903.8 374.5,903.5 375.5,903.3 376.5,903.1 377.5,902.8 378.5,902.6 379.5,902.4 380.5,902.2 381.5,902.0 382.5,901.8 383.5,901.6 384.5,901.4 385.5,901.2 386.5,901.0 387.5,900.9 388.5,900.7 389.5,900.6 390.5,900.4 391.5,900.3 392.5,900.1 393.5,900.0 394.5,899.9 395.5,899.8 396.5,899.7 397.5,899.6 398.5,899.5 399.5,899.4 400.5,899.3 401.5,899.2 402.5,899.2 403.5,899.1 404.5,899.1 405.5,899.0 406.5,899.0 407.5,898.9 408.5,898.9 409.5,898.9 410.5,898.9 411.5,898.9 412.5,898.9 413.5,898.9 414.5,898.9 415.5,898.9 416.5,898.9 417.5,898.9 418.5,899.0 419.5,899.0 420.5,899.0 421.5,899.1 422.5,899.1 423.5,899.2 424.5,899.3 425.5,899.3 426.5,899.4 427.5,899.5 428.5,899.6 429.5,899.7 430.5,899.8 431.5,899.9 432.5,900.0 433.5,900.1 434.5,900.3 435.5,900.4 436.5,900.5 437.5,900.7 438.5,900.8 439.5,901.0 440.5,901.1 441.5,901.3 442.5,901.5 443.5,901.6 444.5,901.8 445.5,902.0 446.5,902.2 447.5,902.4 448.5,902.6 449.5,902.8 450.5,903.0 451.5,903.2 452.5,903.5 453.5,903.7 454.5,903.9 455.5,904.2 456.5,904.4 457.5,904.6 458.5,904.9 459.5,905.1 460.5,905.4 461.5,905.7 462.5,905.9 463.5,906.2 464.5,906.5 465.5,906.8 466.5,907.1 467.5,907.4 468.5,907.7 469.5,908.0 470.5,908.3 471.5,908.6 472.5,908.9 473.5,909.2 474.5,909.6 475.5,909.9 476.5,910.2 477.5,910.6 478.5,910.9 479.5,911.3 480.5,911.6 481.5,912.0 482.5,912.3 483.5,912.7 484.5,913.1 485.5,913.5 486.5,913.8 487.5,914.2 488.5,914.6 489.5,915.0 490.5,915.4 491.5,915.8 492.5,916.2 493.5,916.6 494.5,917.0 495.5,917.4 496.5,917.9 497.5,918.3 498.5,918.7 499.5,919.1 500.5,919.6 501.5,920.0 502.5,920.5 503.5,920.9 504.5,921.3 505.5,921.8 506.5,922.3 507.5,922.7 508.5,923.2 509.5,923.7 510.5,924.1 511.5,924.6 512.5,925.1 513.5,925.6 514.5,926.1 515.5,926.5 516.5,927.0 517.5,927.5 518.5,928.0 519.5,928.5 520.5,929.0 521.5,929.6 522.5,930.1 523.5,930.6 524.5,931.1 525.5,931.6 526.5,932.2 527.5,932.7 528.5,933.2 529.5,933.8 530.5,934.3 531.5,934.9 532.5,935.4 533.5,936.0 534.5,936.5 535.5,937.1 536.5,937.6 537.5,938.2 538.5,938.8 539.5,939.3 540.5,939.9 541.5,940.5 542.5,941.1 543.5,941.6 544.5,942.2 545.5,942.8 546.5,943.4 547.5,944.0 548.5,944.6 549.5,945.2 550.5,945.8 551.5,946.4 552.5,947.0 553.5,947.6 554.5,948.2 555.5,948.9 556.5,949.5 557.5,950.1 558.5,950.7 559.5,951.4 560.5,952.0 561.5,952.6 562.5,953.3 563.5,953.9 564.5,954.5 565.5,955.2 566.5,955.8 567.5,956.5 568.5,957.1 569.5,957.8 570.5,958.4 571.5,959.1 572.5,959.8 573.5,960.4 574.5,961.1 575.5,961.8 576.5,962.5 577.5,963.1 578.5,963.8 579.5,964.5 580.5,965.2 581.5,965.9 582.5,966.5 583.5,967.2 584.5,967.9 585.5,968.6 586.5,969.3 587.5,970.0 588.5,970.7 589.5,971.4 590.5,972.1 591.5,972.8 592.5,973.6 593.5,974.3 594.5,975.0 595.5,975.7 596.5,976.4 597.5,977.1 598.5,977.9 599.5,978.6 600.5,979.3 601.5,980.0 602.5,980.8 603.5,981.5 604.5,982.2 605.5,983.0 606.5,983.7 607.5,984.5 608.5,985.2 609.5,985.9 610.5,986.7 611.5,987.4 612.5,988.2 613.5,988.9 614.5,989.7 615.5,990.4 616.5,991.2 617.5,992.0 618.5,992.7 619.5,993.5 620.5,994.2 621.5,995.0 622.5,995.8 623.5,996.5 624.5,997.3 625.5,998.1 626.5,998.8 627.5,999.6 628.5,1000.4 629.5,1001.1 630.5,1001.9 631.5,1002.7 632.5,1003.4 633.5,1004.2 634.5,1005.0 635.5,1005.8 636.5,1006.6 637.5,1007.3 638.5,1008.1 639.5,1008.9 640.5,1009.7 641.5,1010.5 642.5,1011.2 643.5,1012.0 644.5,1012.8 645.5,1013.6 646.5,1014.4 647.5,1015.2 648.5,1015.9 649.5,1016.7 650.5,1017.5 651.5,1018.3 652.5,1019.1 653.5,1019.9 654.5,1020.6 655.5,1021.4 656.5,1022.2 657.5,1023.0 658.5,1023.8 659.5,1024.6 660.5,1025.4 661.5,1026.1 662.5,1026.9 663.5,1027.7 664.5,1028.5 665.5,1029.3 666.5,1030.1 667.5,1030.8 668.5,1031.6 669.5,1032.4 670.5,1033.2 671.5,1034.0 672.5,1034.8 673.5,1035.5 674.5,1036.3 675.5,1037.1 676.5,1037.9 677.5,1038.6 678.5,1039.4 679.5,1040.2 680.5,1041.0 681.5,1041.7 682.5,1042.5 683.5,1043.3 684.5,1044.0 685.5,1044.8 686.5,1045.6 687.5,1046.3 688.5,1047.1 689.5,1047.9 690.5,1048.6 691.5,1049.4 692.5,1050.1 693.5,1050.9 694.5,1051.7 695.5,1052.4 696.5,1053.2 697.5,1053.9 698.5,1054.7 699.5,1055.4 700.5,1056.1 701.5,1056.9 702.5,1057.6 703.5,1058.4 704.5,1059.1 705.5,1059.8 706.5,1060.6 707.5,1061.3 708.5,1062.0 709.5,1062.7 710.5,1063.5 711.5,1064.2 712.5,1064.9 713.5,1065.6 714.5,1066.3 715.5,1067.0 716.5,1067.8 717.5,1068.5 718.5,1069.2 719.5,1069.9 720.5,1070.6 721.5,1071.3 722.5,1072.0 723.5,1072.6 724.5,1073.3 725.5,1074.0 726.5,1074.7 727.5,1075.4 728.5,1076.1 729.5,1076.7 730.5,1077.4 731.5,1078.1 732.5,1078.7 733.5,1079.4 734.5,1080.1 735.5,1080.7 736.5,1081.4 737.5,1082.0 738.5,1082.7 739.5,1083.3 740.5,1083.9 741.5,1084.6 742.5,1085.2 743.5,1085.8 744.5,1086.5 745.5,1087.1 746.5,1087.7 747.5,1088.3 748.5,1088.9 749.5,1089.5 750.5,1090.1 751.5,1090.8 752.5,1091.4 753.5,1091.9 754.5,1092.5 755.5,1093.1 756.5,1093.7 757.5,1094.3 758.5,1094.9 759.5,1095.4 760.5,1096.0 761.5,1096.6 762.5,1097.1 763.5,1097.7 764.5,1098.3 765.5,1098.8 766.5,1099.4 767.5,1099.9 768.5,1100.4 769.5,1101.0 770.5,1101.5 771.5,1102.1 772.5,1102.6 773.5,1103.1 774.5,1103.6 775.5,1104.1 776.5,1104.6 777.5,1105.2 778.5,1105.7 779.5,1106.2 780.5,1106.7 781.5,1107.1 782.5,1107.6 783.5,1108.1 784.5,1108.6 785.5,1109.1 786.5,1109.5 787.5,1110.0 788.5,1110.5 789.5,1110.9 790.5,1111.4 791.5,1111.9 792.5,1112.3 793.5,1112.8 794.5,1113.2 795.5,1113.6 796.5,1114.1 797.5,1114.5 798.5,1114.9 799.5,1115.4 800.5,1115.8 801.5,1116.2 802.5,1116.6 803.5,1117.0 804.5,1117.4 805.5,1117.8 806.5,1118.2 807.5,1118.6 808.5,1119.0 809.5,1119.4 810.5,1119.8 811.5,1120.1 812.5,1120.5 813.5,1120.9 814.5,1121.3 815.5,1121.6 816.5,1122.0 817.5,1122.3 818.5,1122.7 819.5,1123.0 820.5,1123.4 821.5,1123.7 822.5,1124.1 823.5,1124.4 824.5,1124.7 825.5,1125.1 826.5,1125.4 827.5,1125.7 828.5,1126.0 829.5,1126.3 830.5,1126.6 831.5,1127.0 832.5,1127.3 833.5,1127.6 834.5,1127.9 835.5,1128.2 836.5,1128.4 837.5,1128.7 838.5,1129.0 839.5,1129.3 840.5,1129.6 841.5,1129.8 842.5,1130.1 843.5,1130.4 844.5,1130.7 845.5,1130.9 846.5,1131.2 847.5,1131.4 848.5,1131.7 849.5,1131.9 850.5,1132.2 851.5,1132.4 852.5,1132.7 853.5,1132.9 854.5,1133.1 855.5,1133.4 856.5,1133.6 857.5,1133.8 858.5,1134.0 859.5,1134.3 860.5,1134.5 861.5,1134.7 862.5,1134.9 863.5,1135.1 864.5,1135.3 865.5,1135.5 866.5,1135.7 867.5,1135.9 868.5,1136.1 869.5,1136.3 870.5,1136.5 871.5,1136.7 872.5,1136.9 873.5,1137.0 874.5,1137.2 875.5,1137.4 876.5,1137.6 877.5,1137.7 878.5,1137.9 879.5,1138.1 880.5,1138.2 881.5,1138.4 882.5,1138.6 883.5,1138.7 884.5,1138.9 885.5,1139.0 886.5,1139.2 887.5,1139.3 888.5,1139.5 889.5,1139.6 890.5,1139.8 891.5,1139.9 892.5,1140.0 893.5,1140.2 894.5,1140.3 895.5,1140.4 896.5,1140.6 897.5,1140.7 898.5,1140.8 899.5,1141.0 900.5,1141.1 901.5,1141.2 902.5,1141.3 903.5,1141.4 904.5,1141.5 905.5,1141.7 906.5,1141.8 907.5,1141.9 908.5,1142.0 909.5,1142.1 910.5,1142.2 911.5,1142.3 912.5,1142.4 913.5,1142.5 914.5,1142.6" fill="none" stroke="#ff0000" stroke-width="2.8" stroke-dasharray="3 7.5"/>
 <text transform="translate(314.17 860.49) scale(1 0.9994)" font-size="30.55" fill="#000">Cr (III)</text>
 <text transform="translate(581.26 949.22) scale(1 0.9403)" font-size="30.77" fill="#000">Cr (III)</text>
 <line x1="375.7" y1="872.0" x2="375.7" y2="901.8" stroke="#000" stroke-width="1.3"/><polygon points="375.7,916.4 371.7,901.8 379.7,901.8" fill="#000"/>
 <line x1="623.9" y1="960.2" x2="623.9" y2="1053.4" stroke="#000" stroke-width="1.3"/><polygon points="623.9,1067.0 619.6,1053.4 628.2,1053.4" fill="#000"/>
 <text transform="translate(30.94 979.85) rotate(-90) scale(1 1.1051)" font-size="33.01" fill="#000">CPS</text>
 <text transform="translate(348.50 1320.36) scale(1 0.9937)" font-size="33.72" fill="#000">Binding energy (eV)</text>
 <line x1="44.5" y1="1352.4" x2="921" y2="1352.4" stroke="#000" stroke-width="4.2" stroke-linecap="round"/>

 <!-- panel c/d titles -->
 <text transform="translate(108.45 1407.47) scale(1 1.0212)" font-size="48.65" fill="#000">c) Pre-reaction</text>
 <text transform="translate(565.66 1407.58) scale(1 1.0334)" font-size="48.49" fill="#000">d) Post-reaction</text>
</g>

<rect x="392.8" y="1784.5" width="78.5" height="12.7" fill="#ff0000"/><rect x="343.3" y="1805.9" width="131.1" height="28.7" fill="#000"/><text transform="translate(352.9 1827.4) scale(1 1.3)" font-family="Liberation Mono, monospace" font-size="14.2" fill="#d4d4d4" textLength="34" lengthAdjust="spacingAndGlyphs">COMP</text><text transform="translate(415.9 1827.4) scale(1 1.3)" font-family="Liberation Mono, monospace" font-size="14.2" fill="#d4d4d4" textLength="42" lengthAdjust="spacingAndGlyphs">100&#956;m</text><rect x="441.4" y="1808.8" width="15.5" height="2.4" fill="#e0e0e0"/><rect x="869.6" y="1784.5" width="78.8" height="12.7" fill="#ff0000"/><rect x="821.4" y="1800.0" width="129.8" height="30.2" fill="#000"/><text transform="translate(831.2 1822.8) scale(1 1.3)" font-family="Liberation Mono, monospace" font-size="14.2" fill="#d4d4d4" textLength="34" lengthAdjust="spacingAndGlyphs">COMP</text><text transform="translate(893.2 1822.8) scale(1 1.3)" font-family="Liberation Mono, monospace" font-size="14.2" fill="#d4d4d4" textLength="42" lengthAdjust="spacingAndGlyphs">100&#956;m</text><rect x="918.5" y="1804.2" width="15.5" height="2.4" fill="#e0e0e0"/>
</svg>
</body></html>
